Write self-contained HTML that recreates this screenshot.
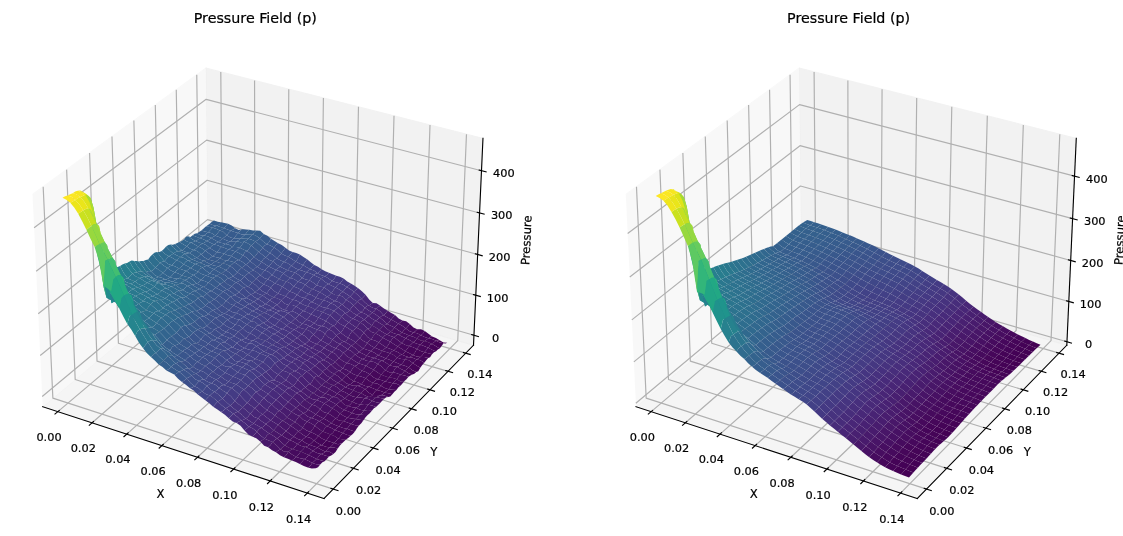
<!DOCTYPE html>
<html><head><meta charset="utf-8"><title>Pressure Field (p)</title>
<style>html,body{margin:0;padding:0;background:#fff}body{width:1123px;height:536px;overflow:hidden;position:relative}svg{display:block;position:absolute;left:0;top:0}</style></head>
<body>
<svg width="1123" height="536" viewBox="0 0 951.24 454.02"> <defs> <style type="text/css">*{stroke-linejoin: round; stroke-linecap: butt}text{font-family:"DejaVu Sans","Liberation Sans",sans-serif;text-anchor:middle;fill:#000;stroke:#000;stroke-width:0.18px;stroke-linejoin:round}.tk{font-size:9.6px}.lb{font-size:9.9px}.tt{font-size:12.1px}</style> </defs> <g id="figure_1"> <g id="patch_1"> <path d="M 0 454.02 L 951.24 454.02 L 951.24 0 L 0 0 z " style="fill: #ffffff"/> </g> <g id="pane3d_1"> <g id="patch_2"> <path d="M 36.16 344.48 L 176.26 227.05 L 174.32 57.68 L 27.51 164.82 " style="fill: #f2f2f2; opacity: 0.5; stroke: #f2f2f2; stroke-linejoin: miter"/> </g> </g> <g id="pane3d_2"> <g id="patch_3"> <path d="M 176.26 227.05 L 401.08 292.39 L 409.10 117.19 L 174.32 57.68 " style="fill: #e6e6e6; opacity: 0.5; stroke: #e6e6e6; stroke-linejoin: miter"/> </g> </g> <g id="pane3d_3"> <g id="patch_4"> <path d="M 36.16 344.48 L 274.47 422.31 L 401.08 292.39 L 176.26 227.05 " style="fill: #ececec; opacity: 0.5; stroke: #ececec; stroke-linejoin: miter"/> </g> </g> <g id="grid3d_1"> <g id="Line3DCollection_1"> <path d="M 49.03 348.68 L 188.45 230.59 L 187.02 60.90 " style="fill: none; stroke: #b0b0b0; stroke-width: 1"/> <path d="M 78.01 358.15 L 215.89 238.56 L 215.63 68.15 " style="fill: none; stroke: #b0b0b0; stroke-width: 1"/> <path d="M 107.39 367.74 L 243.66 246.64 L 244.60 75.50 " style="fill: none; stroke: #b0b0b0; stroke-width: 1"/> <path d="M 137.15 377.46 L 271.77 254.81 L 273.94 82.94 " style="fill: none; stroke: #b0b0b0; stroke-width: 1"/> <path d="M 167.31 387.31 L 300.23 263.08 L 303.65 90.47 " style="fill: none; stroke: #b0b0b0; stroke-width: 1"/> <path d="M 197.88 397.30 L 329.03 271.45 L 333.75 98.10 " style="fill: none; stroke: #b0b0b0; stroke-width: 1"/> <path d="M 228.86 407.42 L 358.20 279.93 L 364.24 105.82 " style="fill: none; stroke: #b0b0b0; stroke-width: 1"/> <path d="M 260.26 417.67 L 387.73 288.51 L 395.13 113.65 " style="fill: none; stroke: #b0b0b0; stroke-width: 1"/> </g> </g> <g id="grid3d_2"> <g id="Line3DCollection_2"> <path d="M 36.57 158.21 L 44.78 337.26 L 282.29 414.29 " style="fill: none; stroke: #b0b0b0; stroke-width: 1"/> <path d="M 56.44 143.70 L 63.69 321.41 L 299.44 396.69 " style="fill: none; stroke: #b0b0b0; stroke-width: 1"/> <path d="M 75.87 129.53 L 82.19 305.90 L 316.19 379.50 " style="fill: none; stroke: #b0b0b0; stroke-width: 1"/> <path d="M 94.85 115.68 L 100.29 290.73 L 332.56 362.70 " style="fill: none; stroke: #b0b0b0; stroke-width: 1"/> <path d="M 113.40 102.13 L 118.00 275.88 L 348.57 346.28 " style="fill: none; stroke: #b0b0b0; stroke-width: 1"/> <path d="M 131.55 88.89 L 135.34 261.35 L 364.21 330.22 " style="fill: none; stroke: #b0b0b0; stroke-width: 1"/> <path d="M 149.30 75.94 L 152.31 247.12 L 379.51 314.52 " style="fill: none; stroke: #b0b0b0; stroke-width: 1"/> <path d="M 166.66 63.27 L 168.93 233.19 L 394.48 299.16 " style="fill: none; stroke: #b0b0b0; stroke-width: 1"/> </g> </g> <g id="grid3d_3"> <g id="Line3DCollection_3"> <path d="M 401.46 284.00 L 176.17 218.92 L 35.75 335.89 " style="fill: none; stroke: #b0b0b0; stroke-width: 1"/> <path d="M 403.01 250.06 L 175.79 186.06 L 34.07 301.13 " style="fill: none; stroke: #b0b0b0; stroke-width: 1"/> <path d="M 404.60 215.53 L 175.41 152.65 L 32.37 265.73 " style="fill: none; stroke: #b0b0b0; stroke-width: 1"/> <path d="M 406.20 180.39 L 175.02 118.69 L 30.63 229.69 " style="fill: none; stroke: #b0b0b0; stroke-width: 1"/> <path d="M 407.84 144.62 L 174.62 84.15 L 28.87 192.98 " style="fill: none; stroke: #b0b0b0; stroke-width: 1"/> </g> </g> <g id="axis3d_1"> <g id="line2d_1"> <path d="M 36.16 344.48 L 274.47 422.31 " style="fill: none; stroke: #000000; stroke-width: 0.95; stroke-linecap: square"/> </g> <g id="xtick_1"> <g id="line2d_2"> <path d="M 50.24 347.66 L 46.59 350.74 " style="fill: none; stroke: #000000; stroke-width: 0.95; stroke-linecap: square"/> </g> <g id="text_1"> <text class="tk" x="41.51" y="373.17">0.00</text> </g> </g> <g id="xtick_2"> <g id="line2d_3"> <path d="M 79.22 357.11 L 75.61 360.24 " style="fill: none; stroke: #000000; stroke-width: 0.95; stroke-linecap: square"/> </g> <g id="text_2"> <text class="tk" x="70.52" y="382.76">0.02</text> </g> </g> <g id="xtick_3"> <g id="line2d_4"> <path d="M 108.57 366.69 L 105.00 369.86 " style="fill: none; stroke: #000000; stroke-width: 0.95; stroke-linecap: square"/> </g> <g id="text_3"> <text class="tk" x="99.91" y="392.48">0.04</text> </g> </g> <g id="xtick_4"> <g id="line2d_5"> <path d="M 138.32 376.39 L 134.79 379.61 " style="fill: none; stroke: #000000; stroke-width: 0.95; stroke-linecap: square"/> </g> <g id="text_4"> <text class="tk" x="129.69" y="402.33">0.06</text> </g> </g> <g id="xtick_5"> <g id="line2d_6"> <path d="M 168.47 386.23 L 164.98 389.49 " style="fill: none; stroke: #000000; stroke-width: 0.95; stroke-linecap: square"/> </g> <g id="text_5"> <text class="tk" x="159.87" y="412.31">0.08</text> </g> </g> <g id="xtick_6"> <g id="line2d_7"> <path d="M 199.02 396.20 L 195.58 399.50 " style="fill: none; stroke: #000000; stroke-width: 0.95; stroke-linecap: square"/> </g> <g id="text_6"> <text class="tk" x="190.46" y="422.43">0.10</text> </g> </g> <g id="xtick_7"> <g id="line2d_8"> <path d="M 229.99 406.30 L 226.59 409.65 " style="fill: none; stroke: #000000; stroke-width: 0.95; stroke-linecap: square"/> </g> <g id="text_7"> <text class="tk" x="221.47" y="432.69">0.12</text> </g> </g> <g id="xtick_8"> <g id="line2d_9"> <path d="M 261.38 416.54 L 258.03 419.94 " style="fill: none; stroke: #000000; stroke-width: 0.95; stroke-linecap: square"/> </g> <g id="text_8"> <text class="tk" x="252.90" y="443.08">0.14</text> </g> </g> <g id="text_9"> <text class="lb" x="135.94" y="421.60">X</text> </g> </g> <g id="axis3d_2"> <g id="line2d_10"> <path d="M 401.08 292.39 L 274.47 422.31 " style="fill: none; stroke: #000000; stroke-width: 0.95; stroke-linecap: square"/> </g> <g id="xtick_9"> <g id="line2d_11"> <path d="M 280.29 413.65 L 286.30 415.59 " style="fill: none; stroke: #000000; stroke-width: 0.95; stroke-linecap: square"/> </g> <g id="text_10"> <text class="tk" x="295.18" y="436.53">0.00</text> </g> </g> <g id="xtick_10"> <g id="line2d_12"> <path d="M 297.45 396.06 L 303.42 397.96 " style="fill: none; stroke: #000000; stroke-width: 0.95; stroke-linecap: square"/> </g> <g id="text_11"> <text class="tk" x="312.19" y="418.76">0.02</text> </g> </g> <g id="xtick_11"> <g id="line2d_13"> <path d="M 314.22 378.88 L 320.14 380.74 " style="fill: none; stroke: #000000; stroke-width: 0.95; stroke-linecap: square"/> </g> <g id="text_12"> <text class="tk" x="328.80" y="401.41">0.04</text> </g> </g> <g id="xtick_12"> <g id="line2d_14"> <path d="M 330.61 362.09 L 336.48 363.91 " style="fill: none; stroke: #000000; stroke-width: 0.95; stroke-linecap: square"/> </g> <g id="text_13"> <text class="tk" x="345.03" y="384.45">0.06</text> </g> </g> <g id="xtick_13"> <g id="line2d_15"> <path d="M 346.63 345.69 L 352.45 347.46 " style="fill: none; stroke: #000000; stroke-width: 0.95; stroke-linecap: square"/> </g> <g id="text_14"> <text class="tk" x="360.90" y="367.88">0.08</text> </g> </g> <g id="xtick_14"> <g id="line2d_16"> <path d="M 362.29 329.64 L 368.06 331.38 " style="fill: none; stroke: #000000; stroke-width: 0.95; stroke-linecap: square"/> </g> <g id="text_15"> <text class="tk" x="376.41" y="351.68">0.10</text> </g> </g> <g id="xtick_15"> <g id="line2d_17"> <path d="M 377.60 313.96 L 383.33 315.66 " style="fill: none; stroke: #000000; stroke-width: 0.95; stroke-linecap: square"/> </g> <g id="text_16"> <text class="tk" x="391.58" y="335.83">0.12</text> </g> </g> <g id="xtick_16"> <g id="line2d_18"> <path d="M 392.58 298.61 L 398.27 300.27 " style="fill: none; stroke: #000000; stroke-width: 0.95; stroke-linecap: square"/> </g> <g id="text_17"> <text class="tk" x="406.42" y="320.33">0.14</text> </g> </g> <g id="text_18"> <text class="lb" x="367.57" y="385.91">Y</text> </g> </g> <g id="axis3d_3"> <g id="line2d_19"> <path d="M 401.08 292.39 L 409.10 117.19 " style="fill: none; stroke: #000000; stroke-width: 0.95; stroke-linecap: square"/> </g> <g id="xtick_17"> <g id="line2d_20"> <path d="M 399.57 283.45 L 405.25 285.09 " style="fill: none; stroke: #000000; stroke-width: 0.95; stroke-linecap: square"/> </g> <g id="text_19"> <text class="tk" x="419.77" y="289.40">0</text> </g> </g> <g id="xtick_18"> <g id="line2d_21"> <path d="M 401.11 249.52 L 406.83 251.13 " style="fill: none; stroke: #000000; stroke-width: 0.95; stroke-linecap: square"/> </g> <g id="text_20"> <text class="tk" x="421.48" y="255.51">100</text> </g> </g> <g id="xtick_19"> <g id="line2d_22"> <path d="M 402.67 215.00 L 408.45 216.58 " style="fill: none; stroke: #000000; stroke-width: 0.95; stroke-linecap: square"/> </g> <g id="text_21"> <text class="tk" x="423.22" y="221.02">200</text> </g> </g> <g id="xtick_20"> <g id="line2d_23"> <path d="M 404.26 179.87 L 410.10 181.42 " style="fill: none; stroke: #000000; stroke-width: 0.95; stroke-linecap: square"/> </g> <g id="text_22"> <text class="tk" x="424.99" y="185.92">300</text> </g> </g> <g id="xtick_21"> <g id="line2d_24"> <path d="M 405.88 144.11 L 411.77 145.64 " style="fill: none; stroke: #000000; stroke-width: 0.95; stroke-linecap: square"/> </g> <g id="text_23"> <text class="tk" x="426.79" y="150.21">400</text> </g> </g> <g id="text_24"> <text class="lb" x="449.34" y="203.62" transform="rotate(-87.37 449.34 203.62)">Pressure</text> </g> </g> <g id="axes_1"> <g id="text_25"> <text class="tt" x="216.26" y="19.44">Pressure Field (p)</text> </g> </g> <g id="pane3d_4"> <g id="patch_5"> <path d="M 538.72 344.48 L 678.82 227.05 L 676.88 57.68 L 530.07 164.82 " style="fill: #f2f2f2; opacity: 0.5; stroke: #f2f2f2; stroke-linejoin: miter"/> </g> </g> <g id="pane3d_5"> <g id="patch_6"> <path d="M 678.82 227.05 L 903.64 292.39 L 911.66 117.19 L 676.88 57.68 " style="fill: #e6e6e6; opacity: 0.5; stroke: #e6e6e6; stroke-linejoin: miter"/> </g> </g> <g id="pane3d_6"> <g id="patch_7"> <path d="M 538.72 344.48 L 777.03 422.31 L 903.64 292.39 L 678.82 227.05 " style="fill: #ececec; opacity: 0.5; stroke: #ececec; stroke-linejoin: miter"/> </g> </g> <g id="grid3d_4"> <g id="Line3DCollection_4"> <path d="M 551.59 348.68 L 691.01 230.59 L 689.58 60.90 " style="fill: none; stroke: #b0b0b0; stroke-width: 1"/> <path d="M 580.57 358.15 L 718.45 238.56 L 718.19 68.15 " style="fill: none; stroke: #b0b0b0; stroke-width: 1"/> <path d="M 609.95 367.74 L 746.22 246.64 L 747.16 75.50 " style="fill: none; stroke: #b0b0b0; stroke-width: 1"/> <path d="M 639.71 377.46 L 774.33 254.81 L 776.50 82.94 " style="fill: none; stroke: #b0b0b0; stroke-width: 1"/> <path d="M 669.87 387.31 L 802.79 263.08 L 806.21 90.47 " style="fill: none; stroke: #b0b0b0; stroke-width: 1"/> <path d="M 700.44 397.30 L 831.59 271.45 L 836.31 98.10 " style="fill: none; stroke: #b0b0b0; stroke-width: 1"/> <path d="M 731.42 407.42 L 860.76 279.93 L 866.80 105.82 " style="fill: none; stroke: #b0b0b0; stroke-width: 1"/> <path d="M 762.82 417.67 L 890.29 288.51 L 897.69 113.65 " style="fill: none; stroke: #b0b0b0; stroke-width: 1"/> </g> </g> <g id="grid3d_5"> <g id="Line3DCollection_5"> <path d="M 539.13 158.21 L 547.34 337.26 L 784.85 414.29 " style="fill: none; stroke: #b0b0b0; stroke-width: 1"/> <path d="M 559.00 143.70 L 566.25 321.41 L 802.00 396.69 " style="fill: none; stroke: #b0b0b0; stroke-width: 1"/> <path d="M 578.43 129.53 L 584.75 305.90 L 818.75 379.50 " style="fill: none; stroke: #b0b0b0; stroke-width: 1"/> <path d="M 597.41 115.68 L 602.85 290.73 L 835.12 362.70 " style="fill: none; stroke: #b0b0b0; stroke-width: 1"/> <path d="M 615.96 102.13 L 620.56 275.88 L 851.13 346.28 " style="fill: none; stroke: #b0b0b0; stroke-width: 1"/> <path d="M 634.11 88.89 L 637.90 261.35 L 866.77 330.22 " style="fill: none; stroke: #b0b0b0; stroke-width: 1"/> <path d="M 651.86 75.94 L 654.87 247.12 L 882.07 314.52 " style="fill: none; stroke: #b0b0b0; stroke-width: 1"/> <path d="M 669.22 63.27 L 671.49 233.19 L 897.04 299.16 " style="fill: none; stroke: #b0b0b0; stroke-width: 1"/> </g> </g> <g id="grid3d_6"> <g id="Line3DCollection_6"> <path d="M 903.77 289.52 L 678.79 224.26 L 538.58 341.54 " style="fill: none; stroke: #b0b0b0; stroke-width: 1"/> <path d="M 905.33 255.36 L 678.41 191.19 L 536.90 306.56 " style="fill: none; stroke: #b0b0b0; stroke-width: 1"/> <path d="M 906.92 220.61 L 678.02 157.57 L 535.18 270.94 " style="fill: none; stroke: #b0b0b0; stroke-width: 1"/> <path d="M 908.54 185.24 L 677.63 123.38 L 533.43 234.67 " style="fill: none; stroke: #b0b0b0; stroke-width: 1"/> <path d="M 910.19 149.23 L 677.23 88.60 L 531.65 197.72 " style="fill: none; stroke: #b0b0b0; stroke-width: 1"/> </g> </g> <g id="axis3d_4"> <g id="line2d_25"> <path d="M 538.72 344.48 L 777.03 422.31 " style="fill: none; stroke: #000000; stroke-width: 0.95; stroke-linecap: square"/> </g> <g id="xtick_22"> <g id="line2d_26"> <path d="M 552.80 347.66 L 549.15 350.74 " style="fill: none; stroke: #000000; stroke-width: 0.95; stroke-linecap: square"/> </g> <g id="text_26"> <text class="tk" x="544.07" y="373.17">0.00</text> </g> </g> <g id="xtick_23"> <g id="line2d_27"> <path d="M 581.78 357.11 L 578.17 360.24 " style="fill: none; stroke: #000000; stroke-width: 0.95; stroke-linecap: square"/> </g> <g id="text_27"> <text class="tk" x="573.08" y="382.76">0.02</text> </g> </g> <g id="xtick_24"> <g id="line2d_28"> <path d="M 611.13 366.69 L 607.56 369.86 " style="fill: none; stroke: #000000; stroke-width: 0.95; stroke-linecap: square"/> </g> <g id="text_28"> <text class="tk" x="602.47" y="392.48">0.04</text> </g> </g> <g id="xtick_25"> <g id="line2d_29"> <path d="M 640.88 376.39 L 637.35 379.61 " style="fill: none; stroke: #000000; stroke-width: 0.95; stroke-linecap: square"/> </g> <g id="text_29"> <text class="tk" x="632.25" y="402.33">0.06</text> </g> </g> <g id="xtick_26"> <g id="line2d_30"> <path d="M 671.03 386.23 L 667.54 389.49 " style="fill: none; stroke: #000000; stroke-width: 0.95; stroke-linecap: square"/> </g> <g id="text_30"> <text class="tk" x="662.43" y="412.31">0.08</text> </g> </g> <g id="xtick_27"> <g id="line2d_31"> <path d="M 701.58 396.20 L 698.14 399.50 " style="fill: none; stroke: #000000; stroke-width: 0.95; stroke-linecap: square"/> </g> <g id="text_31"> <text class="tk" x="693.02" y="422.43">0.10</text> </g> </g> <g id="xtick_28"> <g id="line2d_32"> <path d="M 732.55 406.30 L 729.15 409.65 " style="fill: none; stroke: #000000; stroke-width: 0.95; stroke-linecap: square"/> </g> <g id="text_32"> <text class="tk" x="724.03" y="432.69">0.12</text> </g> </g> <g id="xtick_29"> <g id="line2d_33"> <path d="M 763.94 416.54 L 760.59 419.94 " style="fill: none; stroke: #000000; stroke-width: 0.95; stroke-linecap: square"/> </g> <g id="text_33"> <text class="tk" x="755.46" y="443.08">0.14</text> </g> </g> <g id="text_34"> <text class="lb" x="638.50" y="421.60">X</text> </g> </g> <g id="axis3d_5"> <g id="line2d_34"> <path d="M 903.64 292.39 L 777.03 422.31 " style="fill: none; stroke: #000000; stroke-width: 0.95; stroke-linecap: square"/> </g> <g id="xtick_30"> <g id="line2d_35"> <path d="M 782.85 413.65 L 788.86 415.59 " style="fill: none; stroke: #000000; stroke-width: 0.95; stroke-linecap: square"/> </g> <g id="text_35"> <text class="tk" x="797.74" y="436.53">0.00</text> </g> </g> <g id="xtick_31"> <g id="line2d_36"> <path d="M 800.01 396.06 L 805.98 397.96 " style="fill: none; stroke: #000000; stroke-width: 0.95; stroke-linecap: square"/> </g> <g id="text_36"> <text class="tk" x="814.75" y="418.76">0.02</text> </g> </g> <g id="xtick_32"> <g id="line2d_37"> <path d="M 816.78 378.88 L 822.70 380.74 " style="fill: none; stroke: #000000; stroke-width: 0.95; stroke-linecap: square"/> </g> <g id="text_37"> <text class="tk" x="831.36" y="401.41">0.04</text> </g> </g> <g id="xtick_33"> <g id="line2d_38"> <path d="M 833.17 362.09 L 839.04 363.91 " style="fill: none; stroke: #000000; stroke-width: 0.95; stroke-linecap: square"/> </g> <g id="text_38"> <text class="tk" x="847.59" y="384.45">0.06</text> </g> </g> <g id="xtick_34"> <g id="line2d_39"> <path d="M 849.19 345.69 L 855.01 347.46 " style="fill: none; stroke: #000000; stroke-width: 0.95; stroke-linecap: square"/> </g> <g id="text_39"> <text class="tk" x="863.46" y="367.88">0.08</text> </g> </g> <g id="xtick_35"> <g id="line2d_40"> <path d="M 864.85 329.64 L 870.62 331.38 " style="fill: none; stroke: #000000; stroke-width: 0.95; stroke-linecap: square"/> </g> <g id="text_40"> <text class="tk" x="878.97" y="351.68">0.10</text> </g> </g> <g id="xtick_36"> <g id="line2d_41"> <path d="M 880.16 313.96 L 885.89 315.66 " style="fill: none; stroke: #000000; stroke-width: 0.95; stroke-linecap: square"/> </g> <g id="text_41"> <text class="tk" x="894.14" y="335.83">0.12</text> </g> </g> <g id="xtick_37"> <g id="line2d_42"> <path d="M 895.14 298.61 L 900.83 300.27 " style="fill: none; stroke: #000000; stroke-width: 0.95; stroke-linecap: square"/> </g> <g id="text_42"> <text class="tk" x="908.98" y="320.33">0.14</text> </g> </g> <g id="text_43"> <text class="lb" x="870.13" y="385.91">Y</text> </g> </g> <g id="axis3d_6"> <g id="line2d_43"> <path d="M 903.64 292.39 L 911.66 117.19 " style="fill: none; stroke: #000000; stroke-width: 0.95; stroke-linecap: square"/> </g> <g id="xtick_38"> <g id="line2d_44"> <path d="M 901.88 288.97 L 907.55 290.61 " style="fill: none; stroke: #000000; stroke-width: 0.95; stroke-linecap: square"/> </g> <g id="text_44"> <text class="tk" x="922.05" y="294.91">0</text> </g> </g> <g id="xtick_39"> <g id="line2d_45"> <path d="M 903.43 254.82 L 909.15 256.44 " style="fill: none; stroke: #000000; stroke-width: 0.95; stroke-linecap: square"/> </g> <g id="text_45"> <text class="tk" x="923.77" y="260.80">100</text> </g> </g> <g id="xtick_40"> <g id="line2d_46"> <path d="M 905.00 220.08 L 910.77 221.67 " style="fill: none; stroke: #000000; stroke-width: 0.95; stroke-linecap: square"/> </g> <g id="text_46"> <text class="tk" x="925.53" y="226.09">200</text> </g> </g> <g id="xtick_41"> <g id="line2d_47"> <path d="M 906.60 184.72 L 912.43 186.28 " style="fill: none; stroke: #000000; stroke-width: 0.95; stroke-linecap: square"/> </g> <g id="text_47"> <text class="tk" x="927.31" y="190.77">300</text> </g> </g> <g id="xtick_42"> <g id="line2d_48"> <path d="M 908.23 148.72 L 914.11 150.25 " style="fill: none; stroke: #000000; stroke-width: 0.95; stroke-linecap: square"/> </g> <g id="text_48"> <text class="tk" x="929.12" y="154.81">400</text> </g> </g> <g id="text_49"> <text class="lb" x="951.90" y="203.62" transform="rotate(-87.37 951.90 203.62)">Pressure</text> </g> </g> <g id="axes_2"> <g id="text_50"> <text class="tt" x="718.82" y="19.44">Pressure Field (p)</text> </g> </g> </g> </svg> 
<svg x="0" y="0" width="1123" height="536" viewBox="0 0 1123 536">
<g>
<path d="M209.73 223.78L213.27 225.31L216.80 225.69L218.92 224.72L221.02 222.27L217.49 221.64L213.96 220.47L211.85 221.74z" fill="#355e8d"/>
<path d="M216.80 225.69L220.35 226.88L223.90 227.92L226.00 226.11L228.10 223.78L224.56 222.97L221.02 222.27L218.92 224.72z" fill="#355e8d"/>
<path d="M205.48 226.73L209.01 226.86L212.55 227.67L214.68 226.49L216.80 225.69L213.27 225.31L209.73 223.78L207.61 225.34z" fill="#355e8d"/>
<path d="M223.90 227.92L227.45 229.54L231.01 230.63L233.11 229.55L235.21 228.22L231.65 225.41L228.10 223.78L226.00 226.11z" fill="#365d8d"/>
<path d="M231.01 230.63L234.57 232.07L238.14 232.91L240.23 230.76L242.32 229.27L238.77 229.90L235.21 228.22L233.11 229.55z" fill="#365c8d"/>
<path d="M212.55 227.67L216.10 228.67L219.66 230.49L221.79 229.70L223.90 227.92L220.35 226.88L216.80 225.69L214.68 226.49z" fill="#355f8d"/>
<path d="M201.22 230.44L204.76 231.42L208.31 232.17L210.43 229.95L212.55 227.67L209.01 226.86L205.48 226.73L203.35 228.68z" fill="#355f8d"/>
<path d="M219.66 230.49L223.22 231.83L226.80 235.18L228.91 232.55L231.01 230.63L227.45 229.54L223.90 227.92L221.79 229.70z" fill="#365d8d"/>
<path d="M238.14 232.91L241.71 234.38L245.28 234.38L247.37 231.53L249.45 229.67L245.88 229.43L242.32 229.27L240.23 230.76z" fill="#365d8d"/>
<path d="M226.80 235.18L230.38 237.45L233.94 238.16L236.04 235.58L238.14 232.91L234.57 232.07L231.01 230.63L228.91 232.55z" fill="#375b8d"/>
<path d="M208.31 232.17L211.86 233.22L215.44 235.73L217.55 233.21L219.66 230.49L216.10 228.67L212.55 227.67L210.43 229.95z" fill="#355f8d"/>
<path d="M245.28 234.38L248.86 234.27L252.44 234.20L254.52 232.72L256.60 230.59L253.02 230.48L249.45 229.67L247.37 231.53z" fill="#355f8d"/>
<path d="M196.92 233.37L200.49 235.36L204.03 235.51L206.17 233.67L208.31 232.17L204.76 231.42L201.22 230.44L199.08 232.05z" fill="#355e8d"/>
<path d="M215.44 235.73L219.00 236.97L222.57 238.54L224.69 236.99L226.80 235.18L223.22 231.83L219.66 230.49L217.55 233.21z" fill="#365d8d"/>
<path d="M233.94 238.16L237.52 238.59L241.09 238.18L243.19 236.20L245.28 234.38L241.71 234.38L238.14 232.91L236.04 235.58z" fill="#365c8d"/>
<path d="M222.57 238.54L226.15 240.19L229.72 241.39L231.84 240.36L233.94 238.16L230.38 237.45L226.80 235.18L224.69 236.99z" fill="#375a8c"/>
<path d="M252.44 234.20L256.03 235.70L259.63 238.37L261.71 236.11L263.78 233.95L260.19 230.80L256.60 230.59L254.52 232.72z" fill="#355f8d"/>
<path d="M204.03 235.51L207.59 236.37L211.16 237.99L213.30 236.81L215.44 235.73L211.86 233.22L208.31 232.17L206.17 233.67z" fill="#355e8d"/>
<path d="M259.63 238.37L263.23 241.60L266.83 244.24L268.90 242.33L270.97 238.82L267.37 235.72L263.78 233.95L261.71 236.11z" fill="#375b8d"/>
<path d="M241.09 238.18L244.67 238.64L248.26 238.65L250.35 236.59L252.44 234.20L248.86 234.27L245.28 234.38L243.19 236.20z" fill="#355e8d"/>
<path d="M211.16 237.99L214.74 239.97L218.32 241.93L220.45 240.33L222.57 238.54L219.00 236.97L215.44 235.73L213.30 236.81z" fill="#365c8d"/>
<path d="M192.59 235.23L196.16 236.79L199.72 238.08L201.89 237.33L204.03 235.51L200.49 235.36L196.92 233.37L194.76 233.84z" fill="#34608d"/>
<path d="M229.72 241.39L233.29 241.15L236.88 241.36L238.99 239.77L241.09 238.18L237.52 238.59L233.94 238.16L231.84 240.36z" fill="#375b8d"/>
<path d="M266.83 244.24L270.43 245.42L274.04 247.54L276.11 244.98L278.17 243.19L274.57 241.03L270.97 238.82L268.90 242.33z" fill="#38588c"/>
<path d="M248.26 238.65L251.86 239.70L255.46 241.52L257.55 240.13L259.63 238.37L256.03 235.70L252.44 234.20L250.35 236.59z" fill="#355e8d"/>
<path d="M218.32 241.93L221.89 242.96L225.47 243.89L227.60 242.64L229.72 241.39L226.15 240.19L222.57 238.54L220.45 240.33z" fill="#375b8d"/>
<path d="M274.04 247.54L277.65 249.99L281.26 253.56L283.32 250.70L285.38 247.86L281.77 245.11L278.17 243.19L276.11 244.98z" fill="#3a538b"/>
<path d="M199.72 238.08L203.29 239.13L206.87 240.88L209.02 239.84L211.16 237.99L207.59 236.37L204.03 235.51L201.89 237.33z" fill="#355f8d"/>
<path d="M255.46 241.52L259.06 244.59L262.67 247.75L264.75 245.50L266.83 244.24L263.23 241.60L259.63 238.37L257.55 240.13z" fill="#375b8d"/>
<path d="M236.88 241.36L240.47 242.19L244.06 241.75L246.16 240.59L248.26 238.65L244.67 238.64L241.09 238.18L238.99 239.77z" fill="#355e8d"/>
<path d="M281.26 253.56L284.87 255.39L288.50 256.74L290.55 254.45L292.60 252.05L288.99 250.40L285.38 247.86L283.32 250.70z" fill="#3c508b"/>
<path d="M262.67 247.75L266.28 250.82L269.89 253.10L271.97 250.16L274.04 247.54L270.43 245.42L266.83 244.24L264.75 245.50z" fill="#39558c"/>
<path d="M206.87 240.88L210.45 242.68L214.04 244.55L216.18 243.07L218.32 241.93L214.74 239.97L211.16 237.99L209.02 239.84z" fill="#365d8d"/>
<path d="M225.47 243.89L229.06 244.82L232.66 247.05L234.77 243.79L236.88 241.36L233.29 241.15L229.72 241.39L227.60 242.64z" fill="#375b8d"/>
<path d="M188.23 236.18L191.82 239.00L195.40 241.10L197.57 239.91L199.72 238.08L196.16 236.79L192.59 235.23L190.43 236.95z" fill="#34618d"/>
<path d="M288.50 256.74L292.12 259.33L295.74 261.62L297.80 258.62L299.85 254.62L296.23 252.93L292.60 252.05L290.55 254.45z" fill="#3d4d8a"/>
<path d="M269.89 253.10L273.51 255.24L277.12 258.41L279.19 256.08L281.26 253.56L277.65 249.99L274.04 247.54L271.97 250.16z" fill="#3b518b"/>
<path d="M244.06 241.75L247.66 243.35L251.27 245.40L253.37 243.47L255.46 241.52L251.86 239.70L248.26 238.65L246.16 240.59z" fill="#355e8d"/>
<path d="M214.04 244.55L217.62 245.37L221.21 246.90L223.34 245.36L225.47 243.89L221.89 242.96L218.32 241.93L216.18 243.07z" fill="#365c8d"/>
<path d="M195.40 241.10L198.97 242.39L202.55 243.51L204.72 242.50L206.87 240.88L203.29 239.13L199.72 238.08L197.57 239.91z" fill="#34608d"/>
<path d="M295.74 261.62L299.37 263.46L303.01 264.91L305.06 261.97L307.10 259.35L303.48 256.94L299.85 254.62L297.80 258.62z" fill="#3e4a89"/>
<path d="M277.12 258.41L280.75 260.47L284.37 262.00L286.44 259.74L288.50 256.74L284.87 255.39L281.26 253.56L279.19 256.08z" fill="#3d4d8a"/>
<path d="M251.27 245.40L254.88 248.58L258.50 251.82L260.59 250.48L262.67 247.75L259.06 244.59L255.46 241.52L253.37 243.47z" fill="#375a8c"/>
<path d="M232.66 247.05L236.25 247.00L239.85 247.63L241.95 244.69L244.06 241.75L240.47 242.19L236.88 241.36L234.77 243.79z" fill="#365d8d"/>
<path d="M258.50 251.82L262.11 254.56L265.73 257.48L267.81 255.43L269.89 253.10L266.28 250.82L262.67 247.75L260.59 250.48z" fill="#3a548c"/>
<path d="M303.01 264.91L306.64 267.24L310.29 269.13L312.33 266.52L314.35 264.96L310.72 262.29L307.10 259.35L305.06 261.97z" fill="#3f4788"/>
<path d="M221.21 246.90L224.80 248.07L228.40 249.62L230.53 248.19L232.66 247.05L229.06 244.82L225.47 243.89L223.34 245.36z" fill="#365c8d"/>
<path d="M284.37 262.00L288.01 263.40L291.64 265.77L293.69 263.65L295.74 261.62L292.12 259.33L288.50 256.74L286.44 259.74z" fill="#3e4a89"/>
<path d="M202.55 243.51L206.14 244.96L209.74 247.90L211.89 245.81L214.04 244.55L210.45 242.68L206.87 240.88L204.72 242.50z" fill="#355e8d"/>
<path d="M265.73 257.48L269.35 259.91L272.98 261.19L275.06 259.18L277.12 258.41L273.51 255.24L269.89 253.10L267.81 255.43z" fill="#3c508b"/>
<path d="M183.87 239.43L187.46 241.69L191.03 242.54L193.22 241.88L195.40 241.10L191.82 239.00L188.23 236.18L186.04 236.76z" fill="#32648e"/>
<path d="M239.85 247.63L243.45 249.47L247.07 251.07L249.17 248.62L251.27 245.40L247.66 243.35L244.06 241.75L241.95 244.69z" fill="#365d8d"/>
<path d="M310.29 269.13L313.94 270.59L317.58 273.14L319.60 271.67L321.63 269.17L317.99 266.82L314.35 264.96L312.33 266.52z" fill="#414287"/>
<path d="M291.64 265.77L295.27 268.34L298.91 269.77L300.96 267.90L303.01 264.91L299.37 263.46L295.74 261.62L293.69 263.65z" fill="#3f4788"/>
<path d="M209.74 247.90L213.35 250.31L216.95 252.26L219.08 249.57L221.21 246.90L217.62 245.37L214.04 244.55L211.89 245.81z" fill="#365c8d"/>
<path d="M272.98 261.19L276.60 264.38L280.23 266.85L282.31 263.75L284.37 262.00L280.75 260.47L277.12 258.41L275.06 259.18z" fill="#3d4d8a"/>
<path d="M247.07 251.07L250.68 253.79L254.31 257.26L256.40 254.54L258.50 251.82L254.88 248.58L251.27 245.40L249.17 248.62z" fill="#38598c"/>
<path d="M228.40 249.62L232.00 250.18L235.61 251.47L237.73 249.82L239.85 247.63L236.25 247.00L232.66 247.05L230.53 248.19z" fill="#375b8d"/>
<path d="M191.03 242.54L194.63 244.61L198.22 246.51L200.38 244.77L202.55 243.51L198.97 242.39L195.40 241.10L193.22 241.88z" fill="#34618d"/>
<path d="M317.58 273.14L321.22 275.28L324.89 276.27L326.90 275.07L328.92 272.80L325.27 271.21L321.63 269.17L319.60 271.67z" fill="#424086"/>
<path d="M254.31 257.26L257.93 260.04L261.55 261.80L263.64 258.76L265.73 257.48L262.11 254.56L258.50 251.82L256.40 254.54z" fill="#3a538b"/>
<path d="M298.91 269.77L302.56 270.84L306.21 272.14L308.25 270.46L310.29 269.13L306.64 267.24L303.01 264.91L300.96 267.90z" fill="#404588"/>
<path d="M280.23 266.85L283.87 268.55L287.51 270.26L289.58 267.67L291.64 265.77L288.01 263.40L284.37 262.00L282.31 263.75z" fill="#3e4989"/>
<path d="M216.95 252.26L220.54 252.86L224.14 253.72L226.27 251.28L228.40 249.62L224.80 248.07L221.21 246.90L219.08 249.57z" fill="#375b8d"/>
<path d="M198.22 246.51L201.81 248.24L205.42 250.83L207.58 249.07L209.74 247.90L206.14 244.96L202.55 243.51L200.38 244.77z" fill="#355f8d"/>
<path d="M235.61 251.47L239.22 253.37L242.84 255.32L244.95 252.35L247.07 251.07L243.45 249.47L239.85 247.63L237.73 249.82z" fill="#375b8d"/>
<path d="M261.55 261.80L265.18 264.29L268.81 266.41L270.90 263.90L272.98 261.19L269.35 259.91L265.73 257.48L263.64 258.76z" fill="#3c4f8a"/>
<path d="M324.89 276.27L328.55 278.44L332.20 280.94L334.22 278.43L336.25 275.68L332.58 274.28L328.92 272.80L326.90 275.07z" fill="#433e85"/>
<path d="M179.49 242.01L183.08 244.33L186.68 246.26L188.86 244.32L191.03 242.54L187.46 241.69L183.87 239.43L181.69 240.99z" fill="#32658e"/>
<path d="M306.21 272.14L309.88 273.15L313.53 274.95L315.56 273.74L317.58 273.14L313.94 270.59L310.29 269.13L308.25 270.46z" fill="#414487"/>
<path d="M287.51 270.26L291.16 271.55L294.81 272.57L296.86 271.33L298.91 269.77L295.27 268.34L291.64 265.77L289.58 267.67z" fill="#3f4788"/>
<path d="M205.42 250.83L209.04 253.53L212.65 256.25L214.81 254.66L216.95 252.26L213.35 250.31L209.74 247.90L207.58 249.07z" fill="#375b8d"/>
<path d="M242.84 255.32L246.47 257.41L250.10 261.31L252.20 258.41L254.31 257.26L250.68 253.79L247.07 251.07L244.95 252.35z" fill="#39568c"/>
<path d="M268.81 266.41L272.45 268.14L276.08 269.92L278.16 268.09L280.23 266.85L276.60 264.38L272.98 261.19L270.90 263.90z" fill="#3e4c8a"/>
<path d="M224.14 253.72L227.75 255.17L231.36 256.09L233.48 253.47L235.61 251.47L232.00 250.18L228.40 249.62L226.27 251.28z" fill="#375b8d"/>
<path d="M332.20 280.94L335.88 282.17L339.56 283.15L341.57 281.38L343.59 278.53L339.92 276.63L336.25 275.68L334.22 278.43z" fill="#443b84"/>
<path d="M250.10 261.31L253.72 263.94L257.36 266.69L259.46 265.02L261.55 261.80L257.93 260.04L254.31 257.26L252.20 258.41z" fill="#3b518b"/>
<path d="M186.68 246.26L190.28 248.76L193.87 250.11L196.05 248.38L198.22 246.51L194.63 244.61L191.03 242.54L188.86 244.32z" fill="#33628d"/>
<path d="M313.53 274.95L317.19 276.75L320.86 278.57L322.88 277.27L324.89 276.27L321.22 275.28L317.58 273.14L315.56 273.74z" fill="#424186"/>
<path d="M294.81 272.57L298.46 274.74L302.10 278.06L304.16 275.35L306.21 272.14L302.56 270.84L298.91 269.77L296.86 271.33z" fill="#404588"/>
<path d="M212.65 256.25L216.25 257.37L219.86 257.95L222.00 256.33L224.14 253.72L220.54 252.86L216.95 252.26L214.81 254.66z" fill="#375a8c"/>
<path d="M276.08 269.92L279.73 271.16L283.37 273.18L285.44 271.77L287.51 270.26L283.87 268.55L280.23 266.85L278.16 268.09z" fill="#3f4889"/>
<path d="M257.36 266.69L260.99 268.95L264.63 270.31L266.72 268.26L268.81 266.41L265.18 264.29L261.55 261.80L259.46 265.02z" fill="#3d4d8a"/>
<path d="M231.36 256.09L234.98 258.12L238.60 259.94L240.73 258.20L242.84 255.32L239.22 253.37L235.61 251.47L233.48 253.47z" fill="#375a8c"/>
<path d="M339.56 283.15L343.24 284.87L346.91 286.99L348.91 285.46L350.90 283.59L347.24 281.38L343.59 278.53L341.57 281.38z" fill="#443983"/>
<path d="M193.87 250.11L197.47 251.21L201.09 254.35L203.27 253.12L205.42 250.83L201.81 248.24L198.22 246.51L196.05 248.38z" fill="#34608d"/>
<path d="M320.86 278.57L324.51 281.53L328.17 283.88L330.18 282.90L332.20 280.94L328.55 278.44L324.89 276.27L322.88 277.27z" fill="#433e85"/>
<path d="M302.10 278.06L305.76 279.39L309.43 280.32L311.48 277.49L313.53 274.95L309.88 273.15L306.21 272.14L304.16 275.35z" fill="#414287"/>
<path d="M175.06 243.90L178.70 247.86L182.31 250.62L184.49 248.14L186.68 246.26L183.08 244.33L179.49 242.01L177.28 243.01z" fill="#32658e"/>
<path d="M283.37 273.18L287.02 276.13L290.67 277.95L292.74 275.24L294.81 272.57L291.16 271.55L287.51 270.26L285.44 271.77z" fill="#404688"/>
<path d="M238.60 259.94L242.23 261.68L245.86 264.46L247.98 263.24L250.10 261.31L246.47 257.41L242.84 255.32L240.73 258.20z" fill="#39558c"/>
<path d="M201.09 254.35L204.71 257.46L208.33 259.62L210.49 257.82L212.65 256.25L209.04 253.53L205.42 250.83L203.27 253.12z" fill="#365c8d"/>
<path d="M264.63 270.31L268.27 271.80L271.91 274.89L274.00 272.61L276.08 269.92L272.45 268.14L268.81 266.41L266.72 268.26z" fill="#3e4a89"/>
<path d="M219.86 257.95L223.47 259.93L227.09 260.55L229.23 258.96L231.36 256.09L227.75 255.17L224.14 253.72L222.00 256.33z" fill="#375a8c"/>
<path d="M346.91 286.99L350.59 289.30L354.26 291.89L356.26 289.70L358.24 288.13L354.57 285.82L350.90 283.59L348.91 285.46z" fill="#453581"/>
<path d="M328.17 283.88L331.85 285.76L335.52 287.61L337.55 285.09L339.56 283.15L335.88 282.17L332.20 280.94L330.18 282.90z" fill="#443a83"/>
<path d="M245.86 264.46L249.50 267.25L253.14 270.20L255.25 267.89L257.36 266.69L253.72 263.94L250.10 261.31L247.98 263.24z" fill="#3b518b"/>
<path d="M354.26 291.89L357.92 294.95L361.57 298.89L363.56 296.93L365.55 294.68L361.90 291.27L358.24 288.13L356.26 289.70z" fill="#472f7d"/>
<path d="M182.31 250.62L185.90 251.90L189.50 252.90L191.69 251.60L193.87 250.11L190.28 248.76L186.68 246.26L184.49 248.14z" fill="#33628d"/>
<path d="M290.67 277.95L294.33 279.15L297.98 281.85L300.05 279.74L302.10 278.06L298.46 274.74L294.81 272.57L292.74 275.24z" fill="#414487"/>
<path d="M309.43 280.32L313.09 282.48L316.75 285.15L318.81 281.41L320.86 278.57L317.19 276.75L313.53 274.95L311.48 277.49z" fill="#424186"/>
<path d="M361.57 298.89L365.22 302.75L368.89 305.59L370.86 304.34L372.82 303.01L369.16 299.62L365.55 294.68L363.56 296.93z" fill="#482677"/>
<path d="M271.91 274.89L275.56 276.98L279.21 279.05L281.29 276.09L283.37 273.18L279.73 271.16L276.08 269.92L274.00 272.61z" fill="#3f4889"/>
<path d="M208.33 259.62L211.93 260.46L215.54 261.28L217.71 260.30L219.86 257.95L216.25 257.37L212.65 256.25L210.49 257.82z" fill="#375a8c"/>
<path d="M253.14 270.20L256.78 272.28L260.42 275.26L262.53 272.99L264.63 270.31L260.99 268.95L257.36 266.69L255.25 267.89z" fill="#3d4d8a"/>
<path d="M227.09 260.55L230.70 261.19L234.33 262.34L236.47 260.82L238.60 259.94L234.98 258.12L231.36 256.09L229.23 258.96z" fill="#38598c"/>
<path d="M335.52 287.61L339.21 289.47L342.88 291.69L344.90 289.32L346.91 286.99L343.24 284.87L339.56 283.15L337.55 285.09z" fill="#443983"/>
<path d="M368.89 305.59L372.59 307.77L376.31 308.65L378.28 306.89L380.23 305.63L376.55 303.27L372.82 303.01L370.86 304.34z" fill="#482173"/>
<path d="M189.50 252.90L193.11 255.17L196.73 257.71L198.91 255.99L201.09 254.35L197.47 251.21L193.87 250.11L191.69 251.60z" fill="#34608d"/>
<path d="M316.75 285.15L320.43 286.44L324.12 287.43L326.15 285.34L328.17 283.88L324.51 281.53L320.86 278.57L318.81 281.41z" fill="#433e85"/>
<path d="M297.98 281.85L301.66 282.72L305.32 284.72L307.38 282.72L309.43 280.32L305.76 279.39L302.10 278.06L300.05 279.74z" fill="#424186"/>
<path d="M279.21 279.05L282.86 280.62L286.52 281.42L288.60 279.55L290.67 277.95L287.02 276.13L283.37 273.18L281.29 276.09z" fill="#404588"/>
<path d="M260.42 275.26L264.07 278.12L267.72 279.23L269.82 276.86L271.91 274.89L268.27 271.80L264.63 270.31L262.53 272.99z" fill="#3e4989"/>
<path d="M342.88 291.69L346.56 294.04L350.24 296.56L352.25 294.29L354.26 291.89L350.59 289.30L346.91 286.99L344.90 289.32z" fill="#463480"/>
<path d="M234.33 262.34L237.97 264.52L241.61 267.67L243.74 266.51L245.86 264.46L242.23 261.68L238.60 259.94L236.47 260.82z" fill="#39568c"/>
<path d="M215.54 261.28L219.17 262.77L222.78 263.26L224.94 261.70L227.09 260.55L223.47 259.93L219.86 257.95L217.71 260.30z" fill="#375a8c"/>
<path d="M170.59 244.52L174.23 248.31L177.86 251.34L180.09 250.84L182.31 250.62L178.70 247.86L175.06 243.90L172.84 244.85z" fill="#31678e"/>
<path d="M376.31 308.65L380.00 311.13L383.66 315.13L385.61 313.55L387.60 310.69L383.91 308.38L380.23 305.63L378.28 306.89z" fill="#481d6f"/>
<path d="M196.73 257.71L200.35 259.67L203.96 260.75L206.15 260.04L208.33 259.62L204.71 257.46L201.09 254.35L198.91 255.99z" fill="#365d8d"/>
<path d="M324.12 287.43L327.79 289.92L331.46 292.90L333.50 289.97L335.52 287.61L331.85 285.76L328.17 283.88L326.15 285.34z" fill="#443a83"/>
<path d="M305.32 284.72L308.98 287.53L312.66 289.08L314.70 287.54L316.75 285.15L313.09 282.48L309.43 280.32L307.38 282.72z" fill="#433e85"/>
<path d="M350.24 296.56L353.92 299.58L357.61 301.81L359.60 299.72L361.57 298.89L357.92 294.95L354.26 291.89L352.25 294.29z" fill="#472f7d"/>
<path d="M241.61 267.67L245.25 270.12L248.90 272.80L251.02 271.53L253.14 270.20L249.50 267.25L245.86 264.46L243.74 266.51z" fill="#3b518b"/>
<path d="M286.52 281.42L290.19 283.20L293.84 286.41L295.92 283.81L297.98 281.85L294.33 279.15L290.67 277.95L288.60 279.55z" fill="#414287"/>
<path d="M267.72 279.23L271.37 281.01L275.03 283.39L277.12 281.36L279.21 279.05L275.56 276.98L271.91 274.89L269.82 276.86z" fill="#404688"/>
<path d="M383.66 315.13L387.36 317.44L391.07 319.57L393.03 317.35L394.99 315.12L391.29 312.91L387.60 310.69L385.61 313.55z" fill="#481769"/>
<path d="M177.86 251.34L181.45 252.09L185.06 253.63L187.29 253.56L189.50 252.90L185.90 251.90L182.31 250.62L180.09 250.84z" fill="#32648e"/>
<path d="M357.61 301.81L361.29 304.66L364.96 307.83L366.95 305.89L368.89 305.59L365.22 302.75L361.57 298.89L359.60 299.72z" fill="#482878"/>
<path d="M203.96 260.75L207.58 262.67L211.21 264.66L213.38 262.87L215.54 261.28L211.93 260.46L208.33 259.62L206.15 260.04z" fill="#375b8d"/>
<path d="M331.46 292.90L335.14 295.01L338.85 295.37L340.88 293.20L342.88 291.69L339.21 289.47L335.52 287.61L333.50 289.97z" fill="#453781"/>
<path d="M248.90 272.80L252.55 275.84L256.20 278.68L258.31 276.82L260.42 275.26L256.78 272.28L253.14 270.20L251.02 271.53z" fill="#3d4d8a"/>
<path d="M222.78 263.26L226.41 264.37L230.04 265.91L232.19 264.33L234.33 262.34L230.70 261.19L227.09 260.55L224.94 261.70z" fill="#375a8c"/>
<path d="M312.66 289.08L316.34 290.72L320.03 292.25L322.07 290.13L324.12 287.43L320.43 286.44L316.75 285.15L314.70 287.54z" fill="#443b84"/>
<path d="M293.84 286.41L297.52 288.01L301.19 289.66L303.26 287.18L305.32 284.72L301.66 282.72L297.98 281.85L295.92 283.81z" fill="#424086"/>
<path d="M391.07 319.57L394.78 321.59L398.50 323.64L400.43 322.24L402.38 320.38L398.66 318.41L394.99 315.12L393.03 317.35z" fill="#471365"/>
<path d="M364.96 307.83L368.65 310.59L372.35 312.58L374.32 311.19L376.31 308.65L372.59 307.77L368.89 305.59L366.95 305.89z" fill="#482374"/>
<path d="M275.03 283.39L278.69 284.76L282.35 286.63L284.44 283.89L286.52 281.42L282.86 280.62L279.21 279.05L277.12 281.36z" fill="#414487"/>
<path d="M185.06 253.63L188.71 257.27L192.33 259.56L194.53 258.53L196.73 257.71L193.11 255.17L189.50 252.90L187.29 253.56z" fill="#33628d"/>
<path d="M256.20 278.68L259.85 281.86L263.51 284.32L265.61 281.84L267.72 279.23L264.07 278.12L260.42 275.26L258.31 276.82z" fill="#3f4788"/>
<path d="M338.85 295.37L342.56 296.59L346.23 299.98L348.25 297.97L350.24 296.56L346.56 294.04L342.88 291.69L340.88 293.20z" fill="#463480"/>
<path d="M230.04 265.91L233.69 268.44L237.34 272.17L239.48 269.71L241.61 267.67L237.97 264.52L234.33 262.34L232.19 264.33z" fill="#39568c"/>
<path d="M320.03 292.25L323.71 294.62L327.39 296.72L329.42 295.23L331.46 292.90L327.79 289.92L324.12 287.43L322.07 290.13z" fill="#443983"/>
<path d="M211.21 264.66L214.84 265.63L218.46 266.13L220.63 265.31L222.78 263.26L219.17 262.77L215.54 261.28L213.38 262.87z" fill="#375a8c"/>
<path d="M372.35 312.58L376.06 314.66L379.76 317.39L381.71 316.11L383.66 315.13L380.00 311.13L376.31 308.65L374.32 311.19z" fill="#481d6f"/>
<path d="M398.50 323.64L402.22 325.75L405.92 328.58L407.87 326.39L409.82 323.96L406.13 321.23L402.38 320.38L400.43 322.24z" fill="#470e61"/>
<path d="M301.19 289.66L304.86 292.22L308.54 294.02L310.61 290.71L312.66 289.08L308.98 287.53L305.32 284.72L303.26 287.18z" fill="#433d84"/>
<path d="M282.35 286.63L286.02 289.06L289.69 291.38L291.77 288.64L293.84 286.41L290.19 283.20L286.52 281.42L284.44 283.89z" fill="#424186"/>
<path d="M192.33 259.56L195.95 260.89L199.58 262.84L201.78 262.32L203.96 260.75L200.35 259.67L196.73 257.71L194.53 258.53z" fill="#355f8d"/>
<path d="M263.51 284.32L267.17 285.65L270.83 287.77L272.93 285.05L275.03 283.39L271.37 281.01L267.72 279.23L265.61 281.84z" fill="#404588"/>
<path d="M346.23 299.98L349.93 302.18L353.60 305.46L355.61 303.67L357.61 301.81L353.92 299.58L350.24 296.56L348.25 297.97z" fill="#472f7d"/>
<path d="M166.12 246.42L169.78 250.42L173.41 253.61L175.63 252.02L177.86 251.34L174.23 248.31L170.59 244.52L168.35 245.01z" fill="#2f6b8e"/>
<path d="M237.34 272.17L240.99 274.85L244.64 276.62L246.77 274.43L248.90 272.80L245.25 270.12L241.61 267.67L239.48 269.71z" fill="#3b528b"/>
<path d="M379.76 317.39L383.44 320.58L387.12 324.08L389.09 322.25L391.07 319.57L387.36 317.44L383.66 315.13L381.71 316.11z" fill="#481769"/>
<path d="M327.39 296.72L331.08 298.88L334.77 301.07L336.80 298.92L338.85 295.37L335.14 295.01L331.46 292.90L329.42 295.23z" fill="#453581"/>
<path d="M405.92 328.58L409.63 331.25L413.38 332.62L415.30 331.13L417.23 329.35L413.50 327.47L409.82 323.96L407.87 326.39z" fill="#460a5d"/>
<path d="M353.60 305.46L357.27 309.40L360.96 312.28L362.95 310.78L364.96 307.83L361.29 304.66L357.61 301.81L355.61 303.67z" fill="#482878"/>
<path d="M244.64 276.62L248.30 280.31L251.96 282.48L254.08 280.79L256.20 278.68L252.55 275.84L248.90 272.80L246.77 274.43z" fill="#3d4d8a"/>
<path d="M308.54 294.02L312.23 295.15L315.91 297.63L317.98 294.17L320.03 292.25L316.34 290.72L312.66 289.08L310.61 290.71z" fill="#443a83"/>
<path d="M289.69 291.38L293.36 292.71L297.04 294.79L299.12 292.19L301.19 289.66L297.52 288.01L293.84 286.41L291.77 288.64z" fill="#433e85"/>
<path d="M173.41 253.61L177.03 255.58L180.65 256.98L182.85 255.08L185.06 253.63L181.45 252.09L177.86 251.34L175.63 252.02z" fill="#31678e"/>
<path d="M218.46 266.13L222.10 268.22L225.74 269.95L227.90 268.84L230.04 265.91L226.41 264.37L222.78 263.26L220.63 265.31z" fill="#375a8c"/>
<path d="M270.83 287.77L274.49 291.29L278.16 293.56L280.26 289.88L282.35 286.63L278.69 284.76L275.03 283.39L272.93 285.05z" fill="#424186"/>
<path d="M199.58 262.84L203.20 264.08L206.83 265.78L209.03 265.39L211.21 264.66L207.58 262.67L203.96 260.75L201.78 262.32z" fill="#365d8d"/>
<path d="M387.12 324.08L390.85 325.76L394.59 327.38L396.55 325.52L398.50 323.64L394.78 321.59L391.07 319.57L389.09 322.25z" fill="#471365"/>
<path d="M360.96 312.28L364.68 313.56L368.39 315.92L370.37 314.29L372.35 312.58L368.65 310.59L364.96 307.83L362.95 310.78z" fill="#482374"/>
<path d="M251.96 282.48L255.62 284.92L259.28 288.63L261.40 286.71L263.51 284.32L259.85 281.86L256.20 278.68L254.08 280.79z" fill="#3f4788"/>
<path d="M334.77 301.07L338.49 301.90L342.18 304.39L344.20 302.55L346.23 299.98L342.56 296.59L338.85 295.37L336.80 298.92z" fill="#46337f"/>
<path d="M413.38 332.62L417.16 333.21L420.91 335.17L422.82 333.82L424.77 331.04L421.03 329.14L417.23 329.35L415.30 331.13z" fill="#46075a"/>
<path d="M225.74 269.95L229.39 272.58L233.06 276.24L235.20 274.52L237.34 272.17L233.69 268.44L230.04 265.91L227.90 268.84z" fill="#39558c"/>
<path d="M315.91 297.63L319.61 299.09L323.32 300.26L325.36 298.00L327.39 296.72L323.71 294.62L320.03 292.25L317.98 294.17z" fill="#453882"/>
<path d="M180.65 256.98L184.25 257.89L187.89 260.39L190.12 260.15L192.33 259.56L188.71 257.27L185.06 253.63L182.85 255.08z" fill="#32658e"/>
<path d="M297.04 294.79L300.72 296.98L304.41 298.03L306.48 295.94L308.54 294.02L304.86 292.22L301.19 289.66L299.12 292.19z" fill="#443b84"/>
<path d="M278.16 293.56L281.83 294.95L285.51 296.32L287.60 293.82L289.69 291.38L286.02 289.06L282.35 286.63L280.26 289.88z" fill="#433e85"/>
<path d="M394.59 327.38L398.29 330.34L402.02 332.62L403.98 330.16L405.92 328.58L402.22 325.75L398.50 323.64L396.55 325.52z" fill="#470e61"/>
<path d="M259.28 288.63L262.94 291.50L266.61 293.36L268.72 290.61L270.83 287.77L267.17 285.65L263.51 284.32L261.40 286.71z" fill="#414287"/>
<path d="M368.39 315.92L372.09 318.85L375.81 320.73L377.78 319.25L379.76 317.39L376.06 314.66L372.35 312.58L370.37 314.29z" fill="#481f70"/>
<path d="M206.83 265.78L210.48 267.77L214.11 269.26L216.29 267.41L218.46 266.13L214.84 265.63L211.21 264.66L209.03 265.39z" fill="#365c8d"/>
<path d="M342.18 304.39L345.87 307.62L349.56 310.37L351.59 307.47L353.60 305.46L349.93 302.18L346.23 299.98L344.20 302.55z" fill="#472e7c"/>
<path d="M233.06 276.24L236.71 278.86L240.37 280.51L242.51 278.43L244.64 276.62L240.99 274.85L237.34 272.17L235.20 274.52z" fill="#3b518b"/>
<path d="M161.68 251.08L165.33 254.18L168.95 256.13L171.19 255.04L173.41 253.61L169.78 250.42L166.12 246.42L163.91 249.11z" fill="#2f6b8e"/>
<path d="M420.91 335.17L424.65 337.12L428.43 338.21L430.34 336.64L432.20 336.38L428.48 333.73L424.77 331.04L422.82 333.82z" fill="#450559"/>
<path d="M187.89 260.39L191.53 262.49L195.16 264.03L197.37 263.13L199.58 262.84L195.95 260.89L192.33 259.56L190.12 260.15z" fill="#33628d"/>
<path d="M375.81 320.73L379.53 323.00L383.25 325.29L385.18 324.97L387.12 324.08L383.44 320.58L379.76 317.39L377.78 319.25z" fill="#481a6c"/>
<path d="M402.02 332.62L405.77 334.07L409.52 335.65L411.44 334.43L413.38 332.62L409.63 331.25L405.92 328.58L403.98 330.16z" fill="#460a5d"/>
<path d="M323.32 300.26L327.03 301.24L330.73 303.26L332.76 301.91L334.77 301.07L331.08 298.88L327.39 296.72L325.36 298.00z" fill="#453581"/>
<path d="M349.56 310.37L353.26 313.00L356.97 315.27L358.97 313.50L360.96 312.28L357.27 309.40L353.60 305.46L351.59 307.47z" fill="#482878"/>
<path d="M285.51 296.32L289.19 298.21L292.88 299.70L294.96 297.59L297.04 294.79L293.36 292.71L289.69 291.38L287.60 293.82z" fill="#443b84"/>
<path d="M304.41 298.03L308.11 299.61L311.80 301.96L313.85 300.15L315.91 297.63L312.23 295.15L308.54 294.02L306.48 295.94z" fill="#443983"/>
<path d="M266.61 293.36L270.28 295.87L273.96 297.34L276.06 295.37L278.16 293.56L274.49 291.29L270.83 287.77L268.72 290.61z" fill="#423f85"/>
<path d="M240.37 280.51L244.03 283.63L247.70 286.67L249.83 285.59L251.96 282.48L248.30 280.31L244.64 276.62L242.51 278.43z" fill="#3d4d8a"/>
<path d="M168.95 256.13L172.58 258.10L176.21 260.27L178.43 258.38L180.65 256.98L177.03 255.58L173.41 253.61L171.19 255.04z" fill="#31688e"/>
<path d="M214.11 269.26L217.76 271.55L221.42 273.53L223.58 272.02L225.74 269.95L222.10 268.22L218.46 266.13L216.29 267.41z" fill="#375a8c"/>
<path d="M383.25 325.29L386.94 328.73L390.64 331.79L392.60 330.10L394.59 327.38L390.85 325.76L387.12 324.08L385.18 324.97z" fill="#471365"/>
<path d="M247.70 286.67L251.36 288.55L255.03 291.90L257.16 290.62L259.28 288.63L255.62 284.92L251.96 282.48L249.83 285.59z" fill="#3f4788"/>
<path d="M356.97 315.27L360.69 317.23L364.40 319.81L366.40 317.74L368.39 315.92L364.68 313.56L360.96 312.28L358.97 313.50z" fill="#482475"/>
<path d="M428.43 338.21L432.23 339.12L436.00 340.80L437.86 340.28L439.70 340.25L435.96 338.03L432.20 336.38L430.34 336.64z" fill="#440256"/>
<path d="M195.16 264.03L198.79 265.61L202.44 267.39L204.64 266.52L206.83 265.78L203.20 264.08L199.58 262.84L197.37 263.13z" fill="#34608d"/>
<path d="M330.73 303.26L334.44 304.86L338.14 307.42L340.17 305.77L342.18 304.39L338.49 301.90L334.77 301.07L332.76 301.91z" fill="#46337f"/>
<path d="M311.80 301.96L315.50 303.51L319.20 305.50L321.25 303.21L323.32 300.26L319.61 299.09L315.91 297.63L313.85 300.15z" fill="#453781"/>
<path d="M273.96 297.34L277.64 298.54L281.32 300.20L283.42 298.19L285.51 296.32L281.83 294.95L278.16 293.56L276.06 295.37z" fill="#443b84"/>
<path d="M292.88 299.70L296.57 300.62L300.26 302.90L302.33 300.93L304.41 298.03L300.72 296.98L297.04 294.79L294.96 297.59z" fill="#443983"/>
<path d="M409.52 335.65L413.29 336.79L417.05 338.59L419.00 336.31L420.91 335.17L417.16 333.21L413.38 332.62L411.44 334.43z" fill="#46085c"/>
<path d="M221.42 273.53L225.07 275.26L228.73 278.13L230.90 277.54L233.06 276.24L229.39 272.58L225.74 269.95L223.58 272.02z" fill="#39568c"/>
<path d="M390.64 331.79L394.39 333.54L398.15 334.62L400.07 334.19L402.02 332.62L398.29 330.34L394.59 327.38L392.60 330.10z" fill="#470e61"/>
<path d="M255.03 291.90L258.70 293.91L262.38 295.18L264.50 294.43L266.61 293.36L262.94 291.50L259.28 288.63L257.16 290.62z" fill="#414287"/>
<path d="M176.21 260.27L179.83 261.55L183.48 264.18L185.68 261.65L187.89 260.39L184.25 257.89L180.65 256.98L178.43 258.38z" fill="#31668e"/>
<path d="M364.40 319.81L368.10 322.64L371.81 325.57L373.83 322.48L375.81 320.73L372.09 318.85L368.39 315.92L366.40 317.74z" fill="#481f70"/>
<path d="M338.14 307.42L341.84 310.29L345.54 313.29L347.55 312.21L349.56 310.37L345.87 307.62L342.18 304.39L340.17 305.77z" fill="#472e7c"/>
<path d="M202.44 267.39L206.10 270.87L209.76 273.46L211.94 271.34L214.11 269.26L210.48 267.77L206.83 265.78L204.64 266.52z" fill="#365d8d"/>
<path d="M228.73 278.13L232.40 280.59L236.06 282.40L238.22 281.58L240.37 280.51L236.71 278.86L233.06 276.24L230.90 277.54z" fill="#3b528b"/>
<path d="M436.00 340.80L439.77 342.47L443.58 343.29L445.41 343.48L447.27 342.69L443.44 342.39L439.70 340.25L437.86 340.28z" fill="#440154"/>
<path d="M157.14 252.01L160.84 257.08L164.52 261.31L166.73 258.46L168.95 256.13L165.33 254.18L161.68 251.08L159.43 251.94z" fill="#2f6c8e"/>
<path d="M281.32 300.20L285.00 303.64L288.69 305.10L290.79 302.05L292.88 299.70L289.19 298.21L285.51 296.32L283.42 298.19z" fill="#443983"/>
<path d="M300.26 302.90L303.95 305.12L307.66 306.34L309.74 303.29L311.80 301.96L308.11 299.61L304.41 298.03L302.33 300.93z" fill="#453882"/>
<path d="M319.20 305.50L322.90 307.35L326.63 308.00L328.69 305.30L330.73 303.26L327.03 301.24L323.32 300.26L321.25 303.21z" fill="#453581"/>
<path d="M345.54 313.29L349.23 316.64L352.95 318.76L354.96 317.16L356.97 315.27L353.26 313.00L349.56 310.37L347.55 312.21z" fill="#482878"/>
<path d="M417.05 338.59L420.81 340.38L424.62 340.91L426.52 339.86L428.43 338.21L424.65 337.12L420.91 335.17L419.00 336.31z" fill="#46075a"/>
<path d="M371.81 325.57L375.54 327.30L379.26 329.94L381.25 327.90L383.25 325.29L379.53 323.00L375.81 320.73L373.83 322.48z" fill="#481a6c"/>
<path d="M262.38 295.18L266.06 298.08L269.74 300.37L271.85 298.52L273.96 297.34L270.28 295.87L266.61 293.36L264.50 294.43z" fill="#423f85"/>
<path d="M183.48 264.18L187.11 266.01L190.76 268.01L192.96 265.93L195.16 264.03L191.53 262.49L187.89 260.39L185.68 261.65z" fill="#32648e"/>
<path d="M398.15 334.62L401.90 336.49L405.66 338.32L407.61 336.38L409.52 335.65L405.77 334.07L402.02 332.62L400.07 334.19z" fill="#460b5e"/>
<path d="M164.52 261.31L168.16 263.92L171.78 265.15L174.00 262.97L176.21 260.27L172.58 258.10L168.95 256.13L166.73 258.46z" fill="#31678e"/>
<path d="M236.06 282.40L239.73 284.52L243.40 287.79L245.55 286.91L247.70 286.67L244.03 283.63L240.37 280.51L238.22 281.58z" fill="#3d4e8a"/>
<path d="M209.76 273.46L213.41 274.58L217.06 275.88L219.23 274.14L221.42 273.53L217.76 271.55L214.11 269.26L211.94 271.34z" fill="#375b8d"/>
<path d="M379.26 329.94L382.99 332.19L386.73 334.44L388.69 333.18L390.64 331.79L386.94 328.73L383.25 325.29L381.25 327.90z" fill="#481467"/>
<path d="M352.95 318.76L356.69 320.16L360.41 322.44L362.41 320.82L364.40 319.81L360.69 317.23L356.97 315.27L354.96 317.16z" fill="#482475"/>
<path d="M307.66 306.34L311.37 307.54L315.08 309.48L317.14 307.51L319.20 305.50L315.50 303.51L311.80 301.96L309.74 303.29z" fill="#453581"/>
<path d="M288.69 305.10L292.40 304.99L296.10 306.40L298.18 304.48L300.26 302.90L296.57 300.62L292.88 299.70L290.79 302.05z" fill="#453882"/>
<path d="M243.40 287.79L247.08 291.36L250.76 294.23L252.90 293.68L255.03 291.90L251.36 288.55L247.70 286.67L245.55 286.91z" fill="#3f4889"/>
<path d="M269.74 300.37L273.42 302.40L277.11 304.79L279.22 303.15L281.32 300.20L277.64 298.54L273.96 297.34L271.85 298.52z" fill="#443b84"/>
<path d="M326.63 308.00L330.35 309.16L334.07 310.98L336.11 309.20L338.14 307.42L334.44 304.86L330.73 303.26L328.69 305.30z" fill="#463480"/>
<path d="M190.76 268.01L194.40 270.02L198.05 271.69L200.24 268.84L202.44 267.39L198.79 265.61L195.16 264.03L192.96 265.93z" fill="#34618d"/>
<path d="M424.62 340.91L428.40 342.32L432.18 343.91L434.09 342.26L436.00 340.80L432.23 339.12L428.43 338.21L426.52 339.86z" fill="#450559"/>
<path d="M405.66 338.32L409.42 339.92L413.17 342.26L415.09 340.98L417.05 338.59L413.29 336.79L409.52 335.65L407.61 336.38z" fill="#460a5d"/>
<path d="M171.78 265.15L175.40 266.38L179.05 268.42L181.27 266.66L183.48 264.18L179.83 261.55L176.21 260.27L174.00 262.97z" fill="#32658e"/>
<path d="M217.06 275.88L220.72 278.01L224.40 281.58L226.56 279.31L228.73 278.13L225.07 275.26L221.42 273.53L219.23 274.14z" fill="#38588c"/>
<path d="M360.41 322.44L364.13 324.93L367.83 328.71L369.80 328.06L371.81 325.57L368.10 322.64L364.40 319.81L362.41 320.82z" fill="#481f70"/>
<path d="M386.73 334.44L390.48 335.97L394.25 337.37L396.22 335.53L398.15 334.62L394.39 333.54L390.64 331.79L388.69 333.18z" fill="#471063"/>
<path d="M250.76 294.23L254.44 297.20L258.12 299.09L260.25 297.13L262.38 295.18L258.70 293.91L255.03 291.90L252.90 293.68z" fill="#414487"/>
<path d="M277.11 304.79L280.80 308.18L284.49 309.96L286.59 308.12L288.69 305.10L285.00 303.64L281.32 300.20L279.22 303.15z" fill="#453882"/>
<path d="M334.07 310.98L337.78 313.46L341.48 316.79L343.53 314.20L345.54 313.29L341.84 310.29L338.14 307.42L336.11 309.20z" fill="#472f7d"/>
<path d="M296.10 306.40L299.80 308.72L303.50 310.90L305.58 309.07L307.66 306.34L303.95 305.12L300.26 302.90L298.18 304.48z" fill="#453781"/>
<path d="M198.05 271.69L201.71 273.90L205.36 275.18L207.57 275.01L209.76 273.46L206.10 270.87L202.44 267.39L200.24 268.84z" fill="#355e8d"/>
<path d="M315.08 309.48L318.80 310.68L322.52 312.11L324.58 310.00L326.63 308.00L322.90 307.35L319.20 305.50L317.14 307.51z" fill="#463480"/>
<path d="M224.40 281.58L228.07 284.62L231.74 286.55L233.90 284.13L236.06 282.40L232.40 280.59L228.73 278.13L226.56 279.31z" fill="#3a538b"/>
<path d="M367.83 328.71L371.54 331.89L375.29 333.34L377.27 332.08L379.26 329.94L375.54 327.30L371.81 325.57L369.80 328.06z" fill="#48186a"/>
<path d="M152.61 254.19L156.31 259.37L159.98 262.64L162.25 261.78L164.52 261.31L160.84 257.08L157.14 252.01L154.87 252.52z" fill="#2e6e8e"/>
<path d="M432.18 343.91L435.94 346.23L439.70 348.45L441.64 345.99L443.58 343.29L439.77 342.47L436.00 340.80L434.09 342.26z" fill="#450457"/>
<path d="M413.17 342.26L416.94 343.82L420.74 344.76L422.71 342.01L424.62 340.91L420.81 340.38L417.05 338.59L415.09 340.98z" fill="#46075a"/>
<path d="M179.05 268.42L182.68 269.82L186.32 270.88L188.54 269.17L190.76 268.01L187.11 266.01L183.48 264.18L181.27 266.66z" fill="#33638d"/>
<path d="M341.48 316.79L345.19 320.10L348.91 322.53L350.94 320.30L352.95 318.76L349.23 316.64L345.54 313.29L343.53 314.20z" fill="#482979"/>
<path d="M258.12 299.09L261.81 301.29L265.50 303.98L267.62 302.36L269.74 300.37L266.06 298.08L262.38 295.18L260.25 297.13z" fill="#424086"/>
<path d="M394.25 337.37L397.98 340.17L401.71 342.93L403.68 340.70L405.66 338.32L401.90 336.49L398.15 334.62L396.22 335.53z" fill="#470d60"/>
<path d="M159.98 262.64L163.64 265.47L167.29 267.92L169.53 266.44L171.78 265.15L168.16 263.92L164.52 261.31L162.25 261.78z" fill="#31678e"/>
<path d="M231.74 286.55L235.42 289.22L239.10 292.24L241.25 289.66L243.40 287.79L239.73 284.52L236.06 282.40L233.90 284.13z" fill="#3c4f8a"/>
<path d="M284.49 309.96L288.20 310.88L291.91 311.00L294.01 308.46L296.10 306.40L292.40 304.99L288.69 305.10L286.59 308.12z" fill="#453781"/>
<path d="M205.36 275.18L209.01 276.64L212.67 277.94L214.87 276.96L217.06 275.88L213.41 274.58L209.76 273.46L207.57 275.01z" fill="#365c8d"/>
<path d="M303.50 310.90L307.22 312.18L310.93 314.34L313.01 311.78L315.08 309.48L311.37 307.54L307.66 306.34L305.58 309.07z" fill="#463480"/>
<path d="M375.29 333.34L379.04 335.15L382.77 337.76L384.77 335.52L386.73 334.44L382.99 332.19L379.26 329.94L377.27 332.08z" fill="#481668"/>
<path d="M348.91 322.53L352.63 324.96L356.35 327.61L358.38 325.07L360.41 322.44L356.69 320.16L352.95 318.76L350.94 320.30z" fill="#482475"/>
<path d="M322.52 312.11L326.24 313.70L329.97 315.29L332.02 313.38L334.07 310.98L330.35 309.16L326.63 308.00L324.58 310.00z" fill="#46337f"/>
<path d="M265.50 303.98L269.19 305.47L272.88 307.95L275.00 305.90L277.11 304.79L273.42 302.40L269.74 300.37L267.62 302.36z" fill="#433d84"/>
<path d="M186.32 270.88L189.98 273.52L193.63 274.98L195.85 273.68L198.05 271.69L194.40 270.02L190.76 268.01L188.54 269.17z" fill="#34618d"/>
<path d="M239.10 292.24L242.79 295.08L246.47 297.93L248.62 295.64L250.76 294.23L247.08 291.36L243.40 287.79L241.25 289.66z" fill="#3e4989"/>
<path d="M401.71 342.93L405.47 345.03L409.26 346.08L411.22 344.14L413.17 342.26L409.42 339.92L405.66 338.32L403.68 340.70z" fill="#460a5d"/>
<path d="M167.29 267.92L170.94 270.47L174.59 272.25L176.82 270.14L179.05 268.42L175.40 266.38L171.78 265.15L169.53 266.44z" fill="#32658e"/>
<path d="M420.74 344.76L424.53 346.19L428.32 347.75L430.29 344.85L432.18 343.91L428.40 342.32L424.62 340.91L422.71 342.01z" fill="#46075a"/>
<path d="M356.35 327.61L360.09 329.49L363.81 332.68L365.82 330.61L367.83 328.71L364.13 324.93L360.41 322.44L358.38 325.07z" fill="#481f70"/>
<path d="M212.67 277.94L216.35 280.90L220.03 284.09L222.22 282.76L224.40 281.58L220.72 278.01L217.06 275.88L214.87 276.96z" fill="#375a8c"/>
<path d="M329.97 315.29L333.68 318.62L337.39 321.85L339.43 319.62L341.48 316.79L337.78 313.46L334.07 310.98L332.02 313.38z" fill="#472e7c"/>
<path d="M382.77 337.76L386.52 339.83L390.28 341.81L392.29 338.72L394.25 337.37L390.48 335.97L386.73 334.44L384.77 335.52z" fill="#471164"/>
<path d="M246.47 297.93L250.16 299.76L253.85 301.63L255.99 300.29L258.12 299.09L254.44 297.20L250.76 294.23L248.62 295.64z" fill="#404588"/>
<path d="M310.93 314.34L314.65 315.63L318.37 317.51L320.44 315.28L322.52 312.11L318.80 310.68L315.08 309.48L313.01 311.78z" fill="#46337f"/>
<path d="M272.88 307.95L276.58 309.95L280.29 311.05L282.40 310.03L284.49 309.96L280.80 308.18L277.11 304.79L275.00 305.90z" fill="#443983"/>
<path d="M291.91 311.00L295.62 312.43L299.33 314.72L301.42 312.62L303.50 310.90L299.80 308.72L296.10 306.40L294.01 308.46z" fill="#453581"/>
<path d="M193.63 274.98L197.30 277.78L200.97 280.01L203.17 277.88L205.36 275.18L201.71 273.90L198.05 271.69L195.85 273.68z" fill="#355f8d"/>
<path d="M363.81 332.68L367.50 337.05L371.24 339.48L373.28 335.92L375.29 333.34L371.54 331.89L367.83 328.71L365.82 330.61z" fill="#48186a"/>
<path d="M220.03 284.09L223.72 287.18L227.40 289.84L229.57 288.14L231.74 286.55L228.07 284.62L224.40 281.58L222.22 282.76z" fill="#3a548c"/>
<path d="M148.12 259.58L151.83 264.37L155.50 267.64L157.75 265.34L159.98 262.64L156.31 259.37L152.61 254.19L150.36 256.53z" fill="#2e6e8e"/>
<path d="M337.39 321.85L341.11 324.38L344.84 326.36L346.88 324.12L348.91 322.53L345.19 320.10L341.48 316.79L339.43 319.62z" fill="#482878"/>
<path d="M174.59 272.25L178.23 273.54L181.88 275.54L184.10 272.75L186.32 270.88L182.68 269.82L179.05 268.42L176.82 270.14z" fill="#33638d"/>
<path d="M409.26 346.08L413.06 347.16L416.84 348.88L418.80 346.44L420.74 344.76L416.94 343.82L413.17 342.26L411.22 344.14z" fill="#46085c"/>
<path d="M428.32 347.75L432.10 349.67L435.89 351.44L437.82 349.45L439.70 348.45L435.94 346.23L432.18 343.91L430.29 344.85z" fill="#450457"/>
<path d="M390.28 341.81L394.03 344.26L397.78 346.59L399.75 344.65L401.71 342.93L397.98 340.17L394.25 337.37L392.29 338.72z" fill="#470d60"/>
<path d="M253.85 301.63L257.54 304.16L261.24 306.30L263.37 305.49L265.50 303.98L261.81 301.29L258.12 299.09L255.99 300.29z" fill="#424186"/>
<path d="M155.50 267.64L159.15 270.00L162.82 272.68L165.06 270.78L167.29 267.92L163.64 265.47L159.98 262.64L157.75 265.34z" fill="#31688e"/>
<path d="M299.33 314.72L303.04 317.30L306.76 319.67L308.84 317.42L310.93 314.34L307.22 312.18L303.50 310.90L301.42 312.62z" fill="#46337f"/>
<path d="M227.40 289.84L231.08 291.79L234.77 294.89L236.94 293.75L239.10 292.24L235.42 289.22L231.74 286.55L229.57 288.14z" fill="#3c4f8a"/>
<path d="M318.37 317.51L322.10 319.25L325.83 321.11L327.90 318.06L329.97 315.29L326.24 313.70L322.52 312.11L320.44 315.28z" fill="#46307e"/>
<path d="M371.24 339.48L375.01 340.59L378.77 342.39L380.77 340.04L382.77 337.76L379.04 335.15L375.29 333.34L373.28 335.92z" fill="#481467"/>
<path d="M344.84 326.36L348.58 328.38L352.31 331.08L354.33 329.76L356.35 327.61L352.63 324.96L348.91 322.53L346.88 324.12z" fill="#482475"/>
<path d="M200.97 280.01L204.62 280.96L208.29 282.79L210.49 280.68L212.67 277.94L209.01 276.64L205.36 275.18L203.17 277.88z" fill="#365d8d"/>
<path d="M280.29 311.05L284.00 311.29L287.72 313.07L289.82 312.26L291.91 311.00L288.20 310.88L284.49 309.96L282.40 310.03z" fill="#453882"/>
<path d="M397.78 346.59L401.54 348.83L405.29 351.37L407.28 348.65L409.26 346.08L405.47 345.03L401.71 342.93L399.75 344.65z" fill="#46085c"/>
<path d="M162.82 272.68L166.48 275.47L170.13 277.16L172.37 274.90L174.59 272.25L170.94 270.47L167.29 267.92L165.06 270.78z" fill="#32648e"/>
<path d="M181.88 275.54L185.53 276.59L189.17 277.39L191.41 276.41L193.63 274.98L189.98 273.52L186.32 270.88L184.10 272.75z" fill="#33628d"/>
<path d="M261.24 306.30L264.94 308.39L268.64 310.09L270.76 309.46L272.88 307.95L269.19 305.47L265.50 303.98L263.37 305.49z" fill="#433e85"/>
<path d="M234.77 294.89L238.46 297.17L242.15 298.76L244.32 298.69L246.47 297.93L242.79 295.08L239.10 292.24L236.94 293.75z" fill="#3e4a89"/>
<path d="M416.84 348.88L420.61 351.01L424.42 352.19L426.36 350.11L428.32 347.75L424.53 346.19L420.74 344.76L418.80 346.44z" fill="#46075a"/>
<path d="M352.31 331.08L356.03 334.51L359.74 338.26L361.77 335.54L363.81 332.68L360.09 329.49L356.35 327.61L354.33 329.76z" fill="#481d6f"/>
<path d="M325.83 321.11L329.56 323.48L333.29 325.82L335.32 324.74L337.39 321.85L333.68 318.62L329.97 315.29L327.90 318.06z" fill="#472d7b"/>
<path d="M306.76 319.67L310.49 320.93L314.21 323.37L316.29 320.95L318.37 317.51L314.65 315.63L310.93 314.34L308.84 317.42z" fill="#472f7d"/>
<path d="M378.77 342.39L382.51 345.09L386.26 347.46L388.26 344.88L390.28 341.81L386.52 339.83L382.77 337.76L380.77 340.04z" fill="#471063"/>
<path d="M208.29 282.79L211.97 284.81L215.66 287.69L217.85 285.95L220.03 284.09L216.35 280.90L212.67 277.94L210.49 280.68z" fill="#375a8c"/>
<path d="M359.74 338.26L363.47 340.93L367.22 343.08L369.25 340.54L371.24 339.48L367.50 337.05L363.81 332.68L361.77 335.54z" fill="#481769"/>
<path d="M287.72 313.07L291.43 315.51L295.14 318.44L297.24 317.12L299.33 314.72L295.62 312.43L291.91 311.00L289.82 312.26z" fill="#453781"/>
<path d="M189.17 277.39L192.85 279.79L196.55 283.54L198.77 282.61L200.97 280.01L197.30 277.78L193.63 274.98L191.41 276.41z" fill="#355f8d"/>
<path d="M242.15 298.76L245.85 301.72L249.55 304.09L251.70 302.88L253.85 301.63L250.16 299.76L246.47 297.93L244.32 298.69z" fill="#3f4788"/>
<path d="M333.29 325.82L337.01 329.09L340.72 332.68L342.77 330.03L344.84 326.36L341.11 324.38L337.39 321.85L335.32 324.74z" fill="#482677"/>
<path d="M405.29 351.37L409.07 353.09L412.85 354.94L414.82 352.64L416.84 348.88L413.06 347.16L409.26 346.08L407.28 348.65z" fill="#450559"/>
<path d="M170.13 277.16L173.77 278.13L177.41 278.69L179.66 277.64L181.88 275.54L178.23 273.54L174.59 272.25L172.37 274.90z" fill="#33628d"/>
<path d="M143.52 261.07L147.26 266.66L150.97 271.26L153.25 269.98L155.50 267.64L151.83 264.37L148.12 259.58L145.82 259.97z" fill="#2e6e8e"/>
<path d="M268.64 310.09L272.35 310.95L276.06 312.83L278.18 311.58L280.29 311.05L276.58 309.95L272.88 307.95L270.76 309.46z" fill="#443b84"/>
<path d="M215.66 287.69L219.34 289.61L223.02 291.60L225.21 290.32L227.40 289.84L223.72 287.18L220.03 284.09L217.85 285.95z" fill="#39558c"/>
<path d="M424.42 352.19L428.23 353.34L432.06 354.32L434.00 352.22L435.89 351.44L432.10 349.67L428.32 347.75L426.36 350.11z" fill="#450559"/>
<path d="M386.26 347.46L390.04 348.79L393.82 350.55L395.79 348.83L397.78 346.59L394.03 344.26L390.28 341.81L388.26 344.88z" fill="#460b5e"/>
<path d="M150.97 271.26L154.66 275.08L158.31 276.92L160.57 274.88L162.82 272.68L159.15 270.00L155.50 267.64L153.25 269.98z" fill="#31678e"/>
<path d="M314.21 323.37L317.94 325.31L321.69 326.06L323.75 324.68L325.83 321.11L322.10 319.25L318.37 317.51L316.29 320.95z" fill="#472e7c"/>
<path d="M295.14 318.44L298.86 321.78L302.58 323.68L304.67 321.49L306.76 319.67L303.04 317.30L299.33 314.72L297.24 317.12z" fill="#46327e"/>
<path d="M367.22 343.08L370.97 345.71L374.72 347.82L376.75 345.02L378.77 342.39L375.01 340.59L371.24 339.48L369.25 340.54z" fill="#471365"/>
<path d="M340.72 332.68L344.45 335.54L348.19 338.05L350.27 333.67L352.31 331.08L348.58 328.38L344.84 326.36L342.77 330.03z" fill="#482173"/>
<path d="M249.55 304.09L253.25 306.54L256.95 308.98L259.10 306.74L261.24 306.30L257.54 304.16L253.85 301.63L251.70 302.88z" fill="#414487"/>
<path d="M196.55 283.54L200.21 285.19L203.89 286.90L206.10 285.48L208.29 282.79L204.62 280.96L200.97 280.01L198.77 282.61z" fill="#365c8d"/>
<path d="M223.02 291.60L226.71 293.84L230.41 296.81L232.60 295.90L234.77 294.89L231.08 291.79L227.40 289.84L225.21 290.32z" fill="#3b518b"/>
<path d="M412.85 354.94L416.65 356.43L420.49 356.93L422.44 354.92L424.42 352.19L420.61 351.01L416.84 348.88L414.82 352.64z" fill="#450457"/>
<path d="M158.31 276.92L161.95 277.83L165.60 279.42L167.88 278.69L170.13 277.16L166.48 275.47L162.82 272.68L160.57 274.88z" fill="#32648e"/>
<path d="M393.82 350.55L397.60 352.12L401.37 354.53L403.31 353.79L405.29 351.37L401.54 348.83L397.78 346.59L395.79 348.83z" fill="#46085c"/>
<path d="M276.06 312.83L279.77 315.09L283.49 317.09L285.61 315.18L287.72 313.07L284.00 311.29L280.29 311.05L278.18 311.58z" fill="#443a83"/>
<path d="M348.19 338.05L351.94 339.75L355.68 342.39L357.72 340.10L359.74 338.26L356.03 334.51L352.31 331.08L350.27 333.67z" fill="#481c6e"/>
<path d="M177.41 278.69L181.04 278.80L184.70 279.96L186.95 279.49L189.17 277.39L185.53 276.59L181.88 275.54L179.66 277.64z" fill="#33638d"/>
<path d="M321.69 326.06L325.44 326.98L329.17 329.46L331.24 326.97L333.29 325.82L329.56 323.48L325.83 321.11L323.75 324.68z" fill="#472c7a"/>
<path d="M374.72 347.82L378.50 349.29L382.28 351.00L384.27 349.09L386.26 347.46L382.51 345.09L378.77 342.39L376.75 345.02z" fill="#470e61"/>
<path d="M302.58 323.68L306.32 324.57L310.05 326.43L312.14 324.69L314.21 323.37L310.49 320.93L306.76 319.67L304.67 321.49z" fill="#472f7d"/>
<path d="M256.95 308.98L260.66 310.95L264.37 312.82L266.51 311.56L268.64 310.09L264.94 308.39L261.24 306.30L259.10 306.74z" fill="#424086"/>
<path d="M230.41 296.81L234.12 300.36L237.82 302.63L239.99 301.25L242.15 298.76L238.46 297.17L234.77 294.89L232.60 295.90z" fill="#3d4d8a"/>
<path d="M203.89 286.90L207.57 289.14L211.26 290.94L213.46 289.45L215.66 287.69L211.97 284.81L208.29 282.79L206.10 285.48z" fill="#375a8c"/>
<path d="M355.68 342.39L359.41 345.73L363.15 348.55L365.18 346.25L367.22 343.08L363.47 340.93L359.74 338.26L357.72 340.10z" fill="#481668"/>
<path d="M283.49 317.09L287.21 320.37L290.93 322.50L293.04 320.57L295.14 318.44L291.43 315.51L287.72 313.07L285.61 315.18z" fill="#453781"/>
<path d="M401.37 354.53L405.17 355.91L408.98 357.22L410.90 356.49L412.85 354.94L409.07 353.09L405.29 351.37L403.31 353.79z" fill="#450559"/>
<path d="M329.17 329.46L332.92 331.46L336.64 335.48L338.69 333.68L340.72 332.68L337.01 329.09L333.29 325.82L331.24 326.97z" fill="#482677"/>
<path d="M165.60 279.42L169.25 280.54L172.90 281.87L175.16 280.14L177.41 278.69L173.77 278.13L170.13 277.16L167.88 278.69z" fill="#33638d"/>
<path d="M184.70 279.96L188.37 282.00L192.07 284.87L194.31 284.23L196.55 283.54L192.85 279.79L189.17 277.39L186.95 279.49z" fill="#34618d"/>
<path d="M237.82 302.63L241.52 304.84L245.22 306.76L247.39 304.84L249.55 304.09L245.85 301.72L242.15 298.76L239.99 301.25z" fill="#3e4989"/>
<path d="M420.49 356.93L424.35 357.05L428.18 358.05L430.08 357.18L432.06 354.32L428.23 353.34L424.42 352.19L422.44 354.92z" fill="#450457"/>
<path d="M382.28 351.00L386.08 352.00L389.87 353.37L391.86 351.39L393.82 350.55L390.04 348.79L386.26 347.46L384.27 349.09z" fill="#470d60"/>
<path d="M310.05 326.43L313.79 328.28L317.54 329.76L319.62 327.16L321.69 326.06L317.94 325.31L314.21 323.37L312.14 324.69z" fill="#472d7b"/>
<path d="M211.26 290.94L214.95 293.05L218.64 295.38L220.84 293.81L223.02 291.60L219.34 289.61L215.66 287.69L213.46 289.45z" fill="#39568c"/>
<path d="M336.64 335.48L340.36 339.46L344.11 341.58L346.13 340.94L348.19 338.05L344.45 335.54L340.72 332.68L338.69 333.68z" fill="#481f70"/>
<path d="M264.37 312.82L268.09 314.15L271.80 316.38L273.94 314.50L276.06 312.83L272.35 310.95L268.64 310.09L266.51 311.56z" fill="#433e85"/>
<path d="M363.15 348.55L366.93 349.82L370.72 350.95L372.73 349.22L374.72 347.82L370.97 345.71L367.22 343.08L365.18 346.25z" fill="#471164"/>
<path d="M138.86 261.40L142.60 266.36L146.35 272.12L148.65 270.97L150.97 271.26L147.26 266.66L143.52 261.07L141.19 260.99z" fill="#2d718e"/>
<path d="M290.93 322.50L294.66 324.20L298.39 326.97L300.49 325.37L302.58 323.68L298.86 321.78L295.14 318.44L293.04 320.57z" fill="#46327e"/>
<path d="M146.35 272.12L150.04 275.49L153.72 278.33L156.03 277.99L158.31 276.92L154.66 275.08L150.97 271.26L148.65 270.97z" fill="#31688e"/>
<path d="M192.07 284.87L195.75 287.03L199.44 289.06L201.66 287.23L203.89 286.90L200.21 285.19L196.55 283.54L194.31 284.23z" fill="#365d8d"/>
<path d="M245.22 306.76L248.93 308.82L252.64 310.92L254.80 309.88L256.95 308.98L253.25 306.54L249.55 304.09L247.39 304.84z" fill="#404588"/>
<path d="M344.11 341.58L347.87 343.42L351.62 345.69L353.66 343.92L355.68 342.39L351.94 339.75L348.19 338.05L346.13 340.94z" fill="#481b6d"/>
<path d="M218.64 295.38L222.34 297.98L226.05 300.86L228.23 298.88L230.41 296.81L226.71 293.84L223.02 291.60L220.84 293.81z" fill="#3b528b"/>
<path d="M408.98 357.22L412.81 357.85L416.62 359.44L418.56 358.19L420.49 356.93L416.65 356.43L412.85 354.94L410.90 356.49z" fill="#450457"/>
<path d="M389.87 353.37L393.66 355.12L397.43 357.69L399.41 355.84L401.37 354.53L397.60 352.12L393.82 350.55L391.86 351.39z" fill="#460a5d"/>
<path d="M271.80 316.38L275.53 318.31L279.25 320.23L281.38 318.31L283.49 317.09L279.77 315.09L276.06 312.83L273.94 314.50z" fill="#443b84"/>
<path d="M370.72 350.95L374.49 352.87L378.26 355.24L380.26 353.51L382.28 351.00L378.50 349.29L374.72 347.82L372.73 349.22z" fill="#470e61"/>
<path d="M317.54 329.76L321.29 331.01L325.03 333.70L327.11 331.06L329.17 329.46L325.44 326.98L321.69 326.06L319.62 327.16z" fill="#472c7a"/>
<path d="M153.72 278.33L157.38 279.88L161.03 280.85L163.30 279.51L165.60 279.42L161.95 277.83L158.31 276.92L156.03 277.99z" fill="#31668e"/>
<path d="M172.90 281.87L176.56 282.66L180.21 283.17L182.46 281.90L184.70 279.96L181.04 278.80L177.41 278.69L175.16 280.14z" fill="#32648e"/>
<path d="M298.39 326.97L302.13 328.51L305.88 329.16L307.98 326.99L310.05 326.43L306.32 324.57L302.58 323.68L300.49 325.37z" fill="#472f7d"/>
<path d="M226.05 300.86L229.76 303.74L233.46 305.33L235.63 302.98L237.82 302.63L234.12 300.36L230.41 296.81L228.23 298.88z" fill="#3d4e8a"/>
<path d="M351.62 345.69L355.37 348.62L359.11 352.06L361.14 350.13L363.15 348.55L359.41 345.73L355.68 342.39L353.66 343.92z" fill="#481668"/>
<path d="M252.64 310.92L256.36 312.55L260.08 314.93L262.23 313.50L264.37 312.82L260.66 310.95L256.95 308.98L254.80 309.88z" fill="#414287"/>
<path d="M199.44 289.06L203.13 291.00L206.83 293.61L209.04 291.69L211.26 290.94L207.57 289.14L203.89 286.90L201.66 287.23z" fill="#375b8d"/>
<path d="M279.25 320.23L282.98 322.50L286.71 325.76L288.83 323.62L290.93 322.50L287.21 320.37L283.49 317.09L281.38 318.31z" fill="#453882"/>
<path d="M325.03 333.70L328.76 337.45L332.52 339.43L334.58 337.20L336.64 335.48L332.92 331.46L329.17 329.46L327.11 331.06z" fill="#482677"/>
<path d="M397.43 357.69L401.24 359.03L405.09 359.25L407.07 357.15L408.98 357.22L405.17 355.91L401.37 354.53L399.41 355.84z" fill="#46085c"/>
<path d="M378.26 355.24L382.05 356.77L385.84 358.60L387.85 356.43L389.87 353.37L386.08 352.00L382.28 351.00L380.26 353.51z" fill="#460b5e"/>
<path d="M416.62 359.44L420.46 360.26L424.25 362.74L426.22 360.22L428.18 358.05L424.35 357.05L420.49 356.93L418.56 358.19z" fill="#450559"/>
<path d="M359.11 352.06L362.88 353.84L366.66 355.86L368.69 353.46L370.72 350.95L366.93 349.82L363.15 348.55L361.14 350.13z" fill="#471063"/>
<path d="M233.46 305.33L237.16 306.91L240.88 308.94L243.05 308.06L245.22 306.76L241.52 304.84L237.82 302.63L235.63 302.98z" fill="#3e4a89"/>
<path d="M206.83 293.61L210.54 297.09L214.24 299.26L216.45 297.80L218.64 295.38L214.95 293.05L211.26 290.94L209.04 291.69z" fill="#39568c"/>
<path d="M305.88 329.16L309.63 330.96L313.36 334.60L315.45 332.23L317.54 329.76L313.79 328.28L310.05 326.43L307.98 326.99z" fill="#472e7c"/>
<path d="M161.03 280.85L164.69 282.57L168.34 282.81L170.61 281.86L172.90 281.87L169.25 280.54L165.60 279.42L163.30 279.51z" fill="#32658e"/>
<path d="M332.52 339.43L336.26 342.31L340.03 344.06L342.08 342.22L344.11 341.58L340.36 339.46L336.64 335.48L334.58 337.20z" fill="#482071"/>
<path d="M180.21 283.17L183.87 283.74L187.56 285.89L189.81 285.16L192.07 284.87L188.37 282.00L184.70 279.96L182.46 281.90z" fill="#33638d"/>
<path d="M260.08 314.93L263.80 317.29L267.53 320.48L269.67 318.27L271.80 316.38L268.09 314.15L264.37 312.82L262.23 313.50z" fill="#423f85"/>
<path d="M286.71 325.76L290.44 328.18L294.18 329.60L296.29 328.60L298.39 326.97L294.66 324.20L290.93 322.50L288.83 323.62z" fill="#46337f"/>
<path d="M214.24 299.26L217.95 301.81L221.66 305.23L223.86 303.84L226.05 300.86L222.34 297.98L218.64 295.38L216.45 297.80z" fill="#3b528b"/>
<path d="M313.36 334.60L317.10 337.50L320.85 340.17L322.93 337.64L325.03 333.70L321.29 331.01L317.54 329.76L315.45 332.23z" fill="#482979"/>
<path d="M240.88 308.94L244.60 311.80L248.32 314.25L250.48 312.54L252.64 310.92L248.93 308.82L245.22 306.76L243.05 308.06z" fill="#3f4788"/>
<path d="M134.16 260.97L137.93 266.94L141.67 271.58L144.02 272.06L146.35 272.12L142.60 266.36L138.86 261.40L136.51 260.88z" fill="#2b758e"/>
<path d="M340.03 344.06L343.79 346.41L347.54 349.32L349.58 347.58L351.62 345.69L347.87 343.42L344.11 341.58L342.08 342.22z" fill="#481c6e"/>
<path d="M267.53 320.48L271.25 323.59L274.99 325.39L277.12 323.13L279.25 320.23L275.53 318.31L271.80 316.38L269.67 318.27z" fill="#443b84"/>
<path d="M141.67 271.58L145.35 274.13L149.03 276.47L151.38 277.49L153.72 278.33L150.04 275.49L146.35 272.12L144.02 272.06z" fill="#2e6d8e"/>
<path d="M385.84 358.60L389.65 359.76L393.45 361.55L395.45 359.27L397.43 357.69L393.66 355.12L389.87 353.37L387.85 356.43z" fill="#460a5d"/>
<path d="M187.56 285.89L191.25 288.38L194.96 290.88L197.20 290.06L199.44 289.06L195.75 287.03L192.07 284.87L189.81 285.16z" fill="#34608d"/>
<path d="M366.66 355.86L370.45 357.04L374.26 357.97L376.27 356.45L378.26 355.24L374.49 352.87L370.72 350.95L368.69 353.46z" fill="#470e61"/>
<path d="M405.09 359.25L408.92 360.20L412.70 362.94L414.65 361.64L416.62 359.44L412.81 357.85L408.98 357.22L407.07 357.15z" fill="#46075a"/>
<path d="M294.18 329.60L297.93 331.85L301.67 334.26L303.77 332.20L305.88 329.16L302.13 328.51L298.39 326.97L296.29 328.60z" fill="#472f7d"/>
<path d="M221.66 305.23L225.38 307.70L229.09 310.21L231.28 307.94L233.46 305.33L229.76 303.74L226.05 300.86L223.86 303.84z" fill="#3d4e8a"/>
<path d="M168.34 282.81L171.99 283.20L175.67 284.90L177.95 284.51L180.21 283.17L176.56 282.66L172.90 281.87L170.61 281.86z" fill="#31668e"/>
<path d="M320.85 340.17L324.60 342.33L328.36 344.24L330.43 342.53L332.52 339.43L328.76 337.45L325.03 333.70L322.93 337.64z" fill="#482475"/>
<path d="M347.54 349.32L351.31 351.09L355.06 354.50L357.08 353.70L359.11 352.06L355.37 348.62L351.62 345.69L349.58 347.58z" fill="#481769"/>
<path d="M194.96 290.88L198.66 293.35L202.38 296.64L204.61 295.68L206.83 293.61L203.13 291.00L199.44 289.06L197.20 290.06z" fill="#365d8d"/>
<path d="M149.03 276.47L152.72 278.99L156.40 281.07L158.73 281.42L161.03 280.85L157.38 279.88L153.72 278.33L151.38 277.49z" fill="#306a8e"/>
<path d="M248.32 314.25L252.04 315.50L255.76 317.21L257.92 316.34L260.08 314.93L256.36 312.55L252.64 310.92L250.48 312.54z" fill="#404588"/>
<path d="M274.99 325.39L278.72 327.71L282.46 328.90L284.59 327.24L286.71 325.76L282.98 322.50L279.25 320.23L277.12 323.13z" fill="#453882"/>
<path d="M393.45 361.55L397.26 362.97L401.07 364.80L403.07 362.46L405.09 359.25L401.24 359.03L397.43 357.69L395.45 359.27z" fill="#46085c"/>
<path d="M412.70 362.94L416.48 365.51L420.29 367.65L422.28 364.95L424.25 362.74L420.46 360.26L416.62 359.44L414.65 361.64z" fill="#450457"/>
<path d="M301.67 334.26L305.42 336.31L309.15 340.46L311.27 336.82L313.36 334.60L309.63 330.96L305.88 329.16L303.77 332.20z" fill="#472d7b"/>
<path d="M374.26 357.97L378.07 359.22L381.87 360.75L383.85 360.16L385.84 358.60L382.05 356.77L378.26 355.24L376.27 356.45z" fill="#470d60"/>
<path d="M355.06 354.50L358.83 357.13L362.61 358.95L364.62 358.15L366.66 355.86L362.88 353.84L359.11 352.06L357.08 353.70z" fill="#471063"/>
<path d="M229.09 310.21L232.81 312.33L236.52 312.91L238.70 310.52L240.88 308.94L237.16 306.91L233.46 305.33L231.28 307.94z" fill="#3e4a89"/>
<path d="M328.36 344.24L332.12 346.82L335.90 348.25L337.97 345.67L340.03 344.06L336.26 342.31L332.52 339.43L330.43 342.53z" fill="#482071"/>
<path d="M202.38 296.64L206.09 299.14L209.81 302.35L212.02 300.68L214.24 299.26L210.54 297.09L206.83 293.61L204.61 295.68z" fill="#38588c"/>
<path d="M255.76 317.21L259.49 319.35L263.23 322.79L265.38 322.02L267.53 320.48L263.80 317.29L260.08 314.93L257.92 316.34z" fill="#424086"/>
<path d="M175.67 284.90L179.37 287.72L183.07 289.93L185.31 287.44L187.56 285.89L183.87 283.74L180.21 283.17L177.95 284.51z" fill="#32658e"/>
<path d="M282.46 328.90L286.21 330.48L289.95 332.78L292.07 331.28L294.18 329.60L290.44 328.18L286.71 325.76L284.59 327.24z" fill="#463480"/>
<path d="M309.15 340.46L312.91 342.42L316.67 343.98L318.76 341.94L320.85 340.17L317.10 337.50L313.36 334.60L311.27 336.82z" fill="#482677"/>
<path d="M156.40 281.07L160.08 283.07L163.75 284.23L166.04 283.10L168.34 282.81L164.69 282.57L161.03 280.85L158.73 281.42z" fill="#30698e"/>
<path d="M209.81 302.35L213.52 304.99L217.25 308.76L219.46 307.07L221.66 305.23L217.95 301.81L214.24 299.26L212.02 300.68z" fill="#3b528b"/>
<path d="M335.90 348.25L339.67 350.05L343.44 352.79L345.49 351.16L347.54 349.32L343.79 346.41L340.03 344.06L337.97 345.67z" fill="#481c6e"/>
<path d="M381.87 360.75L385.67 362.58L389.45 365.35L391.44 363.74L393.45 361.55L389.65 359.76L385.84 358.60L383.85 360.16z" fill="#460a5d"/>
<path d="M263.23 322.79L266.97 325.28L270.71 327.20L272.85 325.99L274.99 325.39L271.25 323.59L267.53 320.48L265.38 322.02z" fill="#443b84"/>
<path d="M236.52 312.91L240.24 314.87L243.96 316.68L246.14 315.10L248.32 314.25L244.60 311.80L240.88 308.94L238.70 310.52z" fill="#3f4889"/>
<path d="M401.07 364.80L404.90 365.76L408.72 367.47L410.71 365.23L412.70 362.94L408.92 360.20L405.09 359.25L403.07 362.46z" fill="#46075a"/>
<path d="M362.61 358.95L366.41 360.67L370.23 361.18L372.26 359.02L374.26 357.97L370.45 357.04L366.66 355.86L364.62 358.15z" fill="#470e61"/>
<path d="M217.25 308.76L220.98 312.08L224.69 313.85L226.89 311.83L229.09 310.21L225.38 307.70L221.66 305.23L219.46 307.07z" fill="#3d4d8a"/>
<path d="M183.07 289.93L186.77 292.19L190.47 293.72L192.70 291.58L194.96 290.88L191.25 288.38L187.56 285.89L185.31 287.44z" fill="#33628d"/>
<path d="M289.95 332.78L293.70 335.60L297.45 338.05L299.56 335.85L301.67 334.26L297.93 331.85L294.18 329.60L292.07 331.28z" fill="#46307e"/>
<path d="M316.67 343.98L320.45 345.49L324.21 348.05L326.29 345.87L328.36 344.24L324.60 342.33L320.85 340.17L318.76 341.94z" fill="#482475"/>
<path d="M129.45 261.60L133.24 267.90L136.99 272.53L139.31 271.30L141.67 271.58L137.93 266.94L134.16 260.97L131.78 260.39z" fill="#29798e"/>
<path d="M343.44 352.79L347.18 356.48L350.96 358.60L353.02 356.52L355.06 354.50L351.31 351.09L347.54 349.32L345.49 351.16z" fill="#481769"/>
<path d="M136.99 272.53L140.67 274.79L144.36 276.85L146.68 276.16L149.03 276.47L145.35 274.13L141.67 271.58L139.31 271.30z" fill="#2c728e"/>
<path d="M270.71 327.20L274.45 329.26L278.20 331.67L280.33 329.96L282.46 328.90L278.72 327.71L274.99 325.39L272.85 325.99z" fill="#443983"/>
<path d="M163.75 284.23L167.41 284.89L171.10 286.59L173.39 285.96L175.67 284.90L171.99 283.20L168.34 282.81L166.04 283.10z" fill="#30698e"/>
<path d="M243.96 316.68L247.70 319.06L251.43 321.14L253.60 318.60L255.76 317.21L252.04 315.50L248.32 314.25L246.14 315.10z" fill="#404688"/>
<path d="M297.45 338.05L301.20 341.07L304.95 344.04L307.05 342.41L309.15 340.46L305.42 336.31L301.67 334.26L299.56 335.85z" fill="#472c7a"/>
<path d="M408.72 367.47L412.51 370.25L416.33 372.05L418.27 371.13L420.29 367.65L416.48 365.51L412.70 362.94L410.71 365.23z" fill="#450457"/>
<path d="M190.47 293.72L194.16 295.07L197.88 298.01L200.13 296.77L202.38 296.64L198.66 293.35L194.96 290.88L192.70 291.58z" fill="#355f8d"/>
<path d="M389.45 365.35L393.29 366.23L397.14 366.79L399.10 365.98L401.07 364.80L397.26 362.97L393.45 361.55L391.44 363.74z" fill="#46085c"/>
<path d="M224.69 313.85L228.41 314.93L232.14 317.23L234.33 315.35L236.52 312.91L232.81 312.33L229.09 310.21L226.89 311.83z" fill="#3e4a89"/>
<path d="M324.21 348.05L327.98 350.16L331.75 352.01L333.82 350.70L335.90 348.25L332.12 346.82L328.36 344.24L326.29 345.87z" fill="#482071"/>
<path d="M350.96 358.60L354.74 361.10L358.52 363.34L360.59 360.46L362.61 358.95L358.83 357.13L355.06 354.50L353.02 356.52z" fill="#471164"/>
<path d="M370.23 361.18L374.05 362.07L377.85 363.99L379.89 361.59L381.87 360.75L378.07 359.22L374.26 357.97L372.26 359.02z" fill="#471063"/>
<path d="M144.36 276.85L148.04 278.63L151.73 280.66L154.06 280.78L156.40 281.07L152.72 278.99L149.03 276.47L146.68 276.16z" fill="#2d708e"/>
<path d="M197.88 298.01L201.62 301.78L205.35 305.48L207.58 303.35L209.81 302.35L206.09 299.14L202.38 296.64L200.13 296.77z" fill="#375a8c"/>
<path d="M304.95 344.04L308.71 346.15L312.48 348.08L314.58 345.85L316.67 343.98L312.91 342.42L309.15 340.46L307.05 342.41z" fill="#482677"/>
<path d="M278.20 331.67L281.94 334.35L285.70 336.32L287.83 333.96L289.95 332.78L286.21 330.48L282.46 328.90L280.33 329.96z" fill="#453581"/>
<path d="M251.43 321.14L255.17 322.09L258.91 325.13L261.07 323.94L263.23 322.79L259.49 319.35L255.76 317.21L253.60 318.60z" fill="#414287"/>
<path d="M171.10 286.59L174.80 288.35L178.50 290.50L180.80 290.59L183.07 289.93L179.37 287.72L175.67 284.90L173.39 285.96z" fill="#31678e"/>
<path d="M331.75 352.01L335.53 354.11L339.28 358.20L341.36 355.51L343.44 352.79L339.67 350.05L335.90 348.25L333.82 350.70z" fill="#481c6e"/>
<path d="M205.35 305.48L209.07 307.46L212.80 310.37L215.02 309.21L217.25 308.76L213.52 304.99L209.81 302.35L207.58 303.35z" fill="#3a548c"/>
<path d="M232.14 317.23L235.86 318.91L239.59 319.57L241.78 318.38L243.96 316.68L240.24 314.87L236.52 312.91L234.33 315.35z" fill="#3e4989"/>
<path d="M397.14 366.79L400.95 368.96L404.77 370.83L406.74 369.23L408.72 367.47L404.90 365.76L401.07 364.80L399.10 365.98z" fill="#46075a"/>
<path d="M377.85 363.99L381.65 366.44L385.41 370.13L387.43 367.95L389.45 365.35L385.67 362.58L381.87 360.75L379.89 361.59z" fill="#460b5e"/>
<path d="M358.52 363.34L362.34 364.38L366.15 365.80L368.20 363.33L370.23 361.18L366.41 360.67L362.61 358.95L360.59 360.46z" fill="#471063"/>
<path d="M151.73 280.66L155.40 281.88L159.08 282.90L161.44 284.45L163.75 284.23L160.08 283.07L156.40 281.07L154.06 280.78z" fill="#2e6e8e"/>
<path d="M258.91 325.13L262.65 327.64L266.40 329.34L268.56 327.62L270.71 327.20L266.97 325.28L263.23 322.79L261.07 323.94z" fill="#423f85"/>
<path d="M285.70 336.32L289.45 338.81L293.21 341.33L295.34 339.11L297.45 338.05L293.70 335.60L289.95 332.78L287.83 333.96z" fill="#46327e"/>
<path d="M312.48 348.08L316.25 350.04L320.03 351.71L322.12 349.63L324.21 348.05L320.45 345.49L316.67 343.98L314.58 345.85z" fill="#482475"/>
<path d="M178.50 290.50L182.24 294.19L185.95 296.74L188.21 295.05L190.47 293.72L186.77 292.19L183.07 289.93L180.80 290.59z" fill="#32648e"/>
<path d="M339.28 358.20L343.05 361.30L346.84 363.04L348.91 360.65L350.96 358.60L347.18 356.48L343.44 352.79L341.36 355.51z" fill="#481668"/>
<path d="M212.80 310.37L216.53 313.10L220.26 315.25L222.48 314.30L224.69 313.85L220.98 312.08L217.25 308.76L215.02 309.21z" fill="#3c4f8a"/>
<path d="M404.77 370.83L408.58 373.15L412.43 374.39L414.37 373.66L416.33 372.05L412.51 370.25L408.72 367.47L406.74 369.23z" fill="#450457"/>
<path d="M124.75 263.43L128.53 268.82L132.29 273.60L134.64 272.86L136.99 272.53L133.24 267.90L129.45 261.60L127.12 263.08z" fill="#287d8e"/>
<path d="M239.59 319.57L243.33 322.22L247.07 324.45L249.25 322.15L251.43 321.14L247.70 319.06L243.96 316.68L241.78 318.38z" fill="#3f4788"/>
<path d="M293.21 341.33L296.97 343.62L300.74 345.74L302.85 345.14L304.95 344.04L301.20 341.07L297.45 338.05L295.34 339.11z" fill="#472d7b"/>
<path d="M385.41 370.13L389.22 372.19L393.09 372.28L395.14 368.55L397.14 366.79L393.29 366.23L389.45 365.35L387.43 367.95z" fill="#46085c"/>
<path d="M266.40 329.34L270.15 332.25L273.91 334.11L276.05 332.93L278.20 331.67L274.45 329.26L270.71 327.20L268.56 327.62z" fill="#443b84"/>
<path d="M185.95 296.74L189.67 299.16L193.40 301.85L195.65 300.28L197.88 298.01L194.16 295.07L190.47 293.72L188.21 295.05z" fill="#34608d"/>
<path d="M132.29 273.60L136.00 276.54L139.68 278.12L142.02 277.38L144.36 276.85L140.67 274.79L136.99 272.53L134.64 272.86z" fill="#2a768e"/>
<path d="M320.03 351.71L323.81 353.64L327.58 356.90L329.67 354.01L331.75 352.01L327.98 350.16L324.21 348.05L322.12 349.63z" fill="#482071"/>
<path d="M366.15 365.80L369.94 368.09L373.76 369.74L375.80 367.06L377.85 363.99L374.05 362.07L370.23 361.18L368.20 363.33z" fill="#470e61"/>
<path d="M346.84 363.04L350.65 364.11L354.45 365.95L356.47 365.39L358.52 363.34L354.74 361.10L350.96 358.60L348.91 360.65z" fill="#471164"/>
<path d="M220.26 315.25L223.98 317.00L227.72 319.66L229.93 318.30L232.14 317.23L228.41 314.93L224.69 313.85L222.48 314.30z" fill="#3e4c8a"/>
<path d="M159.08 282.90L162.80 285.97L166.51 288.45L168.81 287.59L171.10 286.59L167.41 284.89L163.75 284.23L161.44 284.45z" fill="#2e6d8e"/>
<path d="M193.40 301.85L197.14 305.81L200.88 308.72L203.12 307.61L205.35 305.48L201.62 301.78L197.88 298.01L195.65 300.28z" fill="#375b8d"/>
<path d="M300.74 345.74L304.52 347.16L308.30 349.10L310.39 348.95L312.48 348.08L308.71 346.15L304.95 344.04L302.85 345.14z" fill="#482878"/>
<path d="M247.07 324.45L250.82 326.73L254.57 328.54L256.74 325.65L258.91 325.13L255.17 322.09L251.43 321.14L249.25 322.15z" fill="#414487"/>
<path d="M273.91 334.11L277.67 335.63L281.43 338.36L283.56 338.54L285.70 336.32L281.94 334.35L278.20 331.67L276.05 332.93z" fill="#453781"/>
<path d="M327.58 356.90L331.35 359.40L335.14 361.66L337.22 359.46L339.28 358.20L335.53 354.11L331.75 352.01L329.67 354.01z" fill="#481b6d"/>
<path d="M139.68 278.12L143.38 280.40L147.08 282.71L149.40 281.45L151.73 280.66L148.04 278.63L144.36 276.85L142.02 277.38z" fill="#2c738e"/>
<path d="M373.76 369.74L377.55 372.48L381.35 374.80L383.40 372.00L385.41 370.13L381.65 366.44L377.85 363.99L375.80 367.06z" fill="#460a5d"/>
<path d="M200.88 308.72L204.60 310.88L208.34 314.10L210.57 311.80L212.80 310.37L209.07 307.46L205.35 305.48L203.12 307.61z" fill="#39558c"/>
<path d="M227.72 319.66L231.47 322.70L235.21 324.63L237.40 321.94L239.59 319.57L235.86 318.91L232.14 317.23L229.93 318.30z" fill="#3e4989"/>
<path d="M354.45 365.95L358.24 368.61L362.04 370.76L364.09 368.43L366.15 365.80L362.34 364.38L358.52 363.34L356.47 365.39z" fill="#470e61"/>
<path d="M166.51 288.45L170.22 290.58L173.95 293.71L176.23 291.88L178.50 290.50L174.80 288.35L171.10 286.59L168.81 287.59z" fill="#306a8e"/>
<path d="M393.09 372.28L396.93 373.29L400.78 374.65L402.77 372.94L404.77 370.83L400.95 368.96L397.14 366.79L395.14 368.55z" fill="#46085c"/>
<path d="M335.14 361.66L338.90 365.46L342.68 368.50L344.77 365.53L346.84 363.04L343.05 361.30L339.28 358.20L337.22 359.46z" fill="#481467"/>
<path d="M281.43 338.36L285.19 341.95L288.95 344.36L291.09 342.82L293.21 341.33L289.45 338.81L285.70 336.32L283.56 338.54z" fill="#46337f"/>
<path d="M308.30 349.10L312.07 352.18L315.85 354.46L317.95 352.77L320.03 351.71L316.25 350.04L312.48 348.08L310.39 348.95z" fill="#482576"/>
<path d="M254.57 328.54L258.32 330.38L262.07 332.90L264.24 331.06L266.40 329.34L262.65 327.64L258.91 325.13L256.74 325.65z" fill="#424086"/>
<path d="M208.34 314.10L212.07 316.12L215.80 317.72L218.04 316.93L220.26 315.25L216.53 313.10L212.80 310.37L210.57 311.80z" fill="#3b518b"/>
<path d="M173.95 293.71L177.66 295.40L181.38 297.33L183.68 297.70L185.95 296.74L182.24 294.19L178.50 290.50L176.23 291.88z" fill="#31668e"/>
<path d="M381.35 374.80L385.18 376.34L389.03 377.38L391.06 374.84L393.09 372.28L389.22 372.19L385.41 370.13L383.40 372.00z" fill="#450559"/>
<path d="M147.08 282.71L150.77 284.26L154.48 286.58L156.76 283.62L159.08 282.90L155.40 281.88L151.73 280.66L149.40 281.45z" fill="#2c718e"/>
<path d="M235.21 324.63L238.94 325.34L242.69 328.18L244.89 326.35L247.07 324.45L243.33 322.22L239.59 319.57L237.40 321.94z" fill="#3f4788"/>
<path d="M362.04 370.76L365.86 372.03L369.67 374.31L371.71 372.21L373.76 369.74L369.94 368.09L366.15 365.80L364.09 368.43z" fill="#460b5e"/>
<path d="M400.78 374.65L404.64 375.54L408.50 376.79L410.47 375.42L412.43 374.39L408.58 373.15L404.77 370.83L402.77 372.94z" fill="#46075a"/>
<path d="M342.68 368.50L346.49 369.79L350.29 372.13L352.38 368.78L354.45 365.95L350.65 364.11L346.84 363.04L344.77 365.53z" fill="#471164"/>
<path d="M120.05 266.12L123.88 273.16L127.67 278.31L129.99 276.16L132.29 273.60L128.53 268.82L124.75 263.43L122.39 264.55z" fill="#277e8e"/>
<path d="M288.95 344.36L292.73 346.51L296.51 348.17L298.63 347.13L300.74 345.74L296.97 343.62L293.21 341.33L291.09 342.82z" fill="#472e7c"/>
<path d="M315.85 354.46L319.63 357.07L323.40 360.04L325.49 358.48L327.58 356.90L323.81 353.64L320.03 351.71L317.95 352.77z" fill="#482173"/>
<path d="M262.07 332.90L265.83 334.62L269.59 337.69L271.75 335.40L273.91 334.11L270.15 332.25L266.40 329.34L264.24 331.06z" fill="#433d84"/>
<path d="M181.38 297.33L185.12 300.72L188.87 304.10L191.14 303.38L193.40 301.85L189.67 299.16L185.95 296.74L183.68 297.70z" fill="#33628d"/>
<path d="M127.67 278.31L131.35 279.93L135.03 281.50L137.37 280.08L139.68 278.12L136.00 276.54L132.29 273.60L129.99 276.16z" fill="#2a778e"/>
<path d="M215.80 317.72L219.55 320.98L223.30 324.10L225.51 321.58L227.72 319.66L223.98 317.00L220.26 315.25L218.04 316.93z" fill="#3d4e8a"/>
<path d="M242.69 328.18L246.45 331.87L250.20 333.15L252.39 330.70L254.57 328.54L250.82 326.73L247.07 324.45L244.89 326.35z" fill="#414487"/>
<path d="M154.48 286.58L158.21 289.46L161.90 290.49L164.20 288.80L166.51 288.45L162.80 285.97L159.08 282.90L156.76 283.62z" fill="#2d708e"/>
<path d="M188.87 304.10L192.61 307.02L196.36 311.04L198.63 310.10L200.88 308.72L197.14 305.81L193.40 301.85L191.14 303.38z" fill="#365c8d"/>
<path d="M369.67 374.31L373.46 377.33L377.28 379.26L379.31 377.47L381.35 374.80L377.55 372.48L373.76 369.74L371.71 372.21z" fill="#46075a"/>
<path d="M323.40 360.04L327.20 361.67L330.99 364.62L333.06 363.68L335.14 361.66L331.35 359.40L327.58 356.90L325.49 358.48z" fill="#481c6e"/>
<path d="M350.29 372.13L354.09 374.49L357.91 375.80L359.98 372.97L362.04 370.76L358.24 368.61L354.45 365.95L352.38 368.78z" fill="#470d60"/>
<path d="M389.03 377.38L392.89 378.09L396.75 379.25L398.78 376.51L400.78 374.65L396.93 373.29L393.09 372.28L391.06 374.84z" fill="#46075a"/>
<path d="M269.59 337.69L273.36 340.17L277.13 342.57L279.28 340.45L281.43 338.36L277.67 335.63L273.91 334.11L271.75 335.40z" fill="#443983"/>
<path d="M296.51 348.17L300.28 350.77L304.06 352.99L306.18 350.91L308.30 349.10L304.52 347.16L300.74 345.74L298.63 347.13z" fill="#472c7a"/>
<path d="M223.30 324.10L227.05 326.49L230.79 328.60L233.01 327.12L235.21 324.63L231.47 322.70L227.72 319.66L225.51 321.58z" fill="#3e4989"/>
<path d="M135.03 281.50L138.75 284.17L142.43 285.48L144.77 284.38L147.08 282.71L143.38 280.40L139.68 278.12L137.37 280.08z" fill="#2b758e"/>
<path d="M196.36 311.04L200.11 313.87L203.84 316.21L206.10 315.40L208.34 314.10L204.60 310.88L200.88 308.72L198.63 310.10z" fill="#39568c"/>
<path d="M330.99 364.62L334.76 368.26L338.56 370.55L340.61 370.45L342.68 368.50L338.90 365.46L335.14 361.66L333.06 363.68z" fill="#481668"/>
<path d="M161.90 290.49L165.62 292.53L169.34 294.62L171.64 293.88L173.95 293.71L170.22 290.58L166.51 288.45L164.20 288.80z" fill="#2f6c8e"/>
<path d="M250.20 333.15L253.96 335.16L257.73 338.05L259.90 335.42L262.07 332.90L258.32 330.38L254.57 328.54L252.39 330.70z" fill="#424086"/>
<path d="M277.13 342.57L280.90 344.83L284.68 346.89L286.82 346.09L288.95 344.36L285.19 341.95L281.43 338.36L279.28 340.45z" fill="#463480"/>
<path d="M377.28 379.26L381.14 380.09L384.98 381.41L387.00 379.64L389.03 377.38L385.18 376.34L381.35 374.80L379.31 377.47z" fill="#450559"/>
<path d="M304.06 352.99L307.84 355.64L311.64 356.88L313.75 355.79L315.85 354.46L312.07 352.18L308.30 349.10L306.18 350.91z" fill="#482878"/>
<path d="M203.84 316.21L207.59 318.75L211.34 321.48L213.57 319.42L215.80 317.72L212.07 316.12L208.34 314.10L206.10 315.40z" fill="#3b528b"/>
<path d="M357.91 375.80L361.75 376.71L365.58 378.35L367.64 375.89L369.67 374.31L365.86 372.03L362.04 370.76L359.98 372.97z" fill="#460b5e"/>
<path d="M230.79 328.60L234.54 329.93L238.29 331.65L240.50 329.96L242.69 328.18L238.94 325.34L235.21 324.63L233.01 327.12z" fill="#3f4788"/>
<path d="M142.43 285.48L146.13 287.20L149.86 289.82L152.17 288.16L154.48 286.58L150.77 284.26L147.08 282.71L144.77 284.38z" fill="#2c728e"/>
<path d="M338.56 370.55L342.36 372.85L346.16 375.55L348.23 373.88L350.29 372.13L346.49 369.79L342.68 368.50L340.61 370.45z" fill="#471063"/>
<path d="M169.34 294.62L173.08 297.57L176.81 299.82L179.09 298.18L181.38 297.33L177.66 295.40L173.95 293.71L171.64 293.88z" fill="#30698e"/>
<path d="M396.75 379.25L400.58 381.45L404.49 381.06L406.49 379.18L408.50 376.79L404.64 375.54L400.78 374.65L398.78 376.51z" fill="#46075a"/>
<path d="M257.73 338.05L261.49 339.50L265.26 340.48L267.43 339.51L269.59 337.69L265.83 334.62L262.07 332.90L259.90 335.42z" fill="#433d84"/>
<path d="M115.28 267.54L119.11 273.80L122.93 280.07L125.30 278.96L127.67 278.31L123.88 273.16L120.05 266.12L117.67 267.07z" fill="#27808e"/>
<path d="M284.68 346.89L288.46 349.06L292.24 351.58L294.38 349.56L296.51 348.17L292.73 346.51L288.95 344.36L286.82 346.09z" fill="#46307e"/>
<path d="M311.64 356.88L315.44 358.75L319.23 361.73L321.32 360.91L323.40 360.04L319.63 357.07L315.85 354.46L313.75 355.79z" fill="#482475"/>
<path d="M122.93 280.07L126.63 282.14L130.33 283.73L132.69 282.91L135.03 281.50L131.35 279.93L127.67 278.31L125.30 278.96z" fill="#2a788e"/>
<path d="M211.34 321.48L215.09 324.40L218.85 327.25L221.08 326.19L223.30 324.10L219.55 320.98L215.80 317.72L213.57 319.42z" fill="#3d4e8a"/>
<path d="M238.29 331.65L242.06 334.63L245.82 338.27L248.02 335.46L250.20 333.15L246.45 331.87L242.69 328.18L240.50 329.96z" fill="#414287"/>
<path d="M176.81 299.82L180.56 303.45L184.32 306.68L186.59 305.28L188.87 304.10L185.12 300.72L181.38 297.33L179.09 298.18z" fill="#32658e"/>
<path d="M365.58 378.35L369.39 380.94L373.21 383.02L375.26 380.86L377.28 379.26L373.46 377.33L369.67 374.31L367.64 375.89z" fill="#46075a"/>
<path d="M149.86 289.82L153.58 292.06L157.30 294.19L159.61 292.75L161.90 290.49L158.21 289.46L154.48 286.58L152.17 288.16z" fill="#2d708e"/>
<path d="M346.16 375.55L349.95 378.80L353.76 381.37L355.85 377.69L357.91 375.80L354.09 374.49L350.29 372.13L348.23 373.88z" fill="#460b5e"/>
<path d="M384.98 381.41L388.85 382.35L392.72 383.24L394.74 380.89L396.75 379.25L392.89 378.09L389.03 377.38L387.00 379.64z" fill="#450559"/>
<path d="M319.23 361.73L323.01 365.01L326.80 368.40L328.90 366.19L330.99 364.62L327.20 361.67L323.40 360.04L321.32 360.91z" fill="#481d6f"/>
<path d="M265.26 340.48L269.03 342.76L272.81 344.92L274.98 343.05L277.13 342.57L273.36 340.17L269.59 337.69L267.43 339.51z" fill="#443a83"/>
<path d="M218.85 327.25L222.61 330.27L226.36 331.90L228.57 329.38L230.79 328.60L227.05 326.49L223.30 324.10L221.08 326.19z" fill="#3e4989"/>
<path d="M292.24 351.58L296.02 354.00L299.81 356.76L301.93 355.30L304.06 352.99L300.28 350.77L296.51 348.17L294.38 349.56z" fill="#472d7b"/>
<path d="M184.32 306.68L188.05 308.83L191.80 311.69L194.08 311.05L196.36 311.04L192.61 307.02L188.87 304.10L186.59 305.28z" fill="#355f8d"/>
<path d="M130.33 283.73L134.02 285.34L137.74 287.47L140.09 286.64L142.43 285.48L138.75 284.17L135.03 281.50L132.69 282.91z" fill="#2a768e"/>
<path d="M245.82 338.27L249.59 340.04L253.35 340.38L255.54 339.07L257.73 338.05L253.96 335.16L250.20 333.15L248.02 335.46z" fill="#423f85"/>
<path d="M326.80 368.40L330.58 372.06L334.39 374.07L336.48 372.03L338.56 370.55L334.76 368.26L330.99 364.62L328.90 366.19z" fill="#481769"/>
<path d="M157.30 294.19L161.03 296.58L164.75 298.27L167.06 296.98L169.34 294.62L165.62 292.53L161.90 290.49L159.61 292.75z" fill="#2e6e8e"/>
<path d="M191.80 311.69L195.56 314.90L199.31 317.56L201.58 316.83L203.84 316.21L200.11 313.87L196.36 311.04L194.08 311.05z" fill="#375a8c"/>
<path d="M373.21 383.02L377.08 383.46L380.91 385.76L382.96 383.24L384.98 381.41L381.14 380.09L377.28 379.26L375.26 380.86z" fill="#450559"/>
<path d="M353.76 381.37L357.60 382.24L361.43 384.14L363.51 381.19L365.58 378.35L361.75 376.71L357.91 375.80L355.85 377.69z" fill="#46085c"/>
<path d="M299.81 356.76L303.60 358.89L307.40 360.60L309.53 358.79L311.64 356.88L307.84 355.64L304.06 352.99L301.93 355.30z" fill="#482878"/>
<path d="M272.81 344.92L276.59 346.63L280.38 348.39L282.53 347.22L284.68 346.89L280.90 344.83L277.13 342.57L274.98 343.05z" fill="#453781"/>
<path d="M226.36 331.90L230.11 333.24L233.88 336.02L236.09 333.68L238.29 331.65L234.54 329.93L230.79 328.60L228.57 329.38z" fill="#3f4788"/>
<path d="M199.31 317.56L203.08 321.04L206.86 325.81L209.10 323.54L211.34 321.48L207.59 318.75L203.84 316.21L201.58 316.83z" fill="#3a548c"/>
<path d="M392.72 383.24L396.61 383.67L400.45 385.72L402.47 383.38L404.49 381.06L400.58 381.45L396.75 379.25L394.74 380.89z" fill="#46075a"/>
<path d="M334.39 374.07L338.20 376.32L342.00 379.72L344.08 377.48L346.16 375.55L342.36 372.85L338.56 370.55L336.48 372.03z" fill="#471164"/>
<path d="M137.74 287.47L141.45 289.16L145.18 291.68L147.53 291.13L149.86 289.82L146.13 287.20L142.43 285.48L140.09 286.64z" fill="#2b748e"/>
<path d="M253.35 340.38L257.13 341.90L260.90 344.73L263.08 342.47L265.26 340.48L261.49 339.50L257.73 338.05L255.54 339.07z" fill="#433e85"/>
<path d="M164.75 298.27L168.47 299.93L172.21 302.10L174.51 301.18L176.81 299.82L173.08 297.57L169.34 294.62L167.06 296.98z" fill="#2f6b8e"/>
<path d="M206.86 325.81L210.62 328.69L214.36 329.33L216.61 328.36L218.85 327.25L215.09 324.40L211.34 321.48L209.10 323.54z" fill="#3c4f8a"/>
<path d="M280.38 348.39L284.16 351.62L287.95 354.64L290.10 353.18L292.24 351.58L288.46 349.06L284.68 346.89L282.53 347.22z" fill="#46337f"/>
<path d="M307.40 360.60L311.20 363.00L315.00 365.69L317.11 363.84L319.23 361.73L315.44 358.75L311.64 356.88L309.53 358.79z" fill="#482576"/>
<path d="M361.43 384.14L365.26 385.94L369.12 386.83L371.16 385.51L373.21 383.02L369.39 380.94L365.58 378.35L363.51 381.19z" fill="#46075a"/>
<path d="M233.88 336.02L237.64 338.06L241.41 339.99L243.62 339.27L245.82 338.27L242.06 334.63L238.29 331.65L236.09 333.68z" fill="#414487"/>
<path d="M342.00 379.72L345.79 383.04L349.62 384.87L351.68 383.59L353.76 381.37L349.95 378.80L346.16 375.55L344.08 377.48z" fill="#460b5e"/>
<path d="M380.91 385.76L384.75 387.92L388.61 389.15L390.66 386.47L392.72 383.24L388.85 382.35L384.98 381.41L382.96 383.24z" fill="#450457"/>
<path d="M110.45 267.97L114.33 275.37L118.14 280.60L120.54 280.54L122.93 280.07L119.11 273.80L115.28 267.54L112.89 268.45z" fill="#26828e"/>
<path d="M118.14 280.60L121.86 283.25L125.56 284.70L127.94 284.01L130.33 283.73L126.63 282.14L122.93 280.07L120.54 280.54z" fill="#297b8e"/>
<path d="M172.21 302.10L175.96 304.81L179.72 307.95L182.02 307.12L184.32 306.68L180.56 303.45L176.81 299.82L174.51 301.18z" fill="#31678e"/>
<path d="M145.18 291.68L148.90 293.78L152.64 296.14L154.97 295.00L157.30 294.19L153.58 292.06L149.86 289.82L147.53 291.13z" fill="#2c718e"/>
<path d="M315.00 365.69L318.80 368.46L322.60 371.78L324.70 369.74L326.80 368.40L323.01 365.01L319.23 361.73L317.11 363.84z" fill="#481f70"/>
<path d="M287.95 354.64L291.75 357.00L295.54 359.10L297.68 357.52L299.81 356.76L296.02 354.00L292.24 351.58L290.10 353.18z" fill="#472e7c"/>
<path d="M260.90 344.73L264.69 346.04L268.47 347.73L270.65 345.80L272.81 344.92L269.03 342.76L265.26 340.48L263.08 342.47z" fill="#443b84"/>
<path d="M214.36 329.33L218.12 331.71L221.90 335.05L224.13 333.60L226.36 331.90L222.61 330.27L218.85 327.25L216.61 328.36z" fill="#3e4a89"/>
<path d="M179.72 307.95L183.47 310.85L187.25 314.55L189.52 312.97L191.80 311.69L188.05 308.83L184.32 306.68L182.02 307.12z" fill="#33628d"/>
<path d="M241.41 339.99L245.19 342.49L248.96 343.38L251.16 341.44L253.35 340.38L249.59 340.04L245.82 338.27L243.62 339.27z" fill="#424086"/>
<path d="M322.60 371.78L326.39 375.60L330.20 377.63L332.30 376.21L334.39 374.07L330.58 372.06L326.80 368.40L324.70 369.74z" fill="#48186a"/>
<path d="M349.62 384.87L353.47 385.65L357.35 385.70L359.38 385.40L361.43 384.14L357.60 382.24L353.76 381.37L351.68 383.59z" fill="#46085c"/>
<path d="M369.12 386.83L372.98 388.18L376.83 389.90L378.87 387.68L380.91 385.76L377.08 383.46L373.21 383.02L371.16 385.51z" fill="#450559"/>
<path d="M152.64 296.14L156.36 297.84L160.09 299.73L162.44 299.88L164.75 298.27L161.03 296.58L157.30 294.19L154.97 295.00z" fill="#2e6f8e"/>
<path d="M125.56 284.70L129.27 286.66L133.01 289.12L135.37 287.92L137.74 287.47L134.02 285.34L130.33 283.73L127.94 284.01z" fill="#29798e"/>
<path d="M187.25 314.55L191.02 318.10L194.79 321.55L197.05 319.44L199.31 317.56L195.56 314.90L191.80 311.69L189.52 312.97z" fill="#365c8d"/>
<path d="M388.61 389.15L392.50 389.80L396.41 389.91L398.45 387.18L400.45 385.72L396.61 383.67L392.72 383.24L390.66 386.47z" fill="#450559"/>
<path d="M221.90 335.05L225.66 336.58L229.42 338.00L231.66 337.84L233.88 336.02L230.11 333.24L226.36 331.90L224.13 333.60z" fill="#3f4889"/>
<path d="M295.54 359.10L299.35 360.45L303.16 362.91L305.29 361.21L307.40 360.60L303.60 358.89L299.81 356.76L297.68 357.52z" fill="#472a7a"/>
<path d="M268.47 347.73L272.26 349.75L276.05 351.51L278.22 349.51L280.38 348.39L276.59 346.63L272.81 344.92L270.65 345.80z" fill="#443983"/>
<path d="M194.79 321.55L198.57 325.39L202.33 327.88L204.61 327.46L206.86 325.81L203.08 321.04L199.31 317.56L197.05 319.44z" fill="#39558c"/>
<path d="M330.20 377.63L334.01 380.39L337.83 382.79L339.91 381.51L342.00 379.72L338.20 376.32L334.39 374.07L332.30 376.21z" fill="#471365"/>
<path d="M133.01 289.12L136.75 291.82L140.47 293.81L142.83 292.61L145.18 291.68L141.45 289.16L137.74 287.47L135.37 287.92z" fill="#2a778e"/>
<path d="M248.96 343.38L252.74 343.87L256.52 346.27L258.72 344.94L260.90 344.73L257.13 341.90L253.35 340.38L251.16 341.44z" fill="#424086"/>
<path d="M160.09 299.73L163.84 302.55L167.59 304.97L169.90 303.55L172.21 302.10L168.47 299.93L164.75 298.27L162.44 299.88z" fill="#2e6d8e"/>
<path d="M202.33 327.88L206.10 330.65L209.87 333.22L212.12 331.86L214.36 329.33L210.62 328.69L206.86 325.81L204.61 327.46z" fill="#3c508b"/>
<path d="M376.83 389.90L380.70 391.03L384.57 392.38L386.59 390.89L388.61 389.15L384.75 387.92L380.91 385.76L378.87 387.68z" fill="#450457"/>
<path d="M303.16 362.91L306.96 365.92L310.75 369.58L312.88 367.61L315.00 365.69L311.20 363.00L307.40 360.60L305.29 361.21z" fill="#482677"/>
<path d="M357.35 385.70L361.20 386.88L365.04 389.36L367.09 387.84L369.12 386.83L365.26 385.94L361.43 384.14L359.38 385.40z" fill="#46085c"/>
<path d="M276.05 351.51L279.85 354.14L283.64 357.96L285.80 356.07L287.95 354.64L284.16 351.62L280.38 348.39L278.22 349.51z" fill="#463480"/>
<path d="M229.42 338.00L233.20 340.68L236.98 343.02L239.20 341.31L241.41 339.99L237.64 338.06L233.88 336.02L231.66 337.84z" fill="#404588"/>
<path d="M337.83 382.79L341.66 384.72L345.49 387.27L347.57 385.65L349.62 384.87L345.79 383.04L342.00 379.72L339.91 381.51z" fill="#470d60"/>
<path d="M310.75 369.58L314.56 372.89L318.36 376.37L320.47 374.69L322.60 371.78L318.80 368.46L315.00 365.69L312.88 367.61z" fill="#481f70"/>
<path d="M167.59 304.97L171.35 307.83L175.11 310.32L177.41 308.98L179.72 307.95L175.96 304.81L172.21 302.10L169.90 303.55z" fill="#30698e"/>
<path d="M113.35 282.57L117.11 285.77L120.83 287.89L123.19 286.10L125.56 284.70L121.86 283.25L118.14 280.60L115.73 280.88z" fill="#277e8e"/>
<path d="M105.61 269.08L109.50 276.22L113.35 282.57L115.73 280.88L118.14 280.60L114.33 275.37L110.45 267.97L108.04 268.61z" fill="#24868e"/>
<path d="M140.47 293.81L144.19 295.13L147.93 297.59L150.29 296.98L152.64 296.14L148.90 293.78L145.18 291.68L142.83 292.61z" fill="#2b748e"/>
<path d="M256.52 346.27L260.31 348.99L264.11 351.47L266.29 350.47L268.47 347.73L264.69 346.04L260.90 344.73L258.72 344.94z" fill="#433d84"/>
<path d="M283.64 357.96L287.44 360.60L291.25 362.15L293.40 360.95L295.54 359.10L291.75 357.00L287.95 354.64L285.80 356.07z" fill="#472f7d"/>
<path d="M209.87 333.22L213.64 335.81L217.41 337.97L219.66 336.51L221.90 335.05L218.12 331.71L214.36 329.33L212.12 331.86z" fill="#3d4d8a"/>
<path d="M318.36 376.37L322.17 378.83L325.99 381.70L328.09 379.95L330.20 377.63L326.39 375.60L322.60 371.78L320.47 374.69z" fill="#48186a"/>
<path d="M236.98 343.02L240.76 346.21L244.55 348.01L246.76 345.75L248.96 343.38L245.19 342.49L241.41 339.99L239.20 341.31z" fill="#424186"/>
<path d="M365.04 389.36L368.85 392.78L372.70 395.01L374.78 391.63L376.83 389.90L372.98 388.18L369.12 386.83L367.09 387.84z" fill="#450559"/>
<path d="M175.11 310.32L178.88 313.30L182.64 316.07L184.94 314.71L187.25 314.55L183.47 310.85L179.72 307.95L177.41 308.98z" fill="#32648e"/>
<path d="M345.49 387.27L349.34 388.65L353.19 390.30L355.28 387.26L357.35 385.70L353.47 385.65L349.62 384.87L347.57 385.65z" fill="#460b5e"/>
<path d="M384.57 392.38L388.45 393.24L392.35 394.20L394.39 391.83L396.41 389.91L392.50 389.80L388.61 389.15L386.59 390.89z" fill="#450457"/>
<path d="M120.83 287.89L124.57 290.42L128.30 292.71L130.65 290.61L133.01 289.12L129.27 286.66L125.56 284.70L123.19 286.10z" fill="#297b8e"/>
<path d="M182.64 316.07L186.44 320.26L190.22 324.02L192.51 323.05L194.79 321.55L191.02 318.10L187.25 314.55L184.94 314.71z" fill="#355e8d"/>
<path d="M147.93 297.59L151.68 300.04L155.40 300.94L157.75 300.27L160.09 299.73L156.36 297.84L152.64 296.14L150.29 296.98z" fill="#2c718e"/>
<path d="M291.25 362.15L295.07 363.47L298.86 367.71L301.01 365.66L303.16 362.91L299.35 360.45L295.54 359.10L293.40 360.95z" fill="#472c7a"/>
<path d="M217.41 337.97L221.17 339.08L224.96 342.17L227.19 339.87L229.42 338.00L225.66 336.58L221.90 335.05L219.66 336.51z" fill="#3e4989"/>
<path d="M264.11 351.47L267.90 353.16L271.70 354.81L273.88 353.27L276.05 351.51L272.26 349.75L268.47 347.73L266.29 350.47z" fill="#443a83"/>
<path d="M325.99 381.70L329.81 384.04L333.66 385.30L335.74 384.46L337.83 382.79L334.01 380.39L330.20 377.63L328.09 379.95z" fill="#471365"/>
<path d="M190.22 324.02L194.00 327.45L197.77 329.79L200.05 328.25L202.33 327.88L198.57 325.39L194.79 321.55L192.51 323.05z" fill="#38588c"/>
<path d="M244.55 348.01L248.33 349.38L252.12 350.27L254.32 347.85L256.52 346.27L252.74 343.87L248.96 343.38L246.76 345.75z" fill="#424086"/>
<path d="M372.70 395.01L376.60 395.10L380.51 395.18L382.52 394.59L384.57 392.38L380.70 391.03L376.83 389.90L374.78 391.63z" fill="#450457"/>
<path d="M128.30 292.71L132.02 294.29L135.74 295.91L138.11 294.85L140.47 293.81L136.75 291.82L133.01 289.12L130.65 290.61z" fill="#2a788e"/>
<path d="M298.86 367.71L302.68 369.59L306.51 371.33L308.63 370.83L310.75 369.58L306.96 365.92L303.16 362.91L301.01 365.66z" fill="#482878"/>
<path d="M155.40 300.94L159.16 303.85L162.96 307.88L165.27 305.92L167.59 304.97L163.84 302.55L160.09 299.73L157.75 300.27z" fill="#2e6f8e"/>
<path d="M224.96 342.17L228.74 344.62L232.53 347.36L234.76 345.38L236.98 343.02L233.20 340.68L229.42 338.00L227.19 339.87z" fill="#404688"/>
<path d="M353.19 390.30L357.04 392.08L360.91 393.01L362.99 390.76L365.04 389.36L361.20 386.88L357.35 385.70L355.28 387.26z" fill="#460a5d"/>
<path d="M271.70 354.81L275.51 356.86L279.31 360.41L281.48 359.22L283.64 357.96L279.85 354.14L276.05 351.51L273.88 353.27z" fill="#453781"/>
<path d="M197.77 329.79L201.54 331.86L205.32 334.23L207.60 334.03L209.87 333.22L206.10 330.65L202.33 327.88L200.05 328.25z" fill="#3a538b"/>
<path d="M333.66 385.30L337.49 387.47L341.31 390.69L343.41 388.41L345.49 387.27L341.66 384.72L337.83 382.79L335.74 384.46z" fill="#471063"/>
<path d="M306.51 371.33L310.32 374.45L314.14 377.75L316.26 376.12L318.36 376.37L314.56 372.89L310.75 369.58L308.63 370.83z" fill="#482173"/>
<path d="M108.57 285.41L112.31 287.87L116.07 291.04L118.47 289.99L120.83 287.89L117.11 285.77L113.35 282.57L110.97 284.04z" fill="#27808e"/>
<path d="M162.96 307.88L166.70 309.75L170.46 311.78L172.79 311.07L175.11 310.32L171.35 307.83L167.59 304.97L165.27 305.92z" fill="#2f6b8e"/>
<path d="M279.31 360.41L283.12 363.91L286.93 365.83L289.09 364.26L291.25 362.15L287.44 360.60L283.64 357.96L281.48 359.22z" fill="#46307e"/>
<path d="M252.12 350.27L255.92 351.27L259.72 353.54L261.92 352.16L264.11 351.47L260.31 348.99L256.52 346.27L254.32 347.85z" fill="#423f85"/>
<path d="M135.74 295.91L139.50 298.47L143.26 301.18L145.57 298.34L147.93 297.59L144.19 295.13L140.47 293.81L138.11 294.85z" fill="#2a768e"/>
<path d="M205.32 334.23L209.10 337.37L212.89 339.93L215.16 339.85L217.41 337.97L213.64 335.81L209.87 333.22L207.60 334.03z" fill="#3c4f8a"/>
<path d="M100.71 268.93L104.67 278.03L108.57 285.41L110.97 284.04L113.35 282.57L109.50 276.22L105.61 269.08L103.21 270.43z" fill="#23898e"/>
<path d="M232.53 347.36L236.32 348.93L240.10 350.34L242.33 349.23L244.55 348.01L240.76 346.21L236.98 343.02L234.76 345.38z" fill="#414287"/>
<path d="M360.91 393.01L364.76 395.13L368.62 397.02L370.65 396.70L372.70 395.01L368.85 392.78L365.04 389.36L362.99 390.76z" fill="#46075a"/>
<path d="M314.14 377.75L317.95 381.41L321.76 385.38L323.88 383.05L325.99 381.70L322.17 378.83L318.36 376.37L316.26 376.12z" fill="#481a6c"/>
<path d="M341.31 390.69L345.17 392.16L349.01 394.49L351.09 393.14L353.19 390.30L349.34 388.65L345.49 387.27L343.41 388.41z" fill="#460b5e"/>
<path d="M380.51 395.18L384.42 395.50L388.30 397.04L390.30 396.45L392.35 394.20L388.45 393.24L384.57 392.38L382.52 394.59z" fill="#450559"/>
<path d="M116.07 291.04L119.80 292.84L123.58 296.43L125.96 295.19L128.30 292.71L124.57 290.42L120.83 287.89L118.47 289.99z" fill="#287c8e"/>
<path d="M170.46 311.78L174.24 314.72L178.01 317.18L180.33 316.88L182.64 316.07L178.88 313.30L175.11 310.32L172.79 311.07z" fill="#31678e"/>
<path d="M286.93 365.83L290.74 368.89L294.56 371.12L296.71 370.21L298.86 367.71L295.07 363.47L291.25 362.15L289.09 364.26z" fill="#472d7b"/>
<path d="M212.89 339.93L216.66 341.30L220.45 343.53L222.71 342.51L224.96 342.17L221.17 339.08L217.41 337.97L215.16 339.85z" fill="#3e4c8a"/>
<path d="M321.76 385.38L325.60 386.97L329.44 389.06L331.56 386.35L333.66 385.30L329.81 384.04L325.99 381.70L323.88 383.05z" fill="#481668"/>
<path d="M143.26 301.18L146.98 302.37L150.73 304.49L153.05 302.06L155.40 300.94L151.68 300.04L147.93 297.59L145.57 298.34z" fill="#2b748e"/>
<path d="M178.01 317.18L181.80 320.69L185.61 325.60L187.92 324.98L190.22 324.02L186.44 320.26L182.64 316.07L180.33 316.88z" fill="#34618d"/>
<path d="M259.72 353.54L263.52 354.74L267.34 356.13L269.52 354.64L271.70 354.81L267.90 353.16L264.11 351.47L261.92 352.16z" fill="#433d84"/>
<path d="M240.10 350.34L243.90 351.94L247.70 354.73L249.91 352.81L252.12 350.27L248.33 349.38L244.55 348.01L242.33 349.23z" fill="#424086"/>
<path d="M185.61 325.60L189.42 329.65L193.20 332.62L195.49 331.04L197.77 329.79L194.00 327.45L190.22 324.02L187.92 324.98z" fill="#375a8c"/>
<path d="M349.01 394.49L352.87 396.40L356.75 397.28L358.83 395.33L360.91 393.01L357.04 392.08L353.19 390.30L351.09 393.14z" fill="#460a5d"/>
<path d="M123.58 296.43L127.30 297.94L131.01 298.75L133.39 297.74L135.74 295.91L132.02 294.29L128.30 292.71L125.96 295.19z" fill="#29798e"/>
<path d="M368.62 397.02L372.54 396.92L376.45 397.15L378.48 396.29L380.51 395.18L376.60 395.10L372.70 395.01L370.65 396.70z" fill="#46075a"/>
<path d="M294.56 371.12L298.39 372.68L302.21 375.76L304.36 373.68L306.51 371.33L302.68 369.59L298.86 367.71L296.71 370.21z" fill="#482878"/>
<path d="M150.73 304.49L154.52 307.85L158.30 311.00L160.64 309.92L162.96 307.88L159.16 303.85L155.40 300.94L153.05 302.06z" fill="#2d718e"/>
<path d="M220.45 343.53L224.25 346.64L228.04 349.25L230.29 347.63L232.53 347.36L228.74 344.62L224.96 342.17L222.71 342.51z" fill="#3f4889"/>
<path d="M193.20 332.62L196.99 335.84L200.79 339.28L203.05 336.54L205.32 334.23L201.54 331.86L197.77 329.79L195.49 331.04z" fill="#3a548c"/>
<path d="M329.44 389.06L333.28 391.28L337.13 393.57L339.23 391.86L341.31 390.69L337.49 387.47L333.66 385.30L331.56 386.35z" fill="#471164"/>
<path d="M267.34 356.13L271.15 358.75L274.96 363.25L277.14 361.74L279.31 360.41L275.51 356.86L271.70 354.81L269.52 354.64z" fill="#443983"/>
<path d="M302.21 375.76L306.02 380.14L309.84 384.01L311.98 381.70L314.14 377.75L310.32 374.45L306.51 371.33L304.36 373.68z" fill="#482173"/>
<path d="M247.70 354.73L251.50 356.59L255.31 359.06L257.52 356.53L259.72 353.54L255.92 351.27L252.12 350.27L249.91 352.81z" fill="#423f85"/>
<path d="M274.96 363.25L278.77 367.92L282.59 370.62L284.76 368.09L286.93 365.83L283.12 363.91L279.31 360.41L277.14 361.74z" fill="#46327e"/>
<path d="M158.30 311.00L162.06 313.05L165.81 314.80L168.13 312.86L170.46 311.78L166.70 309.75L162.96 307.88L160.64 309.92z" fill="#2e6d8e"/>
<path d="M131.01 298.75L134.76 300.84L138.53 303.74L140.90 302.45L143.26 301.18L139.50 298.47L135.74 295.91L133.39 297.74z" fill="#2a778e"/>
<path d="M309.84 384.01L313.67 386.41L317.51 388.98L319.63 387.20L321.76 385.38L317.95 381.41L314.14 377.75L311.98 381.70z" fill="#481a6c"/>
<path d="M200.79 339.28L204.57 341.14L208.36 343.82L210.62 341.32L212.89 339.93L209.10 337.37L205.32 334.23L203.05 336.54z" fill="#3c508b"/>
<path d="M228.04 349.25L231.84 351.89L235.64 353.68L237.88 352.22L240.10 350.34L236.32 348.93L232.53 347.36L230.29 347.63z" fill="#414487"/>
<path d="M337.13 393.57L340.98 395.48L344.82 398.40L346.92 396.57L349.01 394.49L345.17 392.16L341.31 390.69L339.23 391.86z" fill="#470d60"/>
<path d="M356.75 397.28L360.65 397.58L364.54 398.36L366.60 397.13L368.62 397.02L364.76 395.13L360.91 393.01L358.83 395.33z" fill="#460a5d"/>
<path d="M111.29 293.93L115.02 295.87L118.79 298.95L121.17 297.15L123.58 296.43L119.80 292.84L116.07 291.04L113.68 292.38z" fill="#287d8e"/>
<path d="M282.59 370.62L286.42 371.79L290.25 373.86L292.41 372.13L294.56 371.12L290.74 368.89L286.93 365.83L284.76 368.09z" fill="#472d7b"/>
<path d="M102.95 264.04L107.53 291.19L111.29 293.93L113.68 292.38L116.07 291.04L112.31 287.87L108.57 285.41L105.90 278.56z" fill="#25858e"/>
<path d="M376.45 397.15L380.36 397.93L384.27 398.86L386.30 397.31L388.30 397.04L384.42 395.50L380.51 395.18L378.48 396.29z" fill="#460a5d"/>
<path d="M165.81 314.80L169.59 317.27L173.38 320.40L175.71 319.20L178.01 317.18L174.24 314.72L170.46 311.78L168.13 312.86z" fill="#30698e"/>
<path d="M138.53 303.74L142.31 306.95L146.10 310.15L148.41 307.06L150.73 304.49L146.98 302.37L143.26 301.18L140.90 302.45z" fill="#2b748e"/>
<path d="M317.51 388.98L321.34 391.68L325.19 393.39L327.31 391.52L329.44 389.06L325.60 386.97L321.76 385.38L319.63 387.20z" fill="#481668"/>
<path d="M255.31 359.06L259.12 360.37L262.94 361.95L265.14 359.29L267.34 356.13L263.52 354.74L259.72 353.54L257.52 356.53z" fill="#433d84"/>
<path d="M208.36 343.82L212.15 345.77L215.95 348.34L218.20 345.44L220.45 343.53L216.66 341.30L212.89 339.93L210.62 341.32z" fill="#3d4d8a"/>
<path d="M235.64 353.68L239.45 355.96L243.26 358.79L245.48 356.14L247.70 354.73L243.90 351.94L240.10 350.34L237.88 352.22z" fill="#424186"/>
<path d="M173.38 320.40L177.17 323.49L180.98 327.24L183.29 325.99L185.61 325.60L181.80 320.69L178.01 317.18L175.71 319.20z" fill="#32648e"/>
<path d="M344.82 398.40L348.68 400.61L352.56 401.65L354.66 399.32L356.75 397.28L352.87 396.40L349.01 394.49L346.92 396.57z" fill="#460a5d"/>
<path d="M180.98 327.24L184.81 332.39L188.63 336.66L190.93 335.13L193.20 332.62L189.42 329.65L185.61 325.60L183.29 325.99z" fill="#365c8d"/>
<path d="M118.79 298.95L122.54 301.14L126.27 302.46L128.65 300.89L131.01 298.75L127.30 297.94L123.58 296.43L121.17 297.15z" fill="#297a8e"/>
<path d="M290.25 373.86L294.08 376.38L297.90 379.84L300.07 376.96L302.21 375.76L298.39 372.68L294.56 371.12L292.41 372.13z" fill="#482979"/>
<path d="M146.10 310.15L149.84 311.61L153.60 313.25L155.94 311.47L158.30 311.00L154.52 307.85L150.73 304.49L148.41 307.06z" fill="#2d718e"/>
<path d="M188.63 336.66L192.44 340.43L196.23 343.35L198.53 342.32L200.79 339.28L196.99 335.84L193.20 332.62L190.93 335.13z" fill="#3a548c"/>
<path d="M262.94 361.95L266.76 365.07L270.58 368.43L272.77 365.64L274.96 363.25L271.15 358.75L267.34 356.13L265.14 359.29z" fill="#443983"/>
<path d="M364.54 398.36L368.44 399.01L372.32 401.06L374.40 398.67L376.45 397.15L372.54 396.92L368.62 397.02L366.60 397.13z" fill="#460b5e"/>
<path d="M325.19 393.39L329.05 394.86L332.91 397.02L335.01 395.95L337.13 393.57L333.28 391.28L329.44 389.06L327.31 391.52z" fill="#471164"/>
<path d="M297.90 379.84L301.73 383.65L305.55 387.43L307.71 384.90L309.84 384.01L306.02 380.14L302.21 375.76L300.07 376.96z" fill="#482173"/>
<path d="M215.95 348.34L219.73 349.35L223.53 350.46L225.79 350.51L228.04 349.25L224.25 346.64L220.45 343.53L218.20 345.44z" fill="#3e4a89"/>
<path d="M243.26 358.79L247.07 360.13L250.88 360.57L253.10 360.33L255.31 359.06L251.50 356.59L247.70 354.73L245.48 356.14z" fill="#423f85"/>
<path d="M270.58 368.43L274.40 371.94L278.23 374.46L280.41 372.29L282.59 370.62L278.77 367.92L274.96 363.25L272.77 365.64z" fill="#46327e"/>
<path d="M305.55 387.43L309.38 390.68L313.23 392.93L315.36 391.55L317.51 388.98L313.67 386.41L309.84 384.01L307.71 384.90z" fill="#481a6c"/>
<path d="M196.23 343.35L200.01 344.97L203.80 346.58L206.09 345.71L208.36 343.82L204.57 341.14L200.79 339.28L198.53 342.32z" fill="#3c508b"/>
<path d="M153.60 313.25L157.37 315.44L161.15 317.83L163.48 316.38L165.81 314.80L162.06 313.05L158.30 311.00L155.94 311.47z" fill="#2e6e8e"/>
<path d="M126.27 302.46L130.03 304.60L133.79 306.81L136.17 305.62L138.53 303.74L134.76 300.84L131.01 298.75L128.65 300.89z" fill="#2a788e"/>
<path d="M352.56 401.65L356.43 403.86L360.33 404.50L362.43 401.62L364.54 398.36L360.65 397.58L356.75 397.28L354.66 399.32z" fill="#460a5d"/>
<path d="M223.53 350.46L227.34 353.50L231.16 357.35L233.40 355.26L235.64 353.68L231.84 351.89L228.04 349.25L225.79 350.51z" fill="#404688"/>
<path d="M332.91 397.02L336.80 397.23L340.64 400.89L342.73 399.82L344.82 398.40L340.98 395.48L337.13 393.57L335.01 395.95z" fill="#470e61"/>
<path d="M278.23 374.46L282.06 376.95L285.88 380.18L288.07 376.76L290.25 373.86L286.42 371.79L282.59 370.62L280.41 372.29z" fill="#472d7b"/>
<path d="M94.83 242.49L98.82 251.22L102.95 264.04L105.90 278.56L108.57 285.41L104.67 278.03L100.71 268.93L97.84 257.38z" fill="#1e9c89"/>
<path d="M106.50 297.70L110.24 299.67L113.99 301.83L116.42 301.02L118.79 298.95L115.02 295.87L111.29 293.93L108.92 296.43z" fill="#277e8e"/>
<path d="M313.23 392.93L317.07 395.50L320.93 397.43L323.06 395.53L325.19 393.39L321.34 391.68L317.51 388.98L315.36 391.55z" fill="#481668"/>
<path d="M250.88 360.57L254.70 362.82L258.52 365.84L260.73 363.79L262.94 361.95L259.12 360.37L255.31 359.06L253.10 360.33z" fill="#433d84"/>
<path d="M133.79 306.81L137.55 309.01L141.35 312.09L143.73 311.52L146.10 310.15L142.31 306.95L138.53 303.74L136.17 305.62z" fill="#2b748e"/>
<path d="M372.32 401.06L376.22 402.33L380.15 402.90L382.21 400.72L384.27 398.86L380.36 397.93L376.45 397.15L374.40 398.67z" fill="#460b5e"/>
<path d="M161.15 317.83L164.94 320.94L168.75 324.46L171.06 322.00L173.38 320.40L169.59 317.27L165.81 314.80L163.48 316.38z" fill="#306a8e"/>
<path d="M203.80 346.58L207.60 349.19L211.40 351.32L213.68 350.04L215.95 348.34L212.15 345.77L208.36 343.82L206.09 345.71z" fill="#3d4d8a"/>
<path d="M231.16 357.35L234.98 360.88L238.78 361.42L241.02 359.70L243.26 358.79L239.45 355.96L235.64 353.68L233.40 355.26z" fill="#414287"/>
<path d="M285.88 380.18L289.72 382.79L293.56 385.69L295.73 382.88L297.90 379.84L294.08 376.38L290.25 373.86L288.07 376.76z" fill="#482878"/>
<path d="M168.75 324.46L172.58 328.96L176.39 332.68L178.69 330.06L180.98 327.24L177.17 323.49L173.38 320.40L171.06 322.00z" fill="#32648e"/>
<path d="M340.64 400.89L344.47 404.69L348.36 406.02L350.46 404.18L352.56 401.65L348.68 400.61L344.82 398.40L342.73 399.82z" fill="#460a5d"/>
<path d="M176.39 332.68L180.20 335.96L183.99 338.55L186.32 338.00L188.63 336.66L184.81 332.39L180.98 327.24L178.69 330.06z" fill="#365d8d"/>
<path d="M141.35 312.09L145.14 315.12L148.93 318.02L151.27 315.80L153.60 313.25L149.84 311.61L146.10 310.15L143.73 311.52z" fill="#2d718e"/>
<path d="M113.99 301.83L117.74 303.59L121.48 305.18L123.86 303.15L126.27 302.46L122.54 301.14L118.79 298.95L116.42 301.02z" fill="#287c8e"/>
<path d="M258.52 365.84L262.35 368.57L266.18 371.79L268.38 370.02L270.58 368.43L266.76 365.07L262.94 361.95L260.73 363.79z" fill="#453882"/>
<path d="M360.33 404.50L364.24 405.06L368.18 404.82L370.26 402.52L372.32 401.06L368.44 399.01L364.54 398.36L362.43 401.62z" fill="#460b5e"/>
<path d="M293.56 385.69L297.39 388.85L301.24 391.21L303.40 388.86L305.55 387.43L301.73 383.65L297.90 379.84L295.73 382.88z" fill="#482173"/>
<path d="M183.99 338.55L187.79 341.32L191.60 344.35L193.92 343.85L196.23 343.35L192.44 340.43L188.63 336.66L186.32 338.00z" fill="#39568c"/>
<path d="M320.93 397.43L324.82 397.61L328.67 400.13L330.80 398.26L332.91 397.02L329.05 394.86L325.19 393.39L323.06 395.53z" fill="#471365"/>
<path d="M266.18 371.79L270.01 376.23L273.84 380.13L276.03 377.14L278.23 374.46L274.40 371.94L270.58 368.43L268.38 370.02z" fill="#46307e"/>
<path d="M211.40 351.32L215.20 352.47L219.00 354.25L221.27 352.12L223.53 350.46L219.73 349.35L215.95 348.34L213.68 350.04z" fill="#3e4c8a"/>
<path d="M238.78 361.42L242.60 362.49L246.42 363.99L248.65 361.80L250.88 360.57L247.07 360.13L243.26 358.79L241.02 359.70z" fill="#424086"/>
<path d="M301.24 391.21L305.08 394.30L308.93 397.27L311.09 394.16L313.23 392.93L309.38 390.68L305.55 387.43L303.40 388.86z" fill="#481b6d"/>
<path d="M148.93 318.02L152.71 320.43L156.50 323.11L158.83 320.44L161.15 317.83L157.37 315.44L153.60 313.25L151.27 315.80z" fill="#2e6e8e"/>
<path d="M348.36 406.02L352.25 407.21L356.16 407.86L358.24 406.39L360.33 404.50L356.43 403.86L352.56 401.65L350.46 404.18z" fill="#46085c"/>
<path d="M191.60 344.35L195.42 347.68L199.23 350.14L201.52 348.54L203.80 346.58L200.01 344.97L196.23 343.35L193.92 343.85z" fill="#3b528b"/>
<path d="M121.48 305.18L125.26 307.82L129.04 310.44L131.41 308.24L133.79 306.81L130.03 304.60L126.27 302.46L123.86 303.15z" fill="#29798e"/>
<path d="M273.84 380.13L277.68 381.50L281.52 383.56L283.71 381.82L285.88 380.18L282.06 376.95L278.23 374.46L276.03 377.14z" fill="#472c7a"/>
<path d="M328.67 400.13L332.54 402.33L336.41 404.56L338.53 402.67L340.64 400.89L336.80 397.23L332.91 397.02L330.80 398.26z" fill="#471164"/>
<path d="M219.00 354.25L222.82 357.07L226.65 359.91L228.91 358.70L231.16 357.35L227.34 353.50L223.53 350.46L221.27 352.12z" fill="#3f4889"/>
<path d="M156.50 323.11L160.29 325.36L164.09 328.40L166.42 326.27L168.75 324.46L164.94 320.94L161.15 317.83L158.83 320.44z" fill="#306a8e"/>
<path d="M308.93 397.27L312.79 399.16L316.66 400.12L318.81 398.28L320.93 397.43L317.07 395.50L313.23 392.93L311.09 394.16z" fill="#481769"/>
<path d="M368.18 404.82L372.10 405.60L376.01 406.91L378.08 404.92L380.15 402.90L376.22 402.33L372.32 401.06L370.26 402.52z" fill="#470d60"/>
<path d="M129.04 310.44L132.81 312.70L136.61 315.61L138.99 314.12L141.35 312.09L137.55 309.01L133.79 306.81L131.41 308.24z" fill="#2a768e"/>
<path d="M246.42 363.99L250.25 366.18L254.08 368.99L256.30 367.55L258.52 365.84L254.70 362.82L250.88 360.57L248.65 361.80z" fill="#423f85"/>
<path d="M281.52 383.56L285.36 385.97L289.21 388.05L291.39 386.79L293.56 385.69L289.72 382.79L285.88 380.18L283.71 381.82z" fill="#482677"/>
<path d="M199.23 350.14L203.04 352.69L206.84 354.45L209.12 352.65L211.40 351.32L207.60 349.19L203.80 346.58L201.52 348.54z" fill="#3c4f8a"/>
<path d="M164.09 328.40L167.92 332.39L171.74 336.18L174.07 334.52L176.39 332.68L172.58 328.96L168.75 324.46L166.42 326.27z" fill="#32648e"/>
<path d="M226.65 359.91L230.47 363.07L234.29 364.59L236.54 363.57L238.78 361.42L234.98 360.88L231.16 357.35L228.91 358.70z" fill="#414487"/>
<path d="M336.41 404.56L340.27 407.70L344.14 410.08L346.25 408.15L348.36 406.02L344.47 404.69L340.64 400.89L338.53 402.67z" fill="#460b5e"/>
<path d="M171.74 336.18L175.56 339.89L179.38 343.41L181.69 340.77L183.99 338.55L180.20 335.96L176.39 332.68L174.07 334.52z" fill="#365d8d"/>
<path d="M356.16 407.86L360.05 409.85L363.97 410.42L366.08 407.53L368.18 404.82L364.24 405.06L360.33 404.50L358.24 406.39z" fill="#460a5d"/>
<path d="M96.62 224.75L101.94 271.66L106.50 297.70L108.92 296.43L111.29 293.93L107.53 291.19L102.95 264.04L99.79 244.20z" fill="#1f9a8a"/>
<path d="M136.61 315.61L140.41 318.57L144.20 321.29L146.57 319.66L148.93 318.02L145.14 315.12L141.35 312.09L138.99 314.12z" fill="#2c718e"/>
<path d="M254.08 368.99L257.92 371.58L261.75 374.87L263.97 373.06L266.18 371.79L262.35 368.57L258.52 365.84L256.30 367.55z" fill="#443983"/>
<path d="M289.21 388.05L293.06 390.56L296.92 393.06L299.08 391.79L301.24 391.21L297.39 388.85L293.56 385.69L291.39 386.79z" fill="#482374"/>
<path d="M316.66 400.12L320.54 401.58L324.41 403.50L326.54 401.90L328.67 400.13L324.82 397.61L320.93 397.43L318.81 398.28z" fill="#481467"/>
<path d="M179.38 343.41L183.19 345.99L186.99 348.22L189.31 347.09L191.60 344.35L187.79 341.32L183.99 338.55L181.69 340.77z" fill="#38588c"/>
<path d="M261.75 374.87L265.60 378.39L269.44 381.32L271.64 380.50L273.84 380.13L270.01 376.23L266.18 371.79L263.97 373.06z" fill="#46327e"/>
<path d="M206.84 354.45L210.64 355.90L214.46 358.02L216.73 356.05L219.00 354.25L215.20 352.47L211.40 351.32L209.12 352.65z" fill="#3d4d8a"/>
<path d="M144.20 321.29L148.00 324.04L151.81 327.29L154.18 325.90L156.50 323.11L152.71 320.43L148.93 318.02L146.57 319.66z" fill="#2e6e8e"/>
<path d="M234.29 364.59L238.11 365.76L241.94 367.31L244.18 365.91L246.42 363.99L242.60 362.49L238.78 361.42L236.54 363.57z" fill="#424186"/>
<path d="M344.14 410.08L348.04 411.37L351.93 412.96L354.06 409.85L356.16 407.86L352.25 407.21L348.36 406.02L346.25 408.15z" fill="#46085c"/>
<path d="M108.68 289.84L112.62 297.18L116.53 303.71L119.12 307.92L121.48 305.18L117.74 303.59L113.99 301.83L111.58 303.14z" fill="#26818e"/>
<path d="M296.92 393.06L300.77 395.82L304.62 399.82L306.77 398.82L308.93 397.27L305.08 394.30L301.24 391.21L299.08 391.79z" fill="#481c6e"/>
<path d="M186.99 348.22L190.80 350.39L194.62 353.08L196.93 351.72L199.23 350.14L195.42 347.68L191.60 344.35L189.31 347.09z" fill="#3a538b"/>
<path d="M269.44 381.32L273.29 383.29L277.13 385.91L279.33 384.16L281.52 383.56L277.68 381.50L273.84 380.13L271.64 380.50z" fill="#472d7b"/>
<path d="M100.41 264.27L104.66 280.31L108.68 289.84L111.58 303.14L113.99 301.83L110.24 299.67L106.50 297.70L103.68 287.32z" fill="#228c8d"/>
<path d="M116.53 303.71L120.37 307.85L124.17 310.86L126.65 311.92L129.04 310.44L125.26 307.82L121.48 305.18L119.12 307.92z" fill="#287c8e"/>
<path d="M214.46 358.02L218.29 360.96L222.13 364.78L224.39 362.36L226.65 359.91L222.82 357.07L219.00 354.25L216.73 356.05z" fill="#3e4989"/>
<path d="M324.41 403.50L328.29 405.67L332.16 408.31L334.29 406.17L336.41 404.56L332.54 402.33L328.67 400.13L326.54 401.90z" fill="#471164"/>
<path d="M151.81 327.29L155.60 329.46L159.40 331.79L161.75 330.04L164.09 328.40L160.29 325.36L156.50 323.11L154.18 325.90z" fill="#306a8e"/>
<path d="M363.97 410.42L367.90 411.07L371.86 410.76L373.95 408.15L376.01 406.91L372.10 405.60L368.18 404.82L366.08 407.53z" fill="#460b5e"/>
<path d="M304.62 399.82L308.48 402.47L312.35 404.69L314.51 402.46L316.66 400.12L312.79 399.16L308.93 397.27L306.77 398.82z" fill="#481769"/>
<path d="M159.40 331.79L163.23 335.71L167.08 340.06L169.40 337.80L171.74 336.18L167.92 332.39L164.09 328.40L161.75 330.04z" fill="#32648e"/>
<path d="M241.94 367.31L245.77 369.01L249.61 370.60L251.85 369.81L254.08 368.99L250.25 366.18L246.42 363.99L244.18 365.91z" fill="#424086"/>
<path d="M194.62 353.08L198.44 356.16L202.24 357.15L204.55 355.92L206.84 354.45L203.04 352.69L199.23 350.14L196.93 351.72z" fill="#3c508b"/>
<path d="M124.17 310.86L127.96 313.28L131.77 316.42L134.21 316.55L136.61 315.61L132.81 312.70L129.04 310.44L126.65 311.92z" fill="#2a788e"/>
<path d="M277.13 385.91L280.99 388.96L284.84 391.41L287.03 389.00L289.21 388.05L285.36 385.97L281.52 383.56L279.33 384.16z" fill="#482979"/>
<path d="M222.13 364.78L225.95 366.68L229.76 366.63L232.03 366.09L234.29 364.59L230.47 363.07L226.65 359.91L224.39 362.36z" fill="#404588"/>
<path d="M351.93 412.96L355.84 414.14L359.78 414.47L361.86 413.15L363.97 410.42L360.05 409.85L356.16 407.86L354.06 409.85z" fill="#46085c"/>
<path d="M332.16 408.31L336.04 410.43L339.91 413.55L342.03 411.65L344.14 410.08L340.27 407.70L336.41 404.56L334.29 406.17z" fill="#470d60"/>
<path d="M167.08 340.06L170.89 342.99L174.70 345.61L177.05 344.82L179.38 343.41L175.56 339.89L171.74 336.18L169.40 337.80z" fill="#355e8d"/>
<path d="M131.77 316.42L135.61 320.41L139.39 322.42L141.80 322.06L144.20 321.29L140.41 318.57L136.61 315.61L134.21 316.55z" fill="#2c738e"/>
<path d="M249.61 370.60L253.46 373.43L257.31 377.52L259.53 376.13L261.75 374.87L257.92 371.58L254.08 368.99L251.85 369.81z" fill="#443b84"/>
<path d="M312.35 404.69L316.23 406.12L320.10 409.31L322.26 406.06L324.41 403.50L320.54 401.58L316.66 400.12L314.51 402.46z" fill="#481467"/>
<path d="M284.84 391.41L288.70 394.62L292.56 397.52L294.74 394.74L296.92 393.06L293.06 390.56L289.21 388.05L287.03 389.00z" fill="#482475"/>
<path d="M174.70 345.61L178.53 349.07L182.35 351.32L184.67 349.86L186.99 348.22L183.19 345.99L179.38 343.41L177.05 344.82z" fill="#38598c"/>
<path d="M202.24 357.15L206.06 359.03L209.90 362.83L212.19 360.80L214.46 358.02L210.64 355.90L206.84 354.45L204.55 355.92z" fill="#3d4d8a"/>
<path d="M339.91 413.55L343.79 416.11L347.70 417.70L349.81 415.59L351.93 412.96L348.04 411.37L344.14 410.08L342.03 411.65z" fill="#46085c"/>
<path d="M257.31 377.52L261.16 381.29L265.01 384.58L267.23 383.05L269.44 381.32L265.60 378.39L261.75 374.87L259.53 376.13z" fill="#463480"/>
<path d="M229.76 366.63L233.60 369.23L237.45 372.31L239.70 369.99L241.94 367.31L238.11 365.76L234.29 364.59L232.03 366.09z" fill="#414287"/>
<path d="M139.39 322.42L143.19 324.66L147.02 328.30L149.41 327.47L151.81 327.29L148.00 324.04L144.20 321.29L141.80 322.06z" fill="#2d708e"/>
<path d="M292.56 397.52L296.42 400.36L300.27 404.41L302.45 401.75L304.62 399.82L300.77 395.82L296.92 393.06L294.74 394.74z" fill="#481d6f"/>
<path d="M320.10 409.31L323.97 412.33L327.87 413.29L330.00 411.57L332.16 408.31L328.29 405.67L324.41 403.50L322.26 406.06z" fill="#471164"/>
<path d="M182.35 351.32L186.15 352.71L189.99 356.22L192.31 355.14L194.62 353.08L190.80 350.39L186.99 348.22L184.67 349.86z" fill="#3a548c"/>
<path d="M209.90 362.83L213.73 365.35L217.56 367.37L219.85 366.04L222.13 364.78L218.29 360.96L214.46 358.02L212.19 360.80z" fill="#3f4889"/>
<path d="M359.78 414.47L363.72 414.90L367.67 414.95L369.76 413.22L371.86 410.76L367.90 411.07L363.97 410.42L361.86 413.15z" fill="#460b5e"/>
<path d="M265.01 384.58L268.86 386.93L272.72 389.27L274.93 388.04L277.13 385.91L273.29 383.29L269.44 381.32L267.23 383.05z" fill="#472f7d"/>
<path d="M147.02 328.30L150.85 331.89L154.67 334.92L157.04 333.24L159.40 331.79L155.60 329.46L151.81 327.29L149.41 327.47z" fill="#2f6b8e"/>
<path d="M300.27 404.41L304.14 407.16L308.01 409.82L310.19 407.01L312.35 404.69L308.48 402.47L304.62 399.82L302.45 401.75z" fill="#481769"/>
<path d="M154.67 334.92L158.52 339.08L162.39 344.15L164.74 342.49L167.08 340.06L163.23 335.71L159.40 331.79L157.04 333.24z" fill="#32658e"/>
<path d="M237.45 372.31L241.29 373.80L245.13 375.11L247.37 372.40L249.61 370.60L245.77 369.01L241.94 367.31L239.70 369.99z" fill="#424186"/>
<path d="M347.70 417.70L351.62 418.42L355.56 418.93L357.67 416.97L359.78 414.47L355.84 414.14L351.93 412.96L349.81 415.59z" fill="#46085c"/>
<path d="M189.99 356.22L193.82 359.52L197.65 361.82L199.95 359.93L202.24 357.15L198.44 356.16L194.62 353.08L192.31 355.14z" fill="#3b518b"/>
<path d="M327.87 413.29L331.76 415.42L335.64 418.49L337.76 416.94L339.91 413.55L336.04 410.43L332.16 408.31L330.00 411.57z" fill="#460b5e"/>
<path d="M272.72 389.27L276.58 392.09L280.44 395.56L282.65 393.65L284.84 391.41L280.99 388.96L277.13 385.91L274.93 388.04z" fill="#472a7a"/>
<path d="M217.56 367.37L221.40 370.10L225.24 372.85L227.51 369.51L229.76 366.63L225.95 366.68L222.13 364.78L219.85 366.04z" fill="#404588"/>
<path d="M162.39 344.15L166.24 348.08L170.04 350.19L172.35 346.76L174.70 345.61L170.89 342.99L167.08 340.06L164.74 342.49z" fill="#355e8d"/>
<path d="M308.01 409.82L311.90 411.69L315.77 414.43L317.94 411.92L320.10 409.31L316.23 406.12L312.35 404.69L310.19 407.01z" fill="#471365"/>
<path d="M280.44 395.56L284.31 399.12L288.17 402.00L290.37 400.07L292.56 397.52L288.70 394.62L284.84 391.41L282.65 393.65z" fill="#482475"/>
<path d="M245.13 375.11L248.98 377.78L252.84 381.01L255.08 378.79L257.31 377.52L253.46 373.43L249.61 370.60L247.37 372.40z" fill="#433e85"/>
<path d="M170.04 350.19L173.87 353.16L177.69 355.51L180.02 353.54L182.35 351.32L178.53 349.07L174.70 345.61L172.35 346.76z" fill="#375a8c"/>
<path d="M197.65 361.82L201.48 364.22L205.30 365.94L207.60 364.13L209.90 362.83L206.06 359.03L202.24 357.15L199.95 359.93z" fill="#3d4e8a"/>
<path d="M335.64 418.49L339.53 420.78L343.47 420.94L345.59 419.27L347.70 417.70L343.79 416.11L339.91 413.55L337.76 416.94z" fill="#46085c"/>
<path d="M225.24 372.85L229.08 374.39L232.93 376.55L235.19 374.49L237.45 372.31L233.60 369.23L229.76 366.63L227.51 369.51z" fill="#414287"/>
<path d="M252.84 381.01L256.70 385.64L260.56 389.32L262.79 386.56L265.01 384.58L261.16 381.29L257.31 377.52L255.08 378.79z" fill="#453581"/>
<path d="M288.17 402.00L292.04 404.64L295.92 407.70L298.10 405.81L300.27 404.41L296.42 400.36L292.56 397.52L290.37 400.07z" fill="#481d6f"/>
<path d="M315.77 414.43L319.66 416.53L323.56 418.44L325.71 415.92L327.87 413.29L323.97 412.33L320.10 409.31L317.94 411.92z" fill="#470e61"/>
<path d="M88.62 209.01L92.55 214.84L96.62 224.75L99.79 244.20L102.95 264.04L98.82 251.22L94.83 242.49L91.70 224.75z" fill="#52c569"/>
<path d="M355.56 418.93L359.50 419.75L363.44 420.33L365.57 417.17L367.67 414.95L363.72 414.90L359.78 414.47L357.67 416.97z" fill="#460b5e"/>
<path d="M205.30 365.94L209.15 368.67L212.99 371.70L215.28 369.67L217.56 367.37L213.73 365.35L209.90 362.83L207.60 364.13z" fill="#3e4989"/>
<path d="M177.69 355.51L181.52 358.00L185.34 360.15L187.66 357.65L189.99 356.22L186.15 352.71L182.35 351.32L180.02 353.54z" fill="#39558c"/>
<path d="M260.56 389.32L264.42 391.48L268.29 394.03L270.51 391.84L272.72 389.27L268.86 386.93L265.01 384.58L262.79 386.56z" fill="#472f7d"/>
<path d="M295.92 407.70L299.79 410.58L303.67 413.20L305.84 411.92L308.01 409.82L304.14 407.16L300.27 404.41L298.10 405.81z" fill="#481769"/>
<path d="M232.93 376.55L236.77 378.11L240.63 379.98L242.88 377.95L245.13 375.11L241.29 373.80L237.45 372.31L235.19 374.49z" fill="#424086"/>
<path d="M323.56 418.44L327.45 420.50L331.34 423.36L333.50 420.75L335.64 418.49L331.76 415.42L327.87 413.29L325.71 415.92z" fill="#460b5e"/>
<path d="M343.47 420.94L347.39 422.40L351.31 424.01L353.44 421.17L355.56 418.93L351.62 418.42L347.70 417.70L345.59 419.27z" fill="#46085c"/>
<path d="M185.34 360.15L189.18 363.16L193.04 366.71L195.34 363.82L197.65 361.82L193.82 359.52L189.99 356.22L187.66 357.65z" fill="#3b518b"/>
<path d="M212.99 371.70L216.84 374.20L220.68 376.46L222.97 374.60L225.24 372.85L221.40 370.10L217.56 367.37L215.28 369.67z" fill="#404588"/>
<path d="M268.29 394.03L272.15 397.49L276.02 399.66L278.24 397.87L280.44 395.56L276.58 392.09L272.72 389.27L270.51 391.84z" fill="#472a7a"/>
<path d="M303.67 413.20L307.55 416.39L311.45 418.01L313.61 416.39L315.77 414.43L311.90 411.69L308.01 409.82L305.84 411.92z" fill="#471365"/>
<path d="M157.53 341.34L161.41 346.27L165.26 350.10L167.69 351.55L170.04 350.19L166.24 348.08L162.39 344.15L159.99 344.00z" fill="#34618d"/>
<path d="M276.02 399.66L279.90 402.89L283.77 406.44L285.97 404.46L288.17 402.00L284.31 399.12L280.44 395.56L278.24 397.87z" fill="#482475"/>
<path d="M149.71 329.44L153.63 335.72L157.53 341.34L159.99 344.00L162.39 344.15L158.52 339.08L154.67 334.92L152.25 334.14z" fill="#306a8e"/>
<path d="M240.63 379.98L244.49 383.03L248.35 385.72L250.60 383.32L252.84 381.01L248.98 377.78L245.13 375.11L242.88 377.95z" fill="#433d84"/>
<path d="M141.93 318.87L145.83 324.63L149.71 329.44L152.25 334.14L154.67 334.92L150.85 331.89L147.02 328.30L144.54 326.05z" fill="#2c728e"/>
<path d="M193.04 366.71L196.88 369.31L200.70 370.78L203.01 368.53L205.30 365.94L201.48 364.22L197.65 361.82L195.34 363.82z" fill="#3d4d8a"/>
<path d="M134.02 304.22L137.97 311.41L141.93 318.87L144.54 326.05L147.02 328.30L143.19 324.66L139.39 322.42L136.79 316.29z" fill="#287c8e"/>
<path d="M331.34 423.36L335.26 424.89L339.18 426.42L341.33 423.30L343.47 420.94L339.53 420.78L335.64 418.49L333.50 420.75z" fill="#46075a"/>
<path d="M220.68 376.46L224.54 379.21L228.39 381.51L230.66 379.26L232.93 376.55L229.08 374.39L225.24 372.85L222.97 374.60z" fill="#424186"/>
<path d="M126.09 289.42L130.07 297.09L134.02 304.22L136.79 316.29L139.39 322.42L135.61 320.41L131.77 316.42L129.00 305.08z" fill="#25858e"/>
<path d="M165.26 350.10L169.09 352.25L172.95 356.02L175.33 356.25L177.69 355.51L173.87 353.16L170.04 350.19L167.69 351.55z" fill="#365c8d"/>
<path d="M248.35 385.72L252.21 388.13L256.08 391.76L258.32 390.91L260.56 389.32L256.70 385.64L252.84 381.01L250.60 383.32z" fill="#453781"/>
<path d="M283.77 406.44L287.65 409.26L291.53 411.76L293.72 409.85L295.92 407.70L292.04 404.64L288.17 402.00L285.97 404.46z" fill="#481d6f"/>
<path d="M311.45 418.01L315.35 419.35L319.26 421.31L321.41 420.02L323.56 418.44L319.66 416.53L315.77 414.43L313.61 416.39z" fill="#470e61"/>
<path d="M118.17 275.35L122.13 282.16L126.09 289.42L129.00 305.08L131.77 316.42L127.96 313.28L124.17 310.86L121.27 295.96z" fill="#21908d"/>
<path d="M351.31 424.01L355.24 425.13L359.21 425.24L361.32 423.30L363.44 420.33L359.50 419.75L355.56 418.93L353.44 421.17z" fill="#46085c"/>
<path d="M90.62 198.01L95.28 223.76L100.41 264.27L103.68 287.32L106.50 297.70L101.94 271.66L96.62 224.75L93.49 207.48z" fill="#40bd72"/>
<path d="M110.21 260.63L114.20 268.35L118.17 275.35L121.27 295.96L124.17 310.86L120.37 307.85L116.53 303.71L113.44 283.97z" fill="#1f998a"/>
<path d="M200.70 370.78L204.54 372.27L208.40 375.48L210.69 373.25L212.99 371.70L209.15 368.67L205.30 365.94L203.01 368.53z" fill="#3e4989"/>
<path d="M256.08 391.76L259.95 395.41L263.83 397.91L266.06 396.28L268.29 394.03L264.42 391.48L260.56 389.32L258.32 390.91z" fill="#472f7d"/>
<path d="M172.95 356.02L176.80 359.31L180.63 361.56L183.00 361.23L185.34 360.15L181.52 358.00L177.69 355.51L175.33 356.25z" fill="#38588c"/>
<path d="M228.39 381.51L232.24 382.96L236.10 384.23L238.37 382.69L240.63 379.98L236.77 378.11L232.93 376.55L230.66 379.26z" fill="#423f85"/>
<path d="M291.53 411.76L295.42 414.30L299.31 416.07L301.50 414.37L303.67 413.20L299.79 410.58L295.92 407.70L293.72 409.85z" fill="#48186a"/>
<path d="M339.18 426.42L343.10 427.98L347.04 428.82L349.19 425.94L351.31 424.01L347.39 422.40L343.47 420.94L341.33 423.30z" fill="#46075a"/>
<path d="M319.26 421.31L323.16 423.55L327.06 426.15L329.21 424.52L331.34 423.36L327.45 420.50L323.56 418.44L321.41 420.02z" fill="#460b5e"/>
<path d="M263.83 397.91L267.70 401.56L271.58 404.28L273.80 402.62L276.02 399.66L272.15 397.49L268.29 394.03L266.06 396.28z" fill="#472a7a"/>
<path d="M208.40 375.48L212.25 377.78L216.09 379.55L218.40 378.42L220.68 376.46L216.84 374.20L212.99 371.70L210.69 373.25z" fill="#404688"/>
<path d="M180.63 361.56L184.49 364.77L188.35 368.20L190.71 368.17L193.04 366.71L189.18 363.16L185.34 360.15L183.00 361.23z" fill="#3b528b"/>
<path d="M102.02 239.78L106.14 250.95L110.21 260.63L113.44 283.97L116.53 303.71L112.62 297.18L108.68 289.84L105.37 265.00z" fill="#22a884"/>
<path d="M299.31 416.07L303.20 419.69L307.10 421.59L309.27 420.12L311.45 418.01L307.55 416.39L303.67 413.20L301.50 414.37z" fill="#481467"/>
<path d="M271.58 404.28L275.46 407.90L279.34 410.79L281.56 409.24L283.77 406.44L279.90 402.89L276.02 399.66L273.80 402.62z" fill="#482475"/>
<path d="M236.10 384.23L239.96 386.91L243.83 389.42L246.10 388.11L248.35 385.72L244.49 383.03L240.63 379.98L238.37 382.69z" fill="#433d84"/>
<path d="M188.35 368.20L192.21 371.50L196.05 373.64L198.38 372.29L200.70 370.78L196.88 369.31L193.04 366.71L190.71 368.17z" fill="#3d4e8a"/>
<path d="M327.06 426.15L330.98 427.73L334.90 430.12L337.05 427.84L339.18 426.42L335.26 424.89L331.34 423.36L329.21 424.52z" fill="#46085c"/>
<path d="M216.09 379.55L219.96 382.29L223.82 384.96L226.11 383.70L228.39 381.51L224.54 379.21L220.68 376.46L218.40 378.42z" fill="#424186"/>
<path d="M279.34 410.79L283.23 413.51L287.11 417.46L289.32 414.69L291.53 411.76L287.65 409.26L283.77 406.44L281.56 409.24z" fill="#481c6e"/>
<path d="M243.83 389.42L247.71 392.90L251.59 397.02L253.84 394.55L256.08 391.76L252.21 388.13L248.35 385.72L246.10 388.11z" fill="#453781"/>
<path d="M347.04 428.82L350.98 430.21L354.92 431.56L357.07 428.06L359.21 425.24L355.24 425.13L351.31 424.01L349.19 425.94z" fill="#46075a"/>
<path d="M307.10 421.59L311.01 423.26L314.91 425.68L317.10 422.77L319.26 421.31L315.35 419.35L311.45 418.01L309.27 420.12z" fill="#471063"/>
<path d="M251.59 397.02L255.47 400.44L259.35 403.79L261.59 400.52L263.83 397.91L259.95 395.41L256.08 391.76L253.84 394.55z" fill="#472f7d"/>
<path d="M196.05 373.64L199.91 376.29L203.78 379.50L206.10 378.71L208.40 375.48L204.54 372.27L200.70 370.78L198.38 372.29z" fill="#3e4989"/>
<path d="M152.66 340.21L156.56 345.22L160.42 348.60L162.82 348.18L165.26 350.10L161.41 346.27L157.53 341.34L155.09 340.22z" fill="#30698e"/>
<path d="M287.11 417.46L291.01 419.85L294.91 421.88L297.11 418.92L299.31 416.07L295.42 414.30L291.53 411.76L289.32 414.69z" fill="#48186a"/>
<path d="M223.82 384.96L227.68 386.50L231.54 388.07L233.83 386.48L236.10 384.23L232.24 382.96L228.39 381.51L226.11 383.70z" fill="#423f85"/>
<path d="M144.82 328.39L148.76 334.92L152.66 340.21L155.09 340.22L157.53 341.34L153.63 335.72L149.71 329.44L147.25 327.96z" fill="#2c728e"/>
<path d="M334.90 430.12L338.83 431.51L342.77 432.99L344.91 430.62L347.04 428.82L343.10 427.98L339.18 426.42L337.05 427.84z" fill="#46075a"/>
<path d="M160.42 348.60L164.28 351.76L168.16 356.03L170.55 355.83L172.95 356.02L169.09 352.25L165.26 350.10L162.82 348.18z" fill="#33628d"/>
<path d="M259.35 403.79L263.23 407.06L267.12 410.16L269.35 406.53L271.58 404.28L267.70 401.56L263.83 397.91L261.59 400.52z" fill="#482979"/>
<path d="M314.91 425.68L318.81 429.07L322.72 431.59L324.90 428.36L327.06 426.15L323.16 423.55L319.26 421.31L317.10 422.77z" fill="#470d60"/>
<path d="M203.78 379.50L207.63 381.82L211.49 383.30L213.79 381.21L216.09 379.55L212.25 377.78L208.40 375.48L206.10 378.71z" fill="#404688"/>
<path d="M168.16 356.03L172.04 360.32L175.90 363.44L178.26 361.93L180.63 361.56L176.80 359.31L172.95 356.02L170.55 355.83z" fill="#365c8d"/>
<path d="M294.91 421.88L298.80 424.79L302.70 427.86L304.91 424.06L307.10 421.59L303.20 419.69L299.31 416.07L297.11 418.92z" fill="#471365"/>
<path d="M267.12 410.16L271.01 412.51L274.90 415.46L277.12 412.35L279.34 410.79L275.46 407.90L271.58 404.28L269.35 406.53z" fill="#482374"/>
<path d="M136.85 311.87L140.84 320.31L144.82 328.39L147.25 327.96L149.71 329.44L145.83 324.63L141.93 318.87L139.31 312.36z" fill="#27808e"/>
<path d="M93.68 215.69L97.85 227.65L102.02 239.78L105.37 265.00L108.68 289.84L104.66 280.31L100.41 264.27L96.95 236.67z" fill="#42be71"/>
<path d="M231.54 388.07L235.42 391.09L239.30 394.60L241.57 391.41L243.83 389.42L239.96 386.91L236.10 384.23L233.83 386.48z" fill="#433d84"/>
<path d="M175.90 363.44L179.76 366.34L183.63 369.74L185.99 368.49L188.35 368.20L184.49 364.77L180.63 361.56L178.26 361.93z" fill="#39568c"/>
<path d="M322.72 431.59L326.65 433.04L330.58 434.52L332.73 432.91L334.90 430.12L330.98 427.73L327.06 426.15L324.90 428.36z" fill="#46085c"/>
<path d="M239.30 394.60L243.19 398.79L247.08 402.76L249.34 400.46L251.59 397.02L247.71 392.90L243.83 389.42L241.57 391.41z" fill="#453581"/>
<path d="M342.77 432.99L346.71 434.68L350.66 435.64L352.78 434.12L354.92 431.56L350.98 430.21L347.04 428.82L344.91 430.62z" fill="#450559"/>
<path d="M274.90 415.46L278.79 418.36L282.69 420.72L284.90 419.49L287.11 417.46L283.23 413.51L279.34 410.79L277.12 412.35z" fill="#481c6e"/>
<path d="M211.49 383.30L215.34 384.78L219.22 388.11L221.52 385.50L223.82 384.96L219.96 382.29L216.09 379.55L213.79 381.21z" fill="#414487"/>
<path d="M302.70 427.86L306.61 430.44L310.53 431.98L312.72 429.17L314.91 425.68L311.01 423.26L307.10 421.59L304.91 424.06z" fill="#470e61"/>
<path d="M183.63 369.74L187.49 372.12L191.36 375.46L193.71 374.46L196.05 373.64L192.21 371.50L188.35 368.20L185.99 368.49z" fill="#3b518b"/>
<path d="M247.08 402.76L250.96 405.55L254.85 408.31L257.10 406.31L259.35 403.79L255.47 400.44L251.59 397.02L249.34 400.46z" fill="#472d7b"/>
<path d="M282.69 420.72L286.59 422.99L290.49 425.80L292.70 423.80L294.91 421.88L291.01 419.85L287.11 417.46L284.90 419.49z" fill="#481769"/>
<path d="M128.81 294.06L132.84 303.26L136.85 311.87L139.31 312.36L141.93 318.87L137.97 311.41L134.02 304.22L131.31 295.20z" fill="#21908d"/>
<path d="M254.85 408.31L258.74 411.87L262.63 414.35L264.88 412.41L267.12 410.16L263.23 407.06L259.35 403.79L257.10 406.31z" fill="#482677"/>
<path d="M191.36 375.46L195.24 379.22L199.10 381.08L201.43 379.66L203.78 379.50L199.91 376.29L196.05 373.64L193.71 374.46z" fill="#3d4d8a"/>
<path d="M330.58 434.52L334.52 436.00L338.45 438.64L340.61 435.84L342.77 432.99L338.83 431.51L334.90 430.12L332.73 432.91z" fill="#450559"/>
<path d="M219.22 388.11L223.10 390.67L226.97 392.90L229.26 390.32L231.54 388.07L227.68 386.50L223.82 384.96L221.52 385.50z" fill="#424086"/>
<path d="M310.53 431.98L314.45 433.78L318.37 435.96L320.55 433.65L322.72 431.59L318.81 429.07L314.91 425.68L312.72 429.17z" fill="#460a5d"/>
<path d="M147.84 342.23L151.77 348.13L155.68 352.94L158.05 350.65L160.42 348.60L156.56 345.22L152.66 340.21L150.24 340.45z" fill="#2e6d8e"/>
<path d="M155.68 352.94L159.56 356.88L163.43 360.39L165.80 358.20L168.16 356.03L164.28 351.76L160.42 348.60L158.05 350.65z" fill="#32658e"/>
<path d="M290.49 425.80L294.40 428.26L298.31 431.27L300.50 430.18L302.70 427.86L298.80 424.79L294.91 421.88L292.70 423.80z" fill="#471365"/>
<path d="M262.63 414.35L266.53 417.25L270.43 420.37L272.66 418.15L274.90 415.46L271.01 412.51L267.12 410.16L264.88 412.41z" fill="#482173"/>
<path d="M226.97 392.90L230.86 396.29L234.76 400.64L237.04 398.32L239.30 394.60L235.42 391.09L231.54 388.07L229.26 390.32z" fill="#443b84"/>
<path d="M199.10 381.08L202.96 382.91L206.84 386.11L209.16 384.42L211.49 383.30L207.63 381.82L203.78 379.50L201.43 379.66z" fill="#3f4889"/>
<path d="M139.95 329.39L143.90 335.97L147.84 342.23L150.24 340.45L152.66 340.21L148.76 334.92L144.82 328.39L142.37 328.20z" fill="#2a778e"/>
<path d="M163.43 360.39L167.29 363.20L171.17 366.70L173.53 364.54L175.90 363.44L172.04 360.32L168.16 356.03L165.80 358.20z" fill="#355f8d"/>
<path d="M234.76 400.64L238.65 404.15L242.54 407.23L244.81 405.39L247.08 402.76L243.19 398.79L239.30 394.60L237.04 398.32z" fill="#46337f"/>
<path d="M318.37 435.96L322.29 438.65L326.23 440.41L328.41 437.38L330.58 434.52L326.65 433.04L322.72 431.59L320.55 433.65z" fill="#46075a"/>
<path d="M298.31 431.27L302.22 434.16L306.14 436.64L308.33 434.95L310.53 431.98L306.61 430.44L302.70 427.86L300.50 430.18z" fill="#470d60"/>
<path d="M338.45 438.64L342.41 439.33L346.39 439.32L348.52 437.83L350.66 435.64L346.71 434.68L342.77 432.99L340.61 435.84z" fill="#450559"/>
<path d="M82.92 191.99L86.75 194.51L90.62 198.01L93.49 207.48L96.62 224.75L92.55 214.84L88.62 209.01L85.66 197.28z" fill="#bade28"/>
<path d="M120.70 274.98L124.77 284.72L128.81 294.06L131.31 295.20L134.02 304.22L130.07 297.09L126.09 289.42L123.28 277.81z" fill="#1fa187"/>
<path d="M270.43 420.37L274.33 422.55L278.24 424.97L280.47 422.47L282.69 420.72L278.79 418.36L274.90 415.46L272.66 418.15z" fill="#481c6e"/>
<path d="M171.17 366.70L175.03 369.37L178.89 371.73L181.27 371.08L183.63 369.74L179.76 366.34L175.90 363.44L173.53 364.54z" fill="#38598c"/>
<path d="M242.54 407.23L246.43 410.40L250.33 413.81L252.59 410.89L254.85 408.31L250.96 405.55L247.08 402.76L244.81 405.39z" fill="#472c7a"/>
<path d="M206.84 386.11L210.73 389.39L214.61 391.77L216.92 390.10L219.22 388.11L215.34 384.78L211.49 383.30L209.16 384.42z" fill="#404588"/>
<path d="M132.00 314.77L135.99 322.57L139.95 329.39L142.37 328.20L144.82 328.39L140.84 320.31L136.85 311.87L134.42 313.00z" fill="#24868e"/>
<path d="M178.89 371.73L182.76 374.43L186.66 378.23L189.02 377.25L191.36 375.46L187.49 372.12L183.63 369.74L181.27 371.08z" fill="#3a548c"/>
<path d="M278.24 424.97L282.14 427.88L286.05 431.10L288.27 428.84L290.49 425.80L286.59 422.99L282.69 420.72L280.47 422.47z" fill="#481769"/>
<path d="M250.33 413.81L254.23 416.99L258.13 418.42L260.38 415.82L262.63 414.35L258.74 411.87L254.85 408.31L252.59 410.89z" fill="#482677"/>
<path d="M326.23 440.41L330.17 441.71L334.13 443.01L336.29 440.67L338.45 438.64L334.52 436.00L330.58 434.52L328.41 437.38z" fill="#450559"/>
<path d="M306.14 436.64L310.08 437.85L314.00 440.51L316.19 438.48L318.37 435.96L314.45 433.78L310.53 431.98L308.33 434.95z" fill="#46085c"/>
<path d="M214.61 391.77L218.49 394.57L222.39 398.59L224.69 396.17L226.97 392.90L223.10 390.67L219.22 388.11L216.92 390.10z" fill="#424086"/>
<path d="M186.66 378.23L190.56 382.96L194.45 386.21L196.78 383.75L199.10 381.08L195.24 379.22L191.36 375.46L189.02 377.25z" fill="#3d4e8a"/>
<path d="M143.10 348.35L147.01 353.16L150.90 356.96L153.28 354.52L155.68 352.94L151.77 348.13L147.84 342.23L145.47 344.96z" fill="#2e6d8e"/>
<path d="M150.90 356.96L154.78 360.53L158.68 364.50L161.07 362.87L163.43 360.39L159.56 356.88L155.68 352.94L153.28 354.52z" fill="#32658e"/>
<path d="M222.39 398.59L226.28 401.91L230.18 405.60L232.48 403.84L234.76 400.64L230.86 396.29L226.97 392.90L224.69 396.17z" fill="#443983"/>
<path d="M286.05 431.10L289.96 434.11L293.88 436.79L296.10 433.44L298.31 431.27L294.40 428.26L290.49 425.80L288.27 428.84z" fill="#471164"/>
<path d="M112.63 257.81L116.67 266.48L120.70 274.98L123.28 277.81L126.09 289.42L122.13 282.16L118.17 275.35L115.24 261.18z" fill="#2eb37c"/>
<path d="M258.13 418.42L262.03 421.57L265.94 423.88L268.18 422.32L270.43 420.37L266.53 417.25L262.63 414.35L260.38 415.82z" fill="#482173"/>
<path d="M135.20 336.01L139.17 342.88L143.10 348.35L145.47 344.96L147.84 342.23L143.90 335.97L139.95 329.39L137.54 331.04z" fill="#2a788e"/>
<path d="M194.45 386.21L198.31 388.06L202.21 391.41L204.53 389.07L206.84 386.11L202.96 382.91L199.10 381.08L196.78 383.75z" fill="#3e4989"/>
<path d="M230.18 405.60L234.08 408.77L237.98 411.77L240.26 409.63L242.54 407.23L238.65 404.15L234.76 400.64L232.48 403.84z" fill="#46327e"/>
<path d="M314.00 440.51L317.93 443.27L321.87 445.25L324.05 442.99L326.23 440.41L322.29 438.65L318.37 435.96L316.19 438.48z" fill="#450559"/>
<path d="M158.68 364.50L162.54 367.04L166.42 370.44L168.81 369.06L171.17 366.70L167.29 363.20L163.43 360.39L161.07 362.87z" fill="#355f8d"/>
<path d="M123.88 295.40L127.95 305.29L132.00 314.77L134.42 313.00L136.85 311.87L132.84 303.26L128.81 294.06L126.33 294.20z" fill="#1f988b"/>
<path d="M334.13 443.01L338.09 444.27L342.09 443.33L344.24 441.37L346.39 439.32L342.41 439.33L338.45 438.64L336.29 440.67z" fill="#450559"/>
<path d="M265.94 423.88L269.85 427.12L273.76 430.14L276.00 427.61L278.24 424.97L274.33 422.55L270.43 420.37L268.18 422.32z" fill="#481c6e"/>
<path d="M293.88 436.79L297.81 438.89L301.74 440.34L303.94 438.41L306.14 436.64L302.22 434.16L298.31 431.27L296.10 433.44z" fill="#470d60"/>
<path d="M237.98 411.77L241.88 414.80L245.79 418.47L248.06 416.71L250.33 413.81L246.43 410.40L242.54 407.23L240.26 409.63z" fill="#472c7a"/>
<path d="M85.41 194.87L89.43 202.03L93.68 215.69L96.95 236.67L100.41 264.27L95.28 223.76L90.62 198.01L87.99 195.51z" fill="#a5db36"/>
<path d="M166.42 370.44L170.28 372.62L174.14 374.53L176.53 373.70L178.89 371.73L175.03 369.37L171.17 366.70L168.81 369.06z" fill="#375b8d"/>
<path d="M202.21 391.41L206.09 394.35L209.97 395.55L212.28 393.13L214.61 391.77L210.73 389.39L206.84 386.11L204.53 389.07z" fill="#404588"/>
<path d="M127.30 323.97L131.24 329.47L135.20 336.01L137.54 331.04L139.95 329.39L135.99 322.57L132.00 314.77L129.56 316.02z" fill="#25858e"/>
<path d="M104.57 241.87L108.60 249.94L112.63 257.81L115.24 261.18L118.17 275.35L114.20 268.35L110.21 260.63L107.21 245.55z" fill="#4ac16d"/>
<path d="M273.76 430.14L277.67 432.65L281.59 435.36L283.83 433.14L286.05 431.10L282.14 427.88L278.24 424.97L276.00 427.61z" fill="#481769"/>
<path d="M321.87 445.25L325.82 446.87L329.79 447.49L331.95 445.57L334.13 443.01L330.17 441.71L326.23 440.41L324.05 442.99z" fill="#440256"/>
<path d="M245.79 418.47L249.69 420.99L253.60 423.62L255.86 420.70L258.13 418.42L254.23 416.99L250.33 413.81L248.06 416.71z" fill="#482576"/>
<path d="M174.14 374.53L178.05 378.85L181.94 382.10L184.31 380.46L186.66 378.23L182.76 374.43L178.89 371.73L176.53 373.70z" fill="#39558c"/>
<path d="M301.74 440.34L305.67 443.01L309.61 444.85L311.81 442.77L314.00 440.51L310.08 437.85L306.14 436.64L303.94 438.41z" fill="#46085c"/>
<path d="M209.97 395.55L213.86 398.15L217.76 401.61L220.08 400.24L222.39 398.59L218.49 394.57L214.61 391.77L212.28 393.13z" fill="#424086"/>
<path d="M181.94 382.10L185.82 384.68L189.72 388.01L192.10 387.79L194.45 386.21L190.56 382.96L186.66 378.23L184.31 380.46z" fill="#3c4f8a"/>
<path d="M281.59 435.36L285.52 437.70L289.45 440.11L291.67 438.54L293.88 436.79L289.96 434.11L286.05 431.10L283.83 433.14z" fill="#471164"/>
<path d="M217.76 401.61L221.67 405.17L225.57 408.25L227.88 407.25L230.18 405.60L226.28 401.91L222.39 398.59L220.08 400.24z" fill="#443983"/>
<path d="M253.60 423.62L257.51 425.43L261.42 427.85L263.68 426.43L265.94 423.88L262.03 421.57L258.13 418.42L255.86 420.70z" fill="#482173"/>
<path d="M119.29 308.56L123.31 316.52L127.30 323.97L129.56 316.02L132.00 314.77L127.95 305.29L123.88 295.40L121.47 298.22z" fill="#1f958b"/>
<path d="M115.77 277.02L119.82 285.92L123.88 295.40L126.33 294.20L128.81 294.06L124.77 284.72L120.70 274.98L118.21 274.98z" fill="#25ac82"/>
<path d="M189.72 388.01L193.61 390.62L197.51 394.29L199.86 392.65L202.21 391.41L198.31 388.06L194.45 386.21L192.10 387.79z" fill="#3e4989"/>
<path d="M309.61 444.85L313.56 446.14L317.52 447.46L319.70 445.82L321.87 445.25L317.93 443.27L314.00 440.51L311.81 442.77z" fill="#450559"/>
<path d="M225.57 408.25L229.47 411.06L233.38 413.74L235.68 412.49L237.98 411.77L234.08 408.77L230.18 405.60L227.88 407.25z" fill="#46337f"/>
<path d="M96.40 223.66L100.49 232.91L104.57 241.87L107.21 245.55L110.21 260.63L106.14 250.95L102.02 239.78L99.02 226.07z" fill="#75d054"/>
<path d="M329.79 447.49L333.77 447.46L337.75 448.55L339.93 445.56L342.09 443.33L338.09 444.27L334.13 443.01L331.95 445.57z" fill="#450559"/>
<path d="M261.42 427.85L265.34 430.71L269.26 433.38L271.51 432.81L273.76 430.14L269.85 427.12L265.94 423.88L263.68 426.43z" fill="#481c6e"/>
<path d="M289.45 440.11L293.38 441.51L297.32 444.04L299.53 442.23L301.74 440.34L297.81 438.89L293.88 436.79L291.67 438.54z" fill="#470d60"/>
<path d="M233.38 413.74L237.29 416.76L241.21 420.62L243.50 419.83L245.79 418.47L241.88 414.80L237.98 411.77L235.68 412.49z" fill="#472d7b"/>
<path d="M197.51 394.29L201.41 397.34L205.31 400.27L207.64 397.85L209.97 395.55L206.09 394.35L202.21 391.41L199.86 392.65z" fill="#404588"/>
<path d="M77.75 190.63L81.55 192.15L85.41 194.87L87.99 195.51L90.62 198.01L86.75 194.51L82.92 191.99L80.31 190.62z" fill="#ece51b"/>
<path d="M269.26 433.38L273.19 435.79L277.12 438.60L279.36 436.80L281.59 435.36L277.67 432.65L273.76 430.14L271.51 432.81z" fill="#481769"/>
<path d="M317.52 447.46L321.47 449.72L325.43 451.63L327.62 449.08L329.79 447.49L325.82 446.87L321.87 445.25L319.70 445.82z" fill="#450457"/>
<path d="M241.21 420.62L245.12 423.33L249.04 426.66L251.32 425.12L253.60 423.62L249.69 420.99L245.79 418.47L243.50 419.83z" fill="#482677"/>
<path d="M205.31 400.27L209.22 403.36L213.13 406.71L215.44 403.95L217.76 401.61L213.86 398.15L209.97 395.55L207.64 397.85z" fill="#424086"/>
<path d="M297.32 444.04L301.26 445.94L305.22 446.83L307.41 446.24L309.61 444.85L305.67 443.01L301.74 440.34L299.53 442.23z" fill="#460a5d"/>
<path d="M111.18 290.97L115.27 300.86L119.29 308.56L121.47 298.22L123.88 295.40L119.82 285.92L115.77 277.02L113.33 279.50z" fill="#22a884"/>
<path d="M107.65 259.53L111.72 268.55L115.77 277.02L118.21 274.98L120.70 274.98L116.67 266.48L112.63 257.81L110.12 258.16z" fill="#42be71"/>
<path d="M277.12 438.60L281.05 441.98L284.98 445.39L287.21 443.03L289.45 440.11L285.52 437.70L281.59 435.36L279.36 436.80z" fill="#471164"/>
<path d="M213.13 406.71L217.03 409.30L220.94 411.93L223.26 410.82L225.57 408.25L221.67 405.17L217.76 401.61L215.44 403.95z" fill="#443a83"/>
<path d="M249.04 426.66L252.96 428.39L256.89 431.83L259.16 429.07L261.42 427.85L257.51 425.43L253.60 423.62L251.32 425.12z" fill="#482374"/>
<path d="M88.31 208.28L92.34 215.32L96.40 223.66L99.02 226.07L102.02 239.78L97.85 227.65L93.68 215.69L90.91 209.41z" fill="#addc30"/>
<path d="M325.43 451.63L329.42 451.74L333.38 454.02L335.56 451.92L337.75 448.55L333.77 447.46L329.79 447.49L327.62 449.08z" fill="#450559"/>
<path d="M220.94 411.93L224.85 414.74L228.77 418.18L231.08 415.89L233.38 413.74L229.47 411.06L225.57 408.25L223.26 410.82z" fill="#453581"/>
<path d="M305.22 446.83L309.18 448.60L313.13 450.93L315.33 448.96L317.52 447.46L313.56 446.14L309.61 444.85L307.41 446.24z" fill="#46085c"/>
<path d="M284.98 445.39L288.92 447.64L292.86 449.08L295.09 446.94L297.32 444.04L293.38 441.51L289.45 440.11L287.21 443.03z" fill="#470d60"/>
<path d="M256.89 431.83L260.81 435.76L264.74 438.74L267.01 435.24L269.26 433.38L265.34 430.71L261.42 427.85L259.16 429.07z" fill="#481d6f"/>
<path d="M103.47 285.76L107.33 288.41L111.18 290.97L113.33 279.50L115.77 277.02L111.72 268.55L107.65 259.53L105.16 260.77z" fill="#37b878"/>
<path d="M99.58 244.25L103.62 251.93L107.65 259.53L110.12 258.16L112.63 257.81L108.60 249.94L104.57 241.87L102.08 243.05z" fill="#67cc5c"/>
<path d="M228.77 418.18L232.69 421.45L236.61 423.06L238.91 421.58L241.21 420.62L237.29 416.76L233.38 413.74L231.08 415.89z" fill="#472f7d"/>
<path d="M264.74 438.74L268.68 440.58L272.62 442.08L274.87 440.12L277.12 438.60L273.19 435.79L269.26 433.38L267.01 435.24z" fill="#48186a"/>
<path d="M313.13 450.93L317.09 452.90L321.07 454.01L323.24 453.34L325.43 451.63L321.47 449.72L317.52 447.46L315.33 448.96z" fill="#46075a"/>
<path d="M80.36 196.93L84.30 201.74L88.31 208.28L90.91 209.41L93.68 215.69L89.43 202.03L85.41 194.87L82.89 195.92z" fill="#dfe318"/>
<path d="M292.86 449.08L296.82 450.43L300.78 451.61L303.00 449.53L305.22 446.83L301.26 445.94L297.32 444.04L295.09 446.94z" fill="#460b5e"/>
<path d="M236.61 423.06L240.53 425.75L244.47 430.50L246.76 428.54L249.04 426.66L245.12 423.33L241.21 420.62L238.91 421.58z" fill="#482979"/>
<path d="M72.70 193.14L76.49 194.21L80.36 196.93L82.89 195.92L85.41 194.87L81.55 192.15L77.75 190.63L75.21 191.58z" fill="#f6e620"/>
<path d="M272.62 442.08L276.55 445.30L280.49 449.32L282.74 446.99L284.98 445.39L281.05 441.98L277.12 438.60L274.87 440.12z" fill="#471365"/>
<path d="M244.47 430.50L248.40 434.48L252.33 436.49L254.61 434.46L256.89 431.83L252.96 428.39L249.04 426.66L246.76 428.54z" fill="#482374"/>
<path d="M91.37 225.73L95.47 234.71L99.58 244.25L102.08 243.05L104.57 241.87L100.49 232.91L96.40 223.66L93.88 224.37z" fill="#95d840"/>
<path d="M94.58 247.02L98.82 260.05L103.47 285.76L105.16 260.77L107.65 259.53L103.62 251.93L99.58 244.25L97.07 245.27z" fill="#60ca60"/>
<path d="M321.07 454.01L325.05 455.47L329.04 456.60L331.21 455.60L333.38 454.02L329.42 451.74L325.43 451.63L323.24 453.34z" fill="#450559"/>
<path d="M280.49 449.32L284.44 451.69L288.40 451.86L290.64 450.01L292.86 449.08L288.92 447.64L284.98 445.39L282.74 446.99z" fill="#470d60"/>
<path d="M252.33 436.49L256.26 438.34L260.20 441.61L262.48 440.11L264.74 438.74L260.81 435.76L256.89 431.83L254.61 434.46z" fill="#481d6f"/>
<path d="M300.78 451.61L304.74 453.33L308.71 455.07L310.93 452.53L313.13 450.93L309.18 448.60L305.22 446.83L303.00 449.53z" fill="#460a5d"/>
<path d="M260.20 441.61L264.14 445.64L268.09 447.30L270.35 445.36L272.62 442.08L268.68 440.58L264.74 438.74L262.48 440.11z" fill="#48186a"/>
<path d="M83.25 210.30L87.29 217.27L91.37 225.73L93.88 224.37L96.40 223.66L92.34 215.32L88.31 208.28L85.78 209.12z" fill="#c8e020"/>
<path d="M288.40 451.86L292.35 454.77L296.31 457.10L298.55 454.53L300.78 451.61L296.82 450.43L292.86 449.08L290.64 450.01z" fill="#460b5e"/>
<path d="M308.71 455.07L312.68 456.93L316.66 458.89L318.87 456.34L321.07 454.01L317.09 452.90L313.13 450.93L310.93 452.53z" fill="#46085c"/>
<path d="M67.61 195.39L71.42 196.67L75.31 199.91L77.83 198.14L80.36 196.93L76.49 194.21L72.70 193.14L70.16 194.28z" fill="#fbe723"/>
<path d="M268.09 447.30L272.03 450.18L275.99 452.36L278.24 450.41L280.49 449.32L276.55 445.30L272.62 442.08L270.35 445.36z" fill="#471365"/>
<path d="M75.31 199.91L79.26 204.34L83.25 210.30L85.78 209.12L88.31 208.28L84.30 201.74L80.36 196.93L77.83 198.14z" fill="#eae51a"/>
<path d="M86.38 229.63L90.50 238.71L94.58 247.02L97.07 245.27L99.58 244.25L95.47 234.71L91.37 225.73L88.88 227.67z" fill="#98d83e"/>
<path d="M296.31 457.10L300.29 458.21L304.27 459.10L306.49 457.82L308.71 455.07L304.74 453.33L300.78 451.61L298.55 454.53z" fill="#460a5d"/>
<path d="M275.99 452.36L279.94 455.36L283.90 457.18L286.15 455.16L288.40 451.86L284.44 451.69L280.49 449.32L278.24 450.41z" fill="#470e61"/>
<path d="M316.66 458.89L320.64 460.17L324.64 461.18L326.84 458.93L329.04 456.60L325.05 455.47L321.07 454.01L318.87 456.34z" fill="#46075a"/>
<path d="M78.22 213.84L82.29 221.38L86.38 229.63L88.88 227.67L91.37 225.73L87.29 217.27L83.25 210.30L80.74 212.07z" fill="#cae11f"/>
<path d="M283.90 457.18L287.87 458.83L291.84 460.56L294.08 458.64L296.31 457.10L292.35 454.77L288.40 451.86L286.15 455.16z" fill="#460b5e"/>
<path d="M304.27 459.10L308.25 460.76L312.23 463.12L314.45 460.95L316.66 458.89L312.68 456.93L308.71 455.07L306.49 457.82z" fill="#46085c"/>
<path d="M62.50 197.86L66.34 199.73L70.24 202.86L72.79 201.53L75.31 199.91L71.42 196.67L67.61 195.39L65.04 196.22z" fill="#fde725"/>
<path d="M70.24 202.86L74.20 207.45L78.22 213.84L80.74 212.07L83.25 210.30L79.26 204.34L75.31 199.91L72.79 201.53z" fill="#ece51b"/>
<path d="M291.84 460.56L295.82 461.95L299.80 464.02L302.03 461.82L304.27 459.10L300.29 458.21L296.31 457.10L294.08 458.64z" fill="#460a5d"/>
<path d="M312.23 463.12L316.23 464.28L320.24 464.42L322.45 462.13L324.64 461.18L320.64 460.17L316.66 458.89L314.45 460.95z" fill="#46085c"/>
<path d="M299.80 464.02L303.78 465.97L307.78 467.55L310.00 466.35L312.23 463.12L308.25 460.76L304.27 459.10L302.03 461.82z" fill="#46085c"/>
<path d="M307.78 467.55L311.78 468.44L315.81 468.25L318.02 467.21L320.24 464.42L316.23 464.28L312.23 463.12L310.00 466.35z" fill="#46085c"/>
<path d="M803.02 222.60L806.56 223.90L810.10 225.18L812.21 223.68L814.32 222.21L810.79 221.12L807.26 220.09L805.14 221.33z" fill="#34618d"/>
<path d="M810.10 225.18L813.64 226.39L817.19 227.60L819.30 226.04L821.40 224.49L817.86 223.33L814.32 222.21L812.21 223.68z" fill="#34608d"/>
<path d="M798.77 225.49L802.31 227.04L805.86 228.50L807.98 226.76L810.10 225.18L806.56 223.90L803.02 222.60L800.90 223.97z" fill="#33628d"/>
<path d="M817.19 227.60L820.75 228.82L824.31 230.10L826.41 228.49L828.50 226.88L824.95 225.66L821.40 224.49L819.30 226.04z" fill="#34608d"/>
<path d="M805.86 228.50L809.41 229.78L812.97 231.04L815.08 229.25L817.19 227.60L813.64 226.39L810.10 225.18L807.98 226.76z" fill="#34618d"/>
<path d="M824.31 230.10L827.87 231.45L831.44 232.88L833.53 231.23L835.62 229.56L832.06 228.19L828.50 226.88L826.41 228.49z" fill="#355f8d"/>
<path d="M794.50 228.95L798.05 230.75L801.61 232.38L803.74 230.42L805.86 228.50L802.31 227.04L798.77 225.49L796.63 227.20z" fill="#33628d"/>
<path d="M812.97 231.04L816.53 232.30L820.09 233.61L822.20 231.79L824.31 230.10L820.75 228.82L817.19 227.60L815.08 229.25z" fill="#34608d"/>
<path d="M831.44 232.88L835.01 234.35L838.59 235.87L840.67 234.17L842.76 232.43L839.19 230.98L835.62 229.56L833.53 231.23z" fill="#355e8d"/>
<path d="M801.61 232.38L805.17 233.72L808.73 235.02L810.85 233.01L812.97 231.04L809.41 229.78L805.86 228.50L803.74 230.42z" fill="#34608d"/>
<path d="M838.59 235.87L842.17 237.40L845.75 238.95L847.83 237.19L849.91 235.37L846.33 233.90L842.76 232.43L840.67 234.17z" fill="#365d8d"/>
<path d="M820.09 233.61L823.66 235.00L827.23 236.46L829.34 234.60L831.44 232.88L827.87 231.45L824.31 230.10L822.20 231.79z" fill="#355f8d"/>
<path d="M790.21 232.46L793.78 234.51L797.34 236.30L799.48 234.34L801.61 232.38L798.05 230.75L794.50 228.95L792.36 230.70z" fill="#34618d"/>
<path d="M808.73 235.02L812.29 236.30L815.86 237.64L817.98 235.61L820.09 233.61L816.53 232.30L812.97 231.04L810.85 233.01z" fill="#34608d"/>
<path d="M845.75 238.95L849.34 240.52L852.93 242.13L855.01 240.31L857.08 238.38L853.49 236.86L849.91 235.37L847.83 237.19z" fill="#375b8d"/>
<path d="M827.23 236.46L830.81 237.97L834.40 239.52L836.49 237.63L838.59 235.87L835.01 234.35L831.44 232.88L829.34 234.60z" fill="#355e8d"/>
<path d="M797.34 236.30L800.90 237.72L804.47 239.05L806.60 237.03L808.73 235.02L805.17 233.72L801.61 232.38L799.48 234.34z" fill="#34608d"/>
<path d="M852.93 242.13L856.53 243.77L860.13 245.45L862.20 243.55L864.26 241.52L860.67 239.93L857.08 238.38L855.01 240.31z" fill="#375a8c"/>
<path d="M815.86 237.64L819.44 239.05L823.02 240.53L825.13 238.48L827.23 236.46L823.66 235.00L820.09 233.61L817.98 235.61z" fill="#355f8d"/>
<path d="M834.40 239.52L837.98 241.10L841.57 242.69L843.66 240.76L845.75 238.95L842.17 237.40L838.59 235.87L836.49 237.63z" fill="#365c8d"/>
<path d="M860.13 245.45L863.73 247.19L867.34 249.01L869.40 247.03L871.46 244.85L867.86 243.16L864.26 241.52L862.20 243.55z" fill="#38588c"/>
<path d="M785.91 235.98L789.48 238.28L793.05 240.25L795.20 238.28L797.34 236.30L793.78 234.51L790.21 232.46L788.06 234.22z" fill="#34618d"/>
<path d="M804.47 239.05L808.04 240.35L811.62 241.72L813.74 239.68L815.86 237.64L812.29 236.30L808.73 235.02L806.60 237.03z" fill="#355f8d"/>
<path d="M841.57 242.69L845.17 244.32L848.76 245.99L850.85 244.01L852.93 242.13L849.34 240.52L845.75 238.95L843.66 240.76z" fill="#375b8d"/>
<path d="M823.02 240.53L826.60 242.06L830.19 243.64L832.29 241.56L834.40 239.52L830.81 237.97L827.23 236.46L825.13 238.48z" fill="#365d8d"/>
<path d="M867.34 249.01L870.95 250.88L874.56 252.80L876.62 250.73L878.68 248.37L875.07 246.58L871.46 244.85L869.40 247.03z" fill="#39558c"/>
<path d="M793.05 240.25L796.62 241.73L800.19 243.09L802.33 241.07L804.47 239.05L800.90 237.72L797.34 236.30L795.20 238.28z" fill="#355f8d"/>
<path d="M848.76 245.99L852.37 247.68L855.97 249.41L858.05 247.38L860.13 245.45L856.53 243.77L852.93 242.13L850.85 244.01z" fill="#38598c"/>
<path d="M811.62 241.72L815.20 243.16L818.78 244.66L820.90 242.59L823.02 240.53L819.44 239.05L815.86 237.64L813.74 239.68z" fill="#355e8d"/>
<path d="M830.19 243.64L833.78 245.25L837.38 246.88L839.48 244.77L841.57 242.69L837.98 241.10L834.40 239.52L832.29 241.56z" fill="#365c8d"/>
<path d="M874.56 252.80L878.18 254.74L881.80 256.66L883.85 254.53L885.90 252.06L882.29 250.21L878.68 248.37L876.62 250.73z" fill="#3b528b"/>
<path d="M855.97 249.41L859.58 251.20L863.19 253.06L865.27 251.00L867.34 249.01L863.73 247.19L860.13 245.45L858.05 247.38z" fill="#39568c"/>
<path d="M800.19 243.09L803.77 244.43L807.35 245.82L809.49 243.77L811.62 241.72L808.04 240.35L804.47 239.05L802.33 241.07z" fill="#355e8d"/>
<path d="M781.58 239.52L785.16 242.07L788.74 244.22L790.90 242.23L793.05 240.25L789.48 238.28L785.91 235.98L783.75 237.75z" fill="#34618d"/>
<path d="M837.38 246.88L840.98 248.55L844.58 250.26L846.67 248.11L848.76 245.99L845.17 244.32L841.57 242.69L839.48 244.77z" fill="#375a8c"/>
<path d="M818.78 244.66L822.37 246.21L825.96 247.81L828.08 245.72L830.19 243.64L826.60 242.06L823.02 240.53L820.90 242.59z" fill="#365d8d"/>
<path d="M881.80 256.66L885.42 258.52L889.05 260.31L891.10 258.17L893.14 255.73L889.52 253.91L885.90 252.06L883.85 254.53z" fill="#3c508b"/>
<path d="M863.19 253.06L866.81 254.97L870.43 256.92L872.50 254.84L874.56 252.80L870.95 250.88L867.34 249.01L865.27 251.00z" fill="#3a548c"/>
<path d="M788.74 244.22L792.32 245.76L795.90 247.16L798.05 245.13L800.19 243.09L796.62 241.73L793.05 240.25L790.90 242.23z" fill="#355e8d"/>
<path d="M844.58 250.26L848.19 251.99L851.80 253.75L853.89 251.56L855.97 249.41L852.37 247.68L848.76 245.99L846.67 248.11z" fill="#38588c"/>
<path d="M807.35 245.82L810.94 247.29L814.53 248.81L816.66 246.73L818.78 244.66L815.20 243.16L811.62 241.72L809.49 243.77z" fill="#365d8d"/>
<path d="M825.96 247.81L829.56 249.45L833.16 251.12L835.27 249.00L837.38 246.88L833.78 245.25L830.19 243.64L828.08 245.72z" fill="#375b8d"/>
<path d="M889.05 260.31L892.68 262.03L896.32 263.68L898.36 261.57L900.40 259.26L896.77 257.51L893.14 255.73L891.10 258.17z" fill="#3d4e8a"/>
<path d="M870.43 256.92L874.05 258.89L877.68 260.81L879.74 258.73L881.80 256.66L878.18 254.74L874.56 252.80L872.50 254.84z" fill="#3b518b"/>
<path d="M851.80 253.75L855.41 255.56L859.03 257.42L861.12 255.23L863.19 253.06L859.58 251.20L855.97 249.41L853.89 251.56z" fill="#39558c"/>
<path d="M795.90 247.16L799.48 248.52L803.07 249.95L805.21 247.88L807.35 245.82L803.77 244.43L800.19 243.09L798.05 245.13z" fill="#365d8d"/>
<path d="M833.16 251.12L836.77 252.83L840.38 254.59L842.48 252.42L844.58 250.26L840.98 248.55L837.38 246.88L835.27 249.00z" fill="#38598c"/>
<path d="M814.53 248.81L818.12 250.39L821.72 252.01L823.84 249.91L825.96 247.81L822.37 246.21L818.78 244.66L816.66 246.73z" fill="#365c8d"/>
<path d="M777.23 243.08L780.83 245.88L784.42 248.20L786.58 246.21L788.74 244.22L785.16 242.07L781.58 239.52L779.41 241.30z" fill="#34608d"/>
<path d="M896.32 263.68L899.96 265.29L903.61 266.94L905.64 264.87L907.68 262.67L904.04 260.96L900.40 259.26L898.36 261.57z" fill="#3e4c8a"/>
<path d="M877.68 260.81L881.31 262.67L884.94 264.46L887.00 262.39L889.05 260.31L885.42 258.52L881.80 256.66L879.74 258.73z" fill="#3c4f8a"/>
<path d="M859.03 257.42L862.65 259.32L866.28 261.26L868.36 259.09L870.43 256.92L866.81 254.97L863.19 253.06L861.12 255.23z" fill="#3a538b"/>
<path d="M784.42 248.20L788.00 249.81L791.58 251.25L793.74 249.20L795.90 247.16L792.32 245.76L788.74 244.22L786.58 246.21z" fill="#355e8d"/>
<path d="M840.38 254.59L843.99 256.36L847.61 258.14L849.71 255.94L851.80 253.75L848.19 251.99L844.58 250.26L842.48 252.42z" fill="#39568c"/>
<path d="M803.07 249.95L806.66 251.44L810.25 252.98L812.39 250.89L814.53 248.81L810.94 247.29L807.35 245.82L805.21 247.88z" fill="#365c8d"/>
<path d="M821.72 252.01L825.32 253.68L828.93 255.39L831.05 253.26L833.16 251.12L829.56 249.45L825.96 247.81L823.84 249.91z" fill="#375a8c"/>
<path d="M903.61 266.94L907.26 268.69L910.91 270.62L912.94 268.58L914.96 266.42L911.32 264.47L907.68 262.67L905.64 264.87z" fill="#3e4989"/>
<path d="M884.94 264.46L888.58 266.17L892.23 267.82L894.28 265.75L896.32 263.68L892.68 262.03L889.05 260.31L887.00 262.39z" fill="#3d4d8a"/>
<path d="M866.28 261.26L869.91 263.20L873.54 265.09L875.61 262.95L877.68 260.81L874.05 258.89L870.43 256.92L868.36 259.09z" fill="#3b518b"/>
<path d="M847.61 258.14L851.23 259.96L854.85 261.82L856.94 259.61L859.03 257.42L855.41 255.56L851.80 253.75L849.71 255.94z" fill="#3a548c"/>
<path d="M791.58 251.25L795.17 252.63L798.76 254.09L800.92 252.02L803.07 249.95L799.48 248.52L795.90 247.16L793.74 249.20z" fill="#365d8d"/>
<path d="M828.93 255.39L832.54 257.14L836.16 258.95L838.27 256.76L840.38 254.59L836.77 252.83L833.16 251.12L831.05 253.26z" fill="#38588c"/>
<path d="M810.25 252.98L813.85 254.58L817.46 256.24L819.59 254.12L821.72 252.01L818.12 250.39L814.53 248.81L812.39 250.89z" fill="#375b8d"/>
<path d="M772.86 246.36L776.47 249.42L780.07 251.92L782.25 250.19L784.42 248.20L780.83 245.88L777.23 243.08L775.05 244.86z" fill="#34608d"/>
<path d="M910.91 270.62L914.56 272.78L918.21 275.12L920.23 273.09L922.25 270.89L918.61 268.57L914.96 266.42L912.94 268.58z" fill="#3f4788"/>
<path d="M892.23 267.82L895.87 269.43L899.52 271.08L901.57 269.00L903.61 266.94L899.96 265.29L896.32 263.68L894.28 265.75z" fill="#3e4c8a"/>
<path d="M873.54 265.09L877.18 266.92L880.82 268.69L882.88 266.58L884.94 264.46L881.31 262.67L877.68 260.81L875.61 262.95z" fill="#3d4e8a"/>
<path d="M854.85 261.82L858.48 263.71L862.11 265.65L864.20 263.44L866.28 261.26L862.65 259.32L859.03 257.42L856.94 259.61z" fill="#3b528b"/>
<path d="M836.16 258.95L839.78 260.76L843.40 262.57L845.51 260.35L847.61 258.14L843.99 256.36L840.38 254.59L838.27 256.76z" fill="#39558c"/>
<path d="M780.07 251.92L783.66 253.60L787.25 255.07L789.42 253.29L791.58 251.25L788.00 249.81L784.42 248.20L782.25 250.19z" fill="#365d8d"/>
<path d="M817.46 256.24L821.07 257.94L824.68 259.69L826.81 257.54L828.93 255.39L825.32 253.68L821.72 252.01L819.59 254.12z" fill="#38598c"/>
<path d="M918.21 275.12L921.86 277.52L925.52 279.86L927.53 277.83L929.55 275.60L925.90 273.26L922.25 270.89L920.23 273.09z" fill="#414287"/>
<path d="M798.76 254.09L802.36 255.60L805.96 257.17L808.11 255.08L810.25 252.98L806.66 251.44L803.07 249.95L800.92 252.02z" fill="#365c8d"/>
<path d="M899.52 271.08L903.18 272.82L906.83 274.72L908.87 272.65L910.91 270.62L907.26 268.69L903.61 266.94L901.57 269.00z" fill="#3e4989"/>
<path d="M880.82 268.69L884.46 270.39L888.11 272.05L890.17 269.94L892.23 267.82L888.58 266.17L884.94 264.46L882.88 266.58z" fill="#3e4c8a"/>
<path d="M862.11 265.65L865.75 267.59L869.39 269.46L871.47 267.25L873.54 265.09L869.91 263.20L866.28 261.26L864.20 263.44z" fill="#3c508b"/>
<path d="M925.52 279.86L929.18 282.08L932.85 284.19L934.85 282.15L936.86 279.96L933.20 277.82L929.55 275.60L927.53 277.83z" fill="#423f85"/>
<path d="M843.40 262.57L847.03 264.41L850.66 266.29L852.76 264.04L854.85 261.82L851.23 259.96L847.61 258.14L845.51 260.35z" fill="#3a538b"/>
<path d="M824.68 259.69L828.30 261.48L831.92 263.33L834.04 261.14L836.16 258.95L832.54 257.14L828.93 255.39L826.81 257.54z" fill="#39568c"/>
<path d="M787.25 255.07L790.84 256.49L794.44 257.97L796.60 256.16L798.76 254.09L795.17 252.63L791.58 251.25L789.42 253.29z" fill="#365c8d"/>
<path d="M805.96 257.17L809.57 258.79L813.18 260.47L815.32 258.35L817.46 256.24L813.85 254.58L810.25 252.98L808.11 255.08z" fill="#375a8c"/>
<path d="M906.83 274.72L910.49 276.84L914.15 279.15L916.18 277.12L918.21 275.12L914.56 272.78L910.91 270.62L908.87 272.65z" fill="#404688"/>
<path d="M888.11 272.05L891.76 273.69L895.42 275.38L897.48 273.22L899.52 271.08L895.87 269.43L892.23 267.82L890.17 269.94z" fill="#3e4a89"/>
<path d="M768.42 247.14L772.04 250.48L775.65 253.19L777.86 252.34L780.07 251.92L776.47 249.42L772.86 246.36L770.64 246.53z" fill="#33628d"/>
<path d="M932.85 284.19L936.52 286.27L940.19 288.38L942.19 286.36L944.19 284.26L940.53 282.09L936.86 279.96L934.85 282.15z" fill="#443b84"/>
<path d="M869.39 269.46L873.03 271.29L876.67 273.05L878.75 270.83L880.82 268.69L877.18 266.92L873.54 265.09L871.47 267.25z" fill="#3d4d8a"/>
<path d="M850.66 266.29L854.29 268.20L857.93 270.18L860.02 267.89L862.11 265.65L858.48 263.71L854.85 261.82L852.76 264.04z" fill="#3b518b"/>
<path d="M831.92 263.33L835.54 265.19L839.17 267.05L841.29 264.81L843.40 262.57L839.78 260.76L836.16 258.95L834.04 261.14z" fill="#3a548c"/>
<path d="M813.18 260.47L816.79 262.21L820.41 264.00L822.55 261.84L824.68 259.69L821.07 257.94L817.46 256.24L815.32 258.35z" fill="#38588c"/>
<path d="M914.15 279.15L917.81 281.54L921.47 283.89L923.50 281.87L925.52 279.86L921.86 277.52L918.21 275.12L916.18 277.12z" fill="#414287"/>
<path d="M794.44 257.97L798.04 259.51L801.65 261.11L803.81 259.27L805.96 257.17L802.36 255.60L798.76 254.09L796.60 256.16z" fill="#375b8d"/>
<path d="M775.65 253.19L779.25 254.97L782.85 256.52L785.05 255.59L787.25 255.07L783.66 253.60L780.07 251.92L777.86 252.34z" fill="#355f8d"/>
<path d="M940.19 288.38L943.86 290.61L947.54 293.00L949.53 290.99L951.52 288.98L947.86 286.54L944.19 284.26L942.19 286.36z" fill="#453882"/>
<path d="M895.42 275.38L899.08 277.15L902.74 279.05L904.79 276.87L906.83 274.72L903.18 272.82L899.52 271.08L897.48 273.22z" fill="#3f4889"/>
<path d="M876.67 273.05L880.32 274.76L883.98 276.45L886.05 274.20L888.11 272.05L884.46 270.39L880.82 268.69L878.75 270.83z" fill="#3e4c8a"/>
<path d="M857.93 270.18L861.57 272.17L865.21 274.10L867.30 271.75L869.39 269.46L865.75 267.59L862.11 265.65L860.02 267.89z" fill="#3d4e8a"/>
<path d="M839.17 267.05L842.80 268.92L846.44 270.84L848.55 268.56L850.66 266.29L847.03 264.41L843.40 262.57L841.29 264.81z" fill="#3b528b"/>
<path d="M921.47 283.89L925.14 286.13L928.81 288.28L930.83 286.23L932.85 284.19L929.18 282.08L925.52 279.86L923.50 281.87z" fill="#433e85"/>
<path d="M820.41 264.00L824.03 265.84L827.66 267.74L829.79 265.53L831.92 263.33L828.30 261.48L824.68 259.69L822.55 261.84z" fill="#39558c"/>
<path d="M947.54 293.00L951.21 295.65L954.88 298.50L956.87 296.53L958.85 294.59L955.19 291.68L951.52 288.98L949.53 290.99z" fill="#46337f"/>
<path d="M801.65 261.11L805.26 262.76L808.88 264.47L811.03 262.60L813.18 260.47L809.57 258.79L805.96 257.17L803.81 259.27z" fill="#38598c"/>
<path d="M782.85 256.52L786.45 258.00L790.06 259.54L792.25 258.56L794.44 257.97L790.84 256.49L787.25 255.07L785.05 255.59z" fill="#365d8d"/>
<path d="M902.74 279.05L906.41 281.14L910.07 283.40L912.11 281.25L914.15 279.15L910.49 276.84L906.83 274.72L904.79 276.87z" fill="#404588"/>
<path d="M954.88 298.50L958.55 301.43L962.22 304.40L964.20 302.51L966.17 300.66L962.51 297.61L958.85 294.59L956.87 296.53z" fill="#472d7b"/>
<path d="M883.98 276.45L887.64 278.13L891.30 279.88L893.36 277.58L895.42 275.38L891.76 273.69L888.11 272.05L886.05 274.20z" fill="#3e4989"/>
<path d="M865.21 274.10L868.86 275.99L872.51 277.83L874.59 275.39L876.67 273.05L873.03 271.29L869.39 269.46L867.30 271.75z" fill="#3e4c8a"/>
<path d="M928.81 288.28L932.49 290.40L936.17 292.55L938.18 290.45L940.19 288.38L936.52 286.27L932.85 284.19L930.83 286.23z" fill="#443a83"/>
<path d="M846.44 270.84L850.08 272.80L853.72 274.85L855.83 272.50L857.93 270.18L854.29 268.20L850.66 266.29L848.55 268.56z" fill="#3c508b"/>
<path d="M827.66 267.74L831.29 269.65L834.93 271.56L837.05 269.30L839.17 267.05L835.54 265.19L831.92 263.33L829.79 265.53z" fill="#3a538b"/>
<path d="M962.22 304.40L965.90 307.31L969.58 310.10L971.55 308.29L973.51 306.49L969.84 303.65L966.17 300.66L964.20 302.51z" fill="#482677"/>
<path d="M808.88 264.47L812.50 266.24L816.12 268.07L818.27 266.16L820.41 264.00L816.79 262.21L813.18 260.47L811.03 262.60z" fill="#38588c"/>
<path d="M763.98 248.88L767.61 252.50L771.23 255.41L773.45 254.26L775.65 253.19L772.04 250.48L768.42 247.14L766.20 247.97z" fill="#32658e"/>
<path d="M910.07 283.40L913.74 285.73L917.41 288.05L919.44 285.96L921.47 283.89L917.81 281.54L914.15 279.15L912.11 281.25z" fill="#424186"/>
<path d="M790.06 259.54L793.67 261.15L797.29 262.80L799.47 261.76L801.65 261.11L798.04 259.51L794.44 257.97L792.25 258.56z" fill="#365c8d"/>
<path d="M936.17 292.55L939.85 294.81L943.53 297.22L945.54 295.09L947.54 293.00L943.86 290.61L940.19 288.38L938.18 290.45z" fill="#453781"/>
<path d="M891.30 279.88L894.96 281.70L898.63 283.62L900.69 281.29L902.74 279.05L899.08 277.15L895.42 275.38L893.36 277.58z" fill="#3f4788"/>
<path d="M872.51 277.83L876.17 279.60L879.82 281.34L881.90 278.82L883.98 276.45L880.32 274.76L876.67 273.05L874.59 275.39z" fill="#3e4989"/>
<path d="M853.72 274.85L857.37 276.94L861.02 278.98L863.12 276.52L865.21 274.10L861.57 272.17L857.93 270.18L855.83 272.50z" fill="#3d4d8a"/>
<path d="M969.58 310.10L973.26 312.74L976.95 315.38L978.91 313.61L980.87 311.80L977.19 309.17L973.51 306.49L971.55 308.29z" fill="#482071"/>
<path d="M834.93 271.56L838.56 273.49L842.21 275.46L844.33 273.14L846.44 270.84L842.80 268.92L839.17 267.05L837.05 269.30z" fill="#3b518b"/>
<path d="M771.23 255.41L774.84 257.27L778.45 258.87L780.65 257.66L782.85 256.52L779.25 254.97L775.65 253.19L773.45 254.26z" fill="#34618d"/>
<path d="M917.41 288.05L921.08 290.27L924.76 292.41L926.79 290.36L928.81 288.28L925.14 286.13L921.47 283.89L919.44 285.96z" fill="#433e85"/>
<path d="M816.12 268.07L819.75 269.95L823.39 271.90L825.53 269.94L827.66 267.74L824.03 265.84L820.41 264.00L818.27 266.16z" fill="#3a548c"/>
<path d="M943.53 297.22L947.21 299.85L950.89 302.63L952.89 300.54L954.88 298.50L951.21 295.65L947.54 293.00L945.54 295.09z" fill="#46327e"/>
<path d="M976.95 315.38L980.64 318.02L984.34 320.65L986.29 318.89L988.24 316.99L984.55 314.42L980.87 311.80L978.91 313.61z" fill="#481b6d"/>
<path d="M898.63 283.62L902.30 285.70L905.97 287.91L908.03 285.60L910.07 283.40L906.41 281.14L902.74 279.05L900.69 281.29z" fill="#414487"/>
<path d="M797.29 262.80L800.91 264.50L804.53 266.27L806.70 265.19L808.88 264.47L805.26 262.76L801.65 261.11L799.47 261.76z" fill="#375a8c"/>
<path d="M861.02 278.98L864.67 281.00L868.33 282.97L870.42 280.36L872.51 277.83L868.86 275.99L865.21 274.10L863.12 276.52z" fill="#3e4a89"/>
<path d="M879.82 281.34L883.49 283.07L887.16 284.85L889.23 282.31L891.30 279.88L887.64 278.13L883.98 276.45L881.90 278.82z" fill="#3f4788"/>
<path d="M950.89 302.63L954.57 305.48L958.25 308.34L960.24 306.34L962.22 304.40L958.55 301.43L954.88 298.50L952.89 300.54z" fill="#472d7b"/>
<path d="M842.21 275.46L845.85 277.50L849.50 279.65L851.61 277.24L853.72 274.85L850.08 272.80L846.44 270.84L844.33 273.14z" fill="#3d4e8a"/>
<path d="M924.76 292.41L928.45 294.54L932.13 296.72L934.15 294.66L936.17 292.55L932.49 290.40L928.81 288.28L926.79 290.36z" fill="#443a83"/>
<path d="M778.45 258.87L782.06 260.39L785.67 261.98L787.87 260.73L790.06 259.54L786.45 258.00L782.85 256.52L780.65 257.66z" fill="#34608d"/>
<path d="M984.34 320.65L988.04 323.21L991.74 325.66L993.69 323.88L995.63 321.90L991.93 319.50L988.24 316.99L986.29 318.89z" fill="#481668"/>
<path d="M823.39 271.90L827.02 273.88L830.66 275.86L832.80 273.82L834.93 271.56L831.29 269.65L827.66 267.74L825.53 269.94z" fill="#3b528b"/>
<path d="M905.97 287.91L909.65 290.17L913.33 292.39L915.37 290.18L917.41 288.05L913.74 285.73L910.07 283.40L908.03 285.60z" fill="#424086"/>
<path d="M958.25 308.34L961.93 311.15L965.62 313.85L967.60 311.95L969.58 310.10L965.90 307.31L962.22 304.40L960.24 306.34z" fill="#482677"/>
<path d="M804.53 266.27L808.16 268.11L811.79 270.01L813.96 268.87L816.12 268.07L812.50 266.24L808.88 264.47L806.70 265.19z" fill="#38598c"/>
<path d="M868.33 282.97L871.99 284.85L875.65 286.66L877.74 283.97L879.82 281.34L876.17 279.60L872.51 277.83L870.42 280.36z" fill="#3f4788"/>
<path d="M887.16 284.85L890.83 286.69L894.50 288.60L896.57 286.07L898.63 283.62L894.96 281.70L891.30 279.88L889.23 282.31z" fill="#404588"/>
<path d="M932.13 296.72L935.82 299.01L939.51 301.45L941.52 299.36L943.53 297.22L939.85 294.81L936.17 292.55L934.15 294.66z" fill="#453781"/>
<path d="M849.50 279.65L853.15 281.85L856.81 284.02L858.91 281.49L861.02 278.98L857.37 276.94L853.72 274.85L851.61 277.24z" fill="#3e4a89"/>
<path d="M759.51 250.83L763.16 254.73L766.79 257.83L769.02 256.61L771.23 255.41L767.61 252.50L763.98 248.88L761.75 249.85z" fill="#31678e"/>
<path d="M991.74 325.66L995.45 327.97L999.17 330.12L1001.11 328.30L1003.05 326.34L999.34 324.17L995.63 321.90L993.69 323.88z" fill="#471063"/>
<path d="M830.66 275.86L834.31 277.88L837.95 279.94L840.08 277.80L842.21 275.46L838.56 273.49L834.93 271.56L832.80 273.82z" fill="#3c508b"/>
<path d="M965.62 313.85L969.32 316.41L973.02 318.98L974.99 317.16L976.95 315.38L973.26 312.74L969.58 310.10L967.60 311.95z" fill="#482071"/>
<path d="M785.67 261.98L789.29 263.62L792.91 265.31L795.10 264.02L797.29 262.80L793.67 261.15L790.06 259.54L787.87 260.73z" fill="#355e8d"/>
<path d="M913.33 292.39L917.01 294.52L920.70 296.59L922.73 294.47L924.76 292.41L921.08 290.27L917.41 288.05L915.37 290.18z" fill="#433d84"/>
<path d="M939.51 301.45L943.19 304.08L946.88 306.83L948.88 304.75L950.89 302.63L947.21 299.85L943.53 297.22L941.52 299.36z" fill="#46327e"/>
<path d="M766.79 257.83L770.41 259.77L774.02 261.42L776.24 260.14L778.45 258.87L774.84 257.27L771.23 255.41L769.02 256.61z" fill="#33638d"/>
<path d="M811.79 270.01L815.43 271.97L819.07 274.00L821.23 272.79L823.39 271.90L819.75 269.95L816.12 268.07L813.96 268.87z" fill="#39558c"/>
<path d="M894.50 288.60L898.18 290.65L901.85 292.79L903.92 290.32L905.97 287.91L902.30 285.70L898.63 283.62L896.57 286.07z" fill="#414287"/>
<path d="M856.81 284.02L860.47 286.17L864.13 288.26L866.23 285.61L868.33 282.97L864.67 281.00L861.02 278.98L858.91 281.49z" fill="#3f4889"/>
<path d="M875.65 286.66L879.32 288.42L882.99 290.17L885.08 287.49L887.16 284.85L883.49 283.07L879.82 281.34L877.74 283.97z" fill="#404588"/>
<path d="M973.02 318.98L976.72 321.56L980.42 324.16L982.38 322.39L984.34 320.65L980.64 318.02L976.95 315.38L974.99 317.16z" fill="#481b6d"/>
<path d="M999.17 330.12L1002.90 332.18L1006.63 334.17L1008.56 332.34L1010.49 330.45L1006.77 328.43L1003.05 326.34L1001.11 328.30z" fill="#470d60"/>
<path d="M837.95 279.94L841.61 282.08L845.26 284.34L847.38 282.09L849.50 279.65L845.85 277.50L842.21 275.46L840.08 277.80z" fill="#3d4d8a"/>
<path d="M946.88 306.83L950.57 309.62L954.26 312.41L956.25 310.38L958.25 308.34L954.57 305.48L950.89 302.63L948.88 304.75z" fill="#472c7a"/>
<path d="M920.70 296.59L924.39 298.65L928.08 300.79L930.11 298.74L932.13 296.72L928.45 294.54L924.76 292.41L922.73 294.47z" fill="#443983"/>
<path d="M792.91 265.31L796.54 267.05L800.17 268.86L802.35 267.53L804.53 266.27L800.91 264.50L797.29 262.80L795.10 264.02z" fill="#365c8d"/>
<path d="M980.42 324.16L984.13 326.72L987.84 329.20L989.79 327.42L991.74 325.66L988.04 323.21L984.34 320.65L982.38 322.39z" fill="#481668"/>
<path d="M901.85 292.79L905.54 294.97L909.22 297.11L911.28 294.71L913.33 292.39L909.65 290.17L905.97 287.91L903.92 290.32z" fill="#423f85"/>
<path d="M819.07 274.00L822.72 276.08L826.37 278.19L828.52 276.87L830.66 275.86L827.02 273.88L823.39 271.90L821.23 272.79z" fill="#3a538b"/>
<path d="M774.02 261.42L777.64 262.98L781.26 264.60L783.47 263.29L785.67 261.98L782.06 260.39L778.45 258.87L776.24 260.14z" fill="#34618d"/>
<path d="M864.13 288.26L867.79 290.23L871.46 292.08L873.56 289.38L875.65 286.66L871.99 284.85L868.33 282.97L866.23 285.61z" fill="#404588"/>
<path d="M954.26 312.41L957.95 315.15L961.65 317.78L963.64 315.80L965.62 313.85L961.93 311.15L958.25 308.34L956.25 310.38z" fill="#482576"/>
<path d="M882.99 290.17L886.67 291.94L890.35 293.75L892.43 291.18L894.50 288.60L890.83 286.69L887.16 284.85L885.08 287.49z" fill="#414487"/>
<path d="M1006.63 334.17L1010.37 336.11L1014.11 338.02L1016.03 336.20L1017.95 334.38L1014.22 332.44L1010.49 330.45L1008.56 332.34z" fill="#46085c"/>
<path d="M845.26 284.34L848.92 286.65L852.58 288.91L854.70 286.56L856.81 284.02L853.15 281.85L849.50 279.65L847.38 282.09z" fill="#3e4989"/>
<path d="M928.08 300.79L931.77 303.08L935.47 305.51L937.49 303.48L939.51 301.45L935.82 299.01L932.13 296.72L930.11 298.74z" fill="#453581"/>
<path d="M800.17 268.86L803.81 270.74L807.45 272.69L809.62 271.32L811.79 270.01L808.16 268.11L804.53 266.27L802.35 267.53z" fill="#375a8c"/>
<path d="M987.84 329.20L991.55 331.57L995.28 333.81L997.23 331.94L999.17 330.12L995.45 327.97L991.74 325.66L989.79 327.42z" fill="#471164"/>
<path d="M961.65 317.78L965.35 320.29L969.06 322.80L971.04 320.86L973.02 318.98L969.32 316.41L965.62 313.85L963.64 315.80z" fill="#482071"/>
<path d="M909.22 297.11L912.91 299.15L916.60 301.13L918.65 298.81L920.70 296.59L917.01 294.52L913.33 292.39L911.28 294.71z" fill="#443b84"/>
<path d="M755.02 252.77L758.68 256.94L762.33 260.23L764.57 259.02L766.79 257.83L763.16 254.73L759.51 250.83L757.27 251.79z" fill="#30698e"/>
<path d="M826.37 278.19L830.02 280.34L833.68 282.56L835.82 281.10L837.95 279.94L834.31 277.88L830.66 275.86L828.52 276.87z" fill="#3c508b"/>
<path d="M871.46 292.08L875.14 293.81L878.81 295.46L880.91 292.84L882.99 290.17L879.32 288.42L875.65 286.66L873.56 289.38z" fill="#414287"/>
<path d="M890.35 293.75L894.03 295.68L897.72 297.72L899.79 295.28L901.85 292.79L898.18 290.65L894.50 288.60L892.43 291.18z" fill="#424086"/>
<path d="M781.26 264.60L784.89 266.28L788.52 267.99L790.72 266.64L792.91 265.31L789.29 263.62L785.67 261.98L783.47 263.29z" fill="#34608d"/>
<path d="M852.58 288.91L856.24 291.13L859.91 293.26L862.02 290.88L864.13 288.26L860.47 286.17L856.81 284.02L854.70 286.56z" fill="#404688"/>
<path d="M935.47 305.51L939.16 308.15L942.85 310.90L944.87 308.87L946.88 306.83L943.19 304.08L939.51 301.45L937.49 303.48z" fill="#46307e"/>
<path d="M1014.11 338.02L1017.86 339.88L1021.61 341.68L1023.53 339.89L1025.44 338.11L1021.69 336.28L1017.95 334.38L1016.03 336.20z" fill="#450559"/>
<path d="M762.33 260.23L765.95 262.25L769.58 263.94L771.80 262.68L774.02 261.42L770.41 259.77L766.79 257.83L764.57 259.02z" fill="#32648e"/>
<path d="M969.06 322.80L972.77 325.34L976.48 327.91L978.45 325.99L980.42 324.16L976.72 321.56L973.02 318.98L971.04 320.86z" fill="#481b6d"/>
<path d="M995.28 333.81L999.01 335.95L1002.75 337.99L1004.69 336.05L1006.63 334.17L1002.90 332.18L999.17 330.12L997.23 331.94z" fill="#470d60"/>
<path d="M807.45 272.69L811.09 274.70L814.74 276.78L816.91 275.37L819.07 274.00L815.43 271.97L811.79 270.01L809.62 271.32z" fill="#38588c"/>
<path d="M833.68 282.56L837.34 284.86L841.00 287.26L843.13 285.66L845.26 284.34L841.61 282.08L837.95 279.94L835.82 281.10z" fill="#3d4d8a"/>
<path d="M942.85 310.90L946.55 313.69L950.24 316.48L952.25 314.43L954.26 312.41L950.57 309.62L946.88 306.83L944.87 308.87z" fill="#472c7a"/>
<path d="M916.60 301.13L920.30 303.10L924.00 305.16L926.04 302.92L928.08 300.79L924.39 298.65L920.70 296.59L918.65 298.81z" fill="#453882"/>
<path d="M897.72 297.72L901.40 299.81L905.10 301.90L907.16 299.53L909.22 297.11L905.54 294.97L901.85 292.79L899.79 295.28z" fill="#433d84"/>
<path d="M859.91 293.26L863.58 295.24L867.26 297.04L869.36 294.70L871.46 292.08L867.79 290.23L864.13 288.26L862.02 290.88z" fill="#414287"/>
<path d="M878.81 295.46L882.50 297.08L886.18 298.72L888.27 296.28L890.35 293.75L886.67 291.94L882.99 290.17L880.91 292.84z" fill="#424086"/>
<path d="M788.52 267.99L792.15 269.75L795.79 271.57L797.98 270.22L800.17 268.86L796.54 267.05L792.91 265.31L790.72 266.64z" fill="#355e8d"/>
<path d="M1021.61 341.68L1025.37 343.43L1029.13 345.12L1031.04 343.34L1032.95 341.59L1029.19 339.88L1025.44 338.11L1023.53 339.89z" fill="#440256"/>
<path d="M976.48 327.91L980.19 330.47L983.91 332.99L985.88 331.06L987.84 329.20L984.13 326.72L980.42 324.16L978.45 325.99z" fill="#481668"/>
<path d="M950.24 316.48L953.95 319.23L957.65 321.89L959.65 319.80L961.65 317.78L957.95 315.15L954.26 312.41L952.25 314.43z" fill="#482576"/>
<path d="M1002.75 337.99L1006.49 339.96L1010.24 341.86L1012.18 339.90L1014.11 338.02L1010.37 336.11L1006.63 334.17L1004.69 336.05z" fill="#46085c"/>
<path d="M814.74 276.78L818.40 278.93L822.05 281.12L824.21 279.64L826.37 278.19L822.72 276.08L819.07 274.00L816.91 275.37z" fill="#3a548c"/>
<path d="M841.00 287.26L844.66 289.68L848.33 292.00L850.46 290.33L852.58 288.91L848.92 286.65L845.26 284.34L843.13 285.66z" fill="#3e4989"/>
<path d="M769.58 263.94L773.20 265.53L776.83 267.17L779.05 265.89L781.26 264.60L777.64 262.98L774.02 261.42L771.80 262.68z" fill="#33638d"/>
<path d="M924.00 305.16L927.70 307.37L931.40 309.75L933.44 307.59L935.47 305.51L931.77 303.08L928.08 300.79L926.04 302.92z" fill="#463480"/>
<path d="M905.10 301.90L908.79 303.90L912.49 305.85L914.55 303.50L916.60 301.13L912.91 299.15L909.22 297.11L907.16 299.53z" fill="#443a83"/>
<path d="M983.91 332.99L987.63 335.42L991.36 337.75L993.32 335.75L995.28 333.81L991.55 331.57L987.84 329.20L985.88 331.06z" fill="#471164"/>
<path d="M957.65 321.89L961.36 324.43L965.07 326.97L967.07 324.83L969.06 322.80L965.35 320.29L961.65 317.78L959.65 319.80z" fill="#482071"/>
<path d="M867.26 297.04L870.94 298.68L874.62 300.22L876.72 297.98L878.81 295.46L875.14 293.81L871.46 292.08L869.36 294.70z" fill="#424086"/>
<path d="M795.79 271.57L799.43 273.47L803.08 275.45L805.27 274.07L807.45 272.69L803.81 270.74L800.17 268.86L797.98 270.22z" fill="#365c8d"/>
<path d="M886.18 298.72L889.87 300.45L893.56 302.31L895.64 300.07L897.72 297.72L894.03 295.68L890.35 293.75L888.27 296.28z" fill="#423f85"/>
<path d="M1029.13 345.12L1032.91 346.75L1036.69 348.29L1038.59 346.54L1040.48 344.81L1036.71 343.23L1032.95 341.59L1031.04 343.34z" fill="#440154"/>
<path d="M931.40 309.75L935.10 312.34L938.81 315.08L940.83 312.97L942.85 310.90L939.16 308.15L935.47 305.51L933.44 307.59z" fill="#46307e"/>
<path d="M822.05 281.12L825.71 283.39L829.38 285.73L831.53 284.14L833.68 282.56L830.02 280.34L826.37 278.19L824.21 279.64z" fill="#3b518b"/>
<path d="M848.33 292.00L852.00 294.23L855.68 296.32L857.80 294.70L859.91 293.26L856.24 291.13L852.58 288.91L850.46 290.33z" fill="#404588"/>
<path d="M750.51 254.79L754.19 259.23L757.84 262.71L760.09 261.47L762.33 260.23L758.68 256.94L755.02 252.77L752.77 253.78z" fill="#2f6b8e"/>
<path d="M1010.24 341.86L1014.00 343.70L1017.76 345.46L1019.69 343.53L1021.61 341.68L1017.86 339.88L1014.11 338.02L1012.18 339.90z" fill="#450559"/>
<path d="M776.83 267.17L780.46 268.86L784.10 270.57L786.31 269.29L788.52 267.99L784.89 266.28L781.26 264.60L779.05 265.89z" fill="#34618d"/>
<path d="M965.07 326.97L968.79 329.51L972.51 332.06L974.50 329.92L976.48 327.91L972.77 325.34L969.06 322.80L967.07 324.83z" fill="#481b6d"/>
<path d="M991.36 337.75L995.10 339.98L998.84 342.11L1000.80 340.03L1002.75 337.99L999.01 335.95L995.28 333.81L993.32 335.75z" fill="#470d60"/>
<path d="M912.49 305.85L916.20 307.78L919.90 309.78L921.95 307.46L924.00 305.16L920.30 303.10L916.60 301.13L914.55 303.50z" fill="#453781"/>
<path d="M938.81 315.08L942.51 317.87L946.21 320.70L948.23 318.57L950.24 316.48L946.55 313.69L942.85 310.90L940.83 312.97z" fill="#472a7a"/>
<path d="M757.84 262.71L761.48 264.80L765.11 266.52L767.34 265.23L769.58 263.94L765.95 262.25L762.33 260.23L760.09 261.47z" fill="#31668e"/>
<path d="M803.08 275.45L806.74 277.49L810.39 279.60L812.57 278.20L814.74 276.78L811.09 274.70L807.45 272.69L805.27 274.07z" fill="#38598c"/>
<path d="M893.56 302.31L897.26 304.25L900.96 306.25L903.03 304.15L905.10 301.90L901.40 299.81L897.72 297.72L895.64 300.07z" fill="#443b84"/>
<path d="M829.38 285.73L833.04 288.16L836.72 290.67L838.86 288.97L841.00 287.26L837.34 284.86L833.68 282.56L831.53 284.14z" fill="#3d4e8a"/>
<path d="M874.62 300.22L878.31 301.69L882.00 303.14L884.09 301.06L886.18 298.72L882.50 297.08L878.81 295.46L876.72 297.98z" fill="#423f85"/>
<path d="M855.68 296.32L859.36 298.22L863.04 299.94L865.15 298.43L867.26 297.04L863.58 295.24L859.91 293.26L857.80 294.70z" fill="#414287"/>
<path d="M972.51 332.06L976.23 334.59L979.96 337.08L981.94 334.99L983.91 332.99L980.19 330.47L976.48 327.91L974.50 329.92z" fill="#481668"/>
<path d="M1017.76 345.46L1021.53 347.17L1025.30 348.83L1027.22 346.95L1029.13 345.12L1025.37 343.43L1021.61 341.68L1019.69 343.53z" fill="#440256"/>
<path d="M946.21 320.70L949.92 323.53L953.63 326.28L955.64 324.06L957.65 321.89L953.95 319.23L950.24 316.48L948.23 318.57z" fill="#482576"/>
<path d="M784.10 270.57L787.74 272.32L791.38 274.14L793.59 272.88L795.79 271.57L792.15 269.75L788.52 267.99L786.31 269.29z" fill="#355f8d"/>
<path d="M998.84 342.11L1002.59 344.12L1006.34 346.03L1008.29 343.92L1010.24 341.86L1006.49 339.96L1002.75 337.99L1000.80 340.03z" fill="#46085c"/>
<path d="M919.90 309.78L923.61 311.92L927.32 314.22L929.37 311.97L931.40 309.75L927.70 307.37L924.00 305.16L921.95 307.46z" fill="#463480"/>
<path d="M836.72 290.67L840.39 293.14L844.06 295.46L846.20 293.74L848.33 292.00L844.66 289.68L841.00 287.26L838.86 288.97z" fill="#3e4989"/>
<path d="M810.39 279.60L814.05 281.77L817.72 284.01L819.89 282.59L822.05 281.12L818.40 278.93L814.74 276.78L812.57 278.20z" fill="#39558c"/>
<path d="M900.96 306.25L904.66 308.21L908.37 310.16L910.43 308.08L912.49 305.85L908.79 303.90L905.10 301.90L903.03 304.15z" fill="#443983"/>
<path d="M765.11 266.52L768.74 268.11L772.37 269.77L774.60 268.47L776.83 267.17L773.20 265.53L769.58 263.94L767.34 265.23z" fill="#32648e"/>
<path d="M953.63 326.28L957.34 328.91L961.06 331.52L963.07 329.21L965.07 326.97L961.36 324.43L957.65 321.89L955.64 324.06z" fill="#481f70"/>
<path d="M979.96 337.08L983.69 339.51L987.42 341.85L989.39 339.79L991.36 337.75L987.63 335.42L983.91 332.99L981.94 334.99z" fill="#471164"/>
<path d="M882.00 303.14L885.70 304.66L889.40 306.30L891.48 304.43L893.56 302.31L889.87 300.45L886.18 298.72L884.09 301.06z" fill="#433e85"/>
<path d="M863.04 299.94L866.72 301.50L870.42 302.96L872.52 301.53L874.62 300.22L870.94 298.68L867.26 297.04L865.15 298.43z" fill="#424086"/>
<path d="M927.32 314.22L931.03 316.74L934.74 319.42L936.78 317.24L938.81 315.08L935.10 312.34L931.40 309.75L929.37 311.97z" fill="#472f7d"/>
<path d="M1025.30 348.83L1029.08 350.42L1032.87 351.90L1034.78 350.08L1036.69 348.29L1032.91 346.75L1029.13 345.12L1027.22 346.95z" fill="#440154"/>
<path d="M791.38 274.14L795.04 276.02L798.69 277.97L800.89 276.74L803.08 275.45L799.43 273.47L795.79 271.57L793.59 272.88z" fill="#365d8d"/>
<path d="M844.06 295.46L847.74 297.62L851.42 299.59L853.55 297.98L855.68 296.32L852.00 294.23L848.33 292.00L846.20 293.74z" fill="#404688"/>
<path d="M1006.34 346.03L1010.11 347.83L1013.88 349.53L1015.82 347.47L1017.76 345.46L1014.00 343.70L1010.24 341.86L1008.29 343.92z" fill="#450559"/>
<path d="M817.72 284.01L821.39 286.35L825.06 288.77L827.22 287.29L829.38 285.73L825.71 283.39L822.05 281.12L819.89 282.59z" fill="#3b528b"/>
<path d="M961.06 331.52L964.79 334.08L968.51 336.60L970.51 334.29L972.51 332.06L968.79 329.51L965.07 326.97L963.07 329.21z" fill="#481a6c"/>
<path d="M908.37 310.16L912.08 312.12L915.79 314.15L917.85 312.03L919.90 309.78L916.20 307.78L912.49 305.85L910.43 308.08z" fill="#453581"/>
<path d="M745.97 256.74L749.66 261.46L753.33 265.13L755.59 263.94L757.84 262.71L754.19 259.23L750.51 254.79L748.24 255.79z" fill="#2f6c8e"/>
<path d="M987.42 341.85L991.16 344.12L994.91 346.29L996.88 344.21L998.84 342.11L995.10 339.98L991.36 337.75L989.39 339.79z" fill="#460b5e"/>
<path d="M772.37 269.77L776.01 271.44L779.65 273.13L781.88 271.85L784.10 270.57L780.46 268.86L776.83 267.17L774.60 268.47z" fill="#33628d"/>
<path d="M934.74 319.42L938.45 322.18L942.16 325.03L944.19 322.87L946.21 320.70L942.51 317.87L938.81 315.08L936.78 317.24z" fill="#482979"/>
<path d="M889.40 306.30L893.10 308.04L896.81 309.87L898.89 308.19L900.96 306.25L897.26 304.25L893.56 302.31L891.48 304.43z" fill="#443b84"/>
<path d="M870.42 302.96L874.11 304.37L877.81 305.74L879.91 304.37L882.00 303.14L878.31 301.69L874.62 300.22L872.52 301.53z" fill="#423f85"/>
<path d="M825.06 288.77L828.73 291.28L832.41 293.85L834.57 292.31L836.72 290.67L833.04 288.16L829.38 285.73L827.22 287.29z" fill="#3d4e8a"/>
<path d="M753.33 265.13L756.97 267.29L760.61 269.05L762.86 267.80L765.11 266.52L761.48 264.80L757.84 262.71L755.59 263.94z" fill="#31678e"/>
<path d="M798.69 277.97L802.35 279.99L806.01 282.07L808.21 280.89L810.39 279.60L806.74 277.49L803.08 275.45L800.89 276.74z" fill="#375b8d"/>
<path d="M968.51 336.60L972.24 339.06L975.98 341.45L977.97 339.24L979.96 337.08L976.23 334.59L972.51 332.06L970.51 334.29z" fill="#481668"/>
<path d="M851.42 299.59L855.11 301.34L858.80 302.91L860.92 301.46L863.04 299.94L859.36 298.22L855.68 296.32L853.55 297.98z" fill="#414487"/>
<path d="M942.16 325.03L945.87 327.92L949.59 330.76L951.61 328.53L953.63 326.28L949.92 323.53L946.21 320.70L944.19 322.87z" fill="#482475"/>
<path d="M1013.88 349.53L1017.65 351.17L1021.44 352.76L1023.37 350.77L1025.30 348.83L1021.53 347.17L1017.76 345.46L1015.82 347.47z" fill="#440256"/>
<path d="M915.79 314.15L919.51 316.32L923.22 318.62L925.27 316.45L927.32 314.22L923.61 311.92L919.90 309.78L917.85 312.03z" fill="#46337f"/>
<path d="M994.91 346.29L998.66 348.34L1002.43 350.25L1004.39 348.15L1006.34 346.03L1002.59 344.12L998.84 342.11L996.88 344.21z" fill="#46085c"/>
<path d="M779.65 273.13L783.30 274.85L786.95 276.62L789.17 275.38L791.38 274.14L787.74 272.32L784.10 270.57L781.88 271.85z" fill="#34618d"/>
<path d="M832.41 293.85L836.09 296.34L839.77 298.60L841.92 297.09L844.06 295.46L840.39 293.14L836.72 290.67L834.57 292.31z" fill="#3e4a89"/>
<path d="M896.81 309.87L900.52 311.73L904.23 313.65L906.30 312.05L908.37 310.16L904.66 308.21L900.96 306.25L898.89 308.19z" fill="#453882"/>
<path d="M949.59 330.76L953.31 333.49L957.03 336.16L959.05 333.85L961.06 331.52L957.34 328.91L953.63 326.28L951.61 328.53z" fill="#481d6f"/>
<path d="M975.98 341.45L979.72 343.77L983.46 346.01L985.44 343.93L987.42 341.85L983.69 339.51L979.96 337.08L977.97 339.24z" fill="#471063"/>
<path d="M806.01 282.07L809.68 284.22L813.35 286.45L815.54 285.30L817.72 284.01L814.05 281.77L810.39 279.60L808.21 280.89z" fill="#38588c"/>
<path d="M760.61 269.05L764.25 270.67L767.89 272.34L770.13 271.06L772.37 269.77L768.74 268.11L765.11 266.52L762.86 267.80z" fill="#31668e"/>
<path d="M877.81 305.74L881.52 307.16L885.23 308.66L887.32 307.39L889.40 306.30L885.70 304.66L882.00 303.14L879.91 304.37z" fill="#433e85"/>
<path d="M923.22 318.62L926.94 321.12L930.65 323.76L932.70 321.60L934.74 319.42L931.03 316.74L927.32 314.22L925.27 316.45z" fill="#472e7c"/>
<path d="M858.80 302.91L862.49 304.36L866.19 305.78L868.31 304.40L870.42 302.96L866.72 301.50L863.04 299.94L860.92 301.46z" fill="#424186"/>
<path d="M1021.44 352.76L1025.23 354.27L1029.03 355.65L1030.95 353.76L1032.87 351.90L1029.08 350.42L1025.30 348.83L1023.37 350.77z" fill="#440154"/>
<path d="M1002.43 350.25L1006.20 352.03L1009.98 353.68L1011.93 351.61L1013.88 349.53L1010.11 347.83L1006.34 346.03L1004.39 348.15z" fill="#450559"/>
<path d="M957.03 336.16L960.76 338.75L964.49 341.25L966.50 338.94L968.51 336.60L964.79 334.08L961.06 331.52L959.05 333.85z" fill="#48186a"/>
<path d="M839.77 298.60L843.46 300.65L847.15 302.47L849.29 301.10L851.42 299.59L847.74 297.62L844.06 295.46L841.92 297.09z" fill="#3f4788"/>
<path d="M786.95 276.62L790.61 278.45L794.27 280.34L796.49 279.16L798.69 277.97L795.04 276.02L791.38 274.14L789.17 275.38z" fill="#355f8d"/>
<path d="M904.23 313.65L907.95 315.65L911.67 317.78L913.73 316.12L915.79 314.15L912.08 312.12L908.37 310.16L906.30 312.05z" fill="#453581"/>
<path d="M813.35 286.45L817.03 288.79L820.71 291.24L822.89 290.09L825.06 288.77L821.39 286.35L817.72 284.01L815.54 285.30z" fill="#3a538b"/>
<path d="M983.46 346.01L987.21 348.21L990.97 350.35L992.94 348.33L994.91 346.29L991.16 344.12L987.42 341.85L985.44 343.93z" fill="#460b5e"/>
<path d="M930.65 323.76L934.37 326.50L938.09 329.34L940.13 327.19L942.16 325.03L938.45 322.18L934.74 319.42L932.70 321.60z" fill="#482979"/>
<path d="M741.40 258.47L745.11 263.47L748.79 267.35L751.07 266.26L753.33 265.13L749.66 261.46L745.97 256.74L743.69 257.63z" fill="#2e6f8e"/>
<path d="M767.89 272.34L771.54 274.02L775.19 275.70L777.42 274.42L779.65 273.13L776.01 271.44L772.37 269.77L770.13 271.06z" fill="#32648e"/>
<path d="M885.23 308.66L888.94 310.25L892.65 311.92L894.74 310.80L896.81 309.87L893.10 308.04L889.40 306.30L887.32 307.39z" fill="#433d84"/>
<path d="M964.49 341.25L968.23 343.63L971.98 345.92L973.98 343.69L975.98 341.45L972.24 339.06L968.51 336.60L966.50 338.94z" fill="#481467"/>
<path d="M938.09 329.34L941.81 332.24L945.53 335.11L947.56 332.96L949.59 330.76L945.87 327.92L942.16 325.03L940.13 327.19z" fill="#482374"/>
<path d="M866.19 305.78L869.89 307.18L873.60 308.58L875.71 307.16L877.81 305.74L874.11 304.37L870.42 302.96L868.31 304.40z" fill="#424086"/>
<path d="M820.71 291.24L824.39 293.76L828.08 296.31L830.25 295.19L832.41 293.85L828.73 291.28L825.06 288.77L822.89 290.09z" fill="#3c508b"/>
<path d="M1009.98 353.68L1013.76 355.24L1017.56 356.74L1019.50 354.76L1021.44 352.76L1017.65 351.17L1013.88 349.53L1011.93 351.61z" fill="#440256"/>
<path d="M748.79 267.35L752.45 269.60L756.09 271.41L758.35 270.25L760.61 269.05L756.97 267.29L753.33 265.13L751.07 266.26z" fill="#30698e"/>
<path d="M911.67 317.78L915.39 320.08L919.11 322.52L921.17 320.70L923.22 318.62L919.51 316.32L915.79 314.15L913.73 316.12z" fill="#46327e"/>
<path d="M794.27 280.34L797.94 282.29L801.61 284.30L803.82 283.19L806.01 282.07L802.35 279.99L798.69 277.97L796.49 279.16z" fill="#365c8d"/>
<path d="M847.15 302.47L850.84 304.06L854.54 305.49L856.67 304.27L858.80 302.91L855.11 301.34L851.42 299.59L849.29 301.10z" fill="#404588"/>
<path d="M990.97 350.35L994.73 352.39L998.50 354.31L1000.46 352.30L1002.43 350.25L998.66 348.34L994.91 346.29L992.94 348.33z" fill="#46075a"/>
<path d="M945.53 335.11L949.26 337.87L952.99 340.55L955.01 338.40L957.03 336.16L953.31 333.49L949.59 330.76L947.56 332.96z" fill="#481c6e"/>
<path d="M971.98 345.92L975.73 348.11L979.48 350.23L981.48 348.11L983.46 346.01L979.72 343.77L975.98 341.45L973.98 343.69z" fill="#470e61"/>
<path d="M775.19 275.70L778.84 277.41L782.50 279.15L784.73 277.88L786.95 276.62L783.30 274.85L779.65 273.13L777.42 274.42z" fill="#33628d"/>
<path d="M828.08 296.31L831.77 298.74L835.46 300.88L837.62 299.87L839.77 298.60L836.09 296.34L832.41 293.85L830.25 295.19z" fill="#3e4c8a"/>
<path d="M892.65 311.92L896.37 313.67L900.10 315.53L902.17 314.51L904.23 313.65L900.52 311.73L896.81 309.87L894.74 310.80z" fill="#443a83"/>
<path d="M919.11 322.52L922.83 325.11L926.56 327.81L928.61 325.88L930.65 323.76L926.94 321.12L923.22 318.62L921.17 320.70z" fill="#472e7c"/>
<path d="M801.61 284.30L805.29 286.38L808.97 288.55L811.16 287.51L813.35 286.45L809.68 284.22L806.01 282.07L803.82 283.19z" fill="#375a8c"/>
<path d="M756.09 271.41L759.73 273.07L763.38 274.78L765.64 273.58L767.89 272.34L764.25 270.67L760.61 269.05L758.35 270.25z" fill="#31678e"/>
<path d="M873.60 308.58L877.31 310.00L881.03 311.48L883.13 310.03L885.23 308.66L881.52 307.16L877.81 305.74L875.71 307.16z" fill="#424086"/>
<path d="M952.99 340.55L956.73 343.14L960.47 345.62L962.48 343.48L964.49 341.25L960.76 338.75L957.03 336.16L955.01 338.40z" fill="#481769"/>
<path d="M998.50 354.31L1002.28 356.07L1006.06 357.68L1008.02 355.70L1009.98 353.68L1006.20 352.03L1002.43 350.25L1000.46 352.30z" fill="#450457"/>
<path d="M1017.56 356.74L1021.36 358.17L1025.17 359.44L1027.10 357.54L1029.03 355.65L1025.23 354.27L1021.44 352.76L1019.50 354.76z" fill="#440154"/>
<path d="M854.54 305.49L858.24 306.87L861.94 308.30L864.07 307.09L866.19 305.78L862.49 304.36L858.80 302.91L856.67 304.27z" fill="#414487"/>
<path d="M979.48 350.23L983.24 352.33L987.01 354.40L988.99 352.37L990.97 350.35L987.21 348.21L983.46 346.01L981.48 348.11z" fill="#460b5e"/>
<path d="M926.56 327.81L930.28 330.57L934.01 333.40L936.05 331.46L938.09 329.34L934.37 326.50L930.65 323.76L928.61 325.88z" fill="#482878"/>
<path d="M835.46 300.88L839.15 302.79L842.85 304.46L845.00 303.60L847.15 302.47L843.46 300.65L839.77 298.60L837.62 299.87z" fill="#3f4889"/>
<path d="M782.50 279.15L786.17 280.95L789.84 282.82L792.06 281.56L794.27 280.34L790.61 278.45L786.95 276.62L784.73 277.88z" fill="#34608d"/>
<path d="M900.10 315.53L903.82 317.56L907.55 319.80L909.61 318.74L911.67 317.78L907.95 315.65L904.23 313.65L902.17 314.51z" fill="#453882"/>
<path d="M808.97 288.55L812.65 290.84L816.34 293.25L818.53 292.26L820.71 291.24L817.03 288.79L813.35 286.45L811.16 287.51z" fill="#39558c"/>
<path d="M960.47 345.62L964.21 347.99L967.97 350.24L969.97 348.11L971.98 345.92L968.23 343.63L964.49 341.25L962.48 343.48z" fill="#471365"/>
<path d="M934.01 333.40L937.74 336.27L941.47 339.09L943.50 337.20L945.53 335.11L941.81 332.24L938.09 329.34L936.05 331.46z" fill="#482374"/>
<path d="M763.38 274.78L767.04 276.49L770.70 278.20L772.95 276.96L775.19 275.70L771.54 274.02L767.89 272.34L765.64 273.58z" fill="#32658e"/>
<path d="M736.80 260.02L740.53 265.32L744.23 269.41L746.51 268.39L748.79 267.35L745.11 263.47L741.40 258.47L739.10 259.26z" fill="#2d718e"/>
<path d="M881.03 311.48L884.75 313.01L888.47 314.61L890.57 313.20L892.65 311.92L888.94 310.25L885.23 308.66L883.13 310.03z" fill="#433e85"/>
<path d="M1006.06 357.68L1009.86 359.20L1013.66 360.64L1015.61 358.71L1017.56 356.74L1013.76 355.24L1009.98 353.68L1008.02 355.70z" fill="#440256"/>
<path d="M987.01 354.40L990.78 356.40L994.56 358.28L996.53 356.29L998.50 354.31L994.73 352.39L990.97 350.35L988.99 352.37z" fill="#46075a"/>
<path d="M861.94 308.30L865.65 309.80L869.36 311.32L871.48 309.98L873.60 308.58L869.89 307.18L866.19 305.78L864.07 307.09z" fill="#414287"/>
<path d="M907.55 319.80L911.27 322.26L915.00 324.88L917.06 323.67L919.11 322.52L915.39 320.08L911.67 317.78L909.61 318.74z" fill="#46337f"/>
<path d="M816.34 293.25L820.03 295.71L823.72 298.18L825.90 297.27L828.08 296.31L824.39 293.76L820.71 291.24L818.53 292.26z" fill="#3b528b"/>
<path d="M744.23 269.41L747.89 271.76L751.54 273.64L753.82 272.54L756.09 271.41L752.45 269.60L748.79 267.35L746.51 268.39z" fill="#2f6b8e"/>
<path d="M789.84 282.82L793.51 284.73L797.19 286.71L799.40 285.46L801.61 284.30L797.94 282.29L794.27 280.34L792.06 281.56z" fill="#355e8d"/>
<path d="M941.47 339.09L945.20 341.78L948.94 344.41L950.97 342.60L952.99 340.55L949.26 337.87L945.53 335.11L943.50 337.20z" fill="#481c6e"/>
<path d="M842.85 304.46L846.55 305.90L850.25 307.23L852.40 306.49L854.54 305.49L850.84 304.06L847.15 302.47L845.00 303.60z" fill="#3f4788"/>
<path d="M967.97 350.24L971.72 352.40L975.49 354.46L977.49 352.36L979.48 350.23L975.73 348.11L971.98 345.92L969.97 348.11z" fill="#470e61"/>
<path d="M770.70 278.20L774.36 279.93L778.03 281.70L780.27 280.43L782.50 279.15L778.84 277.41L775.19 275.70L772.95 276.96z" fill="#32648e"/>
<path d="M915.00 324.88L918.73 327.64L922.46 330.45L924.51 329.13L926.56 327.81L922.83 325.11L919.11 322.52L917.06 323.67z" fill="#472e7c"/>
<path d="M888.47 314.61L892.20 316.28L895.93 318.07L898.02 316.71L900.10 315.53L896.37 313.67L892.65 311.92L890.57 313.20z" fill="#433d84"/>
<path d="M823.72 298.18L827.42 300.48L831.12 302.47L833.29 301.70L835.46 300.88L831.77 298.74L828.08 296.31L825.90 297.27z" fill="#3d4e8a"/>
<path d="M948.94 344.41L952.69 346.96L956.43 349.43L958.45 347.64L960.47 345.62L956.73 343.14L952.99 340.55L950.97 342.60z" fill="#481769"/>
<path d="M994.56 358.28L998.34 360.01L1002.14 361.60L1004.10 359.64L1006.06 357.68L1002.28 356.07L998.50 354.31L996.53 356.29z" fill="#450457"/>
<path d="M1013.66 360.64L1017.47 362.02L1021.29 363.23L1023.23 361.33L1025.17 359.44L1021.36 358.17L1017.56 356.74L1015.61 358.71z" fill="#440154"/>
<path d="M797.19 286.71L800.87 288.75L804.56 290.88L806.76 289.66L808.97 288.55L805.29 286.38L801.61 284.30L799.40 285.46z" fill="#365c8d"/>
<path d="M869.36 311.32L873.08 312.90L876.81 314.50L878.92 312.98L881.03 311.48L877.31 310.00L873.60 308.58L871.48 309.98z" fill="#424186"/>
<path d="M751.54 273.64L755.19 275.36L758.85 277.12L761.12 275.96L763.38 274.78L759.73 273.07L756.09 271.41L753.82 272.54z" fill="#30698e"/>
<path d="M975.49 354.46L979.26 356.50L983.03 358.50L985.02 356.45L987.01 354.40L983.24 352.33L979.48 350.23L977.49 352.36z" fill="#460a5d"/>
<path d="M922.46 330.45L926.19 333.25L929.93 336.07L931.97 334.75L934.01 333.40L930.28 330.57L926.56 327.81L924.51 329.13z" fill="#482979"/>
<path d="M850.25 307.23L853.96 308.58L857.67 310.09L859.81 309.32L861.94 308.30L858.24 306.87L854.54 305.49L852.40 306.49z" fill="#404688"/>
<path d="M956.43 349.43L960.19 351.82L963.95 354.11L965.96 352.28L967.97 350.24L964.21 347.99L960.47 345.62L958.45 347.64z" fill="#471365"/>
<path d="M778.03 281.70L781.70 283.52L785.37 285.41L787.61 284.11L789.84 282.82L786.17 280.95L782.50 279.15L780.27 280.43z" fill="#33628d"/>
<path d="M895.93 318.07L899.66 320.07L903.40 322.32L905.48 320.97L907.55 319.80L903.82 317.56L900.10 315.53L898.02 316.71z" fill="#443a83"/>
<path d="M831.12 302.47L834.82 304.22L838.52 305.73L840.69 305.11L842.85 304.46L839.15 302.79L835.46 300.88L833.29 301.70z" fill="#3e4c8a"/>
<path d="M804.56 290.88L808.25 293.14L811.94 295.50L814.14 294.31L816.34 293.25L812.65 290.84L808.97 288.55L806.76 289.66z" fill="#38598c"/>
<path d="M929.93 336.07L933.66 338.91L937.40 341.67L939.44 340.41L941.47 339.09L937.74 336.27L934.01 333.40L931.97 334.75z" fill="#482374"/>
<path d="M1002.14 361.60L1005.94 363.09L1009.75 364.50L1011.71 362.57L1013.66 360.64L1009.86 359.20L1006.06 357.68L1004.10 359.64z" fill="#440256"/>
<path d="M983.03 358.50L986.81 360.44L990.59 362.26L992.58 360.27L994.56 358.28L990.78 356.40L987.01 354.40L985.02 356.45z" fill="#46075a"/>
<path d="M758.85 277.12L762.51 278.89L766.18 280.64L768.44 279.43L770.70 278.20L767.04 276.49L763.38 274.78L761.12 275.96z" fill="#31678e"/>
<path d="M876.81 314.50L880.53 316.15L884.26 317.83L886.37 316.17L888.47 314.61L884.75 313.01L881.03 311.48L878.92 312.98z" fill="#424086"/>
<path d="M732.17 261.48L735.92 267.08L739.63 271.39L741.93 270.41L744.23 269.41L740.53 265.32L736.80 260.02L734.49 260.76z" fill="#2c728e"/>
<path d="M963.95 354.11L967.71 356.29L971.48 358.36L973.48 356.50L975.49 354.46L971.72 352.40L967.97 350.24L965.96 352.28z" fill="#470e61"/>
<path d="M857.67 310.09L861.39 311.75L865.11 313.51L867.24 312.52L869.36 311.32L865.65 309.80L861.94 308.30L859.81 309.32z" fill="#404588"/>
<path d="M937.40 341.67L941.15 344.32L944.90 346.93L946.92 345.70L948.94 344.41L945.20 341.78L941.47 339.09L939.44 340.41z" fill="#481d6f"/>
<path d="M903.40 322.32L907.13 324.82L910.87 327.48L912.94 326.13L915.00 324.88L911.27 322.26L907.55 319.80L905.48 320.97z" fill="#453581"/>
<path d="M785.37 285.41L789.06 287.35L792.74 289.34L794.97 288.00L797.19 286.71L793.51 284.73L789.84 282.82L787.61 284.11z" fill="#34608d"/>
<path d="M811.94 295.50L815.64 297.91L819.34 300.33L821.54 299.18L823.72 298.18L820.03 295.71L816.34 293.25L814.14 294.31z" fill="#3a548c"/>
<path d="M739.63 271.39L743.30 273.85L746.97 275.80L749.26 274.73L751.54 273.64L747.89 271.76L744.23 269.41L741.93 270.41z" fill="#2e6d8e"/>
<path d="M838.52 305.73L842.23 307.06L845.94 308.32L848.10 307.78L850.25 307.23L846.55 305.90L842.85 304.46L840.69 305.11z" fill="#3e4a89"/>
<path d="M990.59 362.26L994.39 363.94L998.19 365.48L1000.17 363.55L1002.14 361.60L998.34 360.01L994.56 358.28L992.58 360.27z" fill="#450457"/>
<path d="M766.18 280.64L769.85 282.41L773.53 284.22L775.78 282.97L778.03 281.70L774.36 279.93L770.70 278.20L768.44 279.43z" fill="#32658e"/>
<path d="M1009.75 364.50L1013.57 365.86L1017.39 367.04L1019.34 365.13L1021.29 363.23L1017.47 362.02L1013.66 360.64L1011.71 362.57z" fill="#440154"/>
<path d="M910.87 327.48L914.60 330.24L918.34 333.01L920.40 331.73L922.46 330.45L918.73 327.64L915.00 324.88L912.94 326.13z" fill="#46307e"/>
<path d="M884.26 317.83L888.00 319.57L891.73 321.42L893.84 319.65L895.93 318.07L892.20 316.28L888.47 314.61L886.37 316.17z" fill="#433e85"/>
<path d="M944.90 346.93L948.65 349.50L952.41 352.04L954.42 350.75L956.43 349.43L952.69 346.96L948.94 344.41L946.92 345.70z" fill="#48186a"/>
<path d="M971.48 358.36L975.26 360.37L979.04 362.33L981.03 360.50L983.03 358.50L979.26 356.50L975.49 354.46L973.48 356.50z" fill="#460a5d"/>
<path d="M819.34 300.33L823.05 302.55L826.75 304.43L828.94 303.35L831.12 302.47L827.42 300.48L823.72 298.18L821.54 299.18z" fill="#3b518b"/>
<path d="M865.11 313.51L868.84 315.35L872.56 317.22L874.69 315.94L876.81 314.50L873.08 312.90L869.36 311.32L867.24 312.52z" fill="#414287"/>
<path d="M792.74 289.34L796.43 291.40L800.13 293.54L802.34 292.18L804.56 290.88L800.87 288.75L797.19 286.71L794.97 288.00z" fill="#365d8d"/>
<path d="M746.97 275.80L750.63 277.58L754.29 279.41L756.58 278.27L758.85 277.12L755.19 275.36L751.54 273.64L749.26 274.73z" fill="#2f6b8e"/>
<path d="M918.34 333.01L922.09 335.75L925.83 338.51L927.88 337.32L929.93 336.07L926.19 333.25L922.46 330.45L920.40 331.73z" fill="#472c7a"/>
<path d="M952.41 352.04L956.17 354.52L959.93 356.92L961.94 355.52L963.95 354.11L960.19 351.82L956.43 349.43L954.42 350.75z" fill="#471365"/>
<path d="M845.94 308.32L849.66 309.70L853.38 311.32L855.53 310.71L857.67 310.09L853.96 308.58L850.25 307.23L848.10 307.78z" fill="#3e4989"/>
<path d="M773.53 284.22L777.21 286.09L780.89 288.04L783.14 286.72L785.37 285.41L781.70 283.52L778.03 281.70L775.78 282.97z" fill="#33638d"/>
<path d="M891.73 321.42L895.47 323.47L899.22 325.75L901.31 323.90L903.40 322.32L899.66 320.07L895.93 318.07L893.84 319.65z" fill="#443b84"/>
<path d="M998.19 365.48L1002.00 366.93L1005.82 368.32L1007.79 366.43L1009.75 364.50L1005.94 363.09L1002.14 361.60L1000.17 363.55z" fill="#440256"/>
<path d="M979.04 362.33L982.83 364.19L986.62 365.94L988.61 364.18L990.59 362.26L986.81 360.44L983.03 358.50L981.03 360.50z" fill="#46075a"/>
<path d="M800.13 293.54L803.82 295.80L807.53 298.17L809.74 296.79L811.94 295.50L808.25 293.14L804.56 290.88L802.34 292.18z" fill="#375a8c"/>
<path d="M925.83 338.51L929.58 341.28L933.33 344.03L935.37 342.86L937.40 341.67L933.66 338.91L929.93 336.07L927.88 337.32z" fill="#482576"/>
<path d="M826.75 304.43L830.46 306.08L834.17 307.52L836.35 306.50L838.52 305.73L834.82 304.22L831.12 302.47L828.94 303.35z" fill="#3c4f8a"/>
<path d="M872.56 317.22L876.30 319.12L880.03 321.05L882.15 319.49L884.26 317.83L880.53 316.15L876.81 314.50L874.69 315.94z" fill="#424186"/>
<path d="M754.29 279.41L757.97 281.23L761.64 283.03L763.91 281.84L766.18 280.64L762.51 278.89L758.85 277.12L756.58 278.27z" fill="#30698e"/>
<path d="M959.93 356.92L963.70 359.19L967.48 361.31L969.48 359.85L971.48 358.36L967.71 356.29L963.95 354.11L961.94 355.52z" fill="#470e61"/>
<path d="M899.22 325.75L902.96 328.23L906.70 330.80L908.79 329.01L910.87 327.48L907.13 324.82L903.40 322.32L901.31 323.90z" fill="#453781"/>
<path d="M727.51 262.76L731.28 268.67L735.01 273.20L737.32 272.32L739.63 271.39L735.92 267.08L732.17 261.48L729.84 262.15z" fill="#2b758e"/>
<path d="M933.33 344.03L937.08 346.71L940.84 349.39L942.87 348.15L944.90 346.93L941.15 344.32L937.40 341.67L935.37 342.86z" fill="#482071"/>
<path d="M780.89 288.04L784.58 290.03L788.27 292.08L790.51 290.70L792.74 289.34L789.06 287.35L785.37 285.41L783.14 286.72z" fill="#34618d"/>
<path d="M853.38 311.32L857.10 313.19L860.83 315.22L862.97 314.36L865.11 313.51L861.39 311.75L857.67 310.09L855.53 310.71z" fill="#3f4889"/>
<path d="M807.53 298.17L811.23 300.59L814.94 303.03L817.15 301.62L819.34 300.33L815.64 297.91L811.94 295.50L809.74 296.79z" fill="#39568c"/>
<path d="M735.01 273.20L738.69 275.77L742.36 277.80L744.67 276.82L746.97 275.80L743.30 273.85L739.63 271.39L737.32 272.32z" fill="#2e6f8e"/>
<path d="M986.62 365.94L990.43 367.56L994.24 369.05L996.22 367.34L998.19 365.48L994.39 363.94L990.59 362.26L988.61 364.18z" fill="#450457"/>
<path d="M1005.82 368.32L1009.65 369.65L1013.48 370.84L1015.44 368.95L1017.39 367.04L1013.57 365.86L1009.75 364.50L1007.79 366.43z" fill="#440256"/>
<path d="M880.03 321.05L883.77 323.04L887.52 325.14L889.63 323.28L891.73 321.42L888.00 319.57L884.26 317.83L882.15 319.49z" fill="#423f85"/>
<path d="M834.17 307.52L837.88 308.79L841.60 310.04L843.77 309.04L845.94 308.32L842.23 307.06L838.52 305.73L836.35 306.50z" fill="#3d4e8a"/>
<path d="M761.64 283.03L765.32 284.86L769.00 286.72L771.27 285.48L773.53 284.22L769.85 282.41L766.18 280.64L763.91 281.84z" fill="#31678e"/>
<path d="M906.70 330.80L910.45 333.41L914.20 336.00L916.28 334.40L918.34 333.01L914.60 330.24L910.87 327.48L908.79 329.01z" fill="#46327e"/>
<path d="M967.48 361.31L971.26 363.33L975.05 365.26L977.05 363.81L979.04 362.33L975.26 360.37L971.48 358.36L969.48 359.85z" fill="#460b5e"/>
<path d="M940.84 349.39L944.59 352.08L948.36 354.76L950.39 353.36L952.41 352.04L948.65 349.50L944.90 346.93L942.87 348.15z" fill="#481b6d"/>
<path d="M814.94 303.03L818.66 305.29L822.37 307.20L824.56 305.72L826.75 304.43L823.05 302.55L819.34 300.33L817.15 301.62z" fill="#3a538b"/>
<path d="M788.27 292.08L791.97 294.19L795.67 296.37L797.90 294.94L800.13 293.54L796.43 291.40L792.74 289.34L790.51 290.70z" fill="#355f8d"/>
<path d="M860.83 315.22L864.57 317.36L868.30 319.55L870.44 318.39L872.56 317.22L868.84 315.35L865.11 313.51L862.97 314.36z" fill="#404588"/>
<path d="M742.36 277.80L746.03 279.64L749.71 281.54L752.01 280.50L754.29 279.41L750.63 277.58L746.97 275.80L744.67 276.82z" fill="#2e6d8e"/>
<path d="M914.20 336.00L917.95 338.56L921.71 341.19L923.77 339.76L925.83 338.51L922.09 335.75L918.34 333.01L916.28 334.40z" fill="#472d7b"/>
<path d="M887.52 325.14L891.26 327.41L895.01 329.85L897.11 327.76L899.22 325.75L895.47 323.47L891.73 321.42L889.63 323.28z" fill="#443b84"/>
<path d="M948.36 354.76L952.12 357.39L955.89 359.91L957.92 358.36L959.93 356.92L956.17 354.52L952.41 352.04L950.39 353.36z" fill="#481668"/>
<path d="M994.24 369.05L998.06 370.46L1001.88 371.84L1003.85 370.15L1005.82 368.32L1002.00 366.93L998.19 365.48L996.22 367.34z" fill="#440256"/>
<path d="M769.00 286.72L772.69 288.65L776.38 290.66L778.64 289.35L780.89 288.04L777.21 286.09L773.53 284.22L771.27 285.48z" fill="#32658e"/>
<path d="M975.05 365.26L978.85 367.09L982.66 368.80L984.64 367.40L986.62 365.94L982.83 364.19L979.04 362.33L977.05 363.81z" fill="#46085c"/>
<path d="M841.60 310.04L845.33 311.47L849.06 313.21L851.22 312.13L853.38 311.32L849.66 309.70L845.94 308.32L843.77 309.04z" fill="#3d4d8a"/>
<path d="M795.67 296.37L799.38 298.67L803.09 301.09L805.31 299.61L807.53 298.17L803.82 295.80L800.13 293.54L797.90 294.94z" fill="#365c8d"/>
<path d="M921.71 341.19L925.46 343.92L929.22 346.71L931.28 345.28L933.33 344.03L929.58 341.28L925.83 338.51L923.77 339.76z" fill="#482878"/>
<path d="M822.37 307.20L826.08 308.86L829.80 310.31L831.99 308.79L834.17 307.52L830.46 306.08L826.75 304.43L824.56 305.72z" fill="#3b518b"/>
<path d="M868.30 319.55L872.04 321.77L875.78 324.03L877.91 322.54L880.03 321.05L876.30 319.12L872.56 317.22L870.44 318.39z" fill="#414287"/>
<path d="M749.71 281.54L753.39 283.42L757.07 285.28L759.36 284.18L761.64 283.03L757.97 281.23L754.29 279.41L752.01 280.50z" fill="#2f6b8e"/>
<path d="M895.01 329.85L898.76 332.42L902.51 334.95L904.61 332.81L906.70 330.80L902.96 328.23L899.22 325.75L897.11 327.76z" fill="#453882"/>
<path d="M955.89 359.91L959.67 362.26L963.45 364.42L965.47 362.81L967.48 361.31L963.70 359.19L959.93 356.92L957.92 358.36z" fill="#471164"/>
<path d="M776.38 290.66L780.08 292.72L783.78 294.84L786.03 293.46L788.27 292.08L784.58 290.03L780.89 288.04L778.64 289.35z" fill="#33638d"/>
<path d="M803.09 301.09L806.81 303.59L810.53 306.15L812.74 304.56L814.94 303.03L811.23 300.59L807.53 298.17L805.31 299.61z" fill="#38588c"/>
<path d="M929.22 346.71L932.98 349.51L936.74 352.37L938.79 350.77L940.84 349.39L937.08 346.71L933.33 344.03L931.28 345.28z" fill="#482374"/>
<path d="M722.82 263.98L726.61 270.20L730.35 274.96L732.68 274.07L735.01 273.20L731.28 268.67L727.51 262.76L725.16 263.36z" fill="#2a788e"/>
<path d="M1001.88 371.84L1005.71 373.18L1009.55 374.42L1011.52 372.68L1013.48 370.84L1009.65 369.65L1005.82 368.32L1003.85 370.15z" fill="#440256"/>
<path d="M982.66 368.80L986.47 370.39L990.29 371.88L992.27 370.49L994.24 369.05L990.43 367.56L986.62 365.94L984.64 367.40z" fill="#450559"/>
<path d="M849.06 313.21L852.79 315.26L856.53 317.52L858.68 316.24L860.83 315.22L857.10 313.19L853.38 311.32L851.22 312.13z" fill="#3e4a89"/>
<path d="M730.35 274.96L734.05 277.64L737.73 279.74L740.05 278.76L742.36 277.80L738.69 275.77L735.01 273.20L732.68 274.07z" fill="#2c718e"/>
<path d="M875.78 324.03L879.53 326.34L883.28 328.75L885.40 326.95L887.52 325.14L883.77 323.04L880.03 321.05L877.91 322.54z" fill="#423f85"/>
<path d="M902.51 334.95L906.26 337.41L910.02 339.79L912.12 337.81L914.20 336.00L910.45 333.41L906.70 330.80L904.61 332.81z" fill="#46337f"/>
<path d="M757.07 285.28L760.76 287.16L764.45 289.09L766.73 287.93L769.00 286.72L765.32 284.86L761.64 283.03L759.36 284.18z" fill="#30698e"/>
<path d="M963.45 364.42L967.25 366.42L971.05 368.31L973.05 366.73L975.05 365.26L971.26 363.33L967.48 361.31L965.47 362.81z" fill="#470d60"/>
<path d="M829.80 310.31L833.52 311.60L837.25 312.88L839.43 311.32L841.60 310.04L837.88 308.79L834.17 307.52L831.99 308.79z" fill="#3c508b"/>
<path d="M936.74 352.37L940.51 355.24L944.27 358.10L946.32 356.33L948.36 354.76L944.59 352.08L940.84 349.39L938.79 350.77z" fill="#481c6e"/>
<path d="M810.53 306.15L814.25 308.55L817.97 310.62L820.17 308.84L822.37 307.20L818.66 305.29L814.94 303.03L812.74 304.56z" fill="#3a548c"/>
<path d="M783.78 294.84L787.49 297.01L791.20 299.25L793.44 297.81L795.67 296.37L791.97 294.19L788.27 292.08L786.03 293.46z" fill="#34608d"/>
<path d="M856.53 317.52L860.27 319.91L864.01 322.35L866.16 320.85L868.30 319.55L864.57 317.36L860.83 315.22L858.68 316.24z" fill="#3f4889"/>
<path d="M910.02 339.79L913.79 342.13L917.55 344.61L919.63 342.82L921.71 341.19L917.95 338.56L914.20 336.00L912.12 337.81z" fill="#472e7c"/>
<path d="M883.28 328.75L887.03 331.32L890.78 334.00L892.90 331.95L895.01 329.85L891.26 327.41L887.52 325.14L885.40 326.95z" fill="#443b84"/>
<path d="M737.73 279.74L741.41 281.65L745.10 283.61L747.41 282.56L749.71 281.54L746.03 279.64L742.36 277.80L740.05 278.76z" fill="#2e6f8e"/>
<path d="M944.27 358.10L948.04 360.87L951.82 363.49L953.86 361.61L955.89 359.91L952.12 357.39L948.36 354.76L946.32 356.33z" fill="#481769"/>
<path d="M990.29 371.88L994.11 373.33L997.95 374.76L999.92 373.33L1001.88 371.84L998.06 370.46L994.24 369.05L992.27 370.49z" fill="#450457"/>
<path d="M764.45 289.09L768.15 291.08L771.85 293.15L774.12 291.93L776.38 290.66L772.69 288.65L769.00 286.72L766.73 287.93z" fill="#31678e"/>
<path d="M971.05 368.31L974.85 370.08L978.67 371.74L980.67 370.21L982.66 368.80L978.85 367.09L975.05 365.26L973.05 366.73z" fill="#460a5d"/>
<path d="M791.20 299.25L794.92 301.61L798.64 304.11L800.87 302.59L803.09 301.09L799.38 298.67L795.67 296.37L793.44 297.81z" fill="#365d8d"/>
<path d="M837.25 312.88L840.98 314.37L844.72 316.21L846.89 314.58L849.06 313.21L845.33 311.47L841.60 310.04L839.43 311.32z" fill="#3c4f8a"/>
<path d="M817.97 310.62L821.69 312.42L825.41 313.98L827.61 312.05L829.80 310.31L826.08 308.86L822.37 307.20L820.17 308.84z" fill="#3b528b"/>
<path d="M917.55 344.61L921.32 347.27L925.08 350.08L927.16 348.33L929.22 346.71L925.46 343.92L921.71 341.19L919.63 342.82z" fill="#482979"/>
<path d="M890.78 334.00L894.54 336.73L898.29 339.31L900.40 337.15L902.51 334.95L898.76 332.42L895.01 329.85L892.90 331.95z" fill="#453781"/>
<path d="M864.01 322.35L867.76 324.81L871.51 327.29L873.65 325.60L875.78 324.03L872.04 321.77L868.30 319.55L866.16 320.85z" fill="#414487"/>
<path d="M951.82 363.49L955.60 365.91L959.40 368.10L961.43 366.17L963.45 364.42L959.67 362.26L955.89 359.91L953.86 361.61z" fill="#471164"/>
<path d="M745.10 283.61L748.78 285.55L752.48 287.48L754.78 286.37L757.07 285.28L753.39 283.42L749.71 281.54L747.41 282.56z" fill="#2e6d8e"/>
<path d="M798.64 304.11L802.36 306.73L806.09 309.46L808.31 307.80L810.53 306.15L806.81 303.59L803.09 301.09L800.87 302.59z" fill="#38598c"/>
<path d="M925.08 350.08L928.85 352.97L932.62 355.94L934.68 354.12L936.74 352.37L932.98 349.51L929.22 346.71L927.16 348.33z" fill="#482475"/>
<path d="M771.85 293.15L775.56 295.29L779.27 297.48L781.53 296.18L783.78 294.84L780.08 292.72L776.38 290.66L774.12 291.93z" fill="#32648e"/>
<path d="M898.29 339.31L902.06 341.73L905.83 343.97L907.93 341.88L910.02 339.79L906.26 337.41L902.51 334.95L900.40 337.15z" fill="#46327e"/>
<path d="M997.95 374.76L1001.78 376.17L1005.62 377.59L1007.59 376.04L1009.55 374.42L1005.71 373.18L1001.88 371.84L999.92 373.33z" fill="#450457"/>
<path d="M871.51 327.29L875.26 329.80L879.02 332.38L881.15 330.57L883.28 328.75L879.53 326.34L875.78 324.03L873.65 325.60z" fill="#424086"/>
<path d="M978.67 371.74L982.49 373.31L986.31 374.80L988.31 373.28L990.29 371.88L986.47 370.39L982.66 368.80L980.67 370.21z" fill="#46085c"/>
<path d="M844.72 316.21L848.46 318.39L852.20 320.79L854.37 319.05L856.53 317.52L852.79 315.26L849.06 313.21L846.89 314.58z" fill="#3d4d8a"/>
<path d="M718.11 265.47L721.92 271.99L725.68 276.98L728.02 275.92L730.35 274.96L726.61 270.20L722.82 263.98L720.46 264.67z" fill="#297b8e"/>
<path d="M725.68 276.98L729.39 279.76L733.08 281.94L735.41 280.79L737.73 279.74L734.05 277.64L730.35 274.96L728.02 275.92z" fill="#2c738e"/>
<path d="M825.41 313.98L829.14 315.34L832.88 316.66L835.06 314.67L837.25 312.88L833.52 311.60L829.80 310.31L827.61 312.05z" fill="#3b518b"/>
<path d="M959.40 368.10L963.20 370.10L967.00 371.98L969.03 370.05L971.05 368.31L967.25 366.42L963.45 364.42L961.43 366.17z" fill="#470e61"/>
<path d="M932.62 355.94L936.39 358.92L940.16 361.86L942.22 359.98L944.27 358.10L940.51 355.24L936.74 352.37L934.68 354.12z" fill="#481d6f"/>
<path d="M752.48 287.48L756.17 289.41L759.87 291.39L762.16 290.23L764.45 289.09L760.76 287.16L757.07 285.28L754.78 286.37z" fill="#2f6b8e"/>
<path d="M806.09 309.46L809.82 312.07L813.55 314.37L815.76 312.48L817.97 310.62L814.25 308.55L810.53 306.15L808.31 307.80z" fill="#3a548c"/>
<path d="M779.27 297.48L782.98 299.73L786.70 302.05L788.95 300.67L791.20 299.25L787.49 297.01L783.78 294.84L781.53 296.18z" fill="#34618d"/>
<path d="M879.02 332.38L882.78 335.07L886.54 337.83L888.66 335.98L890.78 334.00L887.03 331.32L883.28 328.75L881.15 330.57z" fill="#443b84"/>
<path d="M905.83 343.97L909.60 346.15L913.37 348.45L915.47 346.51L917.55 344.61L913.79 342.13L910.02 339.79L907.93 341.88z" fill="#472e7c"/>
<path d="M852.20 320.79L855.95 323.32L859.70 325.87L861.86 324.03L864.01 322.35L860.27 319.91L856.53 317.52L854.37 319.05z" fill="#3e4989"/>
<path d="M940.16 361.86L943.94 364.69L947.72 367.34L949.77 365.44L951.82 363.49L948.04 360.87L944.27 358.10L942.22 359.98z" fill="#481769"/>
<path d="M733.08 281.94L736.77 283.91L740.46 285.93L742.78 284.72L745.10 283.61L741.41 281.65L737.73 279.74L735.41 280.79z" fill="#2d718e"/>
<path d="M986.31 374.80L990.15 376.29L993.98 377.77L995.97 376.21L997.95 374.76L994.11 373.33L990.29 371.88L988.31 373.28z" fill="#46075a"/>
<path d="M967.00 371.98L970.82 373.73L974.64 375.38L976.66 373.45L978.67 371.74L974.85 370.08L971.05 368.31L969.03 370.05z" fill="#460b5e"/>
<path d="M886.54 337.83L890.30 340.61L894.06 343.21L896.18 341.36L898.29 339.31L894.54 336.73L890.78 334.00L888.66 335.98z" fill="#453781"/>
<path d="M813.55 314.37L817.28 316.41L821.01 318.16L823.22 316.04L825.41 313.98L821.69 312.42L817.97 310.62L815.76 312.48z" fill="#3b528b"/>
<path d="M759.87 291.39L763.58 293.45L767.29 295.59L769.57 294.36L771.85 293.15L768.15 291.08L764.45 289.09L762.16 290.23z" fill="#30698e"/>
<path d="M786.70 302.05L790.42 304.47L794.15 307.05L796.40 305.60L798.64 304.11L794.92 301.61L791.20 299.25L788.95 300.67z" fill="#355e8d"/>
<path d="M832.88 316.66L836.61 318.18L840.36 320.06L842.54 318.06L844.72 316.21L840.98 314.37L837.25 312.88L835.06 314.67z" fill="#3c508b"/>
<path d="M913.37 348.45L917.15 350.99L920.92 353.72L923.00 351.90L925.08 350.08L921.32 347.27L917.55 344.61L915.47 346.51z" fill="#472a7a"/>
<path d="M859.70 325.87L863.46 328.41L867.22 330.93L869.37 329.08L871.51 327.29L867.76 324.81L864.01 322.35L861.86 324.03z" fill="#404588"/>
<path d="M947.72 367.34L951.51 369.78L955.31 371.98L957.36 370.07L959.40 368.10L955.60 365.91L951.82 363.49L949.77 365.44z" fill="#471365"/>
<path d="M740.46 285.93L744.16 287.93L747.86 289.90L750.17 288.64L752.48 287.48L748.78 285.55L745.10 283.61L742.78 284.72z" fill="#2e6f8e"/>
<path d="M920.92 353.72L924.70 356.57L928.47 359.51L930.55 357.76L932.62 355.94L928.85 352.97L925.08 350.08L923.00 351.90z" fill="#482475"/>
<path d="M894.06 343.21L897.83 345.61L901.61 347.81L903.72 345.98L905.83 343.97L902.06 341.73L898.29 339.31L896.18 341.36z" fill="#46327e"/>
<path d="M794.15 307.05L797.89 309.76L801.63 312.64L803.86 311.08L806.09 309.46L802.36 306.73L798.64 304.11L796.40 305.60z" fill="#375a8c"/>
<path d="M767.29 295.59L771.00 297.80L774.72 300.07L777.00 298.77L779.27 297.48L775.56 295.29L771.85 293.15L769.57 294.36z" fill="#31668e"/>
<path d="M867.22 330.93L870.98 333.42L874.74 335.91L876.88 334.17L879.02 332.38L875.26 329.80L871.51 327.29L869.37 329.08z" fill="#424086"/>
<path d="M993.98 377.77L997.83 379.25L1001.67 380.80L1003.65 379.15L1005.62 377.59L1001.78 376.17L997.95 374.76L995.97 376.21z" fill="#450559"/>
<path d="M840.36 320.06L844.11 322.28L847.86 324.72L850.03 322.70L852.20 320.79L848.46 318.39L844.72 316.21L842.54 318.06z" fill="#3d4d8a"/>
<path d="M974.64 375.38L978.47 376.94L982.30 378.44L984.31 376.51L986.31 374.80L982.49 373.31L978.67 371.74L976.66 373.45z" fill="#460a5d"/>
<path d="M821.01 318.16L824.75 319.64L828.48 321.01L830.68 318.80L832.88 316.66L829.14 315.34L825.41 313.98L823.22 316.04z" fill="#3b518b"/>
<path d="M955.31 371.98L959.12 374.02L962.93 375.94L964.97 373.98L967.00 371.98L963.20 370.10L959.40 368.10L957.36 370.07z" fill="#470e61"/>
<path d="M928.47 359.51L932.25 362.47L936.03 365.39L938.10 363.68L940.16 361.86L936.39 358.92L932.62 355.94L930.55 357.76z" fill="#481d6f"/>
<path d="M713.38 267.29L717.21 274.12L720.99 279.33L723.34 278.14L725.68 276.98L721.92 271.99L718.11 265.47L715.75 266.36z" fill="#287d8e"/>
<path d="M720.99 279.33L724.71 282.21L728.41 284.46L730.75 283.18L733.08 281.94L729.39 279.76L725.68 276.98L723.34 278.14z" fill="#2b758e"/>
<path d="M801.63 312.64L805.37 315.45L809.10 317.98L811.33 316.22L813.55 314.37L809.82 312.07L806.09 309.46L803.86 311.08z" fill="#39558c"/>
<path d="M901.61 347.81L905.39 349.90L909.17 352.10L911.27 350.34L913.37 348.45L909.60 346.15L905.83 343.97L903.72 345.98z" fill="#472e7c"/>
<path d="M747.86 289.90L751.57 291.89L755.27 293.92L757.58 292.61L759.87 291.39L756.17 289.41L752.48 287.48L750.17 288.64z" fill="#2e6d8e"/>
<path d="M874.74 335.91L878.51 338.46L882.27 341.06L884.41 339.52L886.54 337.83L882.78 335.07L879.02 332.38L876.88 334.17z" fill="#443b84"/>
<path d="M774.72 300.07L778.45 302.40L782.18 304.79L784.44 303.41L786.70 302.05L782.98 299.73L779.27 297.48L777.00 298.77z" fill="#33638d"/>
<path d="M847.86 324.72L851.61 327.27L855.37 329.82L857.54 327.82L859.70 325.87L855.95 323.32L852.20 320.79L850.03 322.70z" fill="#3e4989"/>
<path d="M936.03 365.39L939.82 368.20L943.61 370.84L945.67 369.14L947.72 367.34L943.94 364.69L940.16 361.86L938.10 363.68z" fill="#48186a"/>
<path d="M982.30 378.44L986.14 379.95L989.98 381.46L991.99 379.51L993.98 377.77L990.15 376.29L986.31 374.80L984.31 376.51z" fill="#46085c"/>
<path d="M962.93 375.94L966.75 377.74L970.58 379.43L972.61 377.41L974.64 375.38L970.82 373.73L967.00 371.98L964.97 373.98z" fill="#460b5e"/>
<path d="M809.10 317.98L812.84 320.28L816.59 322.25L818.80 320.26L821.01 318.16L817.28 316.41L813.55 314.37L811.33 316.22z" fill="#3b528b"/>
<path d="M728.41 284.46L732.11 286.48L735.81 288.56L738.14 287.23L740.46 285.93L736.77 283.91L733.08 281.94L730.75 283.18z" fill="#2c728e"/>
<path d="M828.48 321.01L832.23 322.50L835.98 324.31L838.17 322.16L840.36 320.06L836.61 318.18L832.88 316.66L830.68 318.80z" fill="#3c508b"/>
<path d="M882.27 341.06L886.04 343.71L889.82 346.26L891.94 344.83L894.06 343.21L890.30 340.61L886.54 337.83L884.41 339.52z" fill="#453781"/>
<path d="M909.17 352.10L912.96 354.51L916.74 357.11L918.83 355.47L920.92 353.72L917.15 350.99L913.37 348.45L911.27 350.34z" fill="#472a7a"/>
<path d="M855.37 329.82L859.13 332.32L862.90 334.75L865.06 332.83L867.22 330.93L863.46 328.41L859.70 325.87L857.54 327.82z" fill="#404588"/>
<path d="M782.18 304.79L785.91 307.29L789.65 309.93L791.90 308.48L794.15 307.05L790.42 304.47L786.70 302.05L784.44 303.41z" fill="#355f8d"/>
<path d="M755.27 293.92L758.99 296.03L762.71 298.23L765.00 296.87L767.29 295.59L763.58 293.45L759.87 291.39L757.58 292.61z" fill="#306a8e"/>
<path d="M943.61 370.84L947.41 373.29L951.22 375.51L953.27 373.80L955.31 371.98L951.51 369.78L947.72 367.34L945.67 369.14z" fill="#471365"/>
<path d="M916.74 357.11L920.53 359.85L924.31 362.70L926.40 361.16L928.47 359.51L924.70 356.57L920.92 353.72L918.83 355.47z" fill="#482576"/>
<path d="M889.82 346.26L893.60 348.67L897.38 350.92L899.50 349.44L901.61 347.81L897.83 345.61L894.06 343.21L891.94 344.83z" fill="#46337f"/>
<path d="M789.65 309.93L793.39 312.72L797.14 315.68L799.38 314.16L801.63 312.64L797.89 309.76L794.15 307.05L791.90 308.48z" fill="#375b8d"/>
<path d="M735.81 288.56L739.52 290.61L743.23 292.63L745.55 291.25L747.86 289.90L744.16 287.93L740.46 285.93L738.14 287.23z" fill="#2d718e"/>
<path d="M835.98 324.31L839.73 326.45L843.49 328.82L845.68 326.77L847.86 324.72L844.11 322.28L840.36 320.06L838.17 322.16z" fill="#3d4d8a"/>
<path d="M862.90 334.75L866.67 337.08L870.44 339.34L872.59 337.63L874.74 335.91L870.98 333.42L867.22 330.93L865.06 332.83z" fill="#424186"/>
<path d="M816.59 322.25L820.33 323.88L824.07 325.29L826.28 323.19L828.48 321.01L824.75 319.64L821.01 318.16L818.80 320.26z" fill="#3c508b"/>
<path d="M970.58 379.43L974.41 381.04L978.25 382.56L980.28 380.50L982.30 378.44L978.47 376.94L974.64 375.38L972.61 377.41z" fill="#460a5d"/>
<path d="M989.98 381.46L993.83 382.97L997.68 384.53L999.68 382.57L1001.67 380.80L997.83 379.25L993.98 377.77L991.99 379.51z" fill="#46075a"/>
<path d="M762.71 298.23L766.43 300.50L770.16 302.84L772.45 301.41L774.72 300.07L771.00 297.80L767.29 295.59L765.00 296.87z" fill="#31678e"/>
<path d="M951.22 375.51L955.03 377.60L958.85 379.60L960.89 377.81L962.93 375.94L959.12 374.02L955.31 371.98L953.27 373.80z" fill="#470e61"/>
<path d="M924.31 362.70L928.10 365.61L931.89 368.53L933.97 366.99L936.03 365.39L932.25 362.47L928.47 359.51L926.40 361.16z" fill="#481f70"/>
<path d="M797.14 315.68L800.89 318.61L804.64 321.31L806.87 319.67L809.10 317.98L805.37 315.45L801.63 312.64L799.38 314.16z" fill="#39568c"/>
<path d="M708.62 268.95L712.48 276.08L716.28 281.51L718.64 280.47L720.99 279.33L717.21 274.12L713.38 267.29L711.01 268.18z" fill="#277f8e"/>
<path d="M716.28 281.51L720.00 284.49L723.71 286.81L726.07 285.69L728.41 284.46L724.71 282.21L720.99 279.33L718.64 280.47z" fill="#2a778e"/>
<path d="M897.38 350.92L901.17 353.06L904.96 355.27L907.07 353.72L909.17 352.10L905.39 349.90L901.61 347.81L899.50 349.44z" fill="#472f7d"/>
<path d="M843.49 328.82L847.26 331.29L851.02 333.78L853.20 331.82L855.37 329.82L851.61 327.27L847.86 324.72L845.68 326.77z" fill="#3e4989"/>
<path d="M870.44 339.34L874.21 341.61L877.99 343.95L880.14 342.51L882.27 341.06L878.51 338.46L874.74 335.91L872.59 337.63z" fill="#433d84"/>
<path d="M743.23 292.63L746.94 294.66L750.66 296.73L752.97 295.32L755.27 293.92L751.57 291.89L747.86 289.90L745.55 291.25z" fill="#2e6e8e"/>
<path d="M770.16 302.84L773.89 305.24L777.63 307.70L779.91 306.20L782.18 304.79L778.45 302.40L774.72 300.07L772.45 301.41z" fill="#32648e"/>
<path d="M931.89 368.53L935.69 371.37L939.49 374.06L941.55 372.46L943.61 370.84L939.82 368.20L936.03 365.39L933.97 366.99z" fill="#481a6c"/>
<path d="M824.07 325.29L827.82 326.73L831.58 328.43L833.78 326.41L835.98 324.31L832.23 322.50L828.48 321.01L826.28 323.19z" fill="#3c4f8a"/>
<path d="M978.25 382.56L982.10 384.10L985.95 385.62L987.97 383.54L989.98 381.46L986.14 379.95L982.30 378.44L980.28 380.50z" fill="#46085c"/>
<path d="M958.85 379.60L962.67 381.50L966.51 383.30L968.54 381.40L970.58 379.43L966.75 377.74L962.93 375.94L960.89 377.81z" fill="#460b5e"/>
<path d="M804.64 321.31L808.39 323.78L812.13 325.94L814.36 324.14L816.59 322.25L812.84 320.28L809.10 317.98L806.87 319.67z" fill="#3b528b"/>
<path d="M851.02 333.78L854.79 336.21L858.56 338.54L860.73 336.66L862.90 334.75L859.13 332.32L855.37 329.82L853.20 331.82z" fill="#404588"/>
<path d="M723.71 286.81L727.42 288.89L731.13 291.02L733.48 289.85L735.81 288.56L732.11 286.48L728.41 284.46L726.07 285.69z" fill="#2b748e"/>
<path d="M904.96 355.27L908.75 357.64L912.55 360.17L914.65 358.66L916.74 357.11L912.96 354.51L909.17 352.10L907.07 353.72z" fill="#472c7a"/>
<path d="M877.99 343.95L881.77 346.42L885.56 348.92L887.69 347.59L889.82 346.26L886.04 343.71L882.27 341.06L880.14 342.51z" fill="#443983"/>
<path d="M777.63 307.70L781.37 310.29L785.12 313.01L787.39 311.42L789.65 309.93L785.91 307.29L782.18 304.79L779.91 306.20z" fill="#34618d"/>
<path d="M939.49 374.06L943.29 376.56L947.11 378.86L949.16 377.18L951.22 375.51L947.41 373.29L943.61 370.84L941.55 372.46z" fill="#481467"/>
<path d="M750.66 296.73L754.38 298.89L758.11 301.14L760.41 299.68L762.71 298.23L758.99 296.03L755.27 293.92L752.97 295.32z" fill="#2f6c8e"/>
<path d="M831.58 328.43L835.34 330.43L839.10 332.66L841.30 330.78L843.49 328.82L839.73 326.45L835.98 324.31L833.78 326.41z" fill="#3d4d8a"/>
<path d="M912.55 360.17L916.34 362.84L920.14 365.66L922.23 364.18L924.31 362.70L920.53 359.85L916.74 357.11L914.65 358.66z" fill="#482677"/>
<path d="M812.13 325.94L815.88 327.70L819.64 329.18L821.86 327.28L824.07 325.29L820.33 323.88L816.59 322.25L814.36 324.14z" fill="#3c508b"/>
<path d="M885.56 348.92L889.34 351.41L893.13 353.81L895.26 352.35L897.38 350.92L893.60 348.67L889.82 346.26L887.69 347.59z" fill="#463480"/>
<path d="M858.56 338.54L862.34 340.74L866.12 342.82L868.28 341.06L870.44 339.34L866.67 337.08L862.90 334.75L860.73 336.66z" fill="#424186"/>
<path d="M966.51 383.30L970.34 384.99L974.19 386.59L976.22 384.60L978.25 382.56L974.41 381.04L970.58 379.43L968.54 381.40z" fill="#460a5d"/>
<path d="M785.12 313.01L788.87 315.88L792.63 318.91L794.89 317.25L797.14 315.68L793.39 312.72L789.65 309.93L787.39 311.42z" fill="#365c8d"/>
<path d="M985.95 385.62L989.80 387.13L993.66 388.65L995.68 386.59L997.68 384.53L993.83 382.97L989.98 381.46L987.97 383.54z" fill="#46075a"/>
<path d="M731.13 291.02L734.85 293.12L738.57 295.18L740.90 293.96L743.23 292.63L739.52 290.61L735.81 288.56L733.48 289.85z" fill="#2c718e"/>
<path d="M758.11 301.14L761.84 303.47L765.58 305.86L767.87 304.34L770.16 302.84L766.43 300.50L762.71 298.23L760.41 299.68z" fill="#30698e"/>
<path d="M947.11 378.86L950.92 381.02L954.75 383.12L956.80 381.35L958.85 379.60L955.03 377.60L951.22 375.51L949.16 377.18z" fill="#471063"/>
<path d="M920.14 365.66L923.93 368.60L927.73 371.61L929.82 370.04L931.89 368.53L928.10 365.61L924.31 362.70L922.23 364.18z" fill="#482071"/>
<path d="M792.63 318.91L796.39 321.90L800.15 324.66L802.39 322.95L804.64 321.31L800.89 318.61L797.14 315.68L794.89 317.25z" fill="#39568c"/>
<path d="M839.10 332.66L842.87 335.02L846.65 337.43L848.84 335.65L851.02 333.78L847.26 331.29L843.49 328.82L841.30 330.78z" fill="#3e4989"/>
<path d="M893.13 353.81L896.93 356.09L900.73 358.41L902.85 356.81L904.96 355.27L901.17 353.06L897.38 350.92L895.26 352.35z" fill="#46307e"/>
<path d="M866.12 342.82L869.90 344.88L873.69 347.05L875.84 345.44L877.99 343.95L874.21 341.61L870.44 339.34L868.28 341.06z" fill="#433e85"/>
<path d="M711.50 282.85L715.24 285.95L718.97 288.34L721.35 287.65L723.71 286.81L720.00 284.49L716.28 281.51L713.90 282.25z" fill="#297a8e"/>
<path d="M738.57 295.18L742.29 297.25L746.01 299.37L748.34 298.11L750.66 296.73L746.94 294.66L743.23 292.63L740.90 293.96z" fill="#2d708e"/>
<path d="M703.81 269.74L707.69 277.20L711.50 282.85L713.90 282.25L716.28 281.51L712.48 276.08L708.62 268.95L706.22 269.42z" fill="#26828e"/>
<path d="M765.58 305.86L769.32 308.32L773.07 310.86L775.35 309.27L777.63 307.70L773.89 305.24L770.16 302.84L767.87 304.34z" fill="#32658e"/>
<path d="M819.64 329.18L823.39 330.62L827.15 332.25L829.37 330.37L831.58 328.43L827.82 326.73L824.07 325.29L821.86 327.28z" fill="#3c4f8a"/>
<path d="M927.73 371.61L931.53 374.57L935.34 377.41L937.42 375.69L939.49 374.06L935.69 371.37L931.89 368.53L929.82 370.04z" fill="#481b6d"/>
<path d="M974.19 386.59L978.04 388.17L981.90 389.73L983.92 387.69L985.95 385.62L982.10 384.10L978.25 382.56L976.22 384.60z" fill="#46085c"/>
<path d="M954.75 383.12L958.58 385.13L962.42 387.04L964.46 385.16L966.51 383.30L962.67 381.50L958.85 379.60L956.80 381.35z" fill="#470d60"/>
<path d="M800.15 324.66L803.90 327.23L807.66 329.50L809.90 327.70L812.13 325.94L808.39 323.78L804.64 321.31L802.39 322.95z" fill="#3a538b"/>
<path d="M846.65 337.43L850.42 339.83L854.20 342.15L856.39 340.37L858.56 338.54L854.79 336.21L851.02 333.78L848.84 335.65z" fill="#404588"/>
<path d="M900.73 358.41L904.53 360.84L908.33 363.39L910.44 361.73L912.55 360.17L908.75 357.64L904.96 355.27L902.85 356.81z" fill="#472d7b"/>
<path d="M873.69 347.05L877.48 349.44L881.27 351.96L883.41 350.36L885.56 348.92L881.77 346.42L877.99 343.95L875.84 345.44z" fill="#443a83"/>
<path d="M773.07 310.86L776.82 313.54L780.58 316.36L782.85 314.68L785.12 313.01L781.37 310.29L777.63 307.70L775.35 309.27z" fill="#34618d"/>
<path d="M935.34 377.41L939.15 380.06L942.97 382.48L945.04 380.60L947.11 378.86L943.29 376.56L939.49 374.06L937.42 375.69z" fill="#481668"/>
<path d="M718.97 288.34L722.68 290.49L726.40 292.68L728.77 291.92L731.13 291.02L727.42 288.89L723.71 286.81L721.35 287.65z" fill="#2a768e"/>
<path d="M746.01 299.37L749.74 301.57L753.48 303.87L755.80 302.56L758.11 301.14L754.38 298.89L750.66 296.73L748.34 298.11z" fill="#2e6d8e"/>
<path d="M827.15 332.25L830.92 334.16L834.69 336.29L836.90 334.48L839.10 332.66L835.34 330.43L831.58 328.43L829.37 330.37z" fill="#3d4d8a"/>
<path d="M807.66 329.50L811.42 331.38L815.18 332.96L817.41 331.05L819.64 329.18L815.88 327.70L812.13 325.94L809.90 327.70z" fill="#3c508b"/>
<path d="M962.42 387.04L966.26 388.83L970.11 390.51L972.15 388.55L974.19 386.59L970.34 384.99L966.51 383.30L964.46 385.16z" fill="#460a5d"/>
<path d="M981.90 389.73L985.76 391.25L989.63 392.75L991.65 390.71L993.66 388.65L989.80 387.13L985.95 385.62L983.92 387.69z" fill="#46075a"/>
<path d="M854.20 342.15L857.99 344.33L861.77 346.39L863.95 344.59L866.12 342.82L862.34 340.74L858.56 338.54L856.39 340.37z" fill="#414287"/>
<path d="M908.33 363.39L912.13 366.06L915.93 368.92L918.04 367.23L920.14 365.66L916.34 362.84L912.55 360.17L910.44 361.73z" fill="#482878"/>
<path d="M780.58 316.36L784.34 319.32L788.10 322.43L790.37 320.66L792.63 318.91L788.87 315.88L785.12 313.01L782.85 314.68z" fill="#365d8d"/>
<path d="M881.27 351.96L885.06 354.56L888.86 357.13L891.00 355.38L893.13 353.81L889.34 351.41L885.56 348.92L883.41 350.36z" fill="#453781"/>
<path d="M942.97 382.48L946.79 384.75L950.62 386.96L952.69 384.97L954.75 383.12L950.92 381.02L947.11 378.86L945.04 380.60z" fill="#471164"/>
<path d="M726.40 292.68L730.13 294.83L733.86 296.94L736.22 296.13L738.57 295.18L734.85 293.12L731.13 291.02L728.77 291.92z" fill="#2b748e"/>
<path d="M753.48 303.87L757.22 306.25L760.97 308.70L763.28 307.34L765.58 305.86L761.84 303.47L758.11 301.14L755.80 302.56z" fill="#306a8e"/>
<path d="M915.93 368.92L919.74 371.93L923.54 375.06L925.64 373.27L927.73 371.61L923.93 368.60L920.14 365.66L918.04 367.23z" fill="#482173"/>
<path d="M788.10 322.43L791.87 325.48L795.64 328.28L797.89 326.46L800.15 324.66L796.39 321.90L792.63 318.91L790.37 320.66z" fill="#38588c"/>
<path d="M834.69 336.29L838.47 338.58L842.25 340.97L844.45 339.19L846.65 337.43L842.87 335.02L839.10 332.66L836.90 334.48z" fill="#3e4989"/>
<path d="M888.86 357.13L892.66 359.58L896.46 362.04L898.60 360.15L900.73 358.41L896.93 356.09L893.13 353.81L891.00 355.38z" fill="#46327e"/>
<path d="M861.77 346.39L865.56 348.43L869.36 350.59L871.52 348.77L873.69 347.05L869.90 344.88L866.12 342.82L863.95 344.59z" fill="#423f85"/>
<path d="M815.18 332.96L818.94 334.46L822.71 336.11L824.93 334.14L827.15 332.25L823.39 330.62L819.64 329.18L817.41 331.05z" fill="#3c4f8a"/>
<path d="M970.11 390.51L973.97 392.15L977.83 393.75L979.87 391.74L981.90 389.73L978.04 388.17L974.19 386.59L972.15 388.55z" fill="#46085c"/>
<path d="M923.54 375.06L927.35 378.19L931.16 381.21L933.25 379.25L935.34 377.41L931.53 374.57L927.73 371.61L925.64 373.27z" fill="#481c6e"/>
<path d="M760.97 308.70L764.72 311.22L768.48 313.83L770.78 312.40L773.07 310.86L769.32 308.32L765.58 305.86L763.28 307.34z" fill="#31668e"/>
<path d="M950.62 386.96L954.46 389.07L958.30 391.05L960.36 388.99L962.42 387.04L958.58 385.13L954.75 383.12L952.69 384.97z" fill="#470d60"/>
<path d="M733.86 296.94L737.59 299.06L741.32 301.22L743.67 300.37L746.01 299.37L742.29 297.25L738.57 295.18L736.22 296.13z" fill="#2c718e"/>
<path d="M795.64 328.28L799.40 330.91L803.17 333.26L805.42 331.37L807.66 329.50L803.90 327.23L800.15 324.66L797.89 326.46z" fill="#3a538b"/>
<path d="M706.72 284.83L710.48 288.02L714.21 290.47L716.58 289.20L718.97 288.34L715.24 285.95L711.50 282.85L709.11 283.63z" fill="#287c8e"/>
<path d="M842.25 340.97L846.04 343.38L849.82 345.76L852.02 343.93L854.20 342.15L850.42 339.83L846.65 337.43L844.45 339.19z" fill="#404688"/>
<path d="M698.99 271.21L702.89 278.96L706.72 284.83L709.11 283.63L711.50 282.85L707.69 277.20L703.81 269.74L701.39 270.25z" fill="#25858e"/>
<path d="M896.46 362.04L900.27 364.56L904.08 367.17L906.21 365.20L908.33 363.39L904.53 360.84L900.73 358.41L898.60 360.15z" fill="#472e7c"/>
<path d="M869.36 350.59L873.15 353.03L876.95 355.66L879.11 353.73L881.27 351.96L877.48 349.44L873.69 347.05L871.52 348.77z" fill="#443b84"/>
<path d="M931.16 381.21L934.98 384.03L938.80 386.61L940.89 384.49L942.97 382.48L939.15 380.06L935.34 377.41L933.25 379.25z" fill="#481668"/>
<path d="M768.48 313.83L772.24 316.59L776.00 319.51L778.29 317.99L780.58 316.36L776.82 313.54L773.07 310.86L770.78 312.40z" fill="#33628d"/>
<path d="M822.71 336.11L826.48 338.02L830.26 340.14L832.48 338.15L834.69 336.29L830.92 334.16L827.15 332.25L824.93 334.14z" fill="#3d4d8a"/>
<path d="M714.21 290.47L717.93 292.65L721.67 294.89L724.03 293.58L726.40 292.68L722.68 290.49L718.97 288.34L716.58 289.20z" fill="#29798e"/>
<path d="M741.32 301.22L745.06 303.47L748.81 305.82L751.15 304.92L753.48 303.87L749.74 301.57L746.01 299.37L743.67 300.37z" fill="#2e6f8e"/>
<path d="M803.17 333.26L806.93 335.24L810.70 336.93L812.94 334.94L815.18 332.96L811.42 331.38L807.66 329.50L805.42 331.37z" fill="#3c508b"/>
<path d="M977.83 393.75L981.70 395.29L985.57 396.82L987.60 394.79L989.63 392.75L985.76 391.25L981.90 389.73L979.87 391.74z" fill="#46075a"/>
<path d="M958.30 391.05L962.15 392.90L966.01 394.60L968.06 392.51L970.11 390.51L966.26 388.83L962.42 387.04L960.36 388.99z" fill="#460a5d"/>
<path d="M849.82 345.76L853.61 348.01L857.41 350.13L859.59 348.23L861.77 346.39L857.99 344.33L854.20 342.15L852.02 343.93z" fill="#414287"/>
<path d="M904.08 367.17L907.89 369.90L911.70 372.81L913.82 370.78L915.93 368.92L912.13 366.06L908.33 363.39L906.21 365.20z" fill="#482979"/>
<path d="M776.00 319.51L779.77 322.56L783.55 325.76L785.83 324.15L788.10 322.43L784.34 319.32L780.58 316.36L778.29 317.99z" fill="#355e8d"/>
<path d="M876.95 355.66L880.75 358.39L884.56 361.11L886.71 359.05L888.86 357.13L885.06 354.56L881.27 351.96L879.11 353.73z" fill="#453781"/>
<path d="M938.80 386.61L942.63 389.02L946.46 391.33L948.55 389.09L950.62 386.96L946.79 384.75L942.97 382.48L940.89 384.49z" fill="#471164"/>
<path d="M911.70 372.81L915.51 375.88L919.32 379.09L921.44 377.00L923.54 375.06L919.74 371.93L915.93 368.92L913.82 370.78z" fill="#482374"/>
<path d="M748.81 305.82L752.56 308.25L756.32 310.76L758.65 309.80L760.97 308.70L757.22 306.25L753.48 303.87L751.15 304.92z" fill="#2f6c8e"/>
<path d="M783.55 325.76L787.33 328.88L791.10 331.73L793.37 330.07L795.64 328.28L791.87 325.48L788.10 322.43L785.83 324.15z" fill="#38598c"/>
<path d="M830.26 340.14L834.05 342.44L837.84 344.87L840.05 342.84L842.25 340.97L838.47 338.58L834.69 336.29L832.48 338.15z" fill="#3e4a89"/>
<path d="M721.67 294.89L725.40 297.07L729.13 299.21L731.49 297.89L733.86 296.94L730.13 294.83L726.40 292.68L724.03 293.58z" fill="#2a768e"/>
<path d="M884.56 361.11L888.37 363.69L892.18 366.26L894.32 364.08L896.46 362.04L892.66 359.58L888.86 357.13L886.71 359.05z" fill="#46327e"/>
<path d="M857.41 350.13L861.20 352.25L865.01 354.50L867.18 352.51L869.36 350.59L865.56 348.43L861.77 346.39L859.59 348.23z" fill="#423f85"/>
<path d="M810.70 336.93L814.47 338.52L818.24 340.26L820.48 338.17L822.71 336.11L818.94 334.46L815.18 332.96L812.94 334.94z" fill="#3c4f8a"/>
<path d="M966.01 394.60L969.87 396.23L973.74 397.82L975.79 395.76L977.83 393.75L973.97 392.15L970.11 390.51L968.06 392.51z" fill="#46085c"/>
<path d="M919.32 379.09L923.14 382.31L926.96 385.44L929.06 383.27L931.16 381.21L927.35 378.19L923.54 375.06L921.44 377.00z" fill="#481c6e"/>
<path d="M946.46 391.33L950.31 393.51L954.15 395.53L956.23 393.25L958.30 391.05L954.46 389.07L950.62 386.96L948.55 389.09z" fill="#470d60"/>
<path d="M791.10 331.73L794.87 334.42L798.65 336.84L800.91 335.11L803.17 333.26L799.40 330.91L795.64 328.28L793.37 330.07z" fill="#3a538b"/>
<path d="M756.32 310.76L760.08 313.35L763.84 316.05L766.16 315.01L768.48 313.83L764.72 311.22L760.97 308.70L758.65 309.80z" fill="#31688e"/>
<path d="M837.84 344.87L841.63 347.34L845.42 349.77L847.62 347.69L849.82 345.76L846.04 343.38L842.25 340.97L840.05 342.84z" fill="#404688"/>
<path d="M701.95 287.69L705.71 290.95L709.45 293.44L711.83 291.91L714.21 290.47L710.48 288.02L706.72 284.83L704.34 286.22z" fill="#277e8e"/>
<path d="M729.13 299.21L732.87 301.36L736.62 303.54L738.97 302.20L741.32 301.22L737.59 299.06L733.86 296.94L731.49 297.89z" fill="#2c738e"/>
<path d="M892.18 366.26L895.99 368.88L899.81 371.57L901.95 369.30L904.08 367.17L900.27 364.56L896.46 362.04L894.32 364.08z" fill="#472e7c"/>
<path d="M926.96 385.44L930.78 388.38L934.61 391.07L936.71 388.81L938.80 386.61L934.98 384.03L931.16 381.21L929.06 383.27z" fill="#481668"/>
<path d="M865.01 354.50L868.81 357.05L872.62 359.81L874.79 357.70L876.95 355.66L873.15 353.03L869.36 350.59L867.18 352.51z" fill="#443b84"/>
<path d="M694.05 270.27L698.03 279.69L701.95 287.69L704.34 286.22L706.72 284.83L702.89 278.96L698.99 271.21L696.58 272.36z" fill="#23888e"/>
<path d="M818.24 340.26L822.03 342.23L825.81 344.40L828.04 342.25L830.26 340.14L826.48 338.02L822.71 336.11L820.48 338.17z" fill="#3d4d8a"/>
<path d="M763.84 316.05L767.62 318.89L771.39 321.88L773.70 320.78L776.00 319.51L772.24 316.59L768.48 313.83L766.16 315.01z" fill="#32648e"/>
<path d="M954.15 395.53L958.01 397.35L961.88 398.98L963.94 396.76L966.01 394.60L962.15 392.90L958.30 391.05L956.23 393.25z" fill="#460a5d"/>
<path d="M973.74 397.82L977.62 399.35L981.50 400.91L983.54 398.85L985.57 396.82L981.70 395.29L977.83 393.75L975.79 395.76z" fill="#46075a"/>
<path d="M798.65 336.84L802.42 338.89L806.20 340.65L808.45 338.86L810.70 336.93L806.93 335.24L803.17 333.26L800.91 335.11z" fill="#3b518b"/>
<path d="M845.42 349.77L849.22 352.08L853.02 354.23L855.22 352.13L857.41 350.13L853.61 348.01L849.82 345.76L847.62 347.69z" fill="#414287"/>
<path d="M899.81 371.57L903.62 374.37L907.44 377.32L909.57 375.00L911.70 372.81L907.89 369.90L904.08 367.17L901.95 369.30z" fill="#482979"/>
<path d="M709.45 293.44L713.18 295.66L716.92 297.91L719.30 296.36L721.67 294.89L717.93 292.65L714.21 290.47L711.83 291.91z" fill="#297a8e"/>
<path d="M872.62 359.81L876.42 362.69L880.23 365.52L882.40 363.29L884.56 361.11L880.75 358.39L876.95 355.66L874.79 357.70z" fill="#453781"/>
<path d="M736.62 303.54L740.37 305.82L744.12 308.20L746.47 306.84L748.81 305.82L745.06 303.47L741.32 301.22L738.97 302.20z" fill="#2d718e"/>
<path d="M934.61 391.07L938.44 393.58L942.28 395.96L944.38 393.63L946.46 391.33L942.63 389.02L938.80 386.61L936.71 388.81z" fill="#471063"/>
<path d="M771.39 321.88L775.17 325.00L778.96 328.26L781.26 327.10L783.55 325.76L779.77 322.56L776.00 319.51L773.70 320.78z" fill="#355f8d"/>
<path d="M907.44 377.32L911.26 380.42L915.08 383.63L917.21 381.31L919.32 379.09L915.51 375.88L911.70 372.81L909.57 375.00z" fill="#482374"/>
<path d="M825.81 344.40L829.60 346.76L833.40 349.23L835.62 347.03L837.84 344.87L834.05 342.44L830.26 340.14L828.04 342.25z" fill="#3e4989"/>
<path d="M880.23 365.52L884.05 368.21L887.87 370.86L890.02 368.54L892.18 366.26L888.37 363.69L884.56 361.11L882.40 363.29z" fill="#46327e"/>
<path d="M778.96 328.26L782.74 331.45L786.53 334.36L788.82 333.14L791.10 331.73L787.33 328.88L783.55 325.76L781.26 327.10z" fill="#375a8c"/>
<path d="M853.02 354.23L856.82 356.37L860.63 358.67L862.82 356.55L865.01 354.50L861.20 352.25L857.41 350.13L855.22 352.13z" fill="#423f85"/>
<path d="M716.92 297.91L720.66 300.12L724.41 302.27L726.77 300.70L729.13 299.21L725.40 297.07L721.67 294.89L719.30 296.36z" fill="#2a788e"/>
<path d="M806.20 340.65L809.97 342.32L813.76 344.12L816.00 342.28L818.24 340.26L814.47 338.52L810.70 336.93L808.45 338.86z" fill="#3c4f8a"/>
<path d="M744.12 308.20L747.88 310.66L751.65 313.20L753.98 311.82L756.32 310.76L752.56 308.25L748.81 305.82L746.47 306.84z" fill="#2e6e8e"/>
<path d="M961.88 398.98L965.75 400.54L969.63 402.05L971.69 399.92L973.74 397.82L969.87 396.23L966.01 394.60L963.94 396.76z" fill="#46085c"/>
<path d="M942.28 395.96L946.13 398.16L949.99 400.16L952.07 397.84L954.15 395.53L950.31 393.51L946.46 391.33L944.38 393.63z" fill="#460b5e"/>
<path d="M915.08 383.63L918.90 386.85L922.73 389.96L924.84 387.68L926.96 385.44L923.14 382.31L919.32 379.09L917.21 381.31z" fill="#481b6d"/>
<path d="M833.40 349.23L837.20 351.74L841.00 354.18L843.21 351.97L845.42 349.77L841.63 347.34L837.84 344.87L835.62 347.03z" fill="#404688"/>
<path d="M786.53 334.36L790.31 337.11L794.10 339.60L796.38 338.31L798.65 336.84L794.87 334.42L791.10 331.73L788.82 333.14z" fill="#3a548c"/>
<path d="M887.87 370.86L891.69 373.56L895.51 376.32L897.66 373.93L899.81 371.57L895.99 368.88L892.18 366.26L890.02 368.54z" fill="#472d7b"/>
<path d="M922.73 389.96L926.56 392.90L930.39 395.59L932.50 393.34L934.61 391.07L930.78 388.38L926.96 385.44L924.84 387.68z" fill="#481668"/>
<path d="M860.63 358.67L864.44 361.29L868.26 364.13L870.44 361.96L872.62 359.81L868.81 357.05L865.01 354.50L862.82 356.55z" fill="#443b84"/>
<path d="M751.65 313.20L755.42 315.84L759.19 318.59L761.52 317.17L763.84 316.05L760.08 313.35L756.32 310.76L753.98 311.82z" fill="#306a8e"/>
<path d="M724.41 302.27L728.15 304.42L731.91 306.61L734.26 305.03L736.62 303.54L732.87 301.36L729.13 299.21L726.77 300.70z" fill="#2b758e"/>
<path d="M813.76 344.12L817.54 346.15L821.34 348.38L823.58 346.49L825.81 344.40L822.03 342.23L818.24 340.26L816.00 342.28z" fill="#3d4d8a"/>
<path d="M949.99 400.16L953.85 401.92L957.73 403.46L959.80 401.22L961.88 398.98L958.01 397.35L954.15 395.53L952.07 397.84z" fill="#460a5d"/>
<path d="M895.51 376.32L899.33 379.18L903.16 382.16L905.30 379.73L907.44 377.32L903.62 374.37L899.81 371.57L897.66 373.93z" fill="#482878"/>
<path d="M969.63 402.05L973.51 403.54L977.40 405.13L979.45 403.01L981.50 400.91L977.62 399.35L973.74 397.82L971.69 399.92z" fill="#46075a"/>
<path d="M841.00 354.18L844.80 356.46L848.61 358.57L850.82 356.41L853.02 354.23L849.22 352.08L845.42 349.77L843.21 351.97z" fill="#414287"/>
<path d="M868.26 364.13L872.07 367.10L875.89 370.02L878.06 367.77L880.23 365.52L876.42 362.69L872.62 359.81L870.44 361.96z" fill="#453781"/>
<path d="M794.10 339.60L797.88 341.71L801.66 343.50L803.93 342.17L806.20 340.65L802.42 338.89L798.65 336.84L796.38 338.31z" fill="#3b528b"/>
<path d="M759.19 318.59L762.97 321.48L766.76 324.50L769.08 323.06L771.39 321.88L767.62 318.89L763.84 316.05L761.52 317.17z" fill="#31668e"/>
<path d="M930.39 395.59L934.24 398.10L938.08 400.48L940.19 398.25L942.28 395.96L938.44 393.58L934.61 391.07L932.50 393.34z" fill="#471063"/>
<path d="M704.68 296.73L708.42 298.97L712.17 301.25L714.55 299.55L716.92 297.91L713.18 295.66L709.45 293.44L707.06 295.05z" fill="#297b8e"/>
<path d="M696.29 265.41L700.93 294.20L704.68 296.73L707.06 295.05L709.45 293.44L705.71 290.95L701.95 287.69L699.26 280.52z" fill="#25848e"/>
<path d="M731.91 306.61L735.66 308.89L739.43 311.29L741.78 309.70L744.12 308.20L740.37 305.82L736.62 303.54L734.26 305.03z" fill="#2c728e"/>
<path d="M903.16 382.16L906.98 385.24L910.81 388.39L912.95 386.01L915.08 383.63L911.26 380.42L907.44 377.32L905.30 379.73z" fill="#482173"/>
<path d="M821.34 348.38L825.14 350.78L828.94 353.28L831.17 351.35L833.40 349.23L829.60 346.76L825.81 344.40L823.58 346.49z" fill="#3e4989"/>
<path d="M766.76 324.50L770.55 327.63L774.34 330.91L776.65 329.47L778.96 328.26L775.17 325.00L771.39 321.88L769.08 323.06z" fill="#34618d"/>
<path d="M875.89 370.02L879.71 372.78L883.54 375.51L885.70 373.18L887.87 370.86L884.05 368.21L880.23 365.52L878.06 367.77z" fill="#46307e"/>
<path d="M848.61 358.57L852.42 360.66L856.24 362.92L858.44 360.81L860.63 358.67L856.82 356.37L853.02 354.23L850.82 356.41z" fill="#423f85"/>
<path d="M957.73 403.46L961.61 404.93L965.49 406.37L967.56 404.20L969.63 402.05L965.75 400.54L961.88 398.98L959.80 401.22z" fill="#46085c"/>
<path d="M938.08 400.48L941.94 402.67L945.80 404.64L947.90 402.43L949.99 400.16L946.13 398.16L942.28 395.96L940.19 398.25z" fill="#460b5e"/>
<path d="M910.81 388.39L914.64 391.52L918.48 394.53L920.60 392.26L922.73 389.96L918.90 386.85L915.08 383.63L912.95 386.01z" fill="#481b6d"/>
<path d="M712.17 301.25L715.91 303.47L719.66 305.63L722.04 303.92L724.41 302.27L720.66 300.12L716.92 297.91L714.55 299.55z" fill="#2a788e"/>
<path d="M801.66 343.50L805.44 345.17L809.23 346.98L811.50 345.66L813.76 344.12L809.97 342.32L806.20 340.65L803.93 342.17z" fill="#3c508b"/>
<path d="M774.34 330.91L778.14 334.12L781.93 337.09L784.23 335.61L786.53 334.36L782.74 331.45L778.96 328.26L776.65 329.47z" fill="#365c8d"/>
<path d="M739.43 311.29L743.19 313.76L746.97 316.31L749.31 314.72L751.65 313.20L747.88 310.66L744.12 308.20L741.78 309.70z" fill="#2d708e"/>
<path d="M828.94 353.28L832.75 355.80L836.55 358.23L838.78 356.30L841.00 354.18L837.20 351.74L833.40 349.23L831.17 351.35z" fill="#404688"/>
<path d="M883.54 375.51L887.36 378.28L891.19 381.11L893.35 378.72L895.51 376.32L891.69 373.56L887.87 370.86L885.70 373.18z" fill="#472c7a"/>
<path d="M918.48 394.53L922.32 397.35L926.16 399.94L928.28 397.79L930.39 395.59L926.56 392.90L922.73 389.96L920.60 392.26z" fill="#481467"/>
<path d="M856.24 362.92L860.06 365.53L863.88 368.40L866.07 366.30L868.26 364.13L864.44 361.29L860.63 358.67L858.44 360.81z" fill="#443b84"/>
<path d="M781.93 337.09L785.73 339.91L789.52 342.48L791.81 340.92L794.10 339.60L790.31 337.11L786.53 334.36L784.23 335.61z" fill="#39568c"/>
<path d="M746.97 316.31L750.75 318.97L754.53 321.73L756.86 320.13L759.19 318.59L755.42 315.84L751.65 313.20L749.31 314.72z" fill="#2f6c8e"/>
<path d="M719.66 305.63L723.42 307.79L727.18 309.98L729.54 308.26L731.91 306.61L728.15 304.42L724.41 302.27L722.04 303.92z" fill="#2a768e"/>
<path d="M945.80 404.64L949.67 406.38L953.56 407.91L955.64 405.69L957.73 403.46L953.85 401.92L949.99 400.16L947.90 402.43z" fill="#46085c"/>
<path d="M891.19 381.11L895.02 383.99L898.86 386.97L901.01 384.57L903.16 382.16L899.33 379.18L895.51 376.32L893.35 378.72z" fill="#482677"/>
<path d="M809.23 346.98L813.03 349.01L816.83 351.25L819.09 349.94L821.34 348.38L817.54 346.15L813.76 344.12L811.50 345.66z" fill="#3d4e8a"/>
<path d="M965.49 406.37L969.39 407.83L973.28 409.47L975.34 407.29L977.40 405.13L973.51 403.54L969.63 402.05L967.56 404.20z" fill="#46075a"/>
<path d="M836.55 358.23L840.37 360.48L844.18 362.54L846.40 360.64L848.61 358.57L844.80 356.46L841.00 354.18L838.78 356.30z" fill="#414287"/>
<path d="M863.88 368.40L867.70 371.40L871.53 374.38L873.71 372.24L875.89 370.02L872.07 367.10L868.26 364.13L866.07 366.30z" fill="#453581"/>
<path d="M926.16 399.94L930.01 402.36L933.87 404.68L935.98 402.62L938.08 400.48L934.24 398.10L930.39 395.59L928.28 397.79z" fill="#470e61"/>
<path d="M699.88 300.21L703.63 302.48L707.39 304.79L709.78 303.01L712.17 301.25L708.42 298.97L704.68 296.73L702.28 298.46z" fill="#287c8e"/>
<path d="M754.53 321.73L758.32 324.62L762.11 327.63L764.44 326.04L766.76 324.50L762.97 321.48L759.19 318.59L756.86 320.13z" fill="#31678e"/>
<path d="M789.52 342.48L793.31 344.66L797.10 346.49L799.38 344.86L801.66 343.50L797.88 341.71L794.10 339.60L791.81 340.92z" fill="#3a538b"/>
<path d="M898.86 386.97L902.69 390.01L906.53 393.09L908.67 390.75L910.81 388.39L906.98 385.24L903.16 382.16L901.01 384.57z" fill="#482071"/>
<path d="M688.16 243.26L692.16 252.12L696.29 265.41L699.26 280.52L701.95 287.69L698.03 279.69L694.05 270.27L691.18 258.52z" fill="#1e9b8a"/>
<path d="M727.18 309.98L730.94 312.27L734.71 314.67L737.07 312.94L739.43 311.29L735.66 308.89L731.91 306.61L729.54 308.26z" fill="#2c738e"/>
<path d="M871.53 374.38L875.35 377.20L879.19 380.00L881.36 377.79L883.54 375.51L879.71 372.78L875.89 370.02L873.71 372.24z" fill="#46307e"/>
<path d="M816.83 351.25L820.64 353.66L824.45 356.18L826.70 354.87L828.94 353.28L825.14 350.78L821.34 348.38L819.09 349.94z" fill="#3e4a89"/>
<path d="M762.11 327.63L765.91 330.75L769.71 334.03L772.03 332.45L774.34 330.91L770.55 327.63L766.76 324.50L764.44 326.04z" fill="#33628d"/>
<path d="M844.18 362.54L848.00 364.57L851.82 366.79L854.03 364.93L856.24 362.92L852.42 360.66L848.61 358.57L846.40 360.64z" fill="#423f85"/>
<path d="M906.53 393.09L910.37 396.13L914.21 399.03L916.35 396.77L918.48 394.53L914.64 391.52L910.81 388.39L908.67 390.75z" fill="#481a6c"/>
<path d="M953.56 407.91L957.44 409.38L961.34 410.84L963.42 408.58L965.49 406.37L961.61 404.93L957.73 403.46L955.64 405.69z" fill="#46075a"/>
<path d="M933.87 404.68L937.73 406.86L941.60 408.87L943.71 406.79L945.80 404.64L941.94 402.67L938.08 400.48L935.98 402.62z" fill="#460b5e"/>
<path d="M707.39 304.79L711.15 307.03L714.90 309.20L717.29 307.40L719.66 305.63L715.91 303.47L712.17 301.25L709.78 303.01z" fill="#29798e"/>
<path d="M879.19 380.00L883.02 382.84L886.86 385.71L889.03 383.45L891.19 381.11L887.36 378.28L883.54 375.51L881.36 377.79z" fill="#472a7a"/>
<path d="M769.71 334.03L773.52 337.26L777.32 340.28L779.63 338.65L781.93 337.09L778.14 334.12L774.34 330.91L772.03 332.45z" fill="#365d8d"/>
<path d="M734.71 314.67L738.49 317.15L742.27 319.72L744.62 317.98L746.97 316.31L743.19 313.76L739.43 311.29L737.07 312.94z" fill="#2d708e"/>
<path d="M797.10 346.49L800.89 348.15L804.69 349.91L806.96 348.32L809.23 346.98L805.44 345.17L801.66 343.50L799.38 344.86z" fill="#3b518b"/>
<path d="M824.45 356.18L828.27 358.73L832.08 361.19L834.32 359.84L836.55 358.23L832.75 355.80L828.94 353.28L826.70 354.87z" fill="#404688"/>
<path d="M914.21 399.03L918.06 401.73L921.91 404.19L924.04 402.04L926.16 399.94L922.32 397.35L918.48 394.53L916.35 396.77z" fill="#481467"/>
<path d="M851.82 366.79L855.65 369.38L859.48 372.26L861.68 370.40L863.88 368.40L860.06 365.53L856.24 362.92L854.03 364.93z" fill="#443b84"/>
<path d="M886.86 385.71L890.69 388.61L894.54 391.56L896.70 389.31L898.86 386.97L895.02 383.99L891.19 381.11L889.03 383.45z" fill="#482576"/>
<path d="M777.32 340.28L781.13 343.20L784.93 345.91L787.23 344.16L789.52 342.48L785.73 339.91L781.93 337.09L779.63 338.65z" fill="#38588c"/>
<path d="M941.60 408.87L945.48 410.69L949.37 412.33L951.46 410.13L953.56 407.91L949.67 406.38L945.80 404.64L943.71 406.79z" fill="#46085c"/>
<path d="M714.90 309.20L718.66 311.37L722.43 313.57L724.81 311.76L727.18 309.98L723.42 307.79L719.66 305.63L717.29 307.40z" fill="#2a768e"/>
<path d="M742.27 319.72L746.06 322.38L749.85 325.13L752.19 323.39L754.53 321.73L750.75 318.97L746.97 316.31L744.62 317.98z" fill="#2e6d8e"/>
<path d="M961.34 410.84L965.23 412.32L969.13 413.97L971.21 411.70L973.28 409.47L969.39 407.83L965.49 406.37L963.42 408.58z" fill="#450559"/>
<path d="M859.48 372.26L863.31 375.28L867.14 378.31L869.34 376.42L871.53 374.38L867.70 371.40L863.88 368.40L861.68 370.40z" fill="#453581"/>
<path d="M921.91 404.19L925.77 406.51L929.64 408.78L931.76 406.70L933.87 404.68L930.01 402.36L926.16 399.94L924.04 402.04z" fill="#470e61"/>
<path d="M832.08 361.19L835.90 363.46L839.73 365.54L841.96 364.15L844.18 362.54L840.37 360.48L836.55 358.23L834.32 359.84z" fill="#414287"/>
<path d="M804.69 349.91L808.49 351.87L812.30 354.02L814.57 352.52L816.83 351.25L813.03 349.01L809.23 346.98L806.96 348.32z" fill="#3c4f8a"/>
<path d="M894.54 391.56L898.38 394.56L902.22 397.61L904.38 395.39L906.53 393.09L902.69 390.01L898.86 386.97L896.70 389.31z" fill="#481f70"/>
<path d="M749.85 325.13L753.64 328.00L757.45 331.00L759.78 329.28L762.11 327.63L758.32 324.62L754.53 321.73L752.19 323.39z" fill="#31688e"/>
<path d="M784.93 345.91L788.73 348.23L792.53 350.16L794.81 348.27L797.10 346.49L793.31 344.66L789.52 342.48L787.23 344.16z" fill="#3a548c"/>
<path d="M867.14 378.31L870.98 381.19L874.82 384.06L877.00 382.11L879.19 380.00L875.35 377.20L871.53 374.38L869.34 376.42z" fill="#46307e"/>
<path d="M722.43 313.57L726.20 315.86L729.98 318.28L732.35 316.46L734.71 314.67L730.94 312.27L727.18 309.98L724.81 311.76z" fill="#2c738e"/>
<path d="M902.22 397.61L906.07 400.63L909.92 403.51L912.07 401.28L914.21 399.03L910.37 396.13L906.53 393.09L904.38 395.39z" fill="#48186a"/>
<path d="M949.37 412.33L953.26 413.91L957.16 415.47L959.25 413.14L961.34 410.84L957.44 409.38L953.56 407.91L951.46 410.13z" fill="#46075a"/>
<path d="M929.64 408.78L933.51 410.98L937.39 413.07L939.50 410.94L941.60 408.87L937.73 406.86L933.87 404.68L931.76 406.70z" fill="#460b5e"/>
<path d="M812.30 354.02L816.12 356.35L819.94 358.83L822.20 357.42L824.45 356.18L820.64 353.66L816.83 351.25L814.57 352.52z" fill="#3e4c8a"/>
<path d="M839.73 365.54L843.55 367.58L847.38 369.81L849.61 368.40L851.82 366.79L848.00 364.57L844.18 362.54L841.96 364.15z" fill="#424086"/>
<path d="M757.45 331.00L761.25 334.12L765.07 337.43L767.39 335.69L769.71 334.03L765.91 330.75L762.11 327.63L759.78 329.28z" fill="#33638d"/>
<path d="M874.82 384.06L878.66 386.95L882.50 389.84L884.68 387.85L886.86 385.71L883.02 382.84L879.19 380.00L877.00 382.11z" fill="#472a7a"/>
<path d="M729.98 318.28L733.76 320.77L737.55 323.34L739.91 321.51L742.27 319.72L738.49 317.15L734.71 314.67L732.35 316.46z" fill="#2d718e"/>
<path d="M909.92 403.51L913.78 406.20L917.64 408.64L919.78 406.39L921.91 404.19L918.06 401.73L914.21 399.03L912.07 401.28z" fill="#471365"/>
<path d="M689.90 224.34L695.29 273.14L699.88 300.21L702.28 298.46L704.68 296.73L700.93 294.20L696.29 265.41L693.09 244.30z" fill="#1f998a"/>
<path d="M765.07 337.43L768.88 340.70L772.69 343.79L775.01 341.99L777.32 340.28L773.52 337.26L769.71 334.03L767.39 335.69z" fill="#355e8d"/>
<path d="M792.53 350.16L796.32 351.88L800.13 353.61L802.41 351.69L804.69 349.91L800.89 348.15L797.10 346.49L794.81 348.27z" fill="#3b528b"/>
<path d="M819.94 358.83L823.76 361.37L827.59 363.86L829.84 362.46L832.08 361.19L828.27 358.73L824.45 356.18L822.20 357.42z" fill="#3f4889"/>
<path d="M847.38 369.81L851.22 372.41L855.05 375.30L857.27 373.88L859.48 372.26L855.65 369.38L851.82 366.79L849.61 368.40z" fill="#443b84"/>
<path d="M882.50 389.84L886.35 392.73L890.20 395.66L892.37 393.68L894.54 391.56L890.69 388.61L886.86 385.71L884.68 387.85z" fill="#482576"/>
<path d="M937.39 413.07L941.27 415.02L945.16 416.81L947.27 414.54L949.37 412.33L945.48 410.69L941.60 408.87L939.50 410.94z" fill="#46085c"/>
<path d="M957.16 415.47L961.06 417.00L964.97 418.62L967.05 416.29L969.13 413.97L965.23 412.32L961.34 410.84L959.25 413.14z" fill="#450559"/>
<path d="M772.69 343.79L776.50 346.81L780.32 349.65L782.62 347.75L784.93 345.91L781.13 343.20L777.32 340.28L775.01 341.99z" fill="#38598c"/>
<path d="M702.08 292.74L706.02 300.23L709.91 306.05L712.51 311.02L714.90 309.20L711.15 307.03L707.39 304.79L704.99 306.59z" fill="#277f8e"/>
<path d="M737.55 323.34L741.35 326.00L745.15 328.74L747.50 326.92L749.85 325.13L746.06 322.38L742.27 319.72L739.91 321.51z" fill="#2e6d8e"/>
<path d="M917.64 408.64L921.51 410.96L925.38 413.24L927.51 410.96L929.64 408.78L925.77 406.51L921.91 404.19L919.78 406.39z" fill="#470e61"/>
<path d="M855.05 375.30L858.90 378.35L862.74 381.41L864.94 379.97L867.14 378.31L863.31 375.28L859.48 372.26L857.27 373.88z" fill="#453781"/>
<path d="M890.20 395.66L894.05 398.63L897.90 401.68L900.07 399.72L902.22 397.61L898.38 394.56L894.54 391.56L892.37 393.68z" fill="#481f70"/>
<path d="M709.91 306.05L713.75 310.39L717.56 313.85L720.05 315.39L722.43 313.57L718.66 311.37L714.90 309.20L712.51 311.02z" fill="#29798e"/>
<path d="M800.13 353.61L803.94 355.48L807.75 357.51L810.03 355.68L812.30 354.02L808.49 351.87L804.69 349.91L802.41 351.69z" fill="#3c508b"/>
<path d="M827.59 363.86L831.41 366.18L835.25 368.31L837.49 366.86L839.73 365.54L835.90 363.46L832.08 361.19L829.84 362.46z" fill="#404588"/>
<path d="M693.76 265.65L698.05 282.83L702.08 292.74L704.99 306.59L707.39 304.79L703.63 302.48L699.88 300.21L697.08 290.15z" fill="#238a8d"/>
<path d="M780.32 349.65L784.13 352.11L787.93 354.17L790.23 352.14L792.53 350.16L788.73 348.23L784.93 345.91L782.62 347.75z" fill="#3a548c"/>
<path d="M745.15 328.74L748.95 331.62L752.76 334.62L755.11 332.79L757.45 331.00L753.64 328.00L749.85 325.13L747.50 326.92z" fill="#30698e"/>
<path d="M862.74 381.41L866.58 384.34L870.43 387.28L872.63 385.78L874.82 384.06L870.98 381.19L867.14 378.31L864.94 379.97z" fill="#46307e"/>
<path d="M897.90 401.68L901.76 404.74L905.62 407.71L907.77 405.67L909.92 403.51L906.07 400.63L902.22 397.61L900.07 399.72z" fill="#48186a"/>
<path d="M945.16 416.81L949.05 418.53L952.96 420.18L955.06 417.80L957.16 415.47L953.26 413.91L949.37 412.33L947.27 414.54z" fill="#450559"/>
<path d="M717.56 313.85L721.37 317.05L725.18 320.29L727.61 320.11L729.98 318.28L726.20 315.86L722.43 313.57L720.05 315.39z" fill="#2b758e"/>
<path d="M925.38 413.24L929.26 415.47L933.14 417.63L935.27 415.31L937.39 413.07L933.51 410.98L929.64 408.78L927.51 410.96z" fill="#460a5d"/>
<path d="M752.76 334.62L756.58 337.77L760.40 341.11L762.73 339.24L765.07 337.43L761.25 334.12L757.45 331.00L755.11 332.79z" fill="#32648e"/>
<path d="M807.75 357.51L811.58 359.71L815.40 362.07L817.67 360.37L819.94 358.83L816.12 356.35L812.30 354.02L810.03 355.68z" fill="#3d4e8a"/>
<path d="M835.25 368.31L839.08 370.38L842.92 372.62L845.15 371.16L847.38 369.81L843.55 367.58L839.73 365.54L837.49 366.86z" fill="#424186"/>
<path d="M870.43 387.28L874.28 390.24L878.13 393.19L880.32 391.62L882.50 389.84L878.66 386.95L874.82 384.06L872.63 385.78z" fill="#472c7a"/>
<path d="M905.62 407.71L909.48 410.52L913.35 413.08L915.50 410.90L917.64 408.64L913.78 406.20L909.92 403.51L907.77 405.67z" fill="#471365"/>
<path d="M787.93 354.17L791.74 355.99L795.55 357.78L797.84 355.66L800.13 353.61L796.32 351.88L792.53 350.16L790.23 352.14z" fill="#3b528b"/>
<path d="M760.40 341.11L764.22 344.44L768.04 347.56L770.37 345.65L772.69 343.79L768.88 340.70L765.07 337.43L762.73 339.24z" fill="#355e8d"/>
<path d="M725.18 320.29L728.99 323.50L732.80 326.60L735.19 325.18L737.55 323.34L733.76 320.77L729.98 318.28L727.61 320.11z" fill="#2c718e"/>
<path d="M933.14 417.63L937.03 419.65L940.93 421.50L943.04 419.13L945.16 416.81L941.27 415.02L937.39 413.07L935.27 415.31z" fill="#46075a"/>
<path d="M952.96 420.18L956.87 421.77L960.78 423.33L962.88 420.96L964.97 418.62L961.06 417.00L957.16 415.47L955.06 417.80z" fill="#450457"/>
<path d="M878.13 393.19L881.99 396.12L885.85 399.04L888.03 397.44L890.20 395.66L886.35 392.73L882.50 389.84L880.32 391.62z" fill="#482576"/>
<path d="M815.40 362.07L819.23 364.54L823.07 367.00L825.33 365.37L827.59 363.86L823.76 361.37L819.94 358.83L817.67 360.37z" fill="#3e4989"/>
<path d="M842.92 372.62L846.76 375.23L850.61 378.10L852.83 376.65L855.05 375.30L851.22 372.41L847.38 369.81L845.15 371.16z" fill="#433e85"/>
<path d="M768.04 347.56L771.86 350.62L775.68 353.50L778.00 351.58L780.32 349.65L776.50 346.81L772.69 343.79L770.37 345.65z" fill="#38598c"/>
<path d="M913.35 413.08L917.22 415.50L921.10 417.87L923.24 415.57L925.38 413.24L921.51 410.96L917.64 408.64L915.50 410.90z" fill="#470e61"/>
<path d="M732.80 326.60L736.61 329.57L740.42 332.44L742.79 330.59L745.15 328.74L741.35 326.00L737.55 323.34L735.19 325.18z" fill="#2e6e8e"/>
<path d="M885.85 399.04L889.71 402.01L893.57 405.07L895.74 403.46L897.90 401.68L894.05 398.63L890.20 395.66L888.03 397.44z" fill="#482071"/>
<path d="M795.55 357.78L799.37 359.66L803.19 361.64L805.47 359.51L807.75 357.51L803.94 355.48L800.13 353.61L797.84 355.66z" fill="#3b518b"/>
<path d="M850.61 378.10L854.46 381.13L858.31 384.17L860.53 382.76L862.74 381.41L858.90 378.35L855.05 375.30L852.83 376.65z" fill="#443983"/>
<path d="M823.07 367.00L826.90 369.32L830.74 371.45L833.00 369.83L835.25 368.31L831.41 366.18L827.59 363.86L825.33 365.37z" fill="#404688"/>
<path d="M775.68 353.50L779.50 356.02L783.32 358.17L785.63 356.19L787.93 354.17L784.13 352.11L780.32 349.65L778.00 351.58z" fill="#39558c"/>
<path d="M740.42 332.44L744.23 335.34L748.05 338.37L750.41 336.49L752.76 334.62L748.95 331.62L745.15 328.74L742.79 330.59z" fill="#30698e"/>
<path d="M940.93 421.50L944.83 423.28L948.73 424.97L950.85 422.58L952.96 420.18L949.05 418.53L945.16 416.81L943.04 419.13z" fill="#450559"/>
<path d="M921.10 417.87L924.99 420.17L928.87 422.36L931.01 420.00L933.14 417.63L929.26 415.47L925.38 413.24L923.24 415.57z" fill="#460a5d"/>
<path d="M893.57 405.07L897.43 408.18L901.30 411.24L903.46 409.57L905.62 407.71L901.76 404.74L897.90 401.68L895.74 403.46z" fill="#481a6c"/>
<path d="M858.31 384.17L862.16 387.11L866.02 390.09L868.23 388.66L870.43 387.28L866.58 384.34L862.74 381.41L860.53 382.76z" fill="#46337f"/>
<path d="M748.05 338.37L751.88 341.55L755.71 344.94L758.06 343.01L760.40 341.11L756.58 337.77L752.76 334.62L750.41 336.49z" fill="#32648e"/>
<path d="M803.19 361.64L807.02 363.76L810.85 366.01L813.13 363.95L815.40 362.07L811.58 359.71L807.75 357.51L805.47 359.51z" fill="#3d4e8a"/>
<path d="M830.74 371.45L834.58 373.54L838.43 375.78L840.68 374.15L842.92 372.62L839.08 370.38L835.25 368.31L833.00 369.83z" fill="#414487"/>
<path d="M901.30 411.24L905.17 414.18L909.04 416.91L911.20 415.10L913.35 413.08L909.48 410.52L905.62 407.71L903.46 409.57z" fill="#471365"/>
<path d="M783.32 358.17L787.13 360.11L790.95 362.03L793.25 359.92L795.55 357.78L791.74 355.99L787.93 354.17L785.63 356.19z" fill="#3b528b"/>
<path d="M866.02 390.09L869.88 393.13L873.74 396.16L875.94 394.66L878.13 393.19L874.28 390.24L870.43 387.28L868.23 388.66z" fill="#472d7b"/>
<path d="M755.71 344.94L759.54 348.29L763.37 351.41L765.71 349.48L768.04 347.56L764.22 344.44L760.40 341.11L758.06 343.01z" fill="#355f8d"/>
<path d="M928.87 422.36L932.77 424.39L936.67 426.24L938.80 423.89L940.93 421.50L937.03 419.65L933.14 417.63L931.01 420.00z" fill="#46075a"/>
<path d="M948.73 424.97L952.65 426.57L956.57 428.10L958.68 425.72L960.78 423.33L956.87 421.77L952.96 420.18L950.85 422.58z" fill="#440256"/>
<path d="M810.85 366.01L814.69 368.37L818.53 370.75L820.80 368.79L823.07 367.00L819.23 364.54L815.40 362.07L813.13 363.95z" fill="#3e4a89"/>
<path d="M873.74 396.16L877.61 399.16L881.47 402.13L883.66 400.56L885.85 399.04L881.99 396.12L878.13 393.19L875.94 394.66z" fill="#482677"/>
<path d="M763.37 351.41L767.20 354.45L771.03 357.31L773.36 355.41L775.68 353.50L771.86 350.62L768.04 347.56L765.71 349.48z" fill="#375a8c"/>
<path d="M909.04 416.91L912.92 419.49L916.81 422.00L918.96 420.04L921.10 417.87L917.22 415.50L913.35 413.08L911.20 415.10z" fill="#470e61"/>
<path d="M838.43 375.78L842.28 378.39L846.14 381.25L848.38 379.62L850.61 378.10L846.76 375.23L842.92 372.62L840.68 374.15z" fill="#424086"/>
<path d="M790.95 362.03L794.78 364.02L798.61 366.08L800.90 363.85L803.19 361.64L799.37 359.66L795.55 357.78L793.25 359.92z" fill="#3c508b"/>
<path d="M881.47 402.13L885.34 405.11L889.21 408.17L891.39 406.60L893.57 405.07L889.71 402.01L885.85 399.04L883.66 400.56z" fill="#482173"/>
<path d="M936.67 426.24L940.58 428.01L944.50 429.69L946.62 427.35L948.73 424.97L944.83 423.28L940.93 421.50L938.80 423.89z" fill="#450457"/>
<path d="M771.03 357.31L774.85 359.84L778.68 362.05L781.00 360.11L783.32 358.17L779.50 356.02L775.68 353.50L773.36 355.41z" fill="#39558c"/>
<path d="M846.14 381.25L850.00 384.27L853.86 387.31L856.09 385.67L858.31 384.17L854.46 381.13L850.61 378.10L848.38 379.62z" fill="#443a83"/>
<path d="M818.53 370.75L822.37 373.00L826.22 375.09L828.48 373.20L830.74 371.45L826.90 369.32L823.07 367.00L820.80 368.79z" fill="#3f4788"/>
<path d="M681.91 208.86L685.82 214.04L689.90 224.34L693.09 244.30L696.29 265.41L692.16 252.12L688.16 243.26L685.01 225.04z" fill="#50c46a"/>
<path d="M916.81 422.00L920.70 424.41L924.59 426.66L926.73 424.60L928.87 422.36L924.99 420.17L921.10 417.87L918.96 420.04z" fill="#46085c"/>
<path d="M889.21 408.17L893.09 411.26L896.96 414.34L899.13 412.79L901.30 411.24L897.43 408.18L893.57 405.07L891.39 406.60z" fill="#481b6d"/>
<path d="M853.86 387.31L857.72 390.25L861.59 393.26L863.81 391.60L866.02 390.09L862.16 387.11L858.31 384.17L856.09 385.67z" fill="#463480"/>
<path d="M798.61 366.08L802.44 368.22L806.28 370.44L808.57 368.19L810.85 366.01L807.02 363.76L803.19 361.64L800.90 363.85z" fill="#3d4e8a"/>
<path d="M778.68 362.05L782.50 364.10L786.33 366.18L788.64 364.11L790.95 362.03L787.13 360.11L783.32 358.17L781.00 360.11z" fill="#3b528b"/>
<path d="M826.22 375.09L830.07 377.16L833.92 379.41L836.18 377.52L838.43 375.78L834.58 373.54L830.74 371.45L828.48 373.20z" fill="#404588"/>
<path d="M896.96 414.34L900.84 417.32L904.72 420.11L906.89 418.54L909.04 416.91L905.17 414.18L901.30 411.24L899.13 412.79z" fill="#481467"/>
<path d="M735.31 322.00L739.23 328.37L743.13 334.17L745.63 337.61L748.05 338.37L744.23 335.34L740.42 332.44L737.92 329.05z" fill="#2d708e"/>
<path d="M924.59 426.66L928.50 428.73L932.40 430.60L934.54 428.50L936.67 426.24L932.77 424.39L928.87 422.36L926.73 424.60z" fill="#450559"/>
<path d="M944.50 429.69L948.42 431.28L952.35 432.78L954.46 430.46L956.57 428.10L952.65 426.57L948.73 424.97L946.62 427.35z" fill="#440256"/>
<path d="M743.13 334.17L747.01 339.14L750.88 343.71L753.32 345.37L755.71 344.94L751.88 341.55L748.05 338.37L745.63 337.61z" fill="#31688e"/>
<path d="M861.59 393.26L865.45 396.34L869.33 399.44L871.54 397.73L873.74 396.16L869.88 393.13L866.02 390.09L863.81 391.60z" fill="#472f7d"/>
<path d="M727.42 307.76L731.37 315.16L735.31 322.00L737.92 329.05L740.42 332.44L736.61 329.57L732.80 326.60L730.18 319.38z" fill="#2a788e"/>
<path d="M750.88 343.71L754.74 347.88L758.60 351.64L761.00 352.35L763.37 351.41L759.54 348.29L755.71 344.94L753.32 345.37z" fill="#34618d"/>
<path d="M806.28 370.44L810.12 372.73L813.97 375.02L816.25 372.84L818.53 370.75L814.69 368.37L810.85 366.01L808.57 368.19z" fill="#3e4a89"/>
<path d="M719.46 291.75L723.44 299.86L727.42 307.76L730.18 319.38L732.80 326.60L728.99 323.50L725.18 320.29L722.40 308.42z" fill="#26828e"/>
<path d="M904.72 420.11L908.61 422.78L912.50 425.40L914.66 423.75L916.81 422.00L912.92 419.49L909.04 416.91L906.89 418.54z" fill="#470e61"/>
<path d="M869.33 399.44L873.20 402.50L877.07 405.51L879.28 403.76L881.47 402.13L877.61 399.16L873.74 396.16L871.54 397.73z" fill="#482979"/>
<path d="M833.92 379.41L837.78 382.07L841.65 385.03L843.90 383.05L846.14 381.25L842.28 378.39L838.43 375.78L836.18 377.52z" fill="#424086"/>
<path d="M758.60 351.64L762.45 355.15L766.29 358.38L768.68 358.48L771.03 357.31L767.20 354.45L763.37 351.41L761.00 352.35z" fill="#365c8d"/>
<path d="M786.33 366.18L790.16 368.33L794.00 370.52L796.31 368.31L798.61 366.08L794.78 364.02L790.95 362.03L788.64 364.11z" fill="#3c508b"/>
<path d="M711.49 276.01L715.47 283.73L719.46 291.75L722.40 308.42L725.18 320.29L721.37 317.05L717.56 313.85L714.61 297.42z" fill="#228d8d"/>
<path d="M932.40 430.60L936.32 432.38L940.24 434.08L942.37 431.95L944.50 429.69L940.58 428.01L936.67 426.24L934.54 428.50z" fill="#440256"/>
<path d="M877.07 405.51L880.95 408.50L884.83 411.55L887.03 409.80L889.21 408.17L885.34 405.11L881.47 402.13L879.28 403.76z" fill="#482374"/>
<path d="M683.89 197.21L688.59 224.09L693.76 265.65L697.08 290.15L699.88 300.21L695.29 273.14L689.90 224.34L686.76 206.49z" fill="#3fbc73"/>
<path d="M813.97 375.02L817.82 377.18L821.67 379.18L823.95 377.10L826.22 375.09L822.37 373.00L818.53 370.75L816.25 372.84z" fill="#3f4788"/>
<path d="M703.50 260.58L707.51 268.68L711.49 276.01L714.61 297.42L717.56 313.85L713.75 310.39L709.91 306.05L706.78 285.19z" fill="#1f988b"/>
<path d="M841.65 385.03L845.51 388.15L849.38 391.28L851.62 389.17L853.86 387.31L850.00 384.27L846.14 381.25L843.90 383.05z" fill="#443b84"/>
<path d="M912.50 425.40L916.40 427.90L920.30 430.25L922.45 428.52L924.59 426.66L920.70 424.41L916.81 422.00L914.66 423.75z" fill="#460a5d"/>
<path d="M766.29 358.38L770.13 361.23L773.97 363.73L776.34 363.39L778.68 362.05L774.85 359.84L771.03 357.31L768.68 358.48z" fill="#38588c"/>
<path d="M794.00 370.52L797.84 372.74L801.69 374.99L803.99 372.72L806.28 370.44L802.44 368.22L798.61 366.08L796.31 368.31z" fill="#3d4e8a"/>
<path d="M884.83 411.55L888.71 414.61L892.60 417.65L894.78 415.94L896.96 414.34L893.09 411.26L889.21 408.17L887.03 409.80z" fill="#481c6e"/>
<path d="M849.38 391.28L853.25 394.29L857.13 397.34L859.36 395.16L861.59 393.26L857.72 390.25L853.86 387.31L851.62 389.17z" fill="#453581"/>
<path d="M821.67 379.18L825.53 381.20L829.39 383.47L831.66 381.40L833.92 379.41L830.07 377.16L826.22 375.09L823.95 377.10z" fill="#404588"/>
<path d="M940.24 434.08L944.17 435.67L948.11 437.15L950.23 435.02L952.35 432.78L948.42 431.28L944.50 429.69L942.37 431.95z" fill="#440154"/>
<path d="M773.97 363.73L777.81 366.09L781.65 368.51L784.00 367.76L786.33 366.18L782.50 364.10L778.68 362.05L776.34 363.39z" fill="#3a548c"/>
<path d="M920.30 430.25L924.21 432.40L928.13 434.34L930.27 432.52L932.40 430.60L928.50 428.73L924.59 426.66L922.45 428.52z" fill="#450559"/>
<path d="M892.60 417.65L896.49 420.60L900.38 423.37L902.56 421.69L904.72 420.11L900.84 417.32L896.96 414.34L894.78 415.94z" fill="#481769"/>
<path d="M695.31 239.61L699.43 250.63L703.50 260.58L706.78 285.19L709.91 306.05L706.02 300.23L702.08 292.74L698.71 265.99z" fill="#21a685"/>
<path d="M857.13 397.34L861.00 400.45L864.88 403.56L867.11 401.37L869.33 399.44L865.45 396.34L861.59 393.26L859.36 395.16z" fill="#472f7d"/>
<path d="M801.69 374.99L805.54 377.25L809.39 379.47L811.68 377.24L813.97 375.02L810.12 372.73L806.28 370.44L803.99 372.72z" fill="#3e4a89"/>
<path d="M829.39 383.47L833.26 386.23L837.13 389.36L839.39 387.15L841.65 385.03L837.78 382.07L833.92 379.41L831.66 381.40z" fill="#424186"/>
<path d="M864.88 403.56L868.76 406.61L872.65 409.61L874.86 407.45L877.07 405.51L873.20 402.50L869.33 399.44L867.11 401.37z" fill="#482979"/>
<path d="M900.38 423.37L904.28 426.04L908.18 428.68L910.34 427.00L912.50 425.40L908.61 422.78L904.72 420.11L902.56 421.69z" fill="#471164"/>
<path d="M781.65 368.51L785.50 371.04L789.35 373.58L791.68 372.37L794.00 370.52L790.16 368.33L786.33 366.18L784.00 367.76z" fill="#3b518b"/>
<path d="M928.13 434.34L932.05 436.18L935.98 437.92L938.11 436.05L940.24 434.08L936.32 432.38L932.40 430.60L930.27 432.52z" fill="#450457"/>
<path d="M809.39 379.47L813.25 381.54L817.11 383.46L819.39 381.31L821.67 379.18L817.82 377.18L813.97 375.02L811.68 377.24z" fill="#3f4788"/>
<path d="M837.13 389.36L841.01 392.67L844.89 395.98L847.14 393.58L849.38 391.28L845.51 388.15L841.65 385.03L839.39 387.15z" fill="#443b84"/>
<path d="M746.03 342.85L749.92 347.63L753.79 351.93L756.18 351.01L758.60 351.64L754.74 347.88L750.88 343.71L748.43 342.26z" fill="#31688e"/>
<path d="M872.65 409.61L876.53 412.59L880.42 415.62L882.63 413.47L884.83 411.55L880.95 408.50L877.07 405.51L874.86 407.45z" fill="#482475"/>
<path d="M738.20 331.37L742.12 337.48L746.03 342.85L748.43 342.26L750.88 343.71L747.01 339.14L743.13 334.17L740.63 331.27z" fill="#2d718e"/>
<path d="M753.79 351.93L757.67 355.93L761.53 359.55L763.90 358.36L766.29 358.38L762.45 355.15L758.60 351.64L756.18 351.01z" fill="#34618d"/>
<path d="M908.18 428.68L912.08 431.24L915.99 433.66L918.15 431.93L920.30 430.25L916.40 427.90L912.50 425.40L910.34 427.00z" fill="#460b5e"/>
<path d="M789.35 373.58L793.21 376.10L797.06 378.58L799.38 377.00L801.69 374.99L797.84 372.74L794.00 370.52L791.68 372.37z" fill="#3d4e8a"/>
<path d="M844.89 395.98L848.77 399.14L852.65 402.27L854.89 399.74L857.13 397.34L853.25 394.29L849.38 391.28L847.14 393.58z" fill="#453581"/>
<path d="M880.42 415.62L884.31 418.67L888.21 421.69L890.41 419.56L892.60 417.65L888.71 414.61L884.83 411.55L882.63 413.47z" fill="#481d6f"/>
<path d="M761.53 359.55L765.39 362.70L769.24 365.45L771.60 364.12L773.97 363.73L770.13 361.23L766.29 358.38L763.90 358.36z" fill="#375b8d"/>
<path d="M730.25 315.59L734.24 323.89L738.20 331.37L740.63 331.27L743.13 334.17L739.23 328.37L735.31 322.00L732.72 316.33z" fill="#287d8e"/>
<path d="M817.11 383.46L820.97 385.42L824.84 387.70L827.12 385.58L829.39 383.47L825.53 381.20L821.67 379.18L819.39 381.31z" fill="#404588"/>
<path d="M935.98 437.92L939.91 439.54L943.86 441.02L945.98 439.13L948.11 437.15L944.17 435.67L940.24 434.08L938.11 436.05z" fill="#440256"/>
<path d="M852.65 402.27L856.53 405.41L860.42 408.50L862.65 405.96L864.88 403.56L861.00 400.45L857.13 397.34L854.89 399.74z" fill="#472f7d"/>
<path d="M915.99 433.66L919.91 435.89L923.83 437.92L925.98 436.10L928.13 434.34L924.21 432.40L920.30 430.25L918.15 431.93z" fill="#46075a"/>
<path d="M888.21 421.69L892.10 424.61L896.01 427.35L898.20 425.24L900.38 423.37L896.49 420.60L892.60 417.65L890.41 419.56z" fill="#481769"/>
<path d="M797.06 378.58L800.92 381.02L804.79 383.37L807.09 381.55L809.39 379.47L805.54 377.25L801.69 374.99L799.38 377.00z" fill="#3e4a89"/>
<path d="M686.96 215.23L691.15 227.68L695.31 239.61L698.71 265.99L702.08 292.74L698.05 282.83L693.76 265.65L690.26 237.06z" fill="#3fbc73"/>
<path d="M769.24 365.45L773.09 368.04L776.95 370.71L779.30 369.26L781.65 368.51L777.81 366.09L773.97 363.73L771.60 364.12z" fill="#38588c"/>
<path d="M860.42 408.50L864.31 411.52L868.20 414.47L870.43 411.98L872.65 409.61L868.76 406.61L864.88 403.56L862.65 405.96z" fill="#482979"/>
<path d="M824.84 387.70L828.72 390.56L832.60 393.83L834.87 391.59L837.13 389.36L833.26 386.23L829.39 383.47L827.12 385.58z" fill="#424186"/>
<path d="M896.01 427.35L899.91 429.99L903.82 432.62L906.00 430.53L908.18 428.68L904.28 426.04L900.38 423.37L898.20 425.24z" fill="#471164"/>
<path d="M722.20 297.32L726.24 306.75L730.25 315.59L732.72 316.33L735.31 322.00L731.37 315.16L727.42 307.76L724.72 298.95z" fill="#228d8d"/>
<path d="M832.60 393.83L836.48 397.33L840.37 400.82L842.63 398.42L844.89 395.98L841.01 392.67L837.13 389.36L834.87 391.59z" fill="#443a83"/>
<path d="M776.95 370.71L780.81 373.51L784.67 376.34L787.01 374.74L789.35 373.58L785.50 371.04L781.65 368.51L779.30 369.26z" fill="#3a538b"/>
<path d="M804.79 383.37L808.65 385.54L812.52 387.54L814.82 385.56L817.11 383.46L813.25 381.54L809.39 379.47L807.09 381.55z" fill="#3f4788"/>
<path d="M923.83 437.92L927.76 439.84L931.69 441.65L933.84 439.76L935.98 437.92L932.05 436.18L928.13 434.34L925.98 436.10z" fill="#450559"/>
<path d="M868.20 414.47L872.09 417.40L875.99 420.41L878.21 417.95L880.42 415.62L876.53 412.59L872.65 409.61L870.43 411.98z" fill="#482374"/>
<path d="M840.37 400.82L844.26 404.11L848.15 407.34L850.40 404.83L852.65 402.27L848.77 399.14L844.89 395.98L842.63 398.42z" fill="#463480"/>
<path d="M903.82 432.62L907.73 435.19L911.65 437.65L913.83 435.54L915.99 433.66L912.08 431.24L908.18 428.68L906.00 430.53z" fill="#470d60"/>
<path d="M741.24 346.27L745.15 351.18L749.04 355.59L751.42 353.67L753.79 351.93L749.92 347.63L746.03 342.85L743.64 344.45z" fill="#2f6b8e"/>
<path d="M749.04 355.59L752.92 359.67L756.79 363.34L759.16 361.37L761.53 359.55L757.67 355.93L753.79 351.93L751.42 353.67z" fill="#33638d"/>
<path d="M875.99 420.41L879.89 423.45L883.79 426.47L886.00 424.01L888.21 421.69L884.31 418.67L880.42 415.62L878.21 417.95z" fill="#481d6f"/>
<path d="M784.67 376.34L788.54 379.11L792.41 381.81L794.74 380.07L797.06 378.58L793.21 376.10L789.35 373.58L787.01 374.74z" fill="#3c4f8a"/>
<path d="M733.39 334.50L737.33 340.76L741.24 346.27L743.64 344.45L746.03 342.85L742.12 337.48L738.20 331.37L735.79 332.77z" fill="#2b748e"/>
<path d="M812.52 387.54L816.39 389.60L820.27 392.01L822.56 389.85L824.84 387.70L820.97 385.42L817.11 383.46L814.82 385.56z" fill="#404588"/>
<path d="M848.15 407.34L852.04 410.52L855.93 413.63L858.18 411.09L860.42 408.50L856.53 405.41L852.65 402.27L850.40 404.83z" fill="#472e7c"/>
<path d="M756.79 363.34L760.66 366.51L764.52 369.23L766.88 367.29L769.24 365.45L765.39 362.70L761.53 359.55L759.16 361.37z" fill="#365d8d"/>
<path d="M931.69 441.65L935.64 443.31L939.59 444.80L941.73 442.89L943.86 441.02L939.91 439.54L935.98 437.92L933.84 439.76z" fill="#440256"/>
<path d="M883.79 426.47L887.69 429.39L891.60 432.12L893.81 429.67L896.01 427.35L892.10 424.61L888.21 421.69L886.00 424.01z" fill="#481769"/>
<path d="M911.65 437.65L915.57 439.93L919.50 442.02L921.67 439.87L923.83 437.92L919.91 435.89L915.99 433.66L913.83 435.54z" fill="#46085c"/>
<path d="M792.41 381.81L796.28 384.45L800.15 386.97L802.47 385.11L804.79 383.37L800.92 381.02L797.06 378.58L794.74 380.07z" fill="#3e4c8a"/>
<path d="M714.07 277.25L718.14 287.35L722.20 297.32L724.72 298.95L727.42 307.76L723.44 299.86L719.46 291.75L716.63 279.75z" fill="#1f9f88"/>
<path d="M855.93 413.63L859.83 416.64L863.73 419.57L865.97 417.03L868.20 414.47L864.31 411.52L860.42 408.50L858.18 411.09z" fill="#482878"/>
<path d="M820.27 392.01L824.15 394.97L828.04 398.32L830.32 396.07L832.60 393.83L828.72 390.56L824.84 387.70L822.56 389.85z" fill="#424086"/>
<path d="M725.40 318.31L729.40 326.81L733.39 334.50L735.79 332.77L738.20 331.37L734.24 323.89L730.25 315.59L727.82 316.71z" fill="#26828e"/>
<path d="M764.52 369.23L768.38 371.78L772.24 374.41L774.60 372.52L776.95 370.71L773.09 368.04L769.24 365.45L766.88 367.29z" fill="#38598c"/>
<path d="M891.60 432.12L895.52 434.75L899.43 437.37L901.63 434.93L903.82 432.62L899.91 429.99L896.01 427.35L893.81 429.67z" fill="#471164"/>
<path d="M828.04 398.32L831.94 401.87L835.83 405.42L838.10 403.15L840.37 400.82L836.48 397.33L832.60 393.83L830.32 396.07z" fill="#443a83"/>
<path d="M863.73 419.57L867.63 422.48L871.53 425.46L873.76 422.93L875.99 420.41L872.09 417.40L868.20 414.47L865.97 417.03z" fill="#482173"/>
<path d="M676.19 191.20L679.99 193.04L683.89 197.21L686.76 206.49L689.90 224.34L685.82 214.04L681.91 208.86L678.93 196.45z" fill="#b8de29"/>
<path d="M800.15 386.97L804.03 389.30L807.90 391.45L810.21 389.48L812.52 387.54L808.65 385.54L804.79 383.37L802.47 385.11z" fill="#3f4889"/>
<path d="M919.50 442.02L923.44 444.00L927.38 445.86L929.54 443.67L931.69 441.65L927.76 439.84L923.83 437.92L921.67 439.87z" fill="#450559"/>
<path d="M772.24 374.41L776.11 377.21L779.99 380.04L782.33 378.17L784.67 376.34L780.81 373.51L776.95 370.71L774.60 372.52z" fill="#3a548c"/>
<path d="M835.83 405.42L839.73 408.77L843.62 412.05L845.89 409.75L848.15 407.34L844.26 404.11L840.37 400.82L838.10 403.15z" fill="#46337f"/>
<path d="M899.43 437.37L903.35 439.92L907.28 442.36L909.47 439.94L911.65 437.65L907.73 435.19L903.82 432.62L901.63 434.93z" fill="#470d60"/>
<path d="M871.53 425.46L875.44 428.49L879.35 431.50L881.57 428.98L883.79 426.47L879.89 423.45L875.99 420.41L873.76 422.93z" fill="#481c6e"/>
<path d="M736.49 351.60L740.38 355.78L744.25 359.03L746.65 357.47L749.04 355.59L745.15 351.18L741.24 346.27L738.85 348.09z" fill="#2f6b8e"/>
<path d="M728.68 342.39L732.59 347.42L736.49 351.60L738.85 348.09L741.24 346.27L737.33 340.76L733.39 334.50L730.98 336.25z" fill="#2c738e"/>
<path d="M744.25 359.03L748.14 363.14L752.03 366.83L754.42 365.26L756.79 363.34L752.92 359.67L749.04 355.59L746.65 357.47z" fill="#33638d"/>
<path d="M843.62 412.05L847.52 415.28L851.43 418.42L853.68 416.09L855.93 413.63L852.04 410.52L848.15 407.34L845.89 409.75z" fill="#472d7b"/>
<path d="M779.99 380.04L783.86 382.82L787.74 385.54L790.08 383.67L792.41 381.81L788.54 379.11L784.67 376.34L782.33 378.17z" fill="#3c508b"/>
<path d="M807.90 391.45L811.78 393.68L815.67 396.26L817.97 394.15L820.27 392.01L816.39 389.60L812.52 387.54L810.21 389.48z" fill="#404588"/>
<path d="M705.93 257.91L710.00 267.34L714.07 277.25L716.63 279.75L719.46 291.75L715.47 283.73L711.49 276.01L708.54 261.20z" fill="#2cb17e"/>
<path d="M717.31 299.65L721.36 309.28L725.40 318.31L727.82 316.71L730.25 315.59L726.24 306.75L722.20 297.32L719.75 298.16z" fill="#1f948c"/>
<path d="M879.35 431.50L883.26 434.42L887.18 437.15L889.39 434.63L891.60 432.12L887.69 429.39L883.79 426.47L881.57 428.98z" fill="#481668"/>
<path d="M752.03 366.83L755.90 370.00L759.77 372.71L762.15 371.13L764.52 369.23L760.66 366.51L756.79 363.34L754.42 365.26z" fill="#355e8d"/>
<path d="M927.38 445.86L931.33 447.55L935.29 449.00L937.44 446.82L939.59 444.80L935.64 443.31L931.69 441.65L929.54 443.67z" fill="#450457"/>
<path d="M907.28 442.36L911.21 444.63L915.15 446.71L917.33 444.32L919.50 442.02L915.57 439.93L911.65 437.65L909.47 439.94z" fill="#46085c"/>
<path d="M851.43 418.42L855.33 421.46L859.24 424.42L861.48 422.05L863.73 419.57L859.83 416.64L855.93 413.63L853.68 416.09z" fill="#482677"/>
<path d="M720.75 328.91L724.73 336.08L728.68 342.39L730.98 336.25L733.39 334.50L729.40 326.81L725.40 318.31L722.97 320.02z" fill="#26818e"/>
<path d="M787.74 385.54L791.62 388.21L795.50 390.78L797.83 388.88L800.15 386.97L796.28 384.45L792.41 381.81L790.08 383.67z" fill="#3e4c8a"/>
<path d="M815.67 396.26L819.56 399.33L823.46 402.74L825.76 400.54L828.04 398.32L824.15 394.97L820.27 392.01L817.97 394.15z" fill="#424086"/>
<path d="M759.77 372.71L763.64 375.24L767.51 377.86L769.88 376.27L772.24 374.41L768.38 371.78L764.52 369.23L762.15 371.13z" fill="#375a8c"/>
<path d="M887.18 437.15L891.10 439.78L895.02 442.38L897.23 439.87L899.43 437.37L895.52 434.75L891.60 432.12L889.39 434.63z" fill="#471164"/>
<path d="M859.24 424.42L863.15 427.34L867.06 430.34L869.30 427.94L871.53 425.46L867.63 422.48L863.73 419.57L861.48 422.05z" fill="#482173"/>
<path d="M823.46 402.74L827.37 406.31L831.27 409.85L833.55 407.63L835.83 405.42L831.94 401.87L828.04 398.32L825.76 400.54z" fill="#443983"/>
<path d="M915.15 446.71L919.09 448.69L923.04 450.55L925.21 448.18L927.38 445.86L923.44 444.00L919.50 442.02L917.33 444.32z" fill="#450559"/>
<path d="M678.65 193.13L682.70 201.04L686.96 215.23L690.26 237.06L693.76 265.65L688.59 224.09L683.89 197.21L681.23 194.08z" fill="#a2da37"/>
<path d="M795.50 390.78L799.38 393.17L803.26 395.40L805.59 393.43L807.90 391.45L804.03 389.30L800.15 386.97L797.83 388.88z" fill="#3f4889"/>
<path d="M831.27 409.85L835.17 413.20L839.08 416.48L841.35 414.27L843.62 412.05L839.73 408.77L835.83 405.42L833.55 407.63z" fill="#46337f"/>
<path d="M767.51 377.86L771.39 380.65L775.27 383.49L777.63 381.88L779.99 380.04L776.11 377.21L772.24 374.41L769.88 376.27z" fill="#39558c"/>
<path d="M697.85 241.34L701.89 249.60L705.93 257.91L708.54 261.20L711.49 276.01L707.51 268.68L703.50 260.58L700.48 244.80z" fill="#4ac16d"/>
<path d="M867.06 430.34L870.97 433.38L874.89 436.41L877.12 433.99L879.35 431.50L875.44 428.49L871.53 425.46L869.30 427.94z" fill="#481b6d"/>
<path d="M895.02 442.38L898.95 444.92L902.88 447.31L905.08 444.83L907.28 442.36L903.35 439.92L899.43 437.37L897.23 439.87z" fill="#460b5e"/>
<path d="M712.72 312.86L716.74 320.89L720.75 328.91L722.97 320.02L725.40 318.31L721.36 309.28L717.31 299.65L714.87 301.31z" fill="#20928c"/>
<path d="M839.08 416.48L842.99 419.71L846.90 422.86L849.16 420.66L851.43 418.42L847.52 415.28L843.62 412.05L841.35 414.27z" fill="#472c7a"/>
<path d="M709.13 279.20L713.23 289.50L717.31 299.65L719.75 298.16L722.20 297.32L718.14 287.35L714.07 277.25L711.59 277.82z" fill="#22a884"/>
<path d="M775.27 383.49L779.15 386.30L783.04 389.04L785.39 387.39L787.74 385.54L783.86 382.82L779.99 380.04L777.63 381.88z" fill="#3b518b"/>
<path d="M874.89 436.41L878.81 439.34L882.73 442.08L884.96 439.64L887.18 437.15L883.26 434.42L879.35 431.50L877.12 433.99z" fill="#481668"/>
<path d="M803.26 395.40L807.15 397.73L811.05 400.41L813.36 398.34L815.67 396.26L811.78 393.68L807.90 391.45L805.59 393.43z" fill="#404588"/>
<path d="M923.04 450.55L927.00 452.23L930.96 453.67L933.13 451.30L935.29 449.00L931.33 447.55L927.38 445.86L925.21 448.18z" fill="#450457"/>
<path d="M902.88 447.31L906.82 449.52L910.77 451.53L912.96 449.12L915.15 446.71L911.21 444.63L907.28 442.36L905.08 444.83z" fill="#46075a"/>
<path d="M846.90 422.86L850.81 425.93L854.72 428.92L856.98 426.69L859.24 424.42L855.33 421.46L851.43 418.42L849.16 420.66z" fill="#482677"/>
<path d="M811.05 400.41L814.95 403.59L818.86 407.10L821.16 404.92L823.46 402.74L819.56 399.33L815.67 396.26L813.36 398.34z" fill="#424086"/>
<path d="M783.04 389.04L786.92 391.76L790.81 394.39L793.16 392.67L795.50 390.78L791.62 388.21L787.74 385.54L785.39 387.39z" fill="#3d4d8a"/>
<path d="M882.73 442.08L886.66 444.72L890.59 447.33L892.81 444.87L895.02 442.38L891.10 439.78L887.18 437.15L884.96 439.64z" fill="#471063"/>
<path d="M854.72 428.92L858.64 431.88L862.56 434.94L864.81 432.66L867.06 430.34L863.15 427.34L859.24 424.42L856.98 426.69z" fill="#482071"/>
<path d="M689.67 222.75L693.76 231.99L697.85 241.34L700.48 244.80L703.50 260.58L699.43 250.63L695.31 239.61L692.31 225.73z" fill="#73d056"/>
<path d="M818.86 407.10L822.77 410.74L826.68 414.32L828.98 412.07L831.27 409.85L827.37 406.31L823.46 402.74L821.16 404.92z" fill="#443983"/>
<path d="M910.77 451.53L914.72 453.45L918.68 455.26L920.86 452.92L923.04 450.55L919.09 448.69L915.15 446.71L912.96 449.12z" fill="#450457"/>
<path d="M790.81 394.39L794.71 396.85L798.60 399.16L800.94 397.36L803.26 395.40L799.38 393.17L795.50 390.78L793.16 392.67z" fill="#3e4989"/>
<path d="M826.68 414.32L830.60 417.68L834.51 420.94L836.80 418.70L839.08 416.48L835.17 413.20L831.27 409.85L828.98 412.07z" fill="#46327e"/>
<path d="M890.59 447.33L894.53 449.85L898.47 452.20L900.68 449.77L902.88 447.31L898.95 444.92L895.02 442.38L892.81 444.87z" fill="#460a5d"/>
<path d="M704.60 294.59L708.68 304.38L712.72 312.86L714.87 301.31L717.31 299.65L713.23 289.50L709.13 279.20L706.67 280.80z" fill="#21a585"/>
<path d="M862.56 434.94L866.48 438.05L870.41 441.15L872.65 438.78L874.89 436.41L870.97 433.38L867.06 430.34L864.81 432.66z" fill="#481a6c"/>
<path d="M670.99 189.10L674.79 190.42L678.65 193.13L681.23 194.08L683.89 197.21L679.99 193.04L676.19 191.20L673.56 189.36z" fill="#eae51a"/>
<path d="M700.95 259.52L705.04 269.11L709.13 279.20L711.59 277.82L714.07 277.25L710.00 267.34L705.93 257.91L703.43 258.25z" fill="#3fbc73"/>
<path d="M834.51 420.94L838.43 424.15L842.35 427.29L844.62 425.07L846.90 422.86L842.99 419.71L839.08 416.48L836.80 418.70z" fill="#472c7a"/>
<path d="M870.41 441.15L874.34 444.15L878.27 446.95L880.50 444.51L882.73 442.08L878.81 439.34L874.89 436.41L872.65 438.78z" fill="#481467"/>
<path d="M798.60 399.16L802.50 401.58L806.40 404.36L808.73 402.46L811.05 400.41L807.15 397.73L803.26 395.40L800.94 397.36z" fill="#404688"/>
<path d="M918.68 455.26L922.64 456.92L926.61 458.40L928.79 456.04L930.96 453.67L927.00 452.23L923.04 450.55L920.86 452.92z" fill="#440256"/>
<path d="M898.47 452.20L902.42 454.34L906.37 456.25L908.57 453.90L910.77 451.53L906.82 449.52L902.88 447.31L900.68 449.77z" fill="#46075a"/>
<path d="M842.35 427.29L846.27 430.35L850.19 433.36L852.46 431.13L854.72 428.92L850.81 425.93L846.90 422.86L844.62 425.07z" fill="#482576"/>
<path d="M878.27 446.95L882.20 449.63L886.14 452.27L888.37 449.78L890.59 447.33L886.66 444.72L882.73 442.08L880.50 444.51z" fill="#470e61"/>
<path d="M806.40 404.36L810.31 407.66L814.23 411.28L816.55 409.26L818.86 407.10L814.95 403.59L811.05 400.41L808.73 402.46z" fill="#424086"/>
<path d="M696.98 291.87L700.78 293.02L704.60 294.59L706.67 280.80L709.13 279.20L705.04 269.11L700.95 259.52L698.47 261.07z" fill="#32b67a"/>
<path d="M681.56 206.89L685.60 214.35L689.67 222.75L692.31 225.73L695.31 239.61L691.15 227.68L686.96 215.23L684.17 208.35z" fill="#aadc32"/>
<path d="M850.19 433.36L854.11 436.38L858.04 439.52L860.30 437.21L862.56 434.94L858.64 431.88L854.72 428.92L852.46 431.13z" fill="#482071"/>
<path d="M814.23 411.28L818.15 415.03L822.08 418.68L824.38 416.55L826.68 414.32L822.77 410.74L818.86 407.10L816.55 409.26z" fill="#443983"/>
<path d="M906.37 456.25L910.33 458.09L914.29 459.83L916.49 457.56L918.68 455.26L914.72 453.45L910.77 451.53L908.57 453.90z" fill="#450457"/>
<path d="M886.14 452.27L890.09 454.78L894.03 457.10L896.25 454.63L898.47 452.20L894.53 449.85L890.59 447.33L888.37 449.78z" fill="#460a5d"/>
<path d="M692.83 242.81L696.89 251.10L700.95 259.52L703.43 258.25L705.93 257.91L701.89 249.60L697.85 241.34L695.33 241.61z" fill="#67cc5c"/>
<path d="M822.08 418.68L826.00 422.09L829.92 425.38L832.22 423.20L834.51 420.94L830.60 417.68L826.68 414.32L824.38 416.55z" fill="#46327e"/>
<path d="M858.04 439.52L861.97 442.73L865.91 445.95L868.16 443.53L870.41 441.15L866.48 438.05L862.56 434.94L860.30 437.21z" fill="#481a6c"/>
<path d="M829.92 425.38L833.84 428.60L837.77 431.77L840.06 429.54L842.35 427.29L838.43 424.15L834.51 420.94L832.22 423.20z" fill="#472c7a"/>
<path d="M865.91 445.95L869.84 449.06L873.78 451.95L876.03 449.43L878.27 446.95L874.34 444.15L870.41 441.15L868.16 443.53z" fill="#471365"/>
<path d="M914.29 459.83L918.27 461.47L922.24 463.03L924.43 460.73L926.61 458.40L922.64 456.92L918.68 455.26L916.49 457.56z" fill="#440256"/>
<path d="M894.03 457.10L897.99 459.18L901.95 461.02L904.16 458.61L906.37 456.25L902.42 454.34L898.47 452.20L896.25 454.63z" fill="#450559"/>
<path d="M673.58 194.82L677.54 199.90L681.56 206.89L684.17 208.35L686.96 215.23L682.70 201.04L678.65 193.13L676.11 193.78z" fill="#dfe318"/>
<path d="M837.77 431.77L841.70 434.90L845.63 438.00L847.91 435.64L850.19 433.36L846.27 430.35L842.35 427.29L840.06 429.54z" fill="#482576"/>
<path d="M665.90 190.72L669.71 192.16L673.58 194.82L676.11 193.78L678.65 193.13L674.79 190.42L670.99 189.10L668.44 189.77z" fill="#f6e620"/>
<path d="M873.78 451.95L877.72 454.69L881.67 457.35L883.91 454.79L886.14 452.27L882.20 449.63L878.27 446.95L876.03 449.43z" fill="#470d60"/>
<path d="M684.62 224.30L688.73 233.47L692.83 242.81L695.33 241.61L697.85 241.34L693.76 231.99L689.67 222.75L687.14 223.14z" fill="#95d840"/>
<path d="M687.84 246.01L692.15 261.17L696.98 291.87L698.47 261.07L700.95 259.52L696.89 251.10L692.83 242.81L690.34 244.33z" fill="#5ec962"/>
<path d="M845.63 438.00L849.57 441.15L853.50 444.44L855.78 441.89L858.04 439.52L854.11 436.38L850.19 433.36L847.91 435.64z" fill="#481f70"/>
<path d="M901.95 461.02L905.92 462.78L909.89 464.47L912.09 462.12L914.29 459.83L910.33 458.09L906.37 456.25L904.16 458.61z" fill="#450457"/>
<path d="M881.67 457.35L885.62 459.86L889.58 462.15L891.81 459.61L894.03 457.10L890.09 454.78L886.14 452.27L883.91 454.79z" fill="#46085c"/>
<path d="M853.50 444.44L857.44 447.79L861.38 451.11L863.65 448.43L865.91 445.95L861.97 442.73L858.04 439.52L855.78 441.89z" fill="#48186a"/>
<path d="M861.38 451.11L865.32 454.28L869.27 457.18L871.53 454.50L873.78 451.95L869.84 449.06L865.91 445.95L863.65 448.43z" fill="#471164"/>
<path d="M889.58 462.15L893.54 464.19L897.51 465.98L899.73 463.48L901.95 461.02L897.99 459.18L894.03 457.10L891.81 459.61z" fill="#450457"/>
<path d="M909.89 464.47L913.87 466.08L917.85 467.67L920.05 465.33L922.24 463.03L918.27 461.47L914.29 459.83L912.09 462.12z" fill="#440256"/>
<path d="M676.50 208.80L680.54 216.06L684.62 224.30L687.14 223.14L689.67 222.75L685.60 214.35L681.56 206.89L679.02 207.57z" fill="#c5e021"/>
<path d="M869.27 457.18L873.22 459.90L877.17 462.53L879.42 459.91L881.67 457.35L877.72 454.69L873.78 451.95L871.53 454.50z" fill="#460b5e"/>
<path d="M660.82 193.15L664.64 194.81L668.52 197.59L671.05 196.13L673.58 194.82L669.71 192.16L665.90 190.72L663.36 191.88z" fill="#fbe723"/>
<path d="M668.52 197.59L672.48 202.36L676.50 208.80L679.02 207.57L681.56 206.89L677.54 199.90L673.58 194.82L671.05 196.13z" fill="#eae51a"/>
<path d="M897.51 465.98L901.48 467.71L905.46 469.37L907.68 466.90L909.89 464.47L905.92 462.78L901.95 461.02L899.73 463.48z" fill="#440256"/>
<path d="M679.60 227.46L683.72 236.64L687.84 246.01L690.34 244.33L692.83 242.81L688.73 233.47L684.62 224.30L682.11 225.78z" fill="#98d83e"/>
<path d="M877.17 462.53L881.13 465.01L885.10 467.28L887.34 464.70L889.58 462.15L885.62 459.86L881.67 457.35L879.42 459.91z" fill="#46075a"/>
<path d="M885.10 467.28L889.06 469.31L893.04 471.10L895.28 468.52L897.51 465.98L893.54 464.19L889.58 462.15L887.34 464.70z" fill="#450457"/>
<path d="M905.46 469.37L909.45 470.96L913.44 472.50L915.65 470.06L917.85 467.67L913.87 466.08L909.89 464.47L907.68 466.90z" fill="#440154"/>
<path d="M671.45 211.94L675.51 219.20L679.60 227.46L682.11 225.78L684.62 224.30L680.54 216.06L676.50 208.80L673.97 210.27z" fill="#cae11f"/>
<path d="M655.72 196.00L659.57 197.91L663.46 200.85L665.99 199.15L668.52 197.59L664.64 194.81L660.82 193.15L658.27 194.51z" fill="#fde725"/>
<path d="M893.04 471.10L897.02 472.82L901.01 474.47L903.24 471.89L905.46 469.37L901.48 467.71L897.51 465.98L895.28 468.52z" fill="#440154"/>
<path d="M663.46 200.85L667.42 205.58L671.45 211.94L673.97 210.27L676.50 208.80L672.48 202.36L668.52 197.59L665.99 199.15z" fill="#efe51c"/>
<path d="M901.01 474.47L905.00 476.02L909.00 477.43L911.22 474.96L913.44 472.50L909.45 470.96L905.46 469.37L903.24 471.89z" fill="#440154"/>
</g></svg>
</body></html>
